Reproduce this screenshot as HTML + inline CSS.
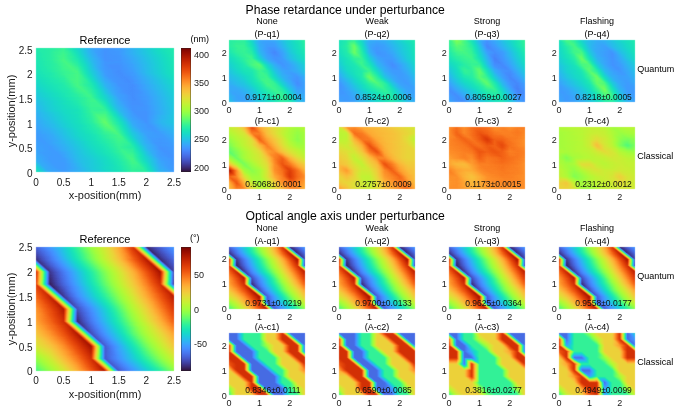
<!DOCTYPE html>
<html lang="en"><head><meta charset="utf-8"><title>Phase retardance and optical angle axis under perturbance</title>
<style>
html,body{margin:0;padding:0;background:#fff}
body{width:680px;height:411px;position:relative;overflow:hidden;font-family:"Liberation Sans",sans-serif;color:#1a1a1a}
.h{position:absolute;overflow:hidden}
.h i{display:block;width:100%;height:1px}
.g{filter:url(#t)}
.t{position:absolute;white-space:nowrap;line-height:1;transform:translate(-50%,0)}
.r{position:absolute;white-space:nowrap;line-height:1;transform:translate(-100%,0)}
.l{position:absolute;white-space:nowrap;line-height:1}
.v{position:absolute;white-space:nowrap;line-height:1;transform:translate(-50%,-50%) rotate(-90deg)}
</style></head>
<body>
<svg width="0" height="0" style="position:absolute" aria-hidden="true"><filter id="t" color-interpolation-filters="sRGB" x="-2%" y="-2%" width="104%" height="104%"><feComponentTransfer><feFuncR type="table" tableValues=".190 .195 .200 .204 .209 .213 .217 .221 .225 .229 .232 .236 .239 .242 .245 .248 .251 .254 .256 .259 .261 .263 .265 .267 .268 .270 .271 .272 .273 .274 .275 .276 .276 .277 .277 .277 .277 .277 .276 .276 .275 .275 .274 .273 .271 .269 .266 .263 .259 .254 .249 .244 .239 .233 .227 .220 .214 .207 .200 .193 .186 .179 .172 .165 .158 .152 .145 .139 .133 .127 .122 .116 .112 .107 .104 .100 .098 .095 .094 .093 .093 .093 .095 .097 .100 .103 .108 .114 .120 .127 .135 .144 .153 .163 .174 .185 .197 .209 .221 .234 .248 .262 .276 .290 .305 .320 .335 .350 .366 .381 .397 .412 .428 .443 .459 .474 .489 .504 .518 .533 .547 .560 .574 .586 .599 .611 .622 .633 .644 .654 .664 .675 .685 .695 .706 .716 .726 .736 .746 .756 .766 .776 .786 .795 .805 .814 .823 .832 .841 .850 .859 .867 .875 .883 .891 .899 .906 .913 .920 .927 .933 .939 .945 .950 .956 .960 .965 .969 .973 .977 .980 .983 .985 .988 .990 .992 .993 .994 .995 .996 .997 .997 .997 .996 .996 .995 .994 .993 .992 .990 .988 .986 .984 .981 .978 .975 .972 .969 .966 .962 .958 .954 .950 .945 .941 .936 .931 .926 .921 .916 .910 .905 .899 .893 .887 .881 .874 .868 .861 .854 .847 .839 .832 .824 .816 .808 .800 .791 .783 .774 .765 .756 .746 .737 .727 .717 .707 .697 .686 .675 .664 .653 .642 .631 .619 .607 .596 .583 .571 .559 .546 .533 .520 .507 .493 .480"/><feFuncG type="table" tableValues=".072 .083 .095 .107 .118 .129 .141 .152 .164 .175 .186 .197 .208 .219 .230 .241 .252 .263 .274 .285 .296 .306 .317 .328 .338 .349 .359 .370 .380 .390 .401 .411 .421 .431 .441 .452 .462 .472 .481 .491 .501 .511 .521 .530 .540 .550 .560 .570 .580 .589 .599 .609 .619 .629 .639 .649 .659 .669 .678 .688 .698 .707 .717 .726 .736 .745 .754 .763 .772 .780 .789 .797 .806 .814 .822 .830 .837 .845 .852 .859 .866 .872 .878 .885 .890 .896 .901 .907 .912 .917 .922 .927 .932 .936 .941 .945 .949 .953 .957 .961 .964 .968 .971 .974 .977 .980 .982 .985 .987 .989 .991 .993 .994 .996 .997 .998 .998 .999 .999 .999 .999 .999 .998 .997 .996 .995 .994 .992 .990 .988 .985 .982 .979 .976 .973 .969 .965 .960 .956 .951 .946 .941 .936 .930 .925 .919 .913 .906 .900 .893 .887 .880 .873 .866 .858 .851 .843 .836 .828 .820 .812 .804 .796 .788 .780 .772 .764 .755 .747 .738 .730 .721 .713 .703 .694 .684 .674 .664 .653 .643 .632 .621 .610 .598 .587 .575 .564 .552 .540 .529 .517 .505 .493 .481 .469 .457 .446 .434 .422 .411 .400 .388 .377 .366 .356 .345 .335 .325 .315 .305 .296 .287 .278 .270 .262 .253 .245 .237 .229 .222 .214 .207 .199 .192 .185 .178 .171 .164 .157 .150 .144 .137 .131 .125 .119 .113 .107 .101 .095 .090 .084 .079 .074 .069 .064 .059 .054 .049 .045 .040 .036 .032 .028 .024 .020 .016"/><feFuncB type="table" tableValues=".232 .261 .290 .318 .346 .373 .400 .426 .451 .476 .500 .524 .547 .569 .591 .613 .634 .654 .674 .693 .712 .730 .747 .764 .780 .796 .812 .826 .840 .854 .867 .879 .891 .903 .913 .923 .933 .942 .951 .959 .966 .973 .979 .985 .989 .993 .996 .998 .999 .999 .998 .997 .995 .992 .989 .984 .980 .974 .968 .962 .955 .948 .940 .932 .923 .914 .905 .895 .886 .876 .866 .856 .845 .835 .824 .814 .803 .793 .783 .772 .762 .752 .743 .733 .724 .715 .706 .697 .687 .676 .666 .654 .643 .631 .619 .607 .595 .582 .569 .556 .543 .530 .517 .503 .490 .477 .463 .450 .437 .424 .411 .398 .386 .373 .361 .350 .338 .327 .316 .306 .296 .286 .277 .268 .260 .253 .246 .239 .234 .228 .224 .220 .216 .213 .210 .208 .206 .205 .204 .203 .203 .203 .203 .204 .205 .206 .207 .208 .209 .211 .212 .214 .216 .217 .219 .220 .222 .223 .225 .226 .227 .227 .228 .228 .228 .228 .228 .227 .225 .224 .222 .219 .216 .214 .210 .207 .203 .200 .196 .192 .187 .183 .178 .174 .169 .164 .159 .154 .149 .144 .139 .134 .128 .123 .118 .113 .108 .103 .098 .093 .088 .084 .079 .075 .070 .066 .062 .058 .055 .051 .048 .045 .042 .040 .038 .035 .033 .031 .029 .027 .025 .023 .021 .020 .018 .017 .015 .014 .013 .011 .010 .009 .009 .008 .007 .006 .006 .005 .005 .004 .004 .004 .004 .004 .004 .004 .005 .005 .005 .006 .006 .007 .008 .009 .010 .011"/></feComponentTransfer><feConvolveMatrix order="3" divisor="1" edgeMode="none" preserveAlpha="false" kernelMatrix="0.0113 0.0838 0.0113 0.0838 0.6193 0.0838 0.0113 0.0838 0.0113"/></filter></svg>
<span class="t" style="left:345.20px;top:3.67px;font-size:12.20px;color:#000">Phase retardance under perturbance</span>
<span class="t" style="left:345.20px;top:210.27px;font-size:12.20px;color:#000">Optical angle axis under perturbance</span>
<div class="h g" style="left:36px;top:48px;width:138px;height:124px"><i style="background:linear-gradient(90deg,#595959 0,#5c5c5c 14.4px,#616161 28.2px,#383838 55.8px,#303030 69.6px,#333 83.4px,#525252 124.8px,#595959)"></i><i style="background:linear-gradient(90deg,#595959 0,#5d5d5d 15.5px,#626262 27.6px,#373737 56.9px,#303030 70.7px,#343434 84.5px,#525252 125.9px,#595959)"></i><i style="background:linear-gradient(90deg,#595959 0,#5c5c5c 13.8px,#626262 27.6px,#5f5f5f 30.4px,#3a3a3a 55.2px,#373737 58px,#303030 69px,#343434 85.6px,#535353 127px,#595959)"></i><i style="background:linear-gradient(90deg,#595959 0,#5c5c5c 13.8px,#5f5f5f 17.7px,#626262 27.6px,#5f5f5f 31.5px,#505050 41.4px,#494949 45.3px,#3a3a3a 55.2px,#363636 59.1px,#303030 69px,#323232 82.8px,#535353 128.1px,#595959)"></i><i style="background:linear-gradient(90deg,#585858 0,#5c5c5c 13.8px,#606060 18.8px,#636363 27.6px,#5e5e5e 32.6px,#515151 41.4px,#484848 46.4px,#3b3b3b 55.2px,#353535 60.2px,#303030 69px,#323232 82.8px,#535353 129.2px,#585858)"></i><i style="background:linear-gradient(90deg,#585858 0,#5c5c5c 13.8px,#606060 19.9px,#636363 27.6px,#5e5e5e 33.7px,#525252 41.4px,#474747 47.5px,#3b3b3b 55.2px,#353535 61.3px,#303030 69px,#323232 82.8px,#545454 130.3px,#585858)"></i><i style="background:linear-gradient(90deg,#585858 0,#5c5c5c 13.8px,#616161 21px,#646464 27.6px,#5d5d5d 34.8px,#535353 41.4px,#464646 48.6px,#3c3c3c 55.2px,#343434 62.4px,#303030 69px,#323232 82.8px,#454545 110.4px,#585858)"></i><i style="background:linear-gradient(90deg,#585858 0,#5c5c5c 13.8px,#626262 22.1px,#646464 27.6px,#5c5c5c 35.9px,#545454 41.4px,#454545 49.7px,#3d3d3d 55.2px,#333 63.5px,#303030 69px,#313131 82.8px,#404040 104.9px,#585858)"></i><i style="background:linear-gradient(90deg,#585858 0,#5c5c5c 13.8px,#636363 23.3px,#646464 27.6px,#5c5c5c 37.1px,#555 41.4px,#444 50.9px,#3d3d3d 55.2px,#333 64.7px,#303030 69px,#313131 82.8px,#3a3a3a 96.6px,#585858)"></i><i style="background:linear-gradient(90deg,#575757 0,#5c5c5c 13.8px,#656565 27.6px,#5b5b5b 38.2px,#3e3e3e 55.2px,#323232 65.8px,#303030 69px,#313131 82.8px,#393939 96.6px,#575757)"></i><i style="background:linear-gradient(90deg,#575757 0,#5c5c5c 13.8px,#656565 27.6px,#575757 41.4px,#3f3f3f 55.2px,#303030 69px,#313131 82.8px,#393939 96.6px,#575757)"></i><i style="background:linear-gradient(90deg,#575757 0,#5c5c5c 13.8px,#666 27.6px,#585858 41.4px,#3f3f3f 55.2px,#303030 69px,#313131 82.8px,#383838 96.6px,#575757)"></i><i style="background:linear-gradient(90deg,#575757 0,#5c5c5c 13.9px,#666 27.7px,#595959 41.5px,#404040 55.3px,#303030 69.1px,#303030 82.9px,#383838 96.7px,#575757)"></i><i style="background:linear-gradient(90deg,#565656 0,#5c5c5c 15px,#666 28.8px,#5a5a5a 41.4px,#3f3f3f 56.4px,#303030 70.2px,#313131 84px,#393939 97.8px,#565656)"></i><i style="background:linear-gradient(90deg,#565656 0,#5d5d5d 16.1px,#666 29.9px,#5b5b5b 41.4px,#3e3e3e 57.5px,#313131 69px,#313131 85.1px,#393939 98.9px,#565656)"></i><i style="background:linear-gradient(90deg,#565656 0,#5d5d5d 17.2px,#666 31.1px,#5c5c5c 41.4px,#3d3d3d 58.6px,#313131 69px,#303030 82.8px,#373737 96.6px,#565656)"></i><i style="background:linear-gradient(90deg,#565656 0,#5d5d5d 18.4px,#646464 27.6px,#666 32.2px,#5d5d5d 41.4px,#3c3c3c 59.8px,#313131 69px,#303030 73.6px,#303030 82.8px,#363636 96.6px,#565656)"></i><i style="background:linear-gradient(90deg,#565656 0,#5e5e5e 19.5px,#646464 27.6px,#666 33.3px,#5e5e5e 41.4px,#444 55.2px,#3b3b3b 60.9px,#313131 69px,#2f2f2f 74.7px,#2f2f2f 82.8px,#363636 96.6px,#565656)"></i><i style="background:linear-gradient(90deg,#555 0,#5e5e5e 20.6px,#636363 27.6px,#666 34.4px,#606060 41.4px,#454545 55.2px,#393939 62px,#323232 69px,#2f2f2f 75.8px,#2f2f2f 82.8px,#363636 96.6px,#505050 131px,#555)"></i><i style="background:linear-gradient(90deg,#555 0,#5f5f5f 21.7px,#636363 27.6px,#666 35.5px,#616161 41.4px,#464646 55.2px,#383838 63.1px,#323232 69px,#2f2f2f 76.9px,#2f2f2f 82.8px,#353535 96.6px,#474747 118.3px,#555)"></i><i style="background:linear-gradient(90deg,#555 0,#5f5f5f 22.8px,#636363 27.6px,#666 36.6px,#626262 41.4px,#464646 55.2px,#373737 64.2px,#323232 69px,#2f2f2f 78px,#2f2f2f 82.8px,#353535 96.6px,#474747 119.4px,#555)"></i><i style="background:linear-gradient(90deg,#555 0,#5a5a5a 13.8px,#626262 27.6px,#666 37.7px,#636363 41.4px,#474747 55.2px,#363636 65.3px,#323232 69px,#2f2f2f 82.8px,#343434 96.6px,#404040 110.4px,#555)"></i><i style="background:linear-gradient(90deg,#555 0,#5a5a5a 13.8px,#626262 27.6px,#666 38.8px,#646464 41.4px,#484848 55.2px,#353535 66.4px,#333 69px,#2e2e2e 82.8px,#343434 96.6px,#404040 110.4px,#555)"></i><i style="background:linear-gradient(90deg,#545454 0,#5a5a5a 13.8px,#616161 27.6px,#666 40px,#656565 41.4px,#494949 55.2px,#333 69px,#2e2e2e 82.8px,#343434 96.6px,#404040 110.4px,#545454)"></i><i style="background:linear-gradient(90deg,#545454 0,#595959 13.8px,#616161 27.6px,#666 41.4px,#4a4a4a 55.2px,#333 69px,#2e2e2e 82.8px,#333 96.6px,#404040 110.4px,#545454)"></i><i style="background:linear-gradient(90deg,#545454 0,#595959 14.6px,#616161 28.4px,#656565 42.2px,#494949 56px,#333 69.8px,#2e2e2e 83.6px,#333 97.4px,#404040 111.2px,#545454)"></i><i style="background:linear-gradient(90deg,#535353 0,#595959 15.7px,#626262 29.5px,#666 41.4px,#646464 43.3px,#484848 57.1px,#343434 69px,#2e2e2e 84.7px,#343434 98.5px,#404040 112.3px,#535353)"></i><i style="background:linear-gradient(90deg,#525252 0,#5f5f5f 27.6px,#626262 30.6px,#666 41.4px,#636363 44.4px,#474747 58.2px,#353535 69px,#323232 72px,#2e2e2e 85.8px,#343434 99.6px,#404040 113.4px,#525252)"></i><i style="background:linear-gradient(90deg,#525252 0,#5f5f5f 27.6px,#626262 31.7px,#666 41.4px,#626262 45.5px,#464646 59.3px,#363636 69px,#323232 73.1px,#2e2e2e 86.9px,#313131 96.6px,#4b4b4b 128.3px,#525252)"></i><i style="background:linear-gradient(90deg,#515151 0,#5e5e5e 27.6px,#636363 32.8px,#666 41.4px,#616161 46.6px,#454545 60.4px,#373737 69px,#323232 74.2px,#2e2e2e 88px,#313131 96.6px,#4b4b4b 129.4px,#515151)"></i><i style="background:linear-gradient(90deg,#515151 0,#5d5d5d 27.6px,#636363 33.9px,#666 41.4px,#606060 47.7px,#444 61.5px,#383838 69px,#323232 75.3px,#2e2e2e 89.1px,#313131 96.6px,#515151)"></i><i style="background:linear-gradient(90deg,#505050 0,#5d5d5d 27.6px,#646464 35.1px,#666 41.4px,#5f5f5f 48.9px,#434343 62.7px,#393939 69px,#323232 76.5px,#2e2e2e 90.3px,#303030 96.6px,#505050)"></i><i style="background:linear-gradient(90deg,#4f4f4f 0,#5c5c5c 27.6px,#646464 36.2px,#666 41.4px,#5e5e5e 50px,#424242 63.8px,#393939 69px,#313131 77.6px,#2e2e2e 91.4px,#303030 96.6px,#4f4f4f)"></i><i style="background:linear-gradient(90deg,#4f4f4f 0,#565656 13.8px,#5c5c5c 27.6px,#646464 37.3px,#666 41.4px,#5d5d5d 51.1px,#414141 64.9px,#3a3a3a 69px,#313131 78.7px,#2e2e2e 92.5px,#2f2f2f 96.6px,#4f4f4f)"></i><i style="background:linear-gradient(90deg,#4e4e4e 0,#555 13.8px,#5b5b5b 27.6px,#656565 38.4px,#666 41.4px,#5c5c5c 52.2px,#3b3b3b 69px,#313131 79.8px,#2e2e2e 93.6px,#3a3a3a 110.4px,#4e4e4e)"></i><i style="background:linear-gradient(90deg,#4e4e4e 0,#555 13.8px,#5a5a5a 27.6px,#666 41.4px,#5b5b5b 53.3px,#3c3c3c 69px,#303030 82.8px,#2f2f2f 96.6px,#4e4e4e)"></i><i style="background:linear-gradient(90deg,#4d4d4d 0,#545454 13.8px,#5a5a5a 27.6px,#666 41.4px,#585858 55.2px,#3d3d3d 69px,#303030 82.8px,#2e2e2e 96.6px,#4d4d4d)"></i><i style="background:linear-gradient(90deg,#4c4c4c 0,#545454 14.1px,#595959 27.9px,#666 41.7px,#595959 55.5px,#3d3d3d 69.3px,#303030 83.1px,#2e2e2e 96.9px,#4c4c4c)"></i><i style="background:linear-gradient(90deg,#4c4c4c 0,#545454 15.2px,#5a5a5a 29px,#666 42.8px,#585858 56.6px,#3c3c3c 70.4px,#303030 84.2px,#2e2e2e 98px,#4c4c4c)"></i><i style="background:linear-gradient(90deg,#4b4b4b 0,#545454 16.4px,#5a5a5a 30.2px,#666 44px,#5b5b5b 55.2px,#3c3c3c 71.6px,#303030 85.4px,#2e2e2e 96.6px,#4c4c4c)"></i><i style="background:linear-gradient(90deg,#4a4a4a 0,#545454 17.5px,#5a5a5a 31.3px,#656565 45.1px,#5c5c5c 55.2px,#3b3b3b 72.7px,#303030 86.5px,#2e2e2e 96.6px,#373737 110.4px,#4b4b4b)"></i><i style="background:linear-gradient(90deg,#4a4a4a 0,#545454 18.6px,#5a5a5a 32.4px,#626262 41.4px,#656565 46.2px,#5d5d5d 55.2px,#555 60px,#434343 69px,#3b3b3b 73.8px,#323232 82.8px,#303030 87.6px,#2e2e2e 96.6px,#303030 101.4px,#4b4b4b)"></i><i style="background:linear-gradient(90deg,#494949 0,#545454 19.7px,#5a5a5a 33.5px,#626262 41.4px,#656565 47.3px,#5e5e5e 55.2px,#545454 61.1px,#444 69px,#3a3a3a 74.9px,#333 82.8px,#2f2f2f 88.7px,#2e2e2e 96.6px,#303030 102.5px,#4a4a4a)"></i><i style="background:linear-gradient(90deg,#494949 0,#5b5b5b 34.6px,#616161 41.4px,#656565 48.4px,#5e5e5e 55.2px,#535353 62.2px,#454545 69px,#393939 76px,#333 82.8px,#2f2f2f 89.8px,#2e2e2e 96.6px,#303030 103.6px,#4a4a4a)"></i><i style="background:linear-gradient(90deg,#484848 0,#5b5b5b 35.7px,#606060 41.4px,#646464 49.5px,#5f5f5f 55.2px,#525252 63.3px,#464646 69px,#393939 77.1px,#333 82.8px,#2f2f2f 90.9px,#2e2e2e 96.6px,#313131 104.7px,#494949)"></i><i style="background:linear-gradient(90deg,#474747 0,#5b5b5b 36.8px,#5f5f5f 41.4px,#646464 50.6px,#606060 55.2px,#515151 64.4px,#474747 69px,#383838 78.2px,#343434 82.8px,#2f2f2f 92px,#2e2e2e 96.6px,#313131 105.8px,#494949)"></i><i style="background:linear-gradient(90deg,#474747 0,#5b5b5b 38px,#646464 51.8px,#616161 55.2px,#373737 79.3px,#2f2f2f 93.2px,#2e2e2e 96.6px,#343434 110.4px,#494949)"></i><i style="background:linear-gradient(90deg,#464646 0,#646464 52.9px,#626262 55.2px,#373737 80.5px,#2e2e2e 96.6px,#343434 110.4px,#484848)"></i><i style="background:linear-gradient(90deg,#464646 0,#646464 54px,#353535 82.8px,#2e2e2e 96.6px,#333 110.4px,#484848)"></i><i style="background:linear-gradient(90deg,#454545 0,#636363 55.2px,#363636 82.8px,#2e2e2e 96.6px,#333 110.4px,#474747)"></i><i style="background:linear-gradient(90deg,#444 0,#636363 56.2px,#353535 83.8px,#2e2e2e 97.6px,#343434 111.4px,#474747)"></i><i style="background:linear-gradient(90deg,#444 0,#636363 55.2px,#636363 57.3px,#505050 69px,#4b4b4b 71.1px,#353535 84.9px,#2e2e2e 98.7px,#343434 112.5px,#474747)"></i><i style="background:linear-gradient(90deg,#434343 0,#5a5a5a 41.4px,#636363 55.2px,#636363 58.4px,#515151 69px,#4a4a4a 72.2px,#383838 82.8px,#343434 86px,#2e2e2e 96.6px,#323232 110.4px,#474747)"></i><i style="background:linear-gradient(90deg,#424242 0,#595959 41.4px,#5d5d5d 45.7px,#636363 55.2px,#636363 59.5px,#535353 69px,#484848 73.3px,#393939 82.8px,#343434 87.1px,#2f2f2f 96.6px,#2f2f2f 100.9px,#323232 110.4px,#474747)"></i><i style="background:linear-gradient(90deg,#424242 0,#595959 41.4px,#5e5e5e 46.9px,#626262 55.2px,#626262 60.7px,#555 69px,#474747 74.5px,#3a3a3a 82.8px,#343434 88.3px,#2f2f2f 96.6px,#2f2f2f 102.1px,#323232 110.4px,#464646)"></i><i style="background:linear-gradient(90deg,#414141 0,#525252 27.6px,#585858 41.4px,#5e5e5e 48px,#626262 55.2px,#626262 61.8px,#565656 69px,#464646 75.6px,#3a3a3a 82.8px,#333 89.4px,#2f2f2f 96.6px,#2f2f2f 103.2px,#323232 110.4px,#464646)"></i><i style="background:linear-gradient(90deg,#414141 0,#4e4e4e 21.5px,#585858 41.4px,#5f5f5f 49.1px,#626262 55.2px,#626262 62.9px,#585858 69px,#454545 76.7px,#3b3b3b 82.8px,#333 90.5px,#2f2f2f 96.6px,#2f2f2f 104.3px,#323232 110.4px,#464646)"></i><i style="background:linear-gradient(90deg,#404040 0,#4e4e4e 22.6px,#575757 41.4px,#5f5f5f 50.2px,#626262 55.2px,#626262 64px,#595959 69px,#444 77.8px,#3c3c3c 82.8px,#323232 91.6px,#303030 96.6px,#303030 105.4px,#313131 110.4px,#464646)"></i><i style="background:linear-gradient(90deg,#3f3f3f 0,#494949 13.8px,#505050 27.6px,#565656 41.4px,#5f5f5f 51.3px,#626262 55.2px,#626262 65.1px,#5b5b5b 69px,#434343 78.9px,#3d3d3d 82.8px,#323232 92.7px,#303030 96.6px,#303030 106.5px,#313131 110.4px,#464646)"></i><i style="background:linear-gradient(90deg,#3f3f3f 0,#484848 13.8px,#505050 27.6px,#565656 41.4px,#616161 55.2px,#616161 66.2px,#5d5d5d 69px,#424242 80px,#3e3e3e 82.8px,#313131 93.8px,#303030 96.6px,#313131 110.4px,#454545)"></i><i style="background:linear-gradient(90deg,#3e3e3e 0,#484848 13.8px,#505050 27.6px,#555 41.4px,#616161 55.2px,#616161 67.3px,#5e5e5e 69px,#414141 81.1px,#303030 96.6px,#313131 110.4px,#454545)"></i><i style="background:linear-gradient(90deg,#3e3e3e 0,#484848 13.8px,#4f4f4f 27.6px,#545454 41.4px,#616161 55.2px,#606060 69px,#3f3f3f 82.8px,#303030 96.6px,#313131 110.4px,#454545)"></i><i style="background:linear-gradient(90deg,#3d3d3d 0,#484848 14.4px,#4f4f4f 28.2px,#545454 42px,#616161 55.8px,#606060 69.6px,#3f3f3f 83.4px,#303030 97.2px,#313131 111px,#454545)"></i><i style="background:linear-gradient(90deg,#3d3d3d 0,#484848 15.5px,#4f4f4f 29.3px,#555 43.1px,#626262 56.9px,#626262 69px,#606060 70.7px,#3f3f3f 84.5px,#303030 98.3px,#303030 110.4px,#454545)"></i><i style="background:linear-gradient(90deg,#3c3c3c 0,#4e4e4e 27.6px,#565656 44.2px,#636363 58px,#636363 69px,#5f5f5f 71.8px,#3e3e3e 85.6px,#323232 96.6px,#303030 99.4px,#303030 110.4px,#454545)"></i><i style="background:linear-gradient(90deg,#3c3c3c 0,#4e4e4e 27.6px,#565656 45.3px,#5f5f5f 55.2px,#646464 59.1px,#646464 69px,#5e5e5e 72.9px,#3e3e3e 86.7px,#333 96.6px,#303030 100.5px,#303030 110.4px,#454545)"></i><i style="background:linear-gradient(90deg,#3b3b3b 0,#4d4d4d 27.6px,#535353 41.4px,#5f5f5f 55.2px,#666 60.2px,#666 69px,#5d5d5d 74px,#3d3d3d 87.8px,#333 96.6px,#303030 101.6px,#303030 110.4px,#454545)"></i><i style="background:linear-gradient(90deg,#3b3b3b 0,#4d4d4d 27.6px,#535353 41.4px,#5f5f5f 55.2px,#676767 61.3px,#676767 69px,#5c5c5c 75.1px,#3c3c3c 88.9px,#343434 96.6px,#303030 102.7px,#303030 110.4px,#3c3c3c 124.2px,#454545)"></i><i style="background:linear-gradient(90deg,#3b3b3b 0,#505050 34.8px,#535353 41.4px,#5e5e5e 55.2px,#686868 62.4px,#686868 69px,#5c5c5c 76.2px,#3c3c3c 90px,#343434 96.6px,#303030 103.8px,#303030 110.4px,#3c3c3c 124.2px,#454545)"></i><i style="background:linear-gradient(90deg,#3a3a3a 0,#515151 35.9px,#535353 41.4px,#5e5e5e 55.2px,#696969 63.5px,#696969 69px,#5b5b5b 77.3px,#3b3b3b 91.1px,#353535 96.6px,#303030 104.9px,#303030 110.4px,#3c3c3c 124.2px,#454545)"></i><i style="background:linear-gradient(90deg,#3a3a3a 0,#424242 13.8px,#4c4c4c 27.6px,#525252 41.4px,#5d5d5d 55.2px,#6a6a6a 64.7px,#6a6a6a 69px,#5a5a5a 78.5px,#3b3b3b 92.3px,#363636 96.6px,#303030 106.1px,#303030 110.4px,#3c3c3c 124.2px,#454545)"></i><i style="background:linear-gradient(90deg,#393939 0,#424242 13.8px,#4b4b4b 27.6px,#525252 41.4px,#5d5d5d 55.2px,#6b6b6b 65.8px,#6b6b6b 69px,#595959 79.6px,#3a3a3a 93.4px,#363636 96.6px,#303030 107.2px,#303030 110.4px,#3d3d3d 124.2px,#454545)"></i><i style="background:linear-gradient(90deg,#393939 0,#414141 13.8px,#4b4b4b 27.6px,#525252 41.4px,#5d5d5d 55.2px,#6c6c6c 66.9px,#6c6c6c 69px,#585858 80.7px,#393939 94.5px,#303030 108.3px,#303030 110.4px,#3d3d3d 124.2px,#454545)"></i><i style="background:linear-gradient(90deg,#383838 0,#404040 13.8px,#4a4a4a 27.6px,#525252 41.4px,#5c5c5c 55.2px,#6d6d6d 68px,#6d6d6d 69px,#555 82.8px,#393939 95.6px,#303030 110.4px,#3d3d3d 124.2px,#454545)"></i><i style="background:linear-gradient(90deg,#383838 0,#404040 13.9px,#4a4a4a 27.7px,#525252 41.5px,#5c5c5c 55.3px,#6e6e6e 69.1px,#575757 82.9px,#383838 96.7px,#303030 110.5px,#3d3d3d 124.3px,#454545)"></i><i style="background:linear-gradient(90deg,#383838 0,#404040 15px,#4a4a4a 28.8px,#525252 42.6px,#5c5c5c 56.4px,#6d6d6d 70.2px,#555 84px,#393939 96.6px,#313131 111.6px,#3d3d3d 125.4px,#444)"></i><i style="background:linear-gradient(90deg,#373737 0,#404040 16.1px,#4a4a4a 29.9px,#525252 43.7px,#5c5c5c 57.5px,#6b6b6b 69px,#6c6c6c 71.3px,#595959 82.8px,#3b3b3b 96.6px,#383838 98.9px,#313131 112.7px,#3d3d3d 126.5px,#434343)"></i><i style="background:linear-gradient(90deg,#373737 0,#404040 17.2px,#4b4b4b 31.1px,#525252 44.9px,#5c5c5c 58.6px,#6a6a6a 69px,#6c6c6c 72.5px,#5b5b5b 82.8px,#3c3c3c 96.6px,#373737 100px,#313131 113.8px,#3d3d3d 127.7px,#424242)"></i><i style="background:linear-gradient(90deg,#363636 0,#414141 18.4px,#4b4b4b 32.2px,#525252 46px,#5d5d5d 59.8px,#696969 69px,#6b6b6b 73.6px,#5c5c5c 82.8px,#3d3d3d 96.6px,#373737 101.2px,#323232 110.4px,#313131 115px,#3a3a3a 124.2px,#414141)"></i><i style="background:linear-gradient(90deg,#363636 0,#3d3d3d 13.8px,#4b4b4b 33.3px,#595959 55.2px,#5d5d5d 60.9px,#676767 69px,#6b6b6b 74.7px,#5d5d5d 82.8px,#3e3e3e 96.6px,#373737 102.3px,#333 110.4px,#313131 116.1px,#393939 124.2px,#414141)"></i><i style="background:linear-gradient(90deg,#363636 0,#3c3c3c 13.8px,#4f4f4f 41.4px,#5d5d5d 62px,#666 69px,#6a6a6a 75.8px,#5e5e5e 82.8px,#404040 96.6px,#373737 103.4px,#333 110.4px,#323232 117.2px,#383838 124.2px,#404040)"></i><i style="background:linear-gradient(90deg,#353535 0,#3b3b3b 13.8px,#4f4f4f 41.4px,#5d5d5d 63.1px,#656565 69px,#696969 76.9px,#5f5f5f 82.8px,#414141 96.6px,#373737 104.5px,#333 110.4px,#323232 118.3px,#373737 124.2px,#3f3f3f)"></i><i style="background:linear-gradient(90deg,#353535 0,#3b3b3b 13.8px,#4e4e4e 41.4px,#5d5d5d 64.2px,#646464 69px,#696969 78px,#616161 82.8px,#424242 96.6px,#363636 105.6px,#343434 110.4px,#323232 119.4px,#373737 124.2px,#3e3e3e)"></i><i style="background:linear-gradient(90deg,#343434 0,#3a3a3a 13.8px,#4e4e4e 41.4px,#565656 55.2px,#5e5e5e 65.3px,#626262 69px,#686868 79.1px,#626262 82.8px,#434343 96.6px,#363636 106.7px,#323232 120.5px,#3b3b3b 134.3px,#3d3d3d)"></i><i style="background:linear-gradient(90deg,#343434 0,#3a3a3a 13.8px,#4d4d4d 41.4px,#565656 55.2px,#5e5e5e 66.4px,#616161 69px,#676767 80.2px,#636363 82.8px,#454545 96.6px,#363636 107.8px,#333 121.6px,#3d3d3d)"></i><i style="background:linear-gradient(90deg,#343434 0,#393939 13.8px,#4d4d4d 41.4px,#555 55.2px,#606060 69px,#676767 81.4px,#464646 96.6px,#353535 110.4px,#333 122.8px,#3c3c3c)"></i><i style="background:linear-gradient(90deg,#333 0,#383838 13.8px,#4d4d4d 41.4px,#545454 55.2px,#5f5f5f 69px,#666 82.8px,#474747 96.6px,#353535 110.4px,#333 124.2px,#3b3b3b)"></i><i style="background:linear-gradient(90deg,#333 0,#383838 14.6px,#4d4d4d 42.2px,#545454 56px,#5e5e5e 69.8px,#656565 83.6px,#474747 97.4px,#353535 111.2px,#333 125px,#3a3a3a)"></i><i style="background:linear-gradient(90deg,#333 0,#383838 15.7px,#4d4d4d 43.3px,#545454 57.1px,#5f5f5f 70.9px,#656565 82.8px,#656565 84.7px,#464646 98.5px,#353535 112.3px,#333 126.1px,#3a3a3a)"></i><i style="background:linear-gradient(90deg,#343434 0,#333 3px,#393939 16.8px,#4d4d4d 44.4px,#555 58.2px,#5f5f5f 72px,#656565 82.8px,#646464 85.8px,#454545 99.6px,#343434 113.4px,#333 127.2px,#393939)"></i><i style="background:linear-gradient(90deg,#343434 0,#333 4.1px,#393939 17.9px,#4d4d4d 45.5px,#555 59.3px,#5f5f5f 73.1px,#646464 82.8px,#636363 86.9px,#444 100.7px,#383838 110.4px,#343434 114.5px,#323232 124.2px,#333 128.3px,#383838)"></i><i style="background:linear-gradient(90deg,#343434 0,#333 5.2px,#393939 19px,#4d4d4d 46.6px,#5b5b5b 69px,#646464 82.8px,#626262 88px,#444 101.8px,#383838 110.4px,#343434 115.6px,#323232 124.2px,#333 129.4px,#383838)"></i><i style="background:linear-gradient(90deg,#343434 0,#333 6.3px,#393939 20.1px,#4e4e4e 47.7px,#5b5b5b 69px,#646464 82.8px,#616161 89.1px,#434343 102.9px,#393939 110.4px,#333 116.7px,#323232 124.2px,#333 130.5px,#373737)"></i><i style="background:linear-gradient(90deg,#343434 0,#333 7.5px,#393939 21.3px,#515151 55.2px,#636363 82.8px,#606060 90.3px,#424242 104.1px,#3a3a3a 110.4px,#333 117.9px,#323232 124.2px,#333 131.7px,#373737)"></i><i style="background:linear-gradient(90deg,#353535 0,#333 8.6px,#3e3e3e 27.6px,#515151 55.2px,#636363 82.8px,#606060 91.4px,#414141 105.2px,#3a3a3a 110.4px,#323232 119px,#313131 124.2px,#333 132.8px,#363636)"></i><i style="background:linear-gradient(90deg,#353535 0,#333 9.7px,#3d3d3d 27.6px,#515151 55.2px,#595959 69px,#626262 82.8px,#5f5f5f 92.5px,#404040 106.3px,#3b3b3b 110.4px,#323232 120.1px,#313131 124.2px,#333 133.9px,#353535)"></i><i style="background:linear-gradient(90deg,#353535 0,#333 10.8px,#3c3c3c 27.6px,#505050 55.2px,#585858 69px,#626262 82.8px,#5e5e5e 93.6px,#3f3f3f 107.4px,#323232 121.2px,#333 135px,#353535)"></i><i style="background:linear-gradient(90deg,#353535 0,#343434 13.8px,#3c3c3c 27.6px,#505050 55.2px,#585858 69px,#626262 82.8px,#5d5d5d 94.7px,#3f3f3f 108.5px,#313131 122.3px,#343434)"></i><i style="background:linear-gradient(90deg,#353535 0,#333 13.8px,#3b3b3b 27.6px,#4f4f4f 55.2px,#575757 69px,#616161 82.8px,#5c5c5c 95.8px,#3d3d3d 110.4px,#313131 124.2px,#333)"></i><i style="background:linear-gradient(90deg,#363636 0,#333 14.1px,#3b3b3b 27.9px,#4f4f4f 55.5px,#575757 69.3px,#616161 83.1px,#5b5b5b 96.9px,#3d3d3d 110.7px,#303030 124.5px,#333)"></i><i style="background:linear-gradient(90deg,#363636 0,#333 15.2px,#3b3b3b 29px,#4f4f4f 56.6px,#575757 70.4px,#616161 84.2px,#5d5d5d 96.6px,#3c3c3c 111.8px,#303030 125.6px,#333)"></i><i style="background:linear-gradient(90deg,#363636 0,#333 16.4px,#3c3c3c 30.2px,#4f4f4f 57.8px,#575757 71.6px,#626262 85.4px,#5e5e5e 96.6px,#404040 110.4px,#3c3c3c 113px,#313131 124.2px,#303030 126.8px,#333)"></i><i style="background:linear-gradient(90deg,#373737 0,#333 13.8px,#333 17.5px,#3c3c3c 31.3px,#4f4f4f 58.9px,#575757 72.7px,#626262 86.5px,#5f5f5f 96.6px,#414141 110.4px,#3b3b3b 114.1px,#323232 124.2px,#303030 127.9px,#323232)"></i><i style="background:linear-gradient(90deg,#373737 0,#353535 4.8px,#333 18.6px,#383838 27.6px,#4c4c4c 55.2px,#585858 73.8px,#636363 87.6px,#5f5f5f 96.6px,#565656 101.4px,#434343 110.4px,#3b3b3b 115.2px,#323232 124.2px,#303030 129px,#323232)"></i><i style="background:linear-gradient(90deg,#383838 0,#343434 5.9px,#333 19.7px,#373737 27.6px,#434343 41.4px,#585858 74.9px,#636363 88.7px,#606060 96.6px,#555 102.5px,#444 110.4px,#3a3a3a 116.3px,#333 124.2px,#303030 130.1px,#323232)"></i><i style="background:linear-gradient(90deg,#383838 0,#343434 7px,#333 20.8px,#373737 27.6px,#424242 41.4px,#585858 76px,#636363 89.8px,#616161 96.6px,#545454 103.6px,#454545 110.4px,#393939 117.4px,#333 124.2px,#303030 131.2px,#323232)"></i><i style="background:linear-gradient(90deg,#393939 0,#343434 8.1px,#333 21.9px,#363636 27.6px,#424242 41.4px,#585858 77.1px,#646464 90.9px,#626262 96.6px,#535353 104.7px,#464646 110.4px,#393939 118.5px,#333 124.2px,#303030 132.3px,#313131)"></i><i style="background:linear-gradient(90deg,#393939 0,#343434 9.2px,#333 23px,#363636 27.6px,#414141 41.4px,#525252 69px,#5c5c5c 82.8px,#646464 92px,#636363 96.6px,#525252 105.8px,#474747 110.4px,#383838 119.6px,#343434 124.2px,#303030 133.4px,#313131)"></i><i style="background:linear-gradient(90deg,#393939 0,#333 13.8px,#333 24.1px,#414141 41.4px,#515151 69px,#5b5b5b 82.8px,#656565 93.2px,#636363 96.6px,#494949 110.4px,#373737 120.8px,#343434 124.2px,#303030 134.5px,#313131)"></i><i style="background:linear-gradient(90deg,#3a3a3a 0,#333 13.8px,#333 25.3px,#414141 41.4px,#505050 69px,#5b5b5b 82.8px,#656565 94.3px,#646464 96.6px,#4a4a4a 110.4px,#373737 121.9px,#353535 124.2px,#303030 135.7px,#313131)"></i><i style="background:linear-gradient(90deg,#3a3a3a 0,#333 13.8px,#343434 27.6px,#404040 41.4px,#505050 69px,#5a5a5a 82.8px,#666 95.4px,#656565 96.6px,#4b4b4b 110.4px,#353535 124.2px,#313131)"></i><i style="background:linear-gradient(90deg,#3b3b3b 0,#333 13.8px,#333 27.6px,#404040 41.4px,#4f4f4f 69px,#595959 82.8px,#666 96.6px,#4c4c4c 110.4px,#363636 124.2px,#303030)"></i><i style="background:linear-gradient(90deg,#3d3d3d 0,#3a3a3a 1px,#333 14.8px,#343434 28.6px,#404040 42.4px,#4f4f4f 70px,#5a5a5a 83.8px,#656565 96.6px,#656565 97.6px,#4b4b4b 111.4px,#353535 125.2px,#313131)"></i><i style="background:linear-gradient(90deg,#3f3f3f 0,#3a3a3a 2.1px,#333 15.9px,#343434 29.7px,#414141 43.5px,#505050 71.1px,#5a5a5a 84.9px,#656565 96.6px,#646464 98.7px,#4a4a4a 112.5px,#373737 124.2px,#313131)"></i><i style="background:linear-gradient(90deg,#414141 0,#3a3a3a 3.2px,#333 17px,#333 27.6px,#414141 44.6px,#505050 72.2px,#5a5a5a 86px,#646464 96.6px,#646464 99.8px,#494949 113.6px,#373737 124.2px,#313131)"></i><i style="background:linear-gradient(90deg,#434343 0,#3a3a3a 4.3px,#333 18.1px,#333 27.6px,#353535 31.9px,#414141 45.7px,#515151 73.3px,#5b5b5b 87.1px,#646464 96.6px,#636363 100.9px,#515151 110.4px,#484848 114.7px,#383838 124.2px,#353535 128.5px,#313131)"></i><i style="background:linear-gradient(90deg,#464646 0,#3a3a3a 5.5px,#333 19.3px,#333 27.6px,#363636 33.1px,#424242 46.9px,#515151 74.5px,#636363 96.6px,#626262 102.1px,#535353 110.4px,#464646 115.9px,#393939 124.2px,#353535 129.7px,#313131)"></i><i style="background:linear-gradient(90deg,#484848 0,#393939 6.6px,#333 20.4px,#333 27.6px,#373737 34.2px,#424242 48px,#515151 75.6px,#626262 96.6px,#616161 103.2px,#545454 110.4px,#454545 117px,#393939 124.2px,#343434 130.8px,#323232)"></i><i style="background:linear-gradient(90deg,#4a4a4a 0,#393939 7.7px,#333 21.5px,#333 27.6px,#373737 35.3px,#434343 49.1px,#565656 82.8px,#626262 96.6px,#606060 104.3px,#555 110.4px,#444 118.1px,#3a3a3a 124.2px,#343434 131.9px,#323232)"></i><i style="background:linear-gradient(90deg,#4d4d4d 0,#393939 8.8px,#333 22.6px,#333 27.6px,#383838 36.4px,#464646 55.2px,#565656 82.8px,#616161 96.6px,#606060 105.4px,#565656 110.4px,#434343 119.2px,#3a3a3a 124.2px,#343434 133px,#323232)"></i><i style="background:linear-gradient(90deg,#4f4f4f 0,#393939 9.9px,#333 23.7px,#333 27.6px,#383838 37.5px,#464646 55.2px,#565656 82.8px,#616161 96.6px,#5f5f5f 106.5px,#575757 110.4px,#424242 120.3px,#3b3b3b 124.2px,#343434 134.1px,#323232)"></i><i style="background:linear-gradient(90deg,#515151 0,#393939 11px,#333 27.6px,#3c3c3c 41.4px,#454545 55.2px,#555 82.8px,#606060 96.6px,#5e5e5e 107.6px,#404040 121.4px,#3c3c3c 124.2px,#323232)"></i><i style="background:linear-gradient(90deg,#535353 0,#383838 12.1px,#333 27.6px,#3b3b3b 41.4px,#454545 55.2px,#555 82.8px,#5f5f5f 96.6px,#5d5d5d 108.7px,#3c3c3c 124.2px,#333)"></i><i style="background:linear-gradient(90deg,#565656 0,#383838 13.8px,#333 27.6px,#3b3b3b 41.4px,#454545 55.2px,#545454 82.8px,#5f5f5f 96.6px,#5b5b5b 110.4px,#3d3d3d 124.2px,#333)"></i></div>
<div class="h" style="left:180.6px;top:48px;width:10.4px;height:124px"><i style="height:1px;background:linear-gradient(90deg,#7a0403 12.5%,#7a0403 87.5%)"></i><i style="height:1px;background:linear-gradient(90deg,#810602 12.5%,#810602 87.5%)"></i><i style="height:1px;background:linear-gradient(90deg,#880802 12.5%,#880802 87.5%)"></i><i style="height:1px;background:linear-gradient(90deg,#8f0b01 12.5%,#8f0b01 87.5%)"></i><i style="height:1px;background:linear-gradient(90deg,#960d01 12.5%,#960d01 87.5%)"></i><i style="height:1px;background:linear-gradient(90deg,#9c0f01 12.5%,#9c0f01 87.5%)"></i><i style="height:1px;background:linear-gradient(90deg,#a21201 12.5%,#a21201 87.5%)"></i><i style="height:1px;background:linear-gradient(90deg,#a81501 12.5%,#a81501 87.5%)"></i><i style="height:1px;background:linear-gradient(90deg,#ae1801 12.5%,#ae1801 87.5%)"></i><i style="height:1px;background:linear-gradient(90deg,#b31b01 12.5%,#b31b01 87.5%)"></i><i style="height:1px;background:linear-gradient(90deg,#b91e02 12.5%,#b91e02 87.5%)"></i><i style="height:1px;background:linear-gradient(90deg,#be2102 12.5%,#be2102 87.5%)"></i><i style="height:1px;background:linear-gradient(90deg,#c32403 12.5%,#c32403 87.5%)"></i><i style="height:1px;background:linear-gradient(90deg,#c72803 12.5%,#c72803 87.5%)"></i><i style="height:1px;background:linear-gradient(90deg,#cc2c04 12.5%,#cc2c04 87.5%)"></i><i style="height:1px;background:linear-gradient(90deg,#d02f05 12.5%,#d02f05 87.5%)"></i><i style="height:1px;background:linear-gradient(90deg,#d43306 12.5%,#d43306 87.5%)"></i><i style="height:1px;background:linear-gradient(90deg,#d83706 12.5%,#d83706 87.5%)"></i><i style="height:1px;background:linear-gradient(90deg,#dc3b07 12.5%,#dc3b07 87.5%)"></i><i style="height:1px;background:linear-gradient(90deg,#e03f09 12.5%,#e03f09 87.5%)"></i><i style="height:1px;background:linear-gradient(90deg,#e3440a 12.5%,#e3440a 87.5%)"></i><i style="height:1px;background:linear-gradient(90deg,#e6480b 12.5%,#e6480b 87.5%)"></i><i style="height:1px;background:linear-gradient(90deg,#e94d0d 12.5%,#e94d0d 87.5%)"></i><i style="height:1px;background:linear-gradient(90deg,#ec520f 12.5%,#ec520f 87.5%)"></i><i style="height:1px;background:linear-gradient(90deg,#ee5711 12.5%,#ee5711 87.5%)"></i><i style="height:1px;background:linear-gradient(90deg,#f15d13 12.5%,#f15d13 87.5%)"></i><i style="height:1px;background:linear-gradient(90deg,#f36315 12.5%,#f36315 87.5%)"></i><i style="height:1px;background:linear-gradient(90deg,#f56918 12.5%,#f56918 87.5%)"></i><i style="height:1px;background:linear-gradient(90deg,#f76f1a 12.5%,#f76f1a 87.5%)"></i><i style="height:1px;background:linear-gradient(90deg,#f9751d 12.5%,#f9751d 87.5%)"></i><i style="height:1px;background:linear-gradient(90deg,#fa7b20 12.5%,#fa7b20 87.5%)"></i><i style="height:1px;background:linear-gradient(90deg,#fc8222 12.5%,#fc8222 87.5%)"></i><i style="height:1px;background:linear-gradient(90deg,#fd8825 12.5%,#fd8825 87.5%)"></i><i style="height:1px;background:linear-gradient(90deg,#fd8e28 12.5%,#fd8e28 87.5%)"></i><i style="height:1px;background:linear-gradient(90deg,#fe942a 12.5%,#fe942a 87.5%)"></i><i style="height:1px;background:linear-gradient(90deg,#fe9a2d 12.5%,#fe9a2d 87.5%)"></i><i style="height:1px;background:linear-gradient(90deg,#fea02f 12.5%,#fea02f 87.5%)"></i><i style="height:1px;background:linear-gradient(90deg,#fea632 12.5%,#fea632 87.5%)"></i><i style="height:1px;background:linear-gradient(90deg,#fdab34 12.5%,#fdab34 87.5%)"></i><i style="height:1px;background:linear-gradient(90deg,#fcb136 12.5%,#fcb136 87.5%)"></i><i style="height:1px;background:linear-gradient(90deg,#fbb637 12.5%,#fbb637 87.5%)"></i><i style="height:1px;background:linear-gradient(90deg,#faba39 12.5%,#faba39 87.5%)"></i><i style="height:1px;background:linear-gradient(90deg,#f8bf39 12.5%,#f8bf39 87.5%)"></i><i style="height:1px;background:linear-gradient(90deg,#f6c33a 12.5%,#f6c33a 87.5%)"></i><i style="height:1px;background:linear-gradient(90deg,#f3c73a 12.5%,#f3c73a 87.5%)"></i><i style="height:1px;background:linear-gradient(90deg,#f1cc3a 12.5%,#f1cc3a 87.5%)"></i><i style="height:1px;background:linear-gradient(90deg,#edd03a 12.5%,#edd03a 87.5%)"></i><i style="height:1px;background:linear-gradient(90deg,#ead439 12.5%,#ead439 87.5%)"></i><i style="height:1px;background:linear-gradient(90deg,#e6d838 12.5%,#e6d838 87.5%)"></i><i style="height:1px;background:linear-gradient(90deg,#e2dc38 12.5%,#e2dc38 87.5%)"></i><i style="height:1px;background:linear-gradient(90deg,#dee037 12.5%,#dee037 87.5%)"></i><i style="height:1px;background:linear-gradient(90deg,#d9e336 12.5%,#d9e336 87.5%)"></i><i style="height:1px;background:linear-gradient(90deg,#d5e735 12.5%,#d5e735 87.5%)"></i><i style="height:1px;background:linear-gradient(90deg,#d0ea34 12.5%,#d0ea34 87.5%)"></i><i style="height:1px;background:linear-gradient(90deg,#cbed34 12.5%,#cbed34 87.5%)"></i><i style="height:1px;background:linear-gradient(90deg,#c6f034 12.5%,#c6f034 87.5%)"></i><i style="height:1px;background:linear-gradient(90deg,#c1f334 12.5%,#c1f334 87.5%)"></i><i style="height:1px;background:linear-gradient(90deg,#bbf534 12.5%,#bbf534 87.5%)"></i><i style="height:1px;background:linear-gradient(90deg,#b6f735 12.5%,#b6f735 87.5%)"></i><i style="height:1px;background:linear-gradient(90deg,#b0f937 12.5%,#b0f937 87.5%)"></i><i style="height:1px;background:linear-gradient(90deg,#abfb38 12.5%,#abfb38 87.5%)"></i><i style="height:1px;background:linear-gradient(90deg,#a6fc3b 12.5%,#a6fc3b 87.5%)"></i><i style="height:1px;background:linear-gradient(90deg,#a0fd3e 12.5%,#a0fd3e 87.5%)"></i><i style="height:1px;background:linear-gradient(90deg,#9afe42 12.5%,#9afe42 87.5%)"></i><i style="height:1px;background:linear-gradient(90deg,#93fe46 12.5%,#93fe46 87.5%)"></i><i style="height:1px;background:linear-gradient(90deg,#8cff4b 12.5%,#8cff4b 87.5%)"></i><i style="height:1px;background:linear-gradient(90deg,#85ff50 12.5%,#85ff50 87.5%)"></i><i style="height:1px;background:linear-gradient(90deg,#7dff56 12.5%,#7dff56 87.5%)"></i><i style="height:1px;background:linear-gradient(90deg,#75fe5c 12.5%,#75fe5c 87.5%)"></i><i style="height:1px;background:linear-gradient(90deg,#6dfd63 12.5%,#6dfd63 87.5%)"></i><i style="height:1px;background:linear-gradient(90deg,#65fd69 12.5%,#65fd69 87.5%)"></i><i style="height:1px;background:linear-gradient(90deg,#5dfc70 12.5%,#5dfc70 87.5%)"></i><i style="height:1px;background:linear-gradient(90deg,#54fa77 12.5%,#54fa77 87.5%)"></i><i style="height:1px;background:linear-gradient(90deg,#4df97e 12.5%,#4df97e 87.5%)"></i><i style="height:1px;background:linear-gradient(90deg,#45f785 12.5%,#45f785 87.5%)"></i><i style="height:1px;background:linear-gradient(90deg,#3ef58c 12.5%,#3ef58c 87.5%)"></i><i style="height:1px;background:linear-gradient(90deg,#37f393 12.5%,#37f393 87.5%)"></i><i style="height:1px;background:linear-gradient(90deg,#30f19a 12.5%,#30f19a 87.5%)"></i><i style="height:1px;background:linear-gradient(90deg,#2aefa0 12.5%,#2aefa0 87.5%)"></i><i style="height:1px;background:linear-gradient(90deg,#25eda6 12.5%,#25eda6 87.5%)"></i><i style="height:1px;background:linear-gradient(90deg,#21eaac 12.5%,#21eaac 87.5%)"></i><i style="height:1px;background:linear-gradient(90deg,#1de7b1 12.5%,#1de7b1 87.5%)"></i><i style="height:1px;background:linear-gradient(90deg,#1ae4b6 12.5%,#1ae4b6 87.5%)"></i><i style="height:1px;background:linear-gradient(90deg,#19e1bb 12.5%,#19e1bb 87.5%)"></i><i style="height:1px;background:linear-gradient(90deg,#18dec0 12.5%,#18dec0 87.5%)"></i><i style="height:1px;background:linear-gradient(90deg,#18dbc6 12.5%,#18dbc6 87.5%)"></i><i style="height:1px;background:linear-gradient(90deg,#18d7cb 12.5%,#18d7cb 87.5%)"></i><i style="height:1px;background:linear-gradient(90deg,#1ad3d1 12.5%,#1ad3d1 87.5%)"></i><i style="height:1px;background:linear-gradient(90deg,#1ccfd6 12.5%,#1ccfd6 87.5%)"></i><i style="height:1px;background:linear-gradient(90deg,#1ecadc 12.5%,#1ecadc 87.5%)"></i><i style="height:1px;background:linear-gradient(90deg,#21c6e1 12.5%,#21c6e1 87.5%)"></i><i style="height:1px;background:linear-gradient(90deg,#24c1e6 12.5%,#24c1e6 87.5%)"></i><i style="height:1px;background:linear-gradient(90deg,#28bceb 12.5%,#28bceb 87.5%)"></i><i style="height:1px;background:linear-gradient(90deg,#2cb7ef 12.5%,#2cb7ef 87.5%)"></i><i style="height:1px;background:linear-gradient(90deg,#2fb2f3 12.5%,#2fb2f3 87.5%)"></i><i style="height:1px;background:linear-gradient(90deg,#33adf7 12.5%,#33adf7 87.5%)"></i><i style="height:1px;background:linear-gradient(90deg,#37a8fa 12.5%,#37a8fa 87.5%)"></i><i style="height:1px;background:linear-gradient(90deg,#3aa3fc 12.5%,#3aa3fc 87.5%)"></i><i style="height:1px;background:linear-gradient(90deg,#3d9dfe 12.5%,#3d9dfe 87.5%)"></i><i style="height:1px;background:linear-gradient(90deg,#4098ff 12.5%,#4098ff 87.5%)"></i><i style="height:1px;background:linear-gradient(90deg,#4293ff 12.5%,#4293ff 87.5%)"></i><i style="height:1px;background:linear-gradient(90deg,#448efe 12.5%,#448efe 87.5%)"></i><i style="height:1px;background:linear-gradient(90deg,#4589fc 12.5%,#4589fc 87.5%)"></i><i style="height:1px;background:linear-gradient(90deg,#4683f9 12.5%,#4683f9 87.5%)"></i><i style="height:1px;background:linear-gradient(90deg,#467ef5 12.5%,#467ef5 87.5%)"></i><i style="height:1px;background:linear-gradient(90deg,#4779f1 12.5%,#4779f1 87.5%)"></i><i style="height:1px;background:linear-gradient(90deg,#4774ec 12.5%,#4774ec 87.5%)"></i><i style="height:1px;background:linear-gradient(90deg,#476ee7 12.5%,#476ee7 87.5%)"></i><i style="height:1px;background:linear-gradient(90deg,#4669e1 12.5%,#4669e1 87.5%)"></i><i style="height:1px;background:linear-gradient(90deg,#4664da 12.5%,#4664da 87.5%)"></i><i style="height:1px;background:linear-gradient(90deg,#455ed3 12.5%,#455ed3 87.5%)"></i><i style="height:1px;background:linear-gradient(90deg,#4559cb 12.5%,#4559cb 87.5%)"></i><i style="height:1px;background:linear-gradient(90deg,#4453c2 12.5%,#4453c2 87.5%)"></i><i style="height:1px;background:linear-gradient(90deg,#434db9 12.5%,#434db9 87.5%)"></i><i style="height:1px;background:linear-gradient(90deg,#4248af 12.5%,#4248af 87.5%)"></i><i style="height:1px;background:linear-gradient(90deg,#4042a5 12.5%,#4042a5 87.5%)"></i><i style="height:1px;background:linear-gradient(90deg,#3f3c9a 12.5%,#3f3c9a 87.5%)"></i><i style="height:1px;background:linear-gradient(90deg,#3d368e 12.5%,#3d368e 87.5%)"></i><i style="height:1px;background:linear-gradient(90deg,#3c3082 12.5%,#3c3082 87.5%)"></i><i style="height:1px;background:linear-gradient(90deg,#3a2b75 12.5%,#3a2b75 87.5%)"></i><i style="height:1px;background:linear-gradient(90deg,#382567 12.5%,#382567 87.5%)"></i><i style="height:1px;background:linear-gradient(90deg,#351f59 12.5%,#351f59 87.5%)"></i><i style="height:1px;background:linear-gradient(90deg,#33184b 12.5%,#33184b 87.5%)"></i><i style="height:1px;background:linear-gradient(90deg,#30123b 12.5%,#30123b 87.5%)"></i></div>
<div style="position:absolute;left:180.60px;top:48.00px;width:10.40px;height:124.00px;box-sizing:border-box;border:0.5px solid rgba(38,38,38,.4)"></div>
<span class="t" style="left:105.00px;top:34.69px;font-size:11.00px;color:#000">Reference</span>
<span class="t" style="left:199.80px;top:35.38px;font-size:9.00px;color:#000">(nm)</span>
<span class="l" style="left:194.10px;top:51.10px;font-size:9.00px">400</span>
<span class="l" style="left:194.10px;top:79.22px;font-size:9.00px">350</span>
<span class="l" style="left:194.10px;top:107.34px;font-size:9.00px">300</span>
<span class="l" style="left:194.10px;top:135.46px;font-size:9.00px">250</span>
<span class="l" style="left:194.10px;top:163.58px;font-size:9.00px">200</span>
<span class="t" style="left:36.00px;top:178.03px;font-size:10.00px">0</span>
<span class="r" style="left:32.60px;top:168.94px;font-size:10.00px">0</span>
<span class="t" style="left:63.60px;top:178.03px;font-size:10.00px">0.5</span>
<span class="r" style="left:32.60px;top:144.28px;font-size:10.00px">0.5</span>
<span class="t" style="left:91.20px;top:178.03px;font-size:10.00px">1</span>
<span class="r" style="left:32.60px;top:119.62px;font-size:10.00px">1</span>
<span class="t" style="left:118.80px;top:178.03px;font-size:10.00px">1.5</span>
<span class="r" style="left:32.60px;top:94.95px;font-size:10.00px">1.5</span>
<span class="t" style="left:146.40px;top:178.03px;font-size:10.00px">2</span>
<span class="r" style="left:32.60px;top:70.30px;font-size:10.00px">2</span>
<span class="t" style="left:174.00px;top:178.03px;font-size:10.00px">2.5</span>
<span class="r" style="left:32.60px;top:45.64px;font-size:10.00px">2.5</span>
<span class="t" style="left:105.00px;top:189.79px;font-size:11.00px">x-position(mm)</span>
<span class="v" style="left:10.60px;top:110.80px;font-size:11px">y-position(mm)</span>
<div class="h g" style="left:36px;top:247px;width:138px;height:124px"><i style="background:linear-gradient(90deg,#1c1c1c 0,#474747 27.6px,#7d7d7d 55.8px,#949494 69.6px,#b2b2b2 83.4px,#dedede 97.2px,#060606 111px,#1c1c1c 124.8px,#323232)"></i><i style="background:linear-gradient(90deg,#1a1a1a 0,#464646 27.6px,#7e7e7e 56.9px,#959595 70.7px,#b4b4b4 84.5px,#dfdfdf 98.3px,#222 110.4px,#070707 112.1px,#1c1c1c 125.9px,#313131)"></i><i style="background:linear-gradient(90deg,#191919 0,#454545 27.6px,#7f7f7f 58px,#979797 71.8px,#b5b5b5 85.6px,#d9d9d9 96.6px,#e0e0e0 99.4px,#343434 110.4px,#070707 113.2px,#2f2f2f)"></i><i style="background:linear-gradient(90deg,#171717 0,#444 27.6px,#808080 59.1px,#989898 72.9px,#b7b7b7 86.7px,#d7d7d7 96.6px,#e1e1e1 100.5px,#474747 110.4px,#070707 114.3px,#2e2e2e)"></i><i style="background:linear-gradient(90deg,#161616 0,#2b2b2b 13.8px,#4d4d4d 32.6px,#818181 60.2px,#999 74px,#b9b9b9 87.8px,#d5d5d5 96.6px,#e2e2e2 101.6px,#595959 110.4px,#070707 115.4px,#2c2c2c)"></i><i style="background:linear-gradient(90deg,#141414 0,#2a2a2a 13.8px,#4e4e4e 33.7px,#828282 61.3px,#9b9b9b 75.1px,#bbb 88.9px,#d3d3d3 96.6px,#e3e3e3 102.7px,#6b6b6b 110.4px,#070707 116.5px,#2b2b2b)"></i><i style="background:linear-gradient(90deg,#131313 0,#292929 13.8px,#5b5b5b 41.4px,#848484 62.4px,#9c9c9c 76.2px,#bcbcbc 90px,#d2d2d2 96.6px,#e4e4e4 103.8px,#7e7e7e 110.4px,#070707 117.6px,#292929)"></i><i style="background:linear-gradient(90deg,#111 0,#282828 13.8px,#6a6a6a 49.7px,#9e9e9e 77.3px,#bebebe 91.1px,#d0d0d0 96.6px,#e5e5e5 104.9px,#909090 110.4px,#070707 118.7px,#272727)"></i><i style="background:linear-gradient(90deg,#101010 0,#272727 13.8px,#9f9f9f 78.5px,#c0c0c0 92.3px,#cecece 96.6px,#e6e6e6 106.1px,#a3a3a3 110.4px,#080808 119.9px,#262626)"></i><i style="background:linear-gradient(90deg,#0e0e0e 0,#252525 13.8px,#a1a1a1 79.6px,#c2c2c2 93.4px,#ccc 96.6px,#e7e7e7 107.2px,#b5b5b5 110.4px,#080808 121px,#242424)"></i><i style="background:linear-gradient(90deg,#0d0d0d 0,#242424 13.8px,#a7a7a7 82.8px,#c3c3c3 94.5px,#cacaca 96.6px,#e9e9e9 108.3px,#c8c8c8 110.4px,#080808 122.1px,#232323)"></i><i style="background:linear-gradient(90deg,#0b0b0b 0,#232323 13.8px,#a6a6a6 82.8px,#c8c8c8 96.6px,#eaeaea 109.4px,#080808 123.2px,#212121)"></i><i style="background:linear-gradient(90deg,#0c0c0c 0,#0a0a0a .1px,#3c3c3c 27.7px,#a5a5a5 82.9px,#ebebeb 110.5px,#080808 124.3px,#1f1f1f)"></i><i style="background:linear-gradient(90deg,#1d1d1d 0,#0a0a0a 1.2px,#3a3a3a 27.6px,#a6a6a6 84px,#ebebeb 111.6px,#090909 125.4px,#1e1e1e)"></i><i style="background:linear-gradient(90deg,#2f2f2f 0,#0a0a0a 2.3px,#383838 27.6px,#a6a6a6 85.1px,#ececec 112.7px,#090909 126.5px,#1d1d1d)"></i><i style="background:linear-gradient(90deg,#414141 0,#0a0a0a 3.5px,#373737 27.6px,#a7a7a7 86.2px,#ececec 113.8px,#0a0a0a 127.7px,#1c1c1c)"></i><i style="background:linear-gradient(90deg,#525252 0,#0a0a0a 4.6px,#353535 27.6px,#a7a7a7 87.4px,#ededed 115px,#0b0b0b 128.8px,#1a1a1a)"></i><i style="background:linear-gradient(90deg,#646464 0,#0b0b0b 5.7px,#3e3e3e 33.3px,#a8a8a8 88.5px,#eee 116.1px,#0b0b0b 129.9px,#191919)"></i><i style="background:linear-gradient(90deg,#767676 0,#0b0b0b 6.8px,#737373 62px,#a9a9a9 89.6px,#eee 117.2px,#0c0c0c 131px,#181818)"></i><i style="background:linear-gradient(90deg,#888 0,#0b0b0b 7.9px,#999 82.8px,#a9a9a9 90.7px,#efefef 118.3px,#0c0c0c 132.1px,#161616)"></i><i style="background:linear-gradient(90deg,#999 0,#0b0b0b 9px,#979797 82.8px,#aaa 91.8px,#efefef 119.4px,#0d0d0d 133.2px,#151515)"></i><i style="background:linear-gradient(90deg,#ababab 0,#0b0b0b 10.1px,#969696 82.8px,#aaa 92.9px,#f0f0f0 120.5px,#0e0e0e 134.3px,#141414)"></i><i style="background:linear-gradient(90deg,#bdbdbd 0,#0b0b0b 11.2px,#949494 82.8px,#b1b1b1 96.6px,#f1f1f1 121.6px,#0e0e0e 135.4px,#131313)"></i><i style="background:linear-gradient(90deg,#cecece 0,#0c0c0c 12.4px,#929292 82.8px,#afafaf 96.6px,#f1f1f1 122.8px,#0f0f0f 136.6px,#111)"></i><i style="background:linear-gradient(90deg,#e0e0e0 0,#0c0c0c 13.5px,#5c5c5c 55.2px,#919191 82.8px,#adadad 96.6px,#f2f2f2 123.9px,#0f0f0f 137.7px,#101010)"></i><i style="background:linear-gradient(90deg,#e5e5e5 0,#0b0b0b 13.8px,#5c5c5c 56px,#919191 83.6px,#adadad 97.4px,#f1f1f1 124.2px,#0f0f0f)"></i><i style="background:linear-gradient(90deg,#e4e4e4 0,#0b0b0b 13.8px,#929292 84.7px,#afafaf 98.5px,#efefef 124.2px,#d2d2d2 126.1px,#0f0f0f)"></i><i style="background:linear-gradient(90deg,#e3e3e3 0,#0a0a0a 13.8px,#949494 85.8px,#b0b0b0 99.6px,#eee 124.2px,#bfbfbf 127.2px,#0e0e0e)"></i><i style="background:linear-gradient(90deg,#e2e2e2 0,#090909 13.8px,#959595 86.9px,#b2b2b2 100.7px,#ededed 124.2px,#acacac 128.3px,#0d0d0d)"></i><i style="background:linear-gradient(90deg,#e1e1e1 0,#909090 5.2px,#090909 13.8px,#969696 88px,#b3b3b3 101.8px,#ebebeb 124.2px,#999 129.4px,#0d0d0d)"></i><i style="background:linear-gradient(90deg,#e0e0e0 0,#7e7e7e 6.3px,#080808 13.8px,#a7a7a7 96.6px,#c7c7c7 110.4px,#eaeaea 124.2px,#868686 130.5px,#0c0c0c)"></i><i style="background:linear-gradient(90deg,#dfdfdf 0,#6c6c6c 7.5px,#070707 13.8px,#a6a6a6 96.6px,#c6c6c6 110.4px,#e8e8e8 124.2px,#747474 131.7px,#0c0c0c)"></i><i style="background:linear-gradient(90deg,#dedede 0,#595959 8.6px,#070707 13.8px,#a5a5a5 96.6px,#c4c4c4 110.4px,#e7e7e7 124.2px,#616161 132.8px,#0b0b0b)"></i><i style="background:linear-gradient(90deg,#ddd 0,#060606 13.8px,#a4a4a4 96.6px,#c3c3c3 110.4px,#e5e5e5 124.2px,#4e4e4e 133.9px,#0a0a0a)"></i><i style="background:linear-gradient(90deg,#dcdcdc 0,#060606 13.8px,#a3a3a3 96.6px,#c2c2c2 110.4px,#e4e4e4 124.2px,#3b3b3b 135px,#0a0a0a)"></i><i style="background:linear-gradient(90deg,#dadada 0,#050505 13.8px,#a2a2a2 96.6px,#c1c1c1 110.4px,#e3e3e3 124.2px,#282828 136.1px,#090909)"></i><i style="background:linear-gradient(90deg,#d9d9d9 0,#040404 13.8px,#a1a1a1 96.6px,#bfbfbf 110.4px,#e1e1e1 124.2px,#080808)"></i><i style="background:linear-gradient(90deg,#d8d8d8 0,#d9d9d9 .3px,#040404 14.1px,#a1a1a1 96.9px,#bfbfbf 110.7px,#e0e0e0 124.5px,#0e0e0e)"></i><i style="background:linear-gradient(90deg,#d7d7d7 0,#dadada 1.4px,#050505 15.2px,#a2a2a2 98px,#c0c0c0 111.8px,#e1e1e1 125.6px,#202020)"></i><i style="background:linear-gradient(90deg,#d5d5d5 0,#dbdbdb 2.6px,#050505 16.4px,#a3a3a3 99.2px,#c1c1c1 113px,#e2e2e2 126.8px,#323232)"></i><i style="background:linear-gradient(90deg,#d4d4d4 0,#dcdcdc 3.7px,#060606 17.5px,#191919 27.6px,#212121 31.3px,#a4a4a4 100.3px,#c2c2c2 114.1px,#e3e3e3 127.9px,#444)"></i><i style="background:linear-gradient(90deg,#d3d3d3 0,#ddd 4.8px,#070707 18.6px,#181818 27.6px,#222 32.4px,#9b9b9b 96.6px,#c3c3c3 115.2px,#e4e4e4 129px,#575757)"></i><i style="background:linear-gradient(90deg,#d1d1d1 0,#dedede 5.9px,#080808 19.7px,#161616 27.6px,#242424 33.5px,#9a9a9a 96.6px,#c5c5c5 116.3px,#e5e5e5 130.1px,#696969)"></i><i style="background:linear-gradient(90deg,#d0d0d0 0,#dfdfdf 7px,#080808 20.8px,#151515 27.6px,#252525 34.6px,#999 96.6px,#c6c6c6 117.4px,#e6e6e6 131.2px,#7b7b7b)"></i><i style="background:linear-gradient(90deg,#cecece 0,#e0e0e0 8.1px,#090909 21.9px,#141414 27.6px,#262626 35.7px,#8d8d8d 90.9px,#b5b5b5 110.4px,#e7e7e7 132.3px,#8e8e8e)"></i><i style="background:linear-gradient(90deg,#cdcdcd 0,#e1e1e1 9.2px,#0a0a0a 23px,#121212 27.6px,#272727 36.8px,#7d7d7d 82.8px,#aaa 105.8px,#e7e7e7 133.4px,#a0a0a0)"></i><i style="background:linear-gradient(90deg,#cbcbcb 0,#e2e2e2 10.3px,#0a0a0a 24.1px,#2f2f2f 41.4px,#616161 69px,#969696 96.6px,#c9c9c9 120.8px,#e8e8e8 134.5px,#b2b2b2)"></i><i style="background:linear-gradient(90deg,#cacaca 0,#e3e3e3 11.5px,#0b0b0b 25.3px,#2e2e2e 41.4px,#606060 69px,#959595 96.6px,#cacaca 121.9px,#e9e9e9 135.7px,#c5c5c5)"></i><i style="background:linear-gradient(90deg,#c8c8c8 0,#e4e4e4 12.6px,#0c0c0c 26.4px,#2d2d2d 41.4px,#5f5f5f 69px,#949494 96.6px,#cbcbcb 123px,#eaeaea 136.8px,#d7d7d7)"></i><i style="background:linear-gradient(90deg,#c7c7c7 0,#e5e5e5 13.7px,#0d0d0d 27.5px,#2c2c2c 41.4px,#5e5e5e 69px,#929292 96.6px,#cdcdcd 124.2px,#ebebeb 137.9px,#e9e9e9)"></i><i style="background:linear-gradient(90deg,#c6c6c6 0,#e6e6e6 14.8px,#0d0d0d 28.6px,#2c2c2c 42.4px,#5c5c5c 69px,#939393 97.6px,#cecece 125.2px,#eaeaea)"></i><i style="background:linear-gradient(90deg,#c5c5c5 0,#e7e7e7 15.9px,#0e0e0e 29.7px,#2c2c2c 43.5px,#5b5b5b 69px,#acacac 110.4px,#e9e9e9)"></i><i style="background:linear-gradient(90deg,#c3c3c3 0,#e7e7e7 17px,#0f0f0f 30.8px,#2d2d2d 44.6px,#595959 69px,#ababab 110.4px,#e7e7e7)"></i><i style="background:linear-gradient(90deg,#c2c2c2 0,#cacaca 4.3px,#e8e8e8 18.1px,#0f0f0f 31.9px,#252525 41.4px,#575757 69px,#aaa 110.4px,#e6e6e6)"></i><i style="background:linear-gradient(90deg,#c1c1c1 0,#cbcbcb 5.5px,#e9e9e9 19.3px,#101010 33.1px,#232323 41.4px,#565656 69px,#8d8d8d 96.6px,#b4b4b4 115.9px,#e5e5e5)"></i><i style="background:linear-gradient(90deg,#c0c0c0 0,#ccc 6.6px,#e9e9e9 20.4px,#111 34.2px,#212121 41.4px,#545454 69px,#8c8c8c 96.6px,#b5b5b5 117px,#e3e3e3)"></i><i style="background:linear-gradient(90deg,#bebebe 0,#cdcdcd 7.7px,#eaeaea 21.5px,#111 35.3px,#1f1f1f 41.4px,#525252 69px,#8b8b8b 96.6px,#a6a6a6 110.4px,#e2e2e2)"></i><i style="background:linear-gradient(90deg,#bdbdbd 0,#cdcdcd 8.8px,#eaeaea 22.6px,#121212 36.4px,#1d1d1d 41.4px,#515151 69px,#898989 96.6px,#a4a4a4 110.4px,#e1e1e1)"></i><i style="background:linear-gradient(90deg,#bcbcbc 0,#cecece 9.9px,#ebebeb 23.7px,#131313 37.5px,#1c1c1c 41.4px,#4f4f4f 69px,#888 96.6px,#a3a3a3 110.4px,#dfdfdf)"></i><i style="background:linear-gradient(90deg,#bbb 0,#d5d5d5 13.8px,#ececec 24.8px,#141414 38.6px,#4d4d4d 69px,#878787 96.6px,#a2a2a2 110.4px,#dedede)"></i><i style="background:linear-gradient(90deg,#b9b9b9 0,#d4d4d4 13.8px,#ececec 25.9px,#141414 39.7px,#4c4c4c 69px,#868686 96.6px,#a1a1a1 110.4px,#ddd)"></i><i style="background:linear-gradient(90deg,#b8b8b8 0,#d2d2d2 13.8px,#ededed 27px,#151515 40.8px,#4a4a4a 69px,#858585 96.6px,#9f9f9f 110.4px,#dcdcdc)"></i><i style="background:linear-gradient(90deg,#b7b7b7 0,#d2d2d2 14.4px,#ededed 27.6px,#151515 41.4px,#4a4a4a 69.6px,#858585 97.2px,#9f9f9f 111px,#dadada)"></i><i style="background:linear-gradient(90deg,#b7b7b7 0,#d3d3d3 15.5px,#ececec 27.6px,#141414 41.4px,#4b4b4b 70.7px,#868686 98.3px,#a0a0a0 112.1px,#d9d9d9)"></i><i style="background:linear-gradient(90deg,#b7b7b7 0,#d4d4d4 16.6px,#ebebeb 27.6px,#131313 41.4px,#4d4d4d 71.8px,#878787 99.4px,#a2a2a2 113.2px,#d8d8d8)"></i><i style="background:linear-gradient(90deg,#b6b6b6 0,#bcbcbc 3.9px,#d5d5d5 17.7px,#eaeaea 27.6px,#111 41.4px,#4e4e4e 72.9px,#888 100.5px,#a3a3a3 114.3px,#d6d6d6)"></i><i style="background:linear-gradient(90deg,#b6b6b6 0,#bdbdbd 5px,#e9e9e9 27.6px,#101010 41.4px,#4f4f4f 74px,#898989 101.6px,#a4a4a4 115.4px,#d5d5d5)"></i><i style="background:linear-gradient(90deg,#b5b5b5 0,#bebebe 6.1px,#e7e7e7 27.6px,#0f0f0f 41.4px,#2b2b2b 55.2px,#515151 75.1px,#7e7e7e 96.6px,#a5a5a5 116.5px,#d4d4d4)"></i><i style="background:linear-gradient(90deg,#b5b5b5 0,#c0c0c0 7.2px,#e6e6e6 27.6px,#0e0e0e 41.4px,#2a2a2a 55.2px,#525252 76.2px,#7d7d7d 96.6px,#a6a6a6 117.6px,#d3d3d3)"></i><i style="background:linear-gradient(90deg,#b5b5b5 0,#c1c1c1 8.3px,#e5e5e5 27.6px,#0d0d0d 41.4px,#292929 55.2px,#545454 77.3px,#7c7c7c 96.6px,#a7a7a7 118.7px,#d1d1d1)"></i><i style="background:linear-gradient(90deg,#b4b4b4 0,#c2c2c2 9.5px,#e4e4e4 27.6px,#0c0c0c 41.4px,#282828 55.2px,#555 78.5px,#7b7b7b 96.6px,#a8a8a8 119.9px,#d0d0d0)"></i><i style="background:linear-gradient(90deg,#b4b4b4 0,#c9c9c9 13.8px,#e3e3e3 27.6px,#0b0b0b 41.4px,#272727 55.2px,#565656 79.6px,#7a7a7a 96.6px,#aaa 121px,#cfcfcf)"></i><i style="background:linear-gradient(90deg,#b3b3b3 0,#c8c8c8 13.8px,#e2e2e2 27.6px,#0a0a0a 41.4px,#272727 55.2px,#585858 80.7px,#797979 96.6px,#ababab 122.1px,#cdcdcd)"></i><i style="background:linear-gradient(90deg,#b3b3b3 0,#c8c8c8 13.8px,#e1e1e1 27.6px,#090909 41.4px,#262626 55.2px,#595959 81.8px,#aeaeae 124.2px,#ccc)"></i><i style="background:linear-gradient(90deg,#b2b2b2 0,#c7c7c7 13.9px,#e1e1e1 27.7px,#080808 41.5px,#252525 55.3px,#5b5b5b 82.9px,#adadad 124.3px,#cbcbcb)"></i><i style="background:linear-gradient(90deg,#b1b1b1 0,#c8c8c8 15px,#e2e2e2 28.8px,#090909 42.6px,#262626 56.4px,#595959 82.8px,#8f8f8f 110.4px,#adadad 125.4px,#c9c9c9)"></i><i style="background:linear-gradient(90deg,#b0b0b0 0,#c8c8c8 16.1px,#e3e3e3 29.9px,#0a0a0a 43.7px,#272727 57.5px,#585858 82.8px,#8e8e8e 110.4px,#aeaeae 126.5px,#c7c7c7)"></i><i style="background:linear-gradient(90deg,#afafaf 0,#c9c9c9 17.2px,#e4e4e4 31.1px,#0b0b0b 44.9px,#282828 58.6px,#575757 82.8px,#7a7a7a 100px,#939393 113.8px,#c5c5c5)"></i><i style="background:linear-gradient(90deg,#adadad 0,#c9c9c9 18.4px,#dadada 27.6px,#e5e5e5 32.2px,#0c0c0c 46px,#292929 59.8px,#555 82.8px,#7b7b7b 101.2px,#949494 115px,#c3c3c3)"></i><i style="background:linear-gradient(90deg,#acacac 0,#cacaca 19.5px,#d9d9d9 27.6px,#e6e6e6 33.3px,#0d0d0d 47.1px,#2a2a2a 60.9px,#545454 82.8px,#7b7b7b 102.3px,#949494 116.1px,#c1c1c1)"></i><i style="background:linear-gradient(90deg,#ababab 0,#cbcbcb 20.6px,#d8d8d8 27.6px,#e7e7e7 34.4px,#0e0e0e 48.2px,#2b2b2b 62px,#535353 82.8px,#7c7c7c 103.4px,#959595 117.2px,#bfbfbf)"></i><i style="background:linear-gradient(90deg,#aaa 0,#cbcbcb 21.7px,#d6d6d6 27.6px,#e8e8e8 35.5px,#0f0f0f 49.3px,#2c2c2c 63.1px,#525252 82.8px,#7d7d7d 104.5px,#969696 118.3px,#bebebe)"></i><i style="background:linear-gradient(90deg,#a9a9a9 0,#ccc 22.8px,#d5d5d5 27.6px,#e9e9e9 36.6px,#101010 50.4px,#363636 69px,#505050 82.8px,#6d6d6d 96.6px,#888 110.4px,#969696 119.4px,#bcbcbc)"></i><i style="background:linear-gradient(90deg,#a7a7a7 0,#bcbcbc 13.8px,#d3d3d3 27.6px,#eaeaea 37.7px,#111 51.5px,#353535 69px,#4f4f4f 82.8px,#6c6c6c 96.6px,#868686 110.4px,#979797 120.5px,#bababa)"></i><i style="background:linear-gradient(90deg,#a6a6a6 0,#bababa 13.8px,#d2d2d2 27.6px,#ebebeb 38.8px,#121212 52.6px,#343434 69px,#4e4e4e 82.8px,#6b6b6b 96.6px,#858585 110.4px,#9d9d9d 124.2px,#b8b8b8)"></i><i style="background:linear-gradient(90deg,#a5a5a5 0,#b9b9b9 13.8px,#d0d0d0 27.6px,#ececec 40px,#131313 53.8px,#333 69px,#4d4d4d 82.8px,#6a6a6a 96.6px,#848484 110.4px,#9b9b9b 124.2px,#b6b6b6)"></i><i style="background:linear-gradient(90deg,#a4a4a4 0,#b8b8b8 13.8px,#cfcfcf 27.6px,#ededed 41.1px,#141414 54.9px,#313131 69px,#4b4b4b 82.8px,#696969 96.6px,#838383 110.4px,#9a9a9a 124.2px,#b4b4b4)"></i><i style="background:linear-gradient(90deg,#a2a2a2 0,#b8b8b8 14.6px,#cfcfcf 28.4px,#ededed 42.2px,#141414 56px,#323232 69.8px,#4b4b4b 83.6px,#696969 97.4px,#838383 111.2px,#9a9a9a 125px,#b3b3b3)"></i><i style="background:linear-gradient(90deg,#a1a1a1 0,#b8b8b8 15.7px,#d0d0d0 29.5px,#eee 43.3px,#151515 57.1px,#323232 70.9px,#4c4c4c 84.7px,#6a6a6a 98.5px,#848484 112.3px,#9b9b9b 126.1px,#b1b1b1)"></i><i style="background:linear-gradient(90deg,#a0a0a0 0,#b8b8b8 16.8px,#d0d0d0 30.6px,#eee 44.4px,#151515 58.2px,#333 72px,#4d4d4d 85.8px,#6a6a6a 99.6px,#848484 113.4px,#9c9c9c 127.2px,#b0b0b0)"></i><i style="background:linear-gradient(90deg,#9f9f9f 0,#a3a3a3 4.1px,#b8b8b8 17.9px,#c8c8c8 27.6px,#efefef 45.5px,#161616 59.3px,#333 73.1px,#4e4e4e 86.9px,#6b6b6b 100.7px,#858585 114.5px,#9c9c9c 128.3px,#afafaf)"></i><i style="background:linear-gradient(90deg,#9d9d9d 0,#a3a3a3 5.2px,#c7c7c7 27.6px,#efefef 46.6px,#161616 60.4px,#343434 74.2px,#4e4e4e 88px,#6c6c6c 101.8px,#858585 115.6px,#9d9d9d 129.4px,#aeaeae)"></i><i style="background:linear-gradient(90deg,#9c9c9c 0,#a3a3a3 6.3px,#c5c5c5 27.6px,#efefef 47.7px,#171717 61.5px,#343434 75.3px,#5f5f5f 96.6px,#7b7b7b 110.4px,#9e9e9e 130.5px,#acacac)"></i><i style="background:linear-gradient(90deg,#9b9b9b 0,#a3a3a3 7.5px,#c4c4c4 27.6px,#f0f0f0 48.9px,#171717 62.7px,#353535 76.5px,#5d5d5d 96.6px,#797979 110.4px,#9f9f9f 131.7px,#ababab)"></i><i style="background:linear-gradient(90deg,#9a9a9a 0,#a3a3a3 8.6px,#c2c2c2 27.6px,#f0f0f0 50px,#181818 63.8px,#3f3f3f 82.8px,#787878 110.4px,#a0a0a0 132.8px,#aaa)"></i><i style="background:linear-gradient(90deg,#989898 0,#a3a3a3 9.7px,#c0c0c0 27.6px,#f1f1f1 51.1px,#191919 64.9px,#3e3e3e 82.8px,#767676 110.4px,#a1a1a1 133.9px,#a8a8a8)"></i><i style="background:linear-gradient(90deg,#979797 0,#a8a8a8 13.8px,#bfbfbf 27.6px,#f1f1f1 52.2px,#191919 66px,#3c3c3c 82.8px,#757575 110.4px,#a1a1a1 135px,#a7a7a7)"></i><i style="background:linear-gradient(90deg,#969696 0,#a6a6a6 13.8px,#bdbdbd 27.6px,#f2f2f2 53.3px,#1a1a1a 67.1px,#737373 110.4px,#a2a2a2 136.1px,#a6a6a6)"></i><i style="background:linear-gradient(90deg,#959595 0,#a4a4a4 13.8px,#bbb 27.6px,#f2f2f2 54.4px,#1a1a1a 68.2px,#727272 110.4px,#a5a5a5)"></i><i style="background:linear-gradient(90deg,#939393 0,#a3a3a3 14.1px,#bababa 27.9px,#f2f2f2 55.2px,#1a1a1a 69px,#717171 110.7px,#a3a3a3)"></i><i style="background:linear-gradient(90deg,#919191 0,#a4a4a4 15.2px,#bbb 29px,#f0f0f0 55.2px,#dbdbdb 56.6px,#1a1a1a 69px,#555 98px,#727272 111.8px,#a2a2a2)"></i><i style="background:linear-gradient(90deg,#8f8f8f 0,#9f9f9f 13.8px,#bcbcbc 30.2px,#efefef 55.2px,#cacaca 57.8px,#1a1a1a 69px,#1e1e1e 71.6px,#363636 82.8px,#565656 99.2px,#727272 113px,#a0a0a0)"></i><i style="background:linear-gradient(90deg,#8d8d8d 0,#9e9e9e 13.8px,#bcbcbc 31.3px,#ededed 55.2px,#b8b8b8 58.9px,#1a1a1a 69px,#202020 72.7px,#363636 82.8px,#3b3b3b 86.5px,#737373 114.1px,#9e9e9e)"></i><i style="background:linear-gradient(90deg,#8b8b8b 0,#929292 4.8px,#9c9c9c 13.8px,#bdbdbd 32.4px,#ececec 55.2px,#a7a7a7 60px,#1a1a1a 69px,#222 73.8px,#353535 82.8px,#3d3d3d 87.6px,#6b6b6b 110.4px,#9d9d9d)"></i><i style="background:linear-gradient(90deg,#898989 0,#929292 5.9px,#9a9a9a 13.8px,#bdbdbd 33.5px,#ebebeb 55.2px,#959595 61.1px,#1a1a1a 69px,#232323 74.9px,#343434 82.8px,#3e3e3e 88.7px,#696969 110.4px,#9b9b9b)"></i><i style="background:linear-gradient(90deg,#878787 0,#919191 7px,#999 13.8px,#bebebe 34.6px,#e9e9e9 55.2px,#848484 62.2px,#1a1a1a 69px,#252525 76px,#333 82.8px,#3f3f3f 89.8px,#686868 110.4px,#9a9a9a)"></i><i style="background:linear-gradient(90deg,#858585 0,#919191 8.1px,#979797 13.8px,#bfbfbf 35.7px,#e8e8e8 55.2px,#727272 63.3px,#1a1a1a 69px,#272727 77.1px,#333 82.8px,#404040 90.9px,#676767 110.4px,#989898)"></i><i style="background:linear-gradient(90deg,#838383 0,#909090 9.2px,#969696 13.8px,#c9c9c9 41.4px,#e6e6e6 55.2px,#616161 64.4px,#1a1a1a 69px,#282828 78.2px,#323232 82.8px,#414141 92px,#656565 110.4px,#969696)"></i><i style="background:linear-gradient(90deg,#818181 0,#949494 13.8px,#c7c7c7 41.4px,#e5e5e5 55.2px,#4f4f4f 65.5px,#1a1a1a 69px,#2a2a2a 79.3px,#313131 82.8px,#424242 93.2px,#646464 110.4px,#959595)"></i><i style="background:linear-gradient(90deg,#7f7f7f 0,#929292 13.8px,#c5c5c5 41.4px,#e3e3e3 55.2px,#3e3e3e 66.7px,#191919 69px,#484848 96.6px,#626262 110.4px,#939393)"></i><i style="background:linear-gradient(90deg,#7d7d7d 0,#919191 13.8px,#c4c4c4 41.4px,#e2e2e2 55.2px,#2c2c2c 67.8px,#191919 69px,#474747 96.6px,#797979 124.2px,#929292)"></i><i style="background:linear-gradient(90deg,#7b7b7b 0,#8f8f8f 13.8px,#c2c2c2 41.4px,#e1e1e1 55.2px,#191919 69px,#464646 96.6px,#787878 124.2px,#909090)"></i><i style="background:linear-gradient(90deg,#797979 0,#8f8f8f 14.8px,#c3c3c3 42.4px,#e1e1e1 56.2px,#191919 70px,#464646 97.6px,#8e8e8e)"></i><i style="background:linear-gradient(90deg,#777 0,#8f8f8f 15.9px,#c3c3c3 43.5px,#e2e2e2 57.3px,#3a3a3a 69px,#191919 71.1px,#464646 98.7px,#8c8c8c)"></i><i style="background:linear-gradient(90deg,#767676 0,#8f8f8f 17px,#c4c4c4 44.6px,#e3e3e3 58.4px,#4b4b4b 69px,#191919 72.2px,#464646 99.8px,#8a8a8a)"></i><i style="background:linear-gradient(90deg,#747474 0,#909090 18.1px,#bbb 41.4px,#e4e4e4 59.5px,#5c5c5c 69px,#191919 73.3px,#464646 100.9px,#888)"></i><i style="background:linear-gradient(90deg,#727272 0,#909090 19.3px,#bababa 41.4px,#e5e5e5 60.7px,#6d6d6d 69px,#191919 74.5px,#464646 102.1px,#868686)"></i><i style="background:linear-gradient(90deg,#717171 0,#909090 20.4px,#b8b8b8 41.4px,#e6e6e6 61.8px,#7e7e7e 69px,#191919 75.6px,#464646 103.2px,#848484)"></i><i style="background:linear-gradient(90deg,#6f6f6f 0,#909090 21.5px,#b6b6b6 41.4px,#e7e7e7 62.9px,#8f8f8f 69px,#191919 76.7px,#464646 104.3px,#828282)"></i><i style="background:linear-gradient(90deg,#6d6d6d 0,#909090 22.6px,#b5b5b5 41.4px,#e9e9e9 64px,#a0a0a0 69px,#191919 77.8px,#464646 105.4px,#808080)"></i><i style="background:linear-gradient(90deg,#6c6c6c 0,#808080 13.8px,#989898 27.6px,#b3b3b3 41.4px,#d2d2d2 55.2px,#eaeaea 65.1px,#b1b1b1 69px,#191919 78.9px,#464646 106.5px,#646464 124.2px,#7e7e7e)"></i><i style="background:linear-gradient(90deg,#6a6a6a 0,#7f7f7f 13.8px,#969696 27.6px,#b2b2b2 41.4px,#d0d0d0 55.2px,#ebebeb 66.2px,#c2c2c2 69px,#191919 80px,#464646 107.6px,#626262 124.2px,#7c7c7c)"></i><i style="background:linear-gradient(90deg,#686868 0,#7d7d7d 13.8px,#949494 27.6px,#b0b0b0 41.4px,#cecece 55.2px,#ececec 67.3px,#d4d4d4 69px,#191919 81.1px,#464646 108.7px,#606060 124.2px,#7a7a7a)"></i><i style="background:linear-gradient(90deg,#676767 0,#7b7b7b 13.8px,#929292 27.6px,#aeaeae 41.4px,#cdcdcd 55.2px,#ededed 68.4px,#191919 82.2px,#5e5e5e 124.2px,#787878)"></i></div>
<div class="h" style="left:180.6px;top:247px;width:10.4px;height:124px"><i style="height:1px;background:linear-gradient(90deg,#7a0403 12.5%,#7a0403 87.5%)"></i><i style="height:1px;background:linear-gradient(90deg,#810602 12.5%,#810602 87.5%)"></i><i style="height:1px;background:linear-gradient(90deg,#880802 12.5%,#880802 87.5%)"></i><i style="height:1px;background:linear-gradient(90deg,#8f0b01 12.5%,#8f0b01 87.5%)"></i><i style="height:1px;background:linear-gradient(90deg,#960d01 12.5%,#960d01 87.5%)"></i><i style="height:1px;background:linear-gradient(90deg,#9c0f01 12.5%,#9c0f01 87.5%)"></i><i style="height:1px;background:linear-gradient(90deg,#a21201 12.5%,#a21201 87.5%)"></i><i style="height:1px;background:linear-gradient(90deg,#a81501 12.5%,#a81501 87.5%)"></i><i style="height:1px;background:linear-gradient(90deg,#ae1801 12.5%,#ae1801 87.5%)"></i><i style="height:1px;background:linear-gradient(90deg,#b31b01 12.5%,#b31b01 87.5%)"></i><i style="height:1px;background:linear-gradient(90deg,#b91e02 12.5%,#b91e02 87.5%)"></i><i style="height:1px;background:linear-gradient(90deg,#be2102 12.5%,#be2102 87.5%)"></i><i style="height:1px;background:linear-gradient(90deg,#c32403 12.5%,#c32403 87.5%)"></i><i style="height:1px;background:linear-gradient(90deg,#c72803 12.5%,#c72803 87.5%)"></i><i style="height:1px;background:linear-gradient(90deg,#cc2c04 12.5%,#cc2c04 87.5%)"></i><i style="height:1px;background:linear-gradient(90deg,#d02f05 12.5%,#d02f05 87.5%)"></i><i style="height:1px;background:linear-gradient(90deg,#d43306 12.5%,#d43306 87.5%)"></i><i style="height:1px;background:linear-gradient(90deg,#d83706 12.5%,#d83706 87.5%)"></i><i style="height:1px;background:linear-gradient(90deg,#dc3b07 12.5%,#dc3b07 87.5%)"></i><i style="height:1px;background:linear-gradient(90deg,#e03f09 12.5%,#e03f09 87.5%)"></i><i style="height:1px;background:linear-gradient(90deg,#e3440a 12.5%,#e3440a 87.5%)"></i><i style="height:1px;background:linear-gradient(90deg,#e6480b 12.5%,#e6480b 87.5%)"></i><i style="height:1px;background:linear-gradient(90deg,#e94d0d 12.5%,#e94d0d 87.5%)"></i><i style="height:1px;background:linear-gradient(90deg,#ec520f 12.5%,#ec520f 87.5%)"></i><i style="height:1px;background:linear-gradient(90deg,#ee5711 12.5%,#ee5711 87.5%)"></i><i style="height:1px;background:linear-gradient(90deg,#f15d13 12.5%,#f15d13 87.5%)"></i><i style="height:1px;background:linear-gradient(90deg,#f36315 12.5%,#f36315 87.5%)"></i><i style="height:1px;background:linear-gradient(90deg,#f56918 12.5%,#f56918 87.5%)"></i><i style="height:1px;background:linear-gradient(90deg,#f76f1a 12.5%,#f76f1a 87.5%)"></i><i style="height:1px;background:linear-gradient(90deg,#f9751d 12.5%,#f9751d 87.5%)"></i><i style="height:1px;background:linear-gradient(90deg,#fa7b20 12.5%,#fa7b20 87.5%)"></i><i style="height:1px;background:linear-gradient(90deg,#fc8222 12.5%,#fc8222 87.5%)"></i><i style="height:1px;background:linear-gradient(90deg,#fd8825 12.5%,#fd8825 87.5%)"></i><i style="height:1px;background:linear-gradient(90deg,#fd8e28 12.5%,#fd8e28 87.5%)"></i><i style="height:1px;background:linear-gradient(90deg,#fe942a 12.5%,#fe942a 87.5%)"></i><i style="height:1px;background:linear-gradient(90deg,#fe9a2d 12.5%,#fe9a2d 87.5%)"></i><i style="height:1px;background:linear-gradient(90deg,#fea02f 12.5%,#fea02f 87.5%)"></i><i style="height:1px;background:linear-gradient(90deg,#fea632 12.5%,#fea632 87.5%)"></i><i style="height:1px;background:linear-gradient(90deg,#fdab34 12.5%,#fdab34 87.5%)"></i><i style="height:1px;background:linear-gradient(90deg,#fcb136 12.5%,#fcb136 87.5%)"></i><i style="height:1px;background:linear-gradient(90deg,#fbb637 12.5%,#fbb637 87.5%)"></i><i style="height:1px;background:linear-gradient(90deg,#faba39 12.5%,#faba39 87.5%)"></i><i style="height:1px;background:linear-gradient(90deg,#f8bf39 12.5%,#f8bf39 87.5%)"></i><i style="height:1px;background:linear-gradient(90deg,#f6c33a 12.5%,#f6c33a 87.5%)"></i><i style="height:1px;background:linear-gradient(90deg,#f3c73a 12.5%,#f3c73a 87.5%)"></i><i style="height:1px;background:linear-gradient(90deg,#f1cc3a 12.5%,#f1cc3a 87.5%)"></i><i style="height:1px;background:linear-gradient(90deg,#edd03a 12.5%,#edd03a 87.5%)"></i><i style="height:1px;background:linear-gradient(90deg,#ead439 12.5%,#ead439 87.5%)"></i><i style="height:1px;background:linear-gradient(90deg,#e6d838 12.5%,#e6d838 87.5%)"></i><i style="height:1px;background:linear-gradient(90deg,#e2dc38 12.5%,#e2dc38 87.5%)"></i><i style="height:1px;background:linear-gradient(90deg,#dee037 12.5%,#dee037 87.5%)"></i><i style="height:1px;background:linear-gradient(90deg,#d9e336 12.5%,#d9e336 87.5%)"></i><i style="height:1px;background:linear-gradient(90deg,#d5e735 12.5%,#d5e735 87.5%)"></i><i style="height:1px;background:linear-gradient(90deg,#d0ea34 12.5%,#d0ea34 87.5%)"></i><i style="height:1px;background:linear-gradient(90deg,#cbed34 12.5%,#cbed34 87.5%)"></i><i style="height:1px;background:linear-gradient(90deg,#c6f034 12.5%,#c6f034 87.5%)"></i><i style="height:1px;background:linear-gradient(90deg,#c1f334 12.5%,#c1f334 87.5%)"></i><i style="height:1px;background:linear-gradient(90deg,#bbf534 12.5%,#bbf534 87.5%)"></i><i style="height:1px;background:linear-gradient(90deg,#b6f735 12.5%,#b6f735 87.5%)"></i><i style="height:1px;background:linear-gradient(90deg,#b0f937 12.5%,#b0f937 87.5%)"></i><i style="height:1px;background:linear-gradient(90deg,#abfb38 12.5%,#abfb38 87.5%)"></i><i style="height:1px;background:linear-gradient(90deg,#a6fc3b 12.5%,#a6fc3b 87.5%)"></i><i style="height:1px;background:linear-gradient(90deg,#a0fd3e 12.5%,#a0fd3e 87.5%)"></i><i style="height:1px;background:linear-gradient(90deg,#9afe42 12.5%,#9afe42 87.5%)"></i><i style="height:1px;background:linear-gradient(90deg,#93fe46 12.5%,#93fe46 87.5%)"></i><i style="height:1px;background:linear-gradient(90deg,#8cff4b 12.5%,#8cff4b 87.5%)"></i><i style="height:1px;background:linear-gradient(90deg,#85ff50 12.5%,#85ff50 87.5%)"></i><i style="height:1px;background:linear-gradient(90deg,#7dff56 12.5%,#7dff56 87.5%)"></i><i style="height:1px;background:linear-gradient(90deg,#75fe5c 12.5%,#75fe5c 87.5%)"></i><i style="height:1px;background:linear-gradient(90deg,#6dfd63 12.5%,#6dfd63 87.5%)"></i><i style="height:1px;background:linear-gradient(90deg,#65fd69 12.5%,#65fd69 87.5%)"></i><i style="height:1px;background:linear-gradient(90deg,#5dfc70 12.5%,#5dfc70 87.5%)"></i><i style="height:1px;background:linear-gradient(90deg,#54fa77 12.5%,#54fa77 87.5%)"></i><i style="height:1px;background:linear-gradient(90deg,#4df97e 12.5%,#4df97e 87.5%)"></i><i style="height:1px;background:linear-gradient(90deg,#45f785 12.5%,#45f785 87.5%)"></i><i style="height:1px;background:linear-gradient(90deg,#3ef58c 12.5%,#3ef58c 87.5%)"></i><i style="height:1px;background:linear-gradient(90deg,#37f393 12.5%,#37f393 87.5%)"></i><i style="height:1px;background:linear-gradient(90deg,#30f19a 12.5%,#30f19a 87.5%)"></i><i style="height:1px;background:linear-gradient(90deg,#2aefa0 12.5%,#2aefa0 87.5%)"></i><i style="height:1px;background:linear-gradient(90deg,#25eda6 12.5%,#25eda6 87.5%)"></i><i style="height:1px;background:linear-gradient(90deg,#21eaac 12.5%,#21eaac 87.5%)"></i><i style="height:1px;background:linear-gradient(90deg,#1de7b1 12.5%,#1de7b1 87.5%)"></i><i style="height:1px;background:linear-gradient(90deg,#1ae4b6 12.5%,#1ae4b6 87.5%)"></i><i style="height:1px;background:linear-gradient(90deg,#19e1bb 12.5%,#19e1bb 87.5%)"></i><i style="height:1px;background:linear-gradient(90deg,#18dec0 12.5%,#18dec0 87.5%)"></i><i style="height:1px;background:linear-gradient(90deg,#18dbc6 12.5%,#18dbc6 87.5%)"></i><i style="height:1px;background:linear-gradient(90deg,#18d7cb 12.5%,#18d7cb 87.5%)"></i><i style="height:1px;background:linear-gradient(90deg,#1ad3d1 12.5%,#1ad3d1 87.5%)"></i><i style="height:1px;background:linear-gradient(90deg,#1ccfd6 12.5%,#1ccfd6 87.5%)"></i><i style="height:1px;background:linear-gradient(90deg,#1ecadc 12.5%,#1ecadc 87.5%)"></i><i style="height:1px;background:linear-gradient(90deg,#21c6e1 12.5%,#21c6e1 87.5%)"></i><i style="height:1px;background:linear-gradient(90deg,#24c1e6 12.5%,#24c1e6 87.5%)"></i><i style="height:1px;background:linear-gradient(90deg,#28bceb 12.5%,#28bceb 87.5%)"></i><i style="height:1px;background:linear-gradient(90deg,#2cb7ef 12.5%,#2cb7ef 87.5%)"></i><i style="height:1px;background:linear-gradient(90deg,#2fb2f3 12.5%,#2fb2f3 87.5%)"></i><i style="height:1px;background:linear-gradient(90deg,#33adf7 12.5%,#33adf7 87.5%)"></i><i style="height:1px;background:linear-gradient(90deg,#37a8fa 12.5%,#37a8fa 87.5%)"></i><i style="height:1px;background:linear-gradient(90deg,#3aa3fc 12.5%,#3aa3fc 87.5%)"></i><i style="height:1px;background:linear-gradient(90deg,#3d9dfe 12.5%,#3d9dfe 87.5%)"></i><i style="height:1px;background:linear-gradient(90deg,#4098ff 12.5%,#4098ff 87.5%)"></i><i style="height:1px;background:linear-gradient(90deg,#4293ff 12.5%,#4293ff 87.5%)"></i><i style="height:1px;background:linear-gradient(90deg,#448efe 12.5%,#448efe 87.5%)"></i><i style="height:1px;background:linear-gradient(90deg,#4589fc 12.5%,#4589fc 87.5%)"></i><i style="height:1px;background:linear-gradient(90deg,#4683f9 12.5%,#4683f9 87.5%)"></i><i style="height:1px;background:linear-gradient(90deg,#467ef5 12.5%,#467ef5 87.5%)"></i><i style="height:1px;background:linear-gradient(90deg,#4779f1 12.5%,#4779f1 87.5%)"></i><i style="height:1px;background:linear-gradient(90deg,#4774ec 12.5%,#4774ec 87.5%)"></i><i style="height:1px;background:linear-gradient(90deg,#476ee7 12.5%,#476ee7 87.5%)"></i><i style="height:1px;background:linear-gradient(90deg,#4669e1 12.5%,#4669e1 87.5%)"></i><i style="height:1px;background:linear-gradient(90deg,#4664da 12.5%,#4664da 87.5%)"></i><i style="height:1px;background:linear-gradient(90deg,#455ed3 12.5%,#455ed3 87.5%)"></i><i style="height:1px;background:linear-gradient(90deg,#4559cb 12.5%,#4559cb 87.5%)"></i><i style="height:1px;background:linear-gradient(90deg,#4453c2 12.5%,#4453c2 87.5%)"></i><i style="height:1px;background:linear-gradient(90deg,#434db9 12.5%,#434db9 87.5%)"></i><i style="height:1px;background:linear-gradient(90deg,#4248af 12.5%,#4248af 87.5%)"></i><i style="height:1px;background:linear-gradient(90deg,#4042a5 12.5%,#4042a5 87.5%)"></i><i style="height:1px;background:linear-gradient(90deg,#3f3c9a 12.5%,#3f3c9a 87.5%)"></i><i style="height:1px;background:linear-gradient(90deg,#3d368e 12.5%,#3d368e 87.5%)"></i><i style="height:1px;background:linear-gradient(90deg,#3c3082 12.5%,#3c3082 87.5%)"></i><i style="height:1px;background:linear-gradient(90deg,#3a2b75 12.5%,#3a2b75 87.5%)"></i><i style="height:1px;background:linear-gradient(90deg,#382567 12.5%,#382567 87.5%)"></i><i style="height:1px;background:linear-gradient(90deg,#351f59 12.5%,#351f59 87.5%)"></i><i style="height:1px;background:linear-gradient(90deg,#33184b 12.5%,#33184b 87.5%)"></i><i style="height:1px;background:linear-gradient(90deg,#30123b 12.5%,#30123b 87.5%)"></i></div>
<div style="position:absolute;left:180.60px;top:247.00px;width:10.40px;height:124.00px;box-sizing:border-box;border:0.5px solid rgba(38,38,38,.4)"></div>
<span class="t" style="left:105.00px;top:233.69px;font-size:11.00px;color:#000">Reference</span>
<span class="t" style="left:194.80px;top:234.38px;font-size:9.00px;color:#000">(°)</span>
<span class="l" style="left:194.10px;top:271.14px;font-size:9.00px">50</span>
<span class="l" style="left:194.10px;top:305.58px;font-size:9.00px">0</span>
<span class="l" style="left:194.10px;top:340.03px;font-size:9.00px">-50</span>
<span class="t" style="left:36.00px;top:376.34px;font-size:10.00px">0</span>
<span class="r" style="left:32.60px;top:367.34px;font-size:10.00px">0</span>
<span class="t" style="left:63.60px;top:376.34px;font-size:10.00px">0.5</span>
<span class="r" style="left:32.60px;top:342.54px;font-size:10.00px">0.5</span>
<span class="t" style="left:91.20px;top:376.34px;font-size:10.00px">1</span>
<span class="r" style="left:32.60px;top:317.74px;font-size:10.00px">1</span>
<span class="t" style="left:118.80px;top:376.34px;font-size:10.00px">1.5</span>
<span class="r" style="left:32.60px;top:292.94px;font-size:10.00px">1.5</span>
<span class="t" style="left:146.40px;top:376.34px;font-size:10.00px">2</span>
<span class="r" style="left:32.60px;top:268.14px;font-size:10.00px">2</span>
<span class="t" style="left:174.00px;top:376.34px;font-size:10.00px">2.5</span>
<span class="r" style="left:32.60px;top:243.34px;font-size:10.00px">2.5</span>
<span class="t" style="left:105.00px;top:388.79px;font-size:11.00px">x-position(mm)</span>
<span class="v" style="left:10.60px;top:309.00px;font-size:11px">y-position(mm)</span>
<div class="h g" style="left:229px;top:40px;width:76px;height:62px"><i style="background:linear-gradient(90deg,#5c5c5c 0,#5f5f5f 8.2px,#5e5e5e 15.8px,#4b4b4b 23.4px,#383838 31px,#353535 38.6px,#393939 46.2px,#4d4d4d 61.4px,#555 69px,#5e5e5e)"></i><i style="background:linear-gradient(90deg,#5c5c5c 0,#5f5f5f 9.4px,#5f5f5f 15.2px,#4e4e4e 22.8px,#393939 30.4px,#353535 38px,#373737 45.6px,#4e4e4e 62.6px,#565656 70.2px,#5e5e5e)"></i><i style="background:linear-gradient(90deg,#5c5c5c 0,#5f5f5f 7.6px,#5f5f5f 15.2px,#5a5a5a 18.3px,#505050 22.8px,#454545 25.9px,#393939 30.4px,#363636 33.5px,#353535 41.1px,#363636 45.6px,#4b4b4b 60.8px,#575757 71.5px,#5d5d5d)"></i><i style="background:linear-gradient(90deg,#5c5c5c 0,#606060 7.6px,#606060 15.2px,#595959 19.5px,#515151 22.8px,#424242 27.1px,#3a3a3a 30.4px,#353535 34.7px,#343434 42.3px,#353535 45.6px,#4b4b4b 60.8px,#585858 72.7px,#5d5d5d)"></i><i style="background:linear-gradient(90deg,#5c5c5c 0,#606060 7.6px,#606060 15.2px,#525252 22.8px,#3a3a3a 30.4px,#343434 38px,#343434 45.6px,#3f3f3f 53.2px,#4b4b4b 60.8px,#525252 68.4px,#5c5c5c)"></i><i style="background:linear-gradient(90deg,#5c5c5c 0,#616161 7.6px,#616161 15.2px,#535353 22.8px,#3a3a3a 30.4px,#333 38px,#343434 45.6px,#3e3e3e 53.2px,#4a4a4a 60.8px,#525252 68.4px,#5c5c5c)"></i><i style="background:linear-gradient(90deg,#5c5c5c 0,#616161 8px,#616161 15.6px,#535353 23.2px,#3a3a3a 30.8px,#333 38.4px,#333 46px,#3e3e3e 53.6px,#4a4a4a 61.2px,#525252 68.8px,#5c5c5c)"></i><i style="background:linear-gradient(90deg,#5b5b5b 0,#616161 9.2px,#606060 16.8px,#565656 22.8px,#3c3c3c 30.4px,#313131 39.6px,#313131 45.6px,#3f3f3f 54.8px,#4b4b4b 62.4px,#535353 70px,#5b5b5b)"></i><i style="background:linear-gradient(90deg,#5a5a5a 0,#616161 10.4px,#616161 15.2px,#5f5f5f 18px,#575757 22.8px,#3d3d3d 30.4px,#383838 33.2px,#303030 40.8px,#303030 45.6px,#3a3a3a 53.2px,#4c4c4c 63.6px,#5a5a5a)"></i><i style="background:linear-gradient(90deg,#595959 0,#606060 7.6px,#616161 15.2px,#5e5e5e 19.2px,#585858 22.8px,#3d3d3d 30.4px,#373737 34.4px,#2f2f2f 42px,#2f2f2f 45.6px,#393939 53.2px,#474747 60.8px,#595959)"></i><i style="background:linear-gradient(90deg,#585858 0,#5f5f5f 7.6px,#616161 15.2px,#5d5d5d 20.5px,#595959 22.8px,#3e3e3e 30.4px,#353535 35.7px,#2e2e2e 43.3px,#2e2e2e 45.6px,#383838 53.2px,#464646 60.8px,#505050 68.4px,#585858)"></i><i style="background:linear-gradient(90deg,#575757 0,#5f5f5f 7.6px,#616161 15.2px,#5b5b5b 22.8px,#3f3f3f 30.4px,#333 38px,#2c2c2c 45.6px,#373737 53.2px,#464646 60.8px,#4f4f4f 68.4px,#575757)"></i><i style="background:linear-gradient(90deg,#575757 0,#5e5e5e 7.7px,#616161 15.3px,#5c5c5c 22.9px,#404040 30.5px,#333 38.1px,#2b2b2b 45.7px,#363636 53.3px,#454545 60.9px,#4f4f4f 68.5px,#575757)"></i><i style="background:linear-gradient(90deg,#555 0,#5e5e5e 8.9px,#616161 16.5px,#5d5d5d 22.8px,#3e3e3e 31.7px,#333 39.3px,#2c2c2c 45.6px,#2d2d2d 46.9px,#373737 54.5px,#464646 62.1px,#505050 69.7px,#565656)"></i><i style="background:linear-gradient(90deg,#545454 0,#5e5e5e 10.2px,#626262 17.8px,#5e5e5e 22.8px,#575757 25.4px,#444 30.4px,#3d3d3d 33px,#353535 38px,#2d2d2d 45.6px,#2e2e2e 48.2px,#393939 55.8px,#434343 60.8px,#505050 71px,#555)"></i><i style="background:linear-gradient(90deg,#535353 0,#5e5e5e 11.4px,#626262 19px,#606060 22.8px,#545454 26.6px,#464646 30.4px,#3c3c3c 34.2px,#363636 38px,#2e2e2e 45.6px,#2f2f2f 49.4px,#3b3b3b 57px,#424242 60.8px,#505050 72.2px,#545454)"></i><i style="background:linear-gradient(90deg,#525252 0,#5e5e5e 12.6px,#636363 20.2px,#616161 22.8px,#525252 27.8px,#484848 30.4px,#3b3b3b 35.4px,#363636 38px,#2f2f2f 45.6px,#303030 50.6px,#414141 60.8px,#515151 73.4px,#535353)"></i><i style="background:linear-gradient(90deg,#505050 0,#5f5f5f 15.2px,#636363 21.5px,#626262 22.8px,#4a4a4a 30.4px,#393939 36.7px,#303030 45.6px,#323232 51.9px,#414141 60.8px,#4b4b4b 68.4px,#535353)"></i><i style="background:linear-gradient(90deg,#4f4f4f 0,#5e5e5e 15.2px,#636363 22.8px,#4c4c4c 30.4px,#383838 38px,#303030 45.6px,#333 53.2px,#404040 60.8px,#4a4a4a 68.4px,#525252)"></i><i style="background:linear-gradient(90deg,#4e4e4e 0,#5f5f5f 16.3px,#656565 23.9px,#4c4c4c 31.5px,#383838 39.1px,#303030 46.7px,#333 54.3px,#404040 61.9px,#4a4a4a 69.5px,#505050)"></i><i style="background:linear-gradient(90deg,#4d4d4d 0,#5d5d5d 15.2px,#616161 17.5px,#666 25.1px,#565656 30.4px,#4c4c4c 32.7px,#393939 40.3px,#303030 47.9px,#343434 55.5px,#404040 63.1px,#4a4a4a 70.7px,#4f4f4f)"></i><i style="background:linear-gradient(90deg,#4d4d4d 0,#5c5c5c 15.2px,#626262 18.8px,#676767 26.4px,#5b5b5b 30.4px,#4c4c4c 34px,#393939 41.6px,#303030 49.2px,#343434 56.8px,#4a4a4a 72px,#4e4e4e)"></i><i style="background:linear-gradient(90deg,#4c4c4c 0,#5b5b5b 15.2px,#636363 20px,#686868 27.6px,#606060 30.4px,#4c4c4c 35.2px,#3a3a3a 42.8px,#303030 50.4px,#353535 58px,#4d4d4d)"></i><i style="background:linear-gradient(90deg,#4b4b4b 0,#5a5a5a 15.2px,#646464 21.2px,#696969 28.8px,#656565 30.4px,#4c4c4c 36.4px,#3a3a3a 44px,#303030 51.6px,#353535 59.2px,#4c4c4c)"></i><i style="background:linear-gradient(90deg,#4a4a4a 0,#595959 15.2px,#666 22.8px,#6b6b6b 30px,#4c4c4c 38px,#3a3a3a 45.6px,#313131 53.2px,#363636 60.8px,#4a4a4a)"></i><i style="background:linear-gradient(90deg,#494949 0,#595959 16.1px,#666 23.7px,#6a6a6a 30.4px,#696969 31.3px,#4c4c4c 38.9px,#3a3a3a 46.5px,#313131 54.1px,#363636 61.7px,#494949)"></i><i style="background:linear-gradient(90deg,#494949 0,#585858 15.2px,#595959 17.3px,#656565 24.9px,#696969 30.4px,#676767 32.5px,#515151 38px,#3d3d3d 45.6px,#333 53.2px,#323232 55.3px,#373737 62.9px,#494949)"></i><i style="background:linear-gradient(90deg,#484848 0,#575757 15.2px,#585858 18.5px,#656565 26.1px,#686868 30.4px,#646464 33.7px,#535353 38px,#494949 41.3px,#3f3f3f 45.6px,#343434 53.2px,#333 56.5px,#383838 64.1px,#484848)"></i><i style="background:linear-gradient(90deg,#474747 0,#565656 15.2px,#585858 19.7px,#646464 27.3px,#676767 30.4px,#626262 34.9px,#565656 38px,#484848 42.5px,#414141 45.6px,#353535 53.2px,#333 57.7px,#393939 65.3px,#474747)"></i><i style="background:linear-gradient(90deg,#464646 0,#555 15.2px,#575757 21px,#646464 28.6px,#656565 30.4px,#606060 36.2px,#585858 38px,#424242 45.6px,#363636 53.2px,#343434 59px,#3c3c3c 68.4px,#464646)"></i><i style="background:linear-gradient(90deg,#454545 0,#555 15.2px,#585858 22.8px,#646464 30.4px,#5d5d5d 37.4px,#444 45.6px,#373737 53.2px,#363636 60.8px,#3b3b3b 68.4px,#454545)"></i><i style="background:linear-gradient(90deg,#444 0,#545454 15.8px,#585858 23.4px,#636363 31px,#5b5b5b 38.6px,#444 46.2px,#383838 53.8px,#353535 61.4px,#3b3b3b 69px,#444)"></i><i style="background:linear-gradient(90deg,#444 0,#545454 17px,#565656 22.8px,#636363 30.4px,#636363 32.2px,#5e5e5e 38px,#434343 47.4px,#373737 55px,#343434 62.6px,#3b3b3b 70.2px,#424242)"></i><i style="background:linear-gradient(90deg,#434343 0,#545454 18.3px,#565656 22.8px,#626262 30.4px,#636363 33.5px,#5f5f5f 38px,#494949 45.6px,#424242 48.7px,#3a3a3a 53.2px,#373737 56.3px,#333 63.9px,#373737 68.4px,#414141)"></i><i style="background:linear-gradient(90deg,#424242 0,#4c4c4c 11.9px,#545454 19.5px,#555 22.8px,#626262 30.4px,#636363 34.7px,#606060 38px,#4b4b4b 45.6px,#414141 49.9px,#3b3b3b 53.2px,#373737 57.5px,#333 65.1px,#353535 68.4px,#3f3f3f)"></i><i style="background:linear-gradient(90deg,#414141 0,#474747 7.6px,#545454 20.7px,#555 22.8px,#626262 30.4px,#636363 35.9px,#616161 38px,#4c4c4c 45.6px,#3c3c3c 53.2px,#363636 60.8px,#323232 66.3px,#3b3b3b 73.9px,#3d3d3d)"></i><i style="background:linear-gradient(90deg,#404040 0,#464646 7.6px,#545454 22.8px,#616161 30.4px,#636363 37.1px,#636363 38px,#4e4e4e 45.6px,#3d3d3d 53.2px,#363636 60.8px,#313131 67.5px,#3c3c3c)"></i><i style="background:linear-gradient(90deg,#404040 0,#454545 8px,#545454 23.2px,#616161 30.8px,#636363 38.4px,#4f4f4f 46px,#3d3d3d 53.6px,#353535 61.2px,#313131 68.8px,#3a3a3a)"></i><i style="background:linear-gradient(90deg,#3f3f3f 0,#454545 9.2px,#555 24.4px,#626262 32px,#646464 38px,#636363 39.6px,#4e4e4e 47.2px,#3d3d3d 54.8px,#343434 62.4px,#303030 68.4px,#3a3a3a)"></i><i style="background:linear-gradient(90deg,#3e3e3e 0,#454545 10.4px,#565656 25.6px,#636363 33.2px,#646464 38px,#636363 40.8px,#4d4d4d 48.4px,#3c3c3c 56px,#373737 60.8px,#333 63.6px,#303030 68.4px,#393939)"></i><i style="background:linear-gradient(90deg,#3d3d3d 0,#484848 15.2px,#575757 26.8px,#646464 34.4px,#656565 38px,#626262 42px,#4c4c4c 49.6px,#3c3c3c 57.2px,#383838 60.8px,#313131 64.8px,#2f2f2f 68.4px,#383838)"></i><i style="background:linear-gradient(90deg,#3c3c3c 0,#474747 15.2px,#5c5c5c 30.4px,#646464 35.7px,#656565 38px,#626262 43.3px,#464646 53.2px,#3b3b3b 58.5px,#393939 60.8px,#303030 66.1px,#2f2f2f 68.4px,#373737)"></i><i style="background:linear-gradient(90deg,#3b3b3b 0,#464646 15.2px,#5a5a5a 30.4px,#656565 36.9px,#616161 44.5px,#484848 53.2px,#3a3a3a 60.8px,#2e2e2e 68.4px,#363636)"></i><i style="background:linear-gradient(90deg,#3b3b3b 0,#454545 15.3px,#595959 30.5px,#666 38.1px,#616161 45.7px,#4a4a4a 53.3px,#3b3b3b 60.9px,#2e2e2e 68.5px,#363636)"></i><i style="background:linear-gradient(90deg,#3a3a3a 0,#454545 16.5px,#5a5a5a 31.7px,#666 39.3px,#606060 46.9px,#494949 54.5px,#3a3a3a 62.1px,#2f2f2f 68.4px,#2f2f2f 69.7px,#363636)"></i><i style="background:linear-gradient(90deg,#3a3a3a 0,#3a3a3a 2.6px,#454545 17.8px,#5a5a5a 33px,#636363 38px,#656565 40.6px,#5f5f5f 48.2px,#484848 55.8px,#303030 68.4px,#303030 71px,#363636)"></i><i style="background:linear-gradient(90deg,#393939 0,#393939 3.8px,#454545 19px,#616161 38px,#656565 41.8px,#5e5e5e 49.4px,#474747 57px,#323232 68.4px,#323232 72.2px,#363636)"></i><i style="background:linear-gradient(90deg,#393939 0,#393939 5px,#404040 15.2px,#484848 22.8px,#5f5f5f 38px,#646464 43px,#5e5e5e 50.6px,#474747 58.2px,#333 68.4px,#333 73.4px,#363636)"></i><i style="background:linear-gradient(90deg,#393939 0,#393939 7.6px,#3f3f3f 15.2px,#474747 22.8px,#535353 30.4px,#5e5e5e 38px,#646464 44.3px,#5d5d5d 51.9px,#464646 59.5px,#343434 68.4px,#343434 74.7px,#363636)"></i><i style="background:linear-gradient(90deg,#383838 0,#383838 7.6px,#3d3d3d 15.2px,#454545 22.8px,#525252 30.4px,#5c5c5c 38px,#636363 45.6px,#5c5c5c 53.2px,#454545 60.8px,#353535 68.4px,#363636)"></i><i style="background:linear-gradient(90deg,#393939 0,#383838 8.7px,#3e3e3e 16.3px,#464646 23.9px,#525252 31.5px,#5c5c5c 39.1px,#636363 46.7px,#5a5a5a 54.3px,#444 61.9px,#373737 68.4px,#363636)"></i><i style="background:linear-gradient(90deg,#3a3a3a 0,#373737 2.3px,#383838 9.9px,#3e3e3e 17.5px,#464646 25.1px,#525252 32.7px,#5c5c5c 40.3px,#636363 47.9px,#5d5d5d 53.2px,#595959 55.5px,#434343 63.1px,#383838 68.4px,#363636 70.7px,#363636)"></i><i style="background:linear-gradient(90deg,#3a3a3a 0,#373737 3.6px,#383838 11.2px,#424242 22.8px,#585858 38px,#626262 49.2px,#5e5e5e 53.2px,#575757 56.8px,#414141 64.4px,#393939 68.4px,#373737 72px,#373737)"></i><i style="background:linear-gradient(90deg,#3b3b3b 0,#363636 4.8px,#3a3a3a 15.2px,#484848 27.6px,#575757 38px,#626262 50.4px,#5f5f5f 53.2px,#555 58px,#404040 65.6px,#3a3a3a 68.4px,#373737 73.2px,#373737)"></i><i style="background:linear-gradient(90deg,#3c3c3c 0,#363636 6px,#393939 15.2px,#414141 22.8px,#565656 38px,#5d5d5d 45.6px,#616161 51.6px,#606060 53.2px,#545454 59.2px,#3c3c3c 68.4px,#383838)"></i><i style="background:linear-gradient(90deg,#3d3d3d 0,#363636 7.6px,#383838 15.2px,#404040 22.8px,#555 38px,#5c5c5c 45.6px,#616161 53.2px,#515151 60.8px,#3d3d3d 68.4px,#383838)"></i><i style="background:linear-gradient(90deg,#3e3e3e 0,#363636 8.5px,#383838 16.1px,#404040 23.7px,#545454 38.9px,#5c5c5c 46.5px,#606060 54.1px,#505050 61.7px,#3e3e3e 68.4px,#383838)"></i><i style="background:linear-gradient(90deg,#3f3f3f 0,#363636 7.6px,#373737 15.2px,#414141 24.9px,#545454 40.1px,#5c5c5c 47.7px,#606060 53.2px,#5f5f5f 55.3px,#4e4e4e 62.9px,#3f3f3f 68.4px,#393939)"></i><i style="background:linear-gradient(90deg,#414141 0,#3b3b3b 3.3px,#373737 7.6px,#363636 10.9px,#393939 18.5px,#545454 41.3px,#5f5f5f 53.2px,#5e5e5e 56.5px,#555 60.8px,#414141 68.4px,#3c3c3c 71.7px,#393939)"></i><i style="background:linear-gradient(90deg,#424242 0,#3a3a3a 4.5px,#373737 7.6px,#363636 12.1px,#3a3a3a 19.7px,#545454 42.5px,#5e5e5e 53.2px,#5c5c5c 57.7px,#565656 60.8px,#424242 68.4px,#3c3c3c 72.9px,#3a3a3a)"></i><i style="background:linear-gradient(90deg,#434343 0,#373737 7.6px,#363636 15.2px,#3c3c3c 22.8px,#464646 30.4px,#5d5d5d 53.2px,#5b5b5b 59px,#434343 68.4px,#3a3a3a)"></i><i style="background:linear-gradient(90deg,#444 0,#383838 7.6px,#363636 15.2px,#3b3b3b 22.8px,#454545 30.4px,#5c5c5c 53.2px,#595959 60.8px,#444 68.4px,#3a3a3a)"></i></div>
<span class="t" style="left:267.00px;top:29.98px;font-size:9.00px;color:#000">(P-q1)</span>
<span class="l" style="left:245.20px;top:92.80px;font-size:8.50px;color:#111">0.9171±0.0004</span>
<span class="t" style="left:229.00px;top:106.48px;font-size:9.00px">0</span>
<span class="r" style="left:226.70px;top:98.58px;font-size:9.00px">0</span>
<span class="t" style="left:259.40px;top:106.48px;font-size:9.00px">1</span>
<span class="r" style="left:226.70px;top:73.78px;font-size:9.00px">1</span>
<span class="t" style="left:289.80px;top:106.48px;font-size:9.00px">2</span>
<span class="r" style="left:226.70px;top:48.98px;font-size:9.00px">2</span>
<div class="h g" style="left:229px;top:127px;width:76px;height:62px"><i style="background:linear-gradient(90deg,#8c8c8c 0,#949494 8.2px,#a8a8a8 15.2px,#d2d2d2 22.8px,#d2d2d2 23.4px,#b2b2b2 31px,#a2a2a2 38.6px,#848484 61.4px,#808080 69px,#878787)"></i><i style="background:linear-gradient(90deg,#8a8a8a 0,#949494 9.4px,#a4a4a4 15.2px,#cfcfcf 22.8px,#cfcfcf 24.6px,#b6b6b6 30.4px,#b0b0b0 32.2px,#a1a1a1 39.8px,#828282 62.6px,#7e7e7e 68.4px,#858585)"></i><i style="background:linear-gradient(90deg,#898989 0,#949494 10.7px,#a1a1a1 15.2px,#cbcbcb 22.8px,#cbcbcb 25.9px,#b8b8b8 30.4px,#aeaeae 33.5px,#9f9f9f 41.1px,#808080 63.9px,#7d7d7d 68.4px,#848484)"></i><i style="background:linear-gradient(90deg,#888 0,#949494 11.9px,#9d9d9d 15.2px,#c8c8c8 22.8px,#c8c8c8 27.1px,#bababa 30.4px,#acacac 34.7px,#9d9d9d 42.3px,#838383 60.8px,#7d7d7d 68.4px,#838383)"></i><i style="background:linear-gradient(90deg,#878787 0,#949494 13.1px,#9a9a9a 15.2px,#c5c5c5 22.8px,#c5c5c5 28.3px,#bcbcbc 30.4px,#aaa 35.9px,#999 45.6px,#8d8d8d 53.2px,#838383 60.8px,#7c7c7c 68.4px,#828282)"></i><i style="background:linear-gradient(90deg,#858585 0,#949494 14.3px,#969696 15.2px,#c2c2c2 22.8px,#c2c2c2 29.5px,#a6a6a6 38px,#8d8d8d 53.2px,#828282 60.8px,#7b7b7b 68.4px,#808080)"></i><i style="background:linear-gradient(90deg,#848484 0,#949494 15.6px,#c0c0c0 23.2px,#bfbfbf 30.8px,#a6a6a6 38.4px,#8c8c8c 53.6px,#828282 61.2px,#7b7b7b 68.8px,#808080)"></i><i style="background:linear-gradient(90deg,#828282 0,#959595 16.8px,#c1c1c1 24.4px,#c1c1c1 30.4px,#a9a9a9 38px,#8a8a8a 54.8px,#808080 62.4px,#7a7a7a 68.4px,#808080)"></i><i style="background:linear-gradient(90deg,#818181 0,#919191 15.2px,#969696 18px,#b1b1b1 22.8px,#c3c3c3 25.6px,#c3c3c3 30.4px,#ababab 38px,#8f8f8f 53.2px,#888 56px,#797979 68.4px,#808080)"></i><i style="background:linear-gradient(90deg,#7f7f7f 0,#909090 15.2px,#979797 19.2px,#ababab 22.8px,#c5c5c5 26.8px,#c5c5c5 30.4px,#adadad 38px,#969696 49.6px,#909090 53.2px,#878787 57.2px,#797979 68.4px,#808080)"></i><i style="background:linear-gradient(90deg,#7e7e7e 0,#878787 7.6px,#8f8f8f 15.2px,#979797 20.5px,#a5a5a5 22.8px,#c6c6c6 28.1px,#c6c6c6 30.4px,#afafaf 38px,#959595 50.9px,#929292 53.2px,#858585 58.5px,#797979 68.4px,#808080)"></i><i style="background:linear-gradient(90deg,#7c7c7c 0,#868686 7.6px,#8d8d8d 15.2px,#989898 21.7px,#c8c8c8 29.3px,#c8c8c8 30.4px,#b2b2b2 38px,#939393 53.2px,#828282 60.8px,#787878 68.4px,#808080)"></i><i style="background:linear-gradient(90deg,#7a7a7a 0,#858585 7.7px,#8c8c8c 15.3px,#999 22.9px,#c9c9c9 30.5px,#b3b3b3 38.1px,#949494 53.3px,#828282 60.9px,#787878 68.5px,#808080)"></i><i style="background:linear-gradient(90deg,#797979 0,#868686 8.9px,#8e8e8e 16.5px,#989898 22.8px,#9c9c9c 24.1px,#c4c4c4 30.4px,#c8c8c8 31.7px,#b2b2b2 39.3px,#959595 53.2px,#838383 60.8px,#797979 68.4px,#797979 69.7px,#808080)"></i><i style="background:linear-gradient(90deg,#787878 0,#868686 10.2px,#8f8f8f 17.8px,#979797 22.8px,#9f9f9f 25.4px,#bfbfbf 30.4px,#c6c6c6 33px,#b1b1b1 40.6px,#a0a0a0 48.2px,#909090 55.8px,#858585 60.8px,#7a7a7a 68.4px,#7a7a7a 71px,#808080)"></i><i style="background:linear-gradient(90deg,#777 0,#878787 11.4px,#909090 19px,#969696 22.8px,#a1a1a1 26.6px,#bababa 30.4px,#c4c4c4 34.2px,#b0b0b0 41.8px,#9e9e9e 49.4px,#868686 60.8px,#7c7c7c 68.4px,#7c7c7c 72.2px,#808080)"></i><i style="background:linear-gradient(90deg,#757575 0,#888 12.6px,#969696 22.8px,#a4a4a4 27.8px,#b4b4b4 30.4px,#c3c3c3 35.4px,#afafaf 43px,#979797 53.2px,#878787 60.8px,#7d7d7d 68.4px,#7d7d7d 73.4px,#808080)"></i><i style="background:linear-gradient(90deg,#747474 0,#808080 7.6px,#959595 22.8px,#a7a7a7 29.1px,#afafaf 30.4px,#c1c1c1 36.7px,#989898 53.2px,#888 60.8px,#7e7e7e 68.4px,#7e7e7e 74.7px,#808080)"></i><i style="background:linear-gradient(90deg,#737373 0,#808080 7.6px,#949494 22.8px,#bfbfbf 38px,#999 53.2px,#8a8a8a 60.8px,#7f7f7f 68.4px,#808080)"></i><i style="background:linear-gradient(90deg,#727272 0,#808080 8.7px,#949494 23.9px,#bebebe 38px,#bfbfbf 39.1px,#999 54.3px,#8a8a8a 61.9px,#808080 69.5px,#808080)"></i><i style="background:linear-gradient(90deg,#707070 0,#878787 15.2px,#959595 25.1px,#a4a4a4 30.4px,#adadad 32.7px,#bcbcbc 38px,#bebebe 40.3px,#989898 55.5px,#8e8e8e 60.8px,#818181 70.7px,#818181)"></i><i style="background:linear-gradient(90deg,#6f6f6f 0,#868686 15.2px,#959595 26.4px,#a1a1a1 30.4px,#aeaeae 34px,#bababa 38px,#bdbdbd 41.6px,#9f9f9f 53.2px,#909090 60.8px,#828282 72px,#828282)"></i><i style="background:linear-gradient(90deg,#6e6e6e 0,#8b8b8b 20px,#969696 27.6px,#9e9e9e 30.4px,#b0b0b0 35.2px,#b8b8b8 38px,#bcbcbc 42.8px,#a1a1a1 53.2px,#929292 60.8px,#838383 73.2px,#838383)"></i><i style="background:linear-gradient(90deg,#6d6d6d 0,#777 7.6px,#848484 15.2px,#969696 28.8px,#9a9a9a 30.4px,#b1b1b1 36.4px,#b6b6b6 38px,#bbb 44px,#a3a3a3 53.2px,#949494 60.8px,#8a8a8a 68.4px,#848484 74.4px,#848484)"></i><i style="background:linear-gradient(90deg,#6b6b6b 0,#767676 7.6px,#828282 15.2px,#979797 30.4px,#b4b4b4 38px,#bababa 45.2px,#a6a6a6 53.2px,#969696 60.8px,#8c8c8c 68.4px,#848484)"></i><i style="background:linear-gradient(90deg,#6d6d6d 0,#6c6c6c .9px,#767676 8.5px,#838383 16.1px,#989898 31.3px,#b5b5b5 38.9px,#bcbcbc 46.5px,#a7a7a7 54.1px,#979797 61.7px,#8c8c8c 69.3px,#858585)"></i><i style="background:linear-gradient(90deg,#717171 0,#6c6c6c 2.1px,#787878 9.7px,#848484 17.3px,#959595 30.4px,#9a9a9a 32.5px,#b7b7b7 40.1px,#bebebe 47.7px,#b0b0b0 53.2px,#a8a8a8 55.3px,#979797 62.9px,#8c8c8c 70.5px,#878787)"></i><i style="background:linear-gradient(90deg,#747474 0,#6d6d6d 3.3px,#737373 7.6px,#818181 15.2px,#949494 30.4px,#9c9c9c 33.7px,#b9b9b9 41.3px,#c1c1c1 48.9px,#b6b6b6 53.2px,#a9a9a9 56.5px,#989898 64.1px,#8c8c8c 71.7px,#888)"></i><i style="background:linear-gradient(90deg,#777 0,#6e6e6e 4.5px,#727272 7.6px,#818181 15.2px,#939393 30.4px,#9e9e9e 34.9px,#bbb 42.5px,#c3c3c3 50.1px,#bbb 53.2px,#aaa 57.7px,#989898 65.3px,#8c8c8c 72.9px,#898989)"></i><i style="background:linear-gradient(90deg,#7b7b7b 0,#6f6f6f 5.8px,#808080 15.2px,#8a8a8a 22.8px,#939393 30.4px,#a0a0a0 36.2px,#bcbcbc 43.8px,#c6c6c6 51.4px,#c1c1c1 53.2px,#ababab 59px,#989898 66.6px,#8a8a8a)"></i><i style="background:linear-gradient(90deg,#7e7e7e 0,#707070 7px,#808080 15.2px,#8a8a8a 22.8px,#929292 30.4px,#a4a4a4 38px,#bebebe 45px,#c8c8c8 52.6px,#ababab 60.8px,#989898 68.4px,#8c8c8c)"></i><i style="background:linear-gradient(90deg,#838383 0,#808080 .6px,#707070 8.2px,#808080 15.8px,#8a8a8a 23.4px,#929292 31px,#a2a2a2 38px,#c0c0c0 46.2px,#cacaca 53.2px,#c9c9c9 53.8px,#adadad 61.4px,#9a9a9a 69px,#8e8e8e)"></i><i style="background:linear-gradient(90deg,#898989 0,#818181 1.8px,#717171 9.4px,#808080 17px,#8a8a8a 24.6px,#939393 32.2px,#a1a1a1 38px,#bebebe 45.6px,#c3c3c3 47.4px,#cbcbcb 53.2px,#c8c8c8 55px,#b2b2b2 60.8px,#9e9e9e 68.4px,#919191)"></i><i style="background:linear-gradient(90deg,#8f8f8f 0,#828282 3.1px,#717171 10.7px,#808080 18.3px,#8b8b8b 25.9px,#8f8f8f 30.4px,#949494 33.5px,#9f9f9f 38px,#acacac 41.1px,#bdbdbd 45.6px,#c5c5c5 48.7px,#ccc 53.2px,#c6c6c6 56.3px,#b5b5b5 60.8px,#a1a1a1 68.4px,#949494)"></i><i style="background:linear-gradient(90deg,#959595 0,#828282 4.3px,#727272 11.9px,#808080 19.5px,#8b8b8b 27.1px,#8e8e8e 30.4px,#969696 34.7px,#9d9d9d 38px,#b0b0b0 42.3px,#bcbcbc 45.6px,#c8c8c8 49.9px,#ccc 53.2px,#c5c5c5 57.5px,#b9b9b9 60.8px,#a4a4a4 68.4px,#979797)"></i><i style="background:linear-gradient(90deg,#9c9c9c 0,#838383 5.5px,#727272 13.1px,#8c8c8c 28.3px,#979797 35.9px,#9c9c9c 38px,#bcbcbc 45.6px,#cacaca 51.1px,#cdcdcd 53.2px,#c4c4c4 58.7px,#bcbcbc 60.8px,#a7a7a7 68.4px,#9a9a9a)"></i><i style="background:linear-gradient(90deg,#a2a2a2 0,#848484 6.7px,#727272 14.3px,#9a9a9a 38px,#bbb 45.6px,#cdcdcd 52.3px,#cecece 53.2px,#c3c3c3 59.9px,#ababab 68.4px,#9d9d9d)"></i><i style="background:linear-gradient(90deg,#aaa 0,#a7a7a7 .4px,#878787 7.6px,#848484 8px,#737373 15.6px,#999 38px,#bababa 45.6px,#cfcfcf 53.6px,#c2c2c2 61.2px,#adadad 68.8px,#a0a0a0)"></i><i style="background:linear-gradient(90deg,#b6b6b6 0,#aaa 1.6px,#909090 7.6px,#848484 9.2px,#757575 15.2px,#747474 16.8px,#8a8a8a 30.4px,#8e8e8e 32px,#989898 38px,#bababa 45.6px,#bcbcbc 47.2px,#d1d1d1 54.8px,#c7c7c7 60.8px,#adadad 70px,#a2a2a2)"></i><i style="background:linear-gradient(90deg,#c2c2c2 0,#aeaeae 2.8px,#989898 7.6px,#838383 10.4px,#777 15.2px,#757575 18px,#7d7d7d 22.8px,#808080 25.6px,#888 30.4px,#8f8f8f 33.2px,#979797 38px,#a5a5a5 40.8px,#bababa 45.6px,#bebebe 48.4px,#d2d2d2 56px,#cacaca 60.8px,#adadad 71.2px,#a5a5a5)"></i><i style="background:linear-gradient(90deg,#cfcfcf 0,#b1b1b1 4px,#a1a1a1 7.6px,#828282 11.6px,#7a7a7a 15.2px,#757575 19.2px,#7b7b7b 22.8px,#808080 26.8px,#858585 30.4px,#909090 34.4px,#969696 38px,#ababab 42px,#bababa 45.6px,#c0c0c0 49.6px,#d4d4d4 57.2px,#cecece 60.8px,#adadad 72.4px,#a7a7a7)"></i><i style="background:linear-gradient(90deg,#dbdbdb 0,#b4b4b4 5.3px,#aaa 7.6px,#818181 12.9px,#7c7c7c 15.2px,#767676 20.5px,#7a7a7a 22.8px,#808080 28.1px,#838383 30.4px,#929292 35.7px,#959595 38px,#b0b0b0 43.3px,#bababa 45.6px,#c1c1c1 50.9px,#d6d6d6 58.5px,#d2d2d2 60.8px,#bdbdbd 68.4px,#adadad 73.7px,#a9a9a9)"></i><i style="background:linear-gradient(90deg,#e7e7e7 0,#b7b7b7 6.5px,#b2b2b2 7.6px,#808080 14.1px,#7e7e7e 15.2px,#777 21.7px,#818181 30.4px,#959595 38px,#bababa 45.6px,#c3c3c3 52.1px,#d7d7d7 59.7px,#c1c1c1 68.4px,#adadad 74.9px,#ababab)"></i><i style="background:linear-gradient(90deg,#f2f2f2 0,#bababa 7.7px,#808080 15.3px,#787878 22.9px,#808080 30.5px,#949494 38.1px,#bababa 45.7px,#c5c5c5 53.3px,#d8d8d8 60.9px,#c4c4c4 68.5px,#adadad)"></i><i style="background:linear-gradient(90deg,#ebebeb 0,#e9e9e9 1.3px,#bbb 7.6px,#b4b4b4 8.9px,#848484 15.2px,#808080 16.5px,#797979 22.8px,#797979 24.1px,#808080 30.4px,#949494 38px,#999 39.3px,#b8b8b8 45.6px,#c3c3c3 53.2px,#c8c8c8 54.5px,#d9d9d9 60.8px,#c5c5c5 68.4px,#c3c3c3 69.7px,#afafaf)"></i><i style="background:linear-gradient(90deg,#e4e4e4 0,#e0e0e0 2.6px,#bbb 7.6px,#aeaeae 10.2px,#878787 15.2px,#808080 17.8px,#7a7a7a 22.8px,#7a7a7a 25.4px,#808080 30.4px,#949494 38px,#9d9d9d 40.6px,#b7b7b7 45.6px,#bcbcbc 48.2px,#c3c3c3 53.2px,#ccc 55.8px,#dadada 60.8px,#c5c5c5 68.4px,#c1c1c1 71px,#b1b1b1)"></i><i style="background:linear-gradient(90deg,#dedede 0,#d7d7d7 3.8px,#bbb 7.6px,#a8a8a8 11.4px,#8b8b8b 15.2px,#808080 19px,#7c7c7c 22.8px,#7c7c7c 26.6px,#808080 30.4px,#949494 38px,#a2a2a2 41.8px,#b5b5b5 45.6px,#bdbdbd 49.4px,#c2c2c2 53.2px,#d0d0d0 57px,#dadada 60.8px,#c6c6c6 68.4px,#bfbfbf 72.2px,#b4b4b4)"></i><i style="background:linear-gradient(90deg,#d7d7d7 0,#cfcfcf 5px,#bcbcbc 7.6px,#a3a3a3 12.6px,#8f8f8f 15.2px,#808080 20.2px,#7d7d7d 22.8px,#7d7d7d 27.8px,#808080 30.4px,#949494 38px,#a7a7a7 43px,#b4b4b4 45.6px,#bebebe 50.6px,#c1c1c1 53.2px,#d4d4d4 58.2px,#dadada 60.8px,#c6c6c6 68.4px,#bebebe 73.4px,#b6b6b6)"></i><i style="background:linear-gradient(90deg,#d1d1d1 0,#c6c6c6 6.3px,#bcbcbc 7.6px,#9d9d9d 13.9px,#929292 15.2px,#808080 21.5px,#7e7e7e 22.8px,#7e7e7e 29.1px,#808080 30.4px,#949494 38px,#ababab 44.3px,#b2b2b2 45.6px,#c0c0c0 53.2px,#d7d7d7 59.5px,#dbdbdb 60.8px,#c6c6c6 68.4px,#bcbcbc 74.7px,#b8b8b8)"></i><i style="background:linear-gradient(90deg,#cacaca 0,#bdbdbd 7.6px,#969696 15.2px,#7f7f7f 22.8px,#808080 30.4px,#949494 38px,#b0b0b0 45.6px,#bfbfbf 53.2px,#dbdbdb 60.8px,#c7c7c7 68.4px,#bababa)"></i><i style="background:linear-gradient(90deg,#c5c5c5 0,#cacaca 1.1px,#bfbfbf 7.6px,#959595 16.3px,#818181 22.8px,#808080 23.9px,#808080 30.4px,#969696 39.1px,#b2b2b2 46.7px,#c0c0c0 54.3px,#d8d8d8 60.8px,#d7d7d7 61.9px,#c6c6c6 68.4px,#b9b9b9)"></i><i style="background:linear-gradient(90deg,#c1c1c1 0,#cbcbcb 2.3px,#c2c2c2 7.6px,#939393 17.5px,#838383 22.8px,#808080 25.1px,#808080 30.4px,#838383 32.7px,#979797 40.3px,#b3b3b3 47.9px,#bebebe 53.2px,#c1c1c1 55.5px,#d4d4d4 60.8px,#d3d3d3 63.1px,#c5c5c5 68.4px,#b8b8b8)"></i><i style="background:linear-gradient(90deg,#bcbcbc 0,#ccc 3.6px,#c5c5c5 7.6px,#b5b5b5 11.2px,#a1a1a1 15.2px,#929292 18.8px,#858585 22.8px,#808080 26.4px,#808080 30.4px,#858585 34px,#999 41.6px,#b5b5b5 49.2px,#bdbdbd 53.2px,#c2c2c2 56.8px,#d1d1d1 60.8px,#cecece 64.4px,#c3c3c3 68.4px,#b7b7b7)"></i><i style="background:linear-gradient(90deg,#b7b7b7 0,#cdcdcd 4.8px,#c8c8c8 7.6px,#b3b3b3 12.4px,#a5a5a5 15.2px,#909090 20px,#888 22.8px,#808080 27.6px,#808080 30.4px,#888 35.2px,#9b9b9b 42.8px,#b6b6b6 50.4px,#bcbcbc 53.2px,#c2c2c2 58px,#cdcdcd 60.8px,#cacaca 65.6px,#c2c2c2 68.4px,#b6b6b6)"></i><i style="background:linear-gradient(90deg,#b3b3b3 0,#cdcdcd 6px,#cbcbcb 7.6px,#8e8e8e 21.2px,#8a8a8a 22.8px,#808080 28.8px,#808080 30.4px,#8a8a8a 36.4px,#9d9d9d 44px,#b8b8b8 51.6px,#c3c3c3 59.2px,#c9c9c9 60.8px,#c5c5c5 66.8px,#c1c1c1 68.4px,#b5b5b5)"></i><i style="background:linear-gradient(90deg,#aeaeae 0,#cecece 7.2px,#8c8c8c 22.8px,#808080 30.4px,#8d8d8d 38px,#a0a0a0 45.6px,#bababa 53.2px,#c5c5c5 60.8px,#c0c0c0 68.4px,#b4b4b4)"></i><i style="background:linear-gradient(90deg,#acacac 0,#cdcdcd 7.6px,#ccc 8.5px,#8e8e8e 22.8px,#818181 30.4px,#818181 31.3px,#8e8e8e 38.9px,#a1a1a1 46.5px,#bababa 54.1px,#c3c3c3 60.8px,#bdbdbd 69.3px,#b3b3b3)"></i><i style="background:linear-gradient(90deg,#ababab 0,#b2b2b2 2.1px,#cacaca 7.6px,#c9c9c9 9.7px,#909090 22.8px,#828282 30.4px,#838383 32.5px,#909090 40.1px,#a2a2a2 47.7px,#b6b6b6 53.2px,#bababa 55.3px,#c2c2c2 60.8px,#bebebe 68.4px,#b2b2b2)"></i><i style="background:linear-gradient(90deg,#aaa 0,#b5b5b5 3.3px,#c8c8c8 7.6px,#c6c6c6 10.9px,#929292 22.8px,#848484 30.4px,#858585 33.7px,#929292 41.3px,#a4a4a4 48.9px,#b3b3b3 53.2px,#bababa 56.5px,#c0c0c0 60.8px,#c0c0c0 64.1px,#bdbdbd 68.4px,#b1b1b1)"></i><i style="background:linear-gradient(90deg,#a9a9a9 0,#b8b8b8 4.5px,#c5c5c5 7.6px,#c2c2c2 12.1px,#949494 22.8px,#868686 30.4px,#878787 34.9px,#949494 42.5px,#a6a6a6 50.1px,#b0b0b0 53.2px,#bababa 57.7px,#bebebe 60.8px,#bebebe 65.3px,#bcbcbc 68.4px,#b0b0b0)"></i><i style="background:linear-gradient(90deg,#a8a8a8 0,#bbb 5.8px,#c3c3c3 7.6px,#bfbfbf 13.4px,#969696 22.8px,#878787 30.4px,#898989 36.2px,#969696 43.8px,#a7a7a7 51.4px,#aeaeae 53.2px,#bababa 59px,#bdbdbd 60.8px,#bbb 68.4px,#aeaeae)"></i><i style="background:linear-gradient(90deg,#a7a7a7 0,#c0c0c0 7.6px,#bcbcbc 14.6px,#989898 22.8px,#898989 30.4px,#8c8c8c 38px,#9a9a9a 45.6px,#bbb 60.8px,#bbb 68.4px,#adadad)"></i></div>
<span class="t" style="left:267.00px;top:116.98px;font-size:9.00px;color:#000">(P-c1)</span>
<span class="l" style="left:245.20px;top:179.80px;font-size:8.50px;color:#111">0.5068±0.0001</span>
<span class="t" style="left:229.00px;top:193.48px;font-size:9.00px">0</span>
<span class="r" style="left:226.70px;top:185.58px;font-size:9.00px">0</span>
<span class="t" style="left:259.40px;top:193.48px;font-size:9.00px">1</span>
<span class="r" style="left:226.70px;top:160.78px;font-size:9.00px">1</span>
<span class="t" style="left:289.80px;top:193.48px;font-size:9.00px">2</span>
<span class="r" style="left:226.70px;top:135.98px;font-size:9.00px">2</span>
<div class="h g" style="left:229px;top:247px;width:76px;height:62px"><i style="background:linear-gradient(90deg,#1b1b1b 0,#464646 15.2px,#7d7d7d 31px,#949494 38.6px,#b3b3b3 46.2px,#dfdfdf 53.8px,#060606 61.4px,#1c1c1c 69px,#323232)"></i><i style="background:linear-gradient(90deg,#181818 0,#454545 15.2px,#7f7f7f 32.2px,#979797 39.8px,#b6b6b6 47.4px,#d8d8d8 53.2px,#e1e1e1 55px,#3d3d3d 60.8px,#070707 62.6px,#2e2e2e)"></i><i style="background:linear-gradient(90deg,#151515 0,#2b2b2b 7.6px,#4d4d4d 18.3px,#828282 33.5px,#9a9a9a 41.1px,#bababa 48.7px,#d4d4d4 53.2px,#e3e3e3 56.3px,#626262 60.8px,#070707 63.9px,#2b2b2b)"></i><i style="background:linear-gradient(90deg,#121212 0,#282828 7.6px,#5b5b5b 22.8px,#848484 34.7px,#9d9d9d 42.3px,#bdbdbd 49.9px,#d1d1d1 53.2px,#e5e5e5 57.5px,#878787 60.8px,#070707 65.1px,#282828)"></i><i style="background:linear-gradient(90deg,#0f0f0f 0,#262626 7.6px,#a0a0a0 43.5px,#c1c1c1 51.1px,#cdcdcd 53.2px,#e7e7e7 58.7px,#acacac 60.8px,#080808 66.3px,#252525)"></i><i style="background:linear-gradient(90deg,#0c0c0c 0,#242424 7.6px,#a6a6a6 45.6px,#c4c4c4 52.3px,#e9e9e9 59.9px,#d1d1d1 60.8px,#080808 67.5px,#222)"></i><i style="background:linear-gradient(90deg,#141414 0,#0a0a0a .4px,#3c3c3c 15.6px,#a5a5a5 46px,#ebebeb 61.2px,#090909 68.8px,#1f1f1f)"></i><i style="background:linear-gradient(90deg,#383838 0,#0a0a0a 1.6px,#383838 15.2px,#a7a7a7 47.2px,#ececec 62.4px,#0a0a0a 70px,#1c1c1c)"></i><i style="background:linear-gradient(90deg,#5b5b5b 0,#0b0b0b 2.8px,#343434 15.2px,#a8a8a8 48.4px,#ededed 63.6px,#0b0b0b 71.2px,#1a1a1a)"></i><i style="background:linear-gradient(90deg,#7f7f7f 0,#0b0b0b 4px,#9a9a9a 45.6px,#a9a9a9 49.6px,#eee 64.8px,#0c0c0c 72.4px,#171717)"></i><i style="background:linear-gradient(90deg,#a2a2a2 0,#0b0b0b 5.3px,#979797 45.6px,#aaa 50.9px,#f0f0f0 66.1px,#0d0d0d 73.7px,#151515)"></i><i style="background:linear-gradient(90deg,#c6c6c6 0,#0b0b0b 6.5px,#939393 45.6px,#b0b0b0 53.2px,#f1f1f1 67.3px,#0f0f0f 74.9px,#121212)"></i><i style="background:linear-gradient(90deg,#e5e5e5 0,#0c0c0c 7.6px,#424242 22.9px,#909090 45.7px,#adadad 53.3px,#f2f2f2 68.4px,#0f0f0f)"></i><i style="background:linear-gradient(90deg,#e3e3e3 0,#0a0a0a 7.6px,#939393 46.9px,#b0b0b0 54.5px,#efefef 68.4px,#c8c8c8 69.7px,#0e0e0e)"></i><i style="background:linear-gradient(90deg,#e1e1e1 0,#999 2.6px,#090909 7.6px,#969696 48.2px,#b2b2b2 55.8px,#ececec 68.4px,#a3a3a3 71px,#0d0d0d)"></i><i style="background:linear-gradient(90deg,#dfdfdf 0,#757575 3.8px,#080808 7.6px,#a6a6a6 53.2px,#c6c6c6 60.8px,#e9e9e9 68.4px,#7d7d7d 72.2px,#0c0c0c)"></i><i style="background:linear-gradient(90deg,#ddd 0,#505050 5px,#060606 7.6px,#a4a4a4 53.2px,#c4c4c4 60.8px,#e6e6e6 68.4px,#575757 73.4px,#0b0b0b)"></i><i style="background:linear-gradient(90deg,#dbdbdb 0,#050505 7.6px,#a2a2a2 53.2px,#c1c1c1 60.8px,#e3e3e3 68.4px,#323232 74.7px,#090909)"></i><i style="background:linear-gradient(90deg,#d9d9d9 0,#040404 7.6px,#a0a0a0 53.2px,#bfbfbf 60.8px,#e0e0e0 68.4px,#080808)"></i><i style="background:linear-gradient(90deg,#d6d6d6 0,#dbdbdb 1.1px,#050505 8.7px,#a2a2a2 54.3px,#c0c0c0 61.9px,#e2e2e2 69.5px,#292929)"></i><i style="background:linear-gradient(90deg,#d3d3d3 0,#ddd 2.3px,#070707 9.9px,#181818 15.2px,#222 17.5px,#a5a5a5 55.5px,#c3c3c3 63.1px,#e4e4e4 70.7px,#4e4e4e)"></i><i style="background:linear-gradient(90deg,#d0d0d0 0,#dfdfdf 3.6px,#080808 11.2px,#161616 15.2px,#242424 18.8px,#9a9a9a 53.2px,#c5c5c5 64.4px,#e5e5e5 72px,#727272)"></i><i style="background:linear-gradient(90deg,#cecece 0,#e1e1e1 4.8px,#090909 12.4px,#131313 15.2px,#262626 20px,#7d7d7d 45.6px,#a9a9a9 58px,#e7e7e7 73.2px,#979797)"></i><i style="background:linear-gradient(90deg,#cbcbcb 0,#e3e3e3 6px,#0b0b0b 13.6px,#2e2e2e 22.8px,#616161 38px,#959595 53.2px,#cacaca 66.8px,#e9e9e9 74.4px,#bbb)"></i><i style="background:linear-gradient(90deg,#c8c8c8 0,#e5e5e5 7.2px,#0c0c0c 14.8px,#2c2c2c 22.8px,#5f5f5f 38px,#939393 53.2px,#ccc 68px,#eaeaea 75.6px,#e0e0e0)"></i><i style="background:linear-gradient(90deg,#c5c5c5 0,#e6e6e6 8.5px,#0e0e0e 16.1px,#2c2c2c 23.7px,#5c5c5c 38px,#adadad 60.8px,#e9e9e9)"></i><i style="background:linear-gradient(90deg,#c3c3c3 0,#e8e8e8 9.7px,#0f0f0f 17.3px,#262626 22.8px,#585858 38px,#aaa 60.8px,#e7e7e7)"></i><i style="background:linear-gradient(90deg,#c0c0c0 0,#cbcbcb 3.3px,#e9e9e9 10.9px,#101010 18.5px,#222 22.8px,#555 38px,#8c8c8c 53.2px,#b5b5b5 64.1px,#e4e4e4)"></i><i style="background:linear-gradient(90deg,#bebebe 0,#cdcdcd 4.5px,#eaeaea 12.1px,#121212 19.7px,#1e1e1e 22.8px,#515151 38px,#8a8a8a 53.2px,#a5a5a5 60.8px,#e1e1e1)"></i><i style="background:linear-gradient(90deg,#bbb 0,#d6d6d6 7.6px,#ebebeb 13.4px,#131313 21px,#2e2e2e 28.6px,#4e4e4e 38px,#888 53.2px,#a3a3a3 60.8px,#dfdfdf)"></i><i style="background:linear-gradient(90deg,#b9b9b9 0,#d3d3d3 7.6px,#ededed 14.6px,#151515 22.2px,#4b4b4b 38px,#868686 53.2px,#a0a0a0 60.8px,#dcdcdc)"></i><i style="background:linear-gradient(90deg,#b7b7b7 0,#d2d2d2 8.2px,#ececec 15.2px,#141414 22.8px,#4a4a4a 38.6px,#858585 53.8px,#a0a0a0 61.4px,#dadada)"></i><i style="background:linear-gradient(90deg,#b6b6b6 0,#d5d5d5 9.4px,#eaeaea 15.2px,#121212 22.8px,#4d4d4d 39.8px,#878787 55px,#a2a2a2 62.6px,#d7d7d7)"></i><i style="background:linear-gradient(90deg,#b6b6b6 0,#bebebe 3.1px,#e8e8e8 15.2px,#101010 22.8px,#353535 33.5px,#505050 41.1px,#898989 56.3px,#a4a4a4 63.9px,#d4d4d4)"></i><i style="background:linear-gradient(90deg,#b5b5b5 0,#c0c0c0 4.3px,#e6e6e6 15.2px,#0e0e0e 22.8px,#292929 30.4px,#535353 42.3px,#7d7d7d 53.2px,#a7a7a7 65.1px,#d2d2d2)"></i><i style="background:linear-gradient(90deg,#b4b4b4 0,#cacaca 7.6px,#e4e4e4 15.2px,#0c0c0c 22.8px,#282828 30.4px,#565656 43.5px,#7a7a7a 53.2px,#a9a9a9 66.3px,#cfcfcf)"></i><i style="background:linear-gradient(90deg,#b3b3b3 0,#c8c8c8 7.6px,#e2e2e2 15.2px,#090909 22.8px,#262626 30.4px,#595959 44.7px,#8f8f8f 59.9px,#afafaf 68.4px,#cdcdcd)"></i><i style="background:linear-gradient(90deg,#b2b2b2 0,#c7c7c7 8px,#e1e1e1 15.6px,#080808 23.2px,#262626 30.8px,#5b5b5b 46px,#adadad 68.8px,#cacaca)"></i><i style="background:linear-gradient(90deg,#afafaf 0,#c9c9c9 9.2px,#e3e3e3 16.8px,#0a0a0a 24.4px,#282828 32px,#575757 45.6px,#8e8e8e 60.8px,#aeaeae 70px,#c6c6c6)"></i><i style="background:linear-gradient(90deg,#adadad 0,#cacaca 10.4px,#dadada 15.2px,#e5e5e5 18px,#0c0c0c 25.6px,#2a2a2a 33.2px,#555 45.6px,#7b7b7b 56px,#949494 63.6px,#c2c2c2)"></i><i style="background:linear-gradient(90deg,#aaa 0,#cbcbcb 11.6px,#d7d7d7 15.2px,#e7e7e7 19.2px,#0e0e0e 26.8px,#2b2b2b 34.4px,#525252 45.6px,#7d7d7d 57.2px,#959595 64.8px,#bfbfbf)"></i><i style="background:linear-gradient(90deg,#a8a8a8 0,#bcbcbc 7.6px,#d4d4d4 15.2px,#e9e9e9 20.5px,#101010 28.1px,#353535 38px,#505050 45.6px,#6d6d6d 53.2px,#878787 60.8px,#979797 66.1px,#bbb)"></i><i style="background:linear-gradient(90deg,#a5a5a5 0,#bababa 7.6px,#d1d1d1 15.2px,#ebebeb 21.7px,#121212 29.3px,#333 38px,#4d4d4d 45.6px,#6b6b6b 53.2px,#858585 60.8px,#9c9c9c 68.4px,#b7b7b7)"></i><i style="background:linear-gradient(90deg,#a3a3a3 0,#b8b8b8 7.7px,#cfcfcf 15.3px,#ededed 22.9px,#141414 30.5px,#313131 38.1px,#4b4b4b 45.7px,#696969 53.3px,#838383 60.9px,#999 68.5px,#b3b3b3)"></i><i style="background:linear-gradient(90deg,#a0a0a0 0,#b8b8b8 8.9px,#d0d0d0 16.5px,#eee 24.1px,#151515 31.7px,#323232 39.3px,#4c4c4c 46.9px,#6a6a6a 54.5px,#848484 62.1px,#9b9b9b 69.7px,#b1b1b1)"></i><i style="background:linear-gradient(90deg,#9e9e9e 0,#a3a3a3 2.6px,#c8c8c8 15.2px,#efefef 25.4px,#161616 33px,#333 40.6px,#4e4e4e 48.2px,#6b6b6b 55.8px,#858585 63.4px,#9d9d9d 71px,#aeaeae)"></i><i style="background:linear-gradient(90deg,#9c9c9c 0,#a3a3a3 3.8px,#c4c4c4 15.2px,#f0f0f0 26.6px,#171717 34.2px,#343434 41.8px,#5e5e5e 53.2px,#7a7a7a 60.8px,#9e9e9e 72.2px,#acacac)"></i><i style="background:linear-gradient(90deg,#999 0,#a3a3a3 5px,#c1c1c1 15.2px,#f1f1f1 27.8px,#181818 35.4px,#3e3e3e 45.6px,#777 60.8px,#a0a0a0 73.4px,#a9a9a9)"></i><i style="background:linear-gradient(90deg,#979797 0,#a7a7a7 7.6px,#bebebe 15.2px,#f1f1f1 29.1px,#191919 36.7px,#747474 60.8px,#a2a2a2 74.7px,#a6a6a6)"></i><i style="background:linear-gradient(90deg,#949494 0,#a4a4a4 7.6px,#bababa 15.2px,#f2f2f2 30.3px,#1a1a1a 37.9px,#717171 60.8px,#a4a4a4)"></i><i style="background:linear-gradient(90deg,#909090 0,#a0a0a0 7.6px,#bbb 16.3px,#f0f0f0 30.4px,#d3d3d3 31.5px,#1a1a1a 38px,#555 54.3px,#727272 61.9px,#a1a1a1)"></i><i style="background:linear-gradient(90deg,#8c8c8c 0,#929292 2.3px,#9d9d9d 7.6px,#bcbcbc 17.5px,#ededed 30.4px,#b0b0b0 32.7px,#1a1a1a 38px,#212121 40.3px,#353535 45.6px,#3c3c3c 47.9px,#737373 63.1px,#9e9e9e)"></i><i style="background:linear-gradient(90deg,#888 0,#929292 3.6px,#9a9a9a 7.6px,#bebebe 18.8px,#eaeaea 30.4px,#8d8d8d 34px,#1a1a1a 38px,#242424 41.6px,#343434 45.6px,#3e3e3e 49.2px,#696969 60.8px,#9a9a9a)"></i><i style="background:linear-gradient(90deg,#848484 0,#919191 4.8px,#969696 7.6px,#c9c9c9 22.8px,#e7e7e7 30.4px,#6a6a6a 35.2px,#1a1a1a 38px,#282828 42.8px,#323232 45.6px,#404040 50.4px,#666 60.8px,#979797)"></i><i style="background:linear-gradient(90deg,#808080 0,#939393 7.6px,#c6c6c6 22.8px,#e4e4e4 30.4px,#474747 36.4px,#191919 38px,#2b2b2b 44px,#313131 45.6px,#484848 53.2px,#636363 60.8px,#949494)"></i><i style="background:linear-gradient(90deg,#7c7c7c 0,#909090 7.6px,#c3c3c3 22.8px,#e1e1e1 30.4px,#191919 38px,#464646 53.2px,#787878 68.4px,#919191)"></i><i style="background:linear-gradient(90deg,#787878 0,#8f8f8f 8.5px,#c3c3c3 23.7px,#e2e2e2 31.3px,#313131 38px,#191919 38.9px,#464646 54.1px,#8d8d8d)"></i><i style="background:linear-gradient(90deg,#757575 0,#8f8f8f 9.7px,#bcbcbc 22.8px,#e4e4e4 32.5px,#535353 38px,#191919 40.1px,#464646 55.3px,#898989)"></i><i style="background:linear-gradient(90deg,#727272 0,#909090 10.9px,#b9b9b9 22.8px,#e6e6e6 33.7px,#767676 38px,#191919 41.3px,#464646 56.5px,#858585)"></i><i style="background:linear-gradient(90deg,#6e6e6e 0,#909090 12.1px,#b6b6b6 22.8px,#e8e8e8 34.9px,#989898 38px,#191919 42.5px,#464646 57.7px,#818181)"></i><i style="background:linear-gradient(90deg,#6b6b6b 0,#7f7f7f 7.6px,#979797 15.2px,#b2b2b2 22.8px,#d1d1d1 30.4px,#eaeaea 36.2px,#bababa 38px,#191919 43.8px,#464646 59px,#636363 68.4px,#7d7d7d)"></i><i style="background:linear-gradient(90deg,#686868 0,#7c7c7c 7.6px,#939393 15.2px,#afafaf 22.8px,#cecece 30.4px,#ececec 37.4px,#191919 45px,#464646 60.2px,#5f5f5f 68.4px,#797979)"></i></div>
<span class="t" style="left:267.00px;top:236.98px;font-size:9.00px;color:#000">(A-q1)</span>
<span class="l" style="left:245.20px;top:298.96px;font-size:8.50px;color:#111">0.9731±0.0219</span>
<span class="t" style="left:229.00px;top:312.88px;font-size:9.00px">0</span>
<span class="r" style="left:226.70px;top:304.98px;font-size:9.00px">0</span>
<span class="t" style="left:259.40px;top:312.88px;font-size:9.00px">1</span>
<span class="r" style="left:226.70px;top:280.18px;font-size:9.00px">1</span>
<span class="t" style="left:289.80px;top:312.88px;font-size:9.00px">2</span>
<span class="r" style="left:226.70px;top:255.38px;font-size:9.00px">2</span>
<div class="h g" style="left:229px;top:333px;width:76px;height:62px"><i style="background:linear-gradient(90deg,#202020 0,#202020 7.6px,#606060 15.2px,#606060 30.4px,#9f9f9f 38px,#9f9f9f 45.6px,#dfdfdf 53.2px,#dfdfdf 53.8px,#202020 61.4px,#202020)"></i><i style="background:linear-gradient(90deg,#202020 0,#202020 7.6px,#606060 15.2px,#606060 30.4px,#9f9f9f 38px,#9f9f9f 45.6px,#dfdfdf 53.2px,#dfdfdf 55px,#202020 62.6px,#202020)"></i><i style="background:linear-gradient(90deg,#202020 0,#202020 7.6px,#606060 15.2px,#606060 30.4px,#9f9f9f 38px,#9f9f9f 45.6px,#dfdfdf 53.2px,#dfdfdf 56.3px,#202020 63.9px,#202020)"></i><i style="background:linear-gradient(90deg,#202020 0,#202020 7.6px,#606060 15.2px,#606060 30.4px,#9f9f9f 38px,#9f9f9f 45.6px,#dfdfdf 53.2px,#dfdfdf 57.5px,#202020 65.1px,#202020)"></i><i style="background:linear-gradient(90deg,#202020 0,#202020 7.6px,#606060 15.2px,#606060 30.4px,#9f9f9f 38px,#9f9f9f 45.6px,#dfdfdf 53.2px,#dfdfdf 58.7px,#202020 66.3px,#202020)"></i><i style="background:linear-gradient(90deg,#202020 0,#202020 7.6px,#606060 15.2px,#606060 30.4px,#9f9f9f 38px,#9f9f9f 45.6px,#dfdfdf 53.2px,#dfdfdf 59.9px,#202020 67.5px,#202020)"></i><i style="background:linear-gradient(90deg,#292929 0,#202020 .4px,#202020 8px,#606060 15.6px,#606060 30.4px,#616161 30.8px,#9e9e9e 38px,#9f9f9f 38.4px,#9f9f9f 46px,#dfdfdf 53.6px,#dfdfdf 61.2px,#202020 68.8px,#202020)"></i><i style="background:linear-gradient(90deg,#484848 0,#202020 1.6px,#202020 9.2px,#606060 16.8px,#606060 30.4px,#666 32px,#999 38px,#9f9f9f 39.6px,#9f9f9f 47.2px,#dfdfdf 54.8px,#dfdfdf 62.4px,#202020 70px,#202020)"></i><i style="background:linear-gradient(90deg,#676767 0,#202020 2.8px,#202020 10.4px,#606060 18px,#606060 30.4px,#6b6b6b 33.2px,#949494 38px,#9f9f9f 40.8px,#9f9f9f 48.4px,#dfdfdf 56px,#dfdfdf 63.6px,#202020 71.2px,#202020)"></i><i style="background:linear-gradient(90deg,#868686 0,#202020 4px,#202020 11.6px,#606060 19.2px,#606060 30.4px,#717171 34.4px,#8e8e8e 38px,#9f9f9f 42px,#9f9f9f 49.6px,#dfdfdf 57.2px,#dfdfdf 64.8px,#202020 72.4px,#202020)"></i><i style="background:linear-gradient(90deg,#a5a5a5 0,#202020 5.3px,#202020 12.9px,#606060 20.5px,#606060 30.4px,#767676 35.7px,#898989 38px,#9f9f9f 43.3px,#9f9f9f 50.9px,#dfdfdf 58.5px,#dfdfdf 66.1px,#202020 73.7px,#202020)"></i><i style="background:linear-gradient(90deg,#c3c3c3 0,#202020 6.5px,#202020 14.1px,#606060 21.7px,#606060 30.4px,#7b7b7b 36.9px,#848484 38px,#9f9f9f 44.5px,#9f9f9f 52.1px,#dfdfdf 59.7px,#dfdfdf 67.3px,#202020 74.9px,#202020)"></i><i style="background:linear-gradient(90deg,#dfdfdf 0,#202020 7.6px,#202020 15.3px,#606060 22.9px,#606060 30.5px,#9f9f9f 45.7px,#a0a0a0 53.3px,#dfdfdf 60.9px,#dfdfdf 68.4px,#202020)"></i><i style="background:linear-gradient(90deg,#dfdfdf 0,#202020 7.6px,#202020 16.5px,#606060 24.1px,#606060 31.7px,#7a7a7a 38px,#858585 39.3px,#9f9f9f 45.6px,#9f9f9f 53.2px,#dfdfdf 60.8px,#dfdfdf 68.4px,#202020)"></i><i style="background:linear-gradient(90deg,#dfdfdf 0,#202020 7.6px,#202020 17.8px,#606060 25.4px,#606060 33px,#757575 38px,#8a8a8a 40.6px,#9f9f9f 45.6px,#9f9f9f 53.2px,#dfdfdf 60.8px,#dfdfdf 68.4px,#202020)"></i><i style="background:linear-gradient(90deg,#dfdfdf 0,#202020 7.6px,#202020 19px,#606060 26.6px,#606060 34.2px,#707070 38px,#8f8f8f 41.8px,#9f9f9f 45.6px,#9f9f9f 53.2px,#dfdfdf 60.8px,#dfdfdf 68.4px,#202020)"></i><i style="background:linear-gradient(90deg,#dfdfdf 0,#202020 7.6px,#202020 20.2px,#606060 27.8px,#606060 35.4px,#6a6a6a 38px,#959595 43px,#9f9f9f 45.6px,#9f9f9f 53.2px,#dfdfdf 60.8px,#dfdfdf 68.4px,#202020)"></i><i style="background:linear-gradient(90deg,#dfdfdf 0,#202020 7.6px,#202020 21.5px,#606060 29.1px,#606060 36.7px,#656565 38px,#9a9a9a 44.3px,#9f9f9f 45.6px,#9f9f9f 53.2px,#dfdfdf 60.8px,#dfdfdf 68.4px,#202020)"></i><i style="background:linear-gradient(90deg,#dfdfdf 0,#202020 7.6px,#212121 22.8px,#606060 30.4px,#606060 38px,#9f9f9f 45.6px,#9f9f9f 53.2px,#dfdfdf 60.8px,#dfdfdf 68.4px,#202020)"></i><i style="background:linear-gradient(90deg,#dfdfdf 0,#dfdfdf 1.1px,#202020 8.7px,#202020 22.8px,#606060 30.4px,#606060 39.1px,#9f9f9f 46.7px,#9f9f9f 54.3px,#dfdfdf 61.9px,#dfdfdf 69.5px,#3c3c3c)"></i><i style="background:linear-gradient(90deg,#dfdfdf 0,#dfdfdf 2.3px,#202020 9.9px,#202020 22.8px,#606060 30.4px,#606060 40.3px,#9f9f9f 47.9px,#9f9f9f 55.5px,#dfdfdf 63.1px,#dfdfdf 70.7px,#5a5a5a)"></i><i style="background:linear-gradient(90deg,#dfdfdf 0,#dfdfdf 3.6px,#202020 11.2px,#202020 22.8px,#606060 30.4px,#606060 41.6px,#9f9f9f 49.2px,#9f9f9f 56.8px,#dfdfdf 64.4px,#dfdfdf 72px,#797979)"></i><i style="background:linear-gradient(90deg,#dfdfdf 0,#dfdfdf 4.8px,#202020 12.4px,#202020 22.8px,#606060 30.4px,#606060 42.8px,#9f9f9f 50.4px,#9f9f9f 58px,#dfdfdf 65.6px,#dfdfdf 73.2px,#989898)"></i><i style="background:linear-gradient(90deg,#dfdfdf 0,#dfdfdf 6px,#202020 13.6px,#202020 22.8px,#606060 30.4px,#606060 44px,#9f9f9f 51.6px,#9f9f9f 59.2px,#dfdfdf 66.8px,#dfdfdf 74.4px,#b7b7b7)"></i><i style="background:linear-gradient(90deg,#dfdfdf 0,#dfdfdf 7.2px,#202020 14.8px,#202020 22.8px,#606060 30.4px,#606060 45.2px,#9f9f9f 52.8px,#9f9f9f 60.4px,#dfdfdf 68px,#dfdfdf 75.6px,#d6d6d6)"></i><i style="background:linear-gradient(90deg,#ddd 0,#dfdfdf .9px,#dfdfdf 8.5px,#202020 16.1px,#202020 23.7px,#606060 31.3px,#606060 45.6px,#9f9f9f 53.2px,#9f9f9f 61.7px,#dfdfdf 69.3px,#dfdfdf)"></i><i style="background:linear-gradient(90deg,#dadada 0,#dfdfdf 2.1px,#dfdfdf 9.7px,#202020 17.3px,#202020 24.9px,#606060 32.5px,#606060 45.6px,#9f9f9f 53.2px,#9f9f9f 62.9px,#dfdfdf 70.5px,#dfdfdf)"></i><i style="background:linear-gradient(90deg,#d7d7d7 0,#dfdfdf 3.3px,#dfdfdf 10.9px,#202020 18.5px,#202020 26.1px,#606060 33.7px,#606060 45.6px,#9f9f9f 53.2px,#9f9f9f 64.1px,#dfdfdf 71.7px,#dfdfdf)"></i><i style="background:linear-gradient(90deg,#d4d4d4 0,#dfdfdf 4.5px,#dfdfdf 12.1px,#202020 19.7px,#202020 27.3px,#606060 34.9px,#606060 45.6px,#9f9f9f 53.2px,#9f9f9f 65.3px,#dfdfdf 72.9px,#dfdfdf)"></i><i style="background:linear-gradient(90deg,#d1d1d1 0,#dfdfdf 5.8px,#dfdfdf 13.4px,#202020 21px,#202020 28.6px,#606060 36.2px,#606060 45.6px,#9f9f9f 53.2px,#9f9f9f 66.6px,#dfdfdf 74.2px,#dfdfdf)"></i><i style="background:linear-gradient(90deg,#cecece 0,#dfdfdf 7px,#dfdfdf 14.6px,#202020 22.2px,#202020 29.8px,#606060 37.4px,#606060 45.6px,#9f9f9f 53.2px,#9f9f9f 67.8px,#dfdfdf 75.4px,#dfdfdf)"></i><i style="background:linear-gradient(90deg,#c8c8c8 0,#cecece .6px,#dfdfdf 7.6px,#dfdfdf 15.2px,#202020 22.8px,#202020 31px,#606060 38.6px,#606060 46.2px,#9f9f9f 53.8px,#9f9f9f 68.4px,#a2a2a2 69px,#ddd)"></i><i style="background:linear-gradient(90deg,#c1c1c1 0,#d1d1d1 1.8px,#dfdfdf 7.6px,#dfdfdf 15.2px,#202020 22.8px,#202020 32.2px,#606060 39.8px,#606060 47.4px,#9f9f9f 55px,#9f9f9f 68.4px,#a7a7a7 70.2px,#d7d7d7)"></i><i style="background:linear-gradient(90deg,#bababa 0,#d4d4d4 3.1px,#dfdfdf 7.6px,#dfdfdf 15.2px,#202020 22.8px,#202020 33.5px,#606060 41.1px,#606060 48.7px,#9f9f9f 56.3px,#9f9f9f 68.4px,#acacac 71.5px,#d2d2d2)"></i><i style="background:linear-gradient(90deg,#b3b3b3 0,#d7d7d7 4.3px,#dfdfdf 7.6px,#dfdfdf 15.2px,#202020 22.8px,#202020 34.7px,#606060 42.3px,#606060 49.9px,#9f9f9f 57.5px,#9f9f9f 68.4px,#b1b1b1 72.7px,#cdcdcd)"></i><i style="background:linear-gradient(90deg,#acacac 0,#dadada 5.5px,#dfdfdf 7.6px,#dfdfdf 15.2px,#202020 22.8px,#202020 35.9px,#606060 43.5px,#606060 51.1px,#9f9f9f 58.7px,#9f9f9f 68.4px,#b7b7b7 73.9px,#c8c8c8)"></i><i style="background:linear-gradient(90deg,#a4a4a4 0,#ddd 6.7px,#dfdfdf 7.6px,#dfdfdf 15.2px,#202020 22.8px,#202020 37.1px,#606060 44.7px,#606060 52.3px,#9f9f9f 59.9px,#9f9f9f 68.4px,#bcbcbc 75.1px,#c3c3c3)"></i><i style="background:linear-gradient(90deg,#9f9f9f 0,#9f9f9f .4px,#dfdfdf 8px,#dfdfdf 15.6px,#202020 23.2px,#202020 38.4px,#606060 46px,#606060 53.2px,#9f9f9f 60.8px,#9f9f9f 68.8px,#bebebe)"></i><i style="background:linear-gradient(90deg,#9f9f9f 0,#9f9f9f 1.6px,#dfdfdf 9.2px,#dfdfdf 16.8px,#202020 24.4px,#202020 39.6px,#606060 47.2px,#606060 53.2px,#9f9f9f 60.8px,#9f9f9f 70px,#b9b9b9)"></i><i style="background:linear-gradient(90deg,#9f9f9f 0,#9f9f9f 2.8px,#dfdfdf 10.4px,#dfdfdf 18px,#202020 25.6px,#202020 40.8px,#606060 48.4px,#606060 53.2px,#9f9f9f 60.8px,#9f9f9f 71.2px,#b3b3b3)"></i><i style="background:linear-gradient(90deg,#9f9f9f 0,#9f9f9f 4px,#dfdfdf 11.6px,#dfdfdf 19.2px,#202020 26.8px,#202020 42px,#606060 49.6px,#606060 53.2px,#9f9f9f 60.8px,#9f9f9f 72.4px,#aeaeae)"></i><i style="background:linear-gradient(90deg,#9f9f9f 0,#9f9f9f 5.3px,#dfdfdf 12.9px,#dfdfdf 20.5px,#202020 28.1px,#202020 43.3px,#606060 50.9px,#606060 53.2px,#9f9f9f 60.8px,#9f9f9f 73.7px,#a9a9a9)"></i><i style="background:linear-gradient(90deg,#9f9f9f 0,#9f9f9f 6.5px,#dfdfdf 14.1px,#dfdfdf 21.7px,#202020 29.3px,#202020 44.5px,#606060 52.1px,#606060 53.2px,#9f9f9f 60.8px,#9f9f9f 74.9px,#a4a4a4)"></i><i style="background:linear-gradient(90deg,#9f9f9f 0,#9f9f9f 7.7px,#dfdfdf 15.3px,#dfdfdf 22.8px,#202020 30.4px,#202020 45.6px,#9f9f9f 60.9px,#9f9f9f)"></i><i style="background:linear-gradient(90deg,#9f9f9f 0,#9f9f9f 8.9px,#dfdfdf 16.5px,#dfdfdf 22.8px,#202020 30.4px,#202020 45.6px,#606060 53.2px,#606060 54.5px,#9f9f9f 62.1px,#9f9f9f)"></i><i style="background:linear-gradient(90deg,#9f9f9f 0,#9f9f9f 10.2px,#dfdfdf 17.8px,#dfdfdf 22.8px,#202020 30.4px,#202020 45.6px,#606060 53.2px,#606060 55.8px,#9f9f9f 63.4px,#9f9f9f)"></i><i style="background:linear-gradient(90deg,#9f9f9f 0,#9f9f9f 11.4px,#dfdfdf 19px,#dfdfdf 22.8px,#202020 30.4px,#202020 45.6px,#606060 53.2px,#606060 57px,#9f9f9f 64.6px,#9f9f9f)"></i><i style="background:linear-gradient(90deg,#9f9f9f 0,#9f9f9f 12.6px,#dfdfdf 20.2px,#dfdfdf 22.8px,#202020 30.4px,#202020 45.6px,#606060 53.2px,#606060 58.2px,#9f9f9f 65.8px,#9f9f9f)"></i><i style="background:linear-gradient(90deg,#9f9f9f 0,#9f9f9f 13.9px,#dfdfdf 21.5px,#dfdfdf 22.8px,#202020 30.4px,#202020 45.6px,#606060 53.2px,#606060 59.5px,#9f9f9f 67.1px,#9f9f9f)"></i><i style="background:linear-gradient(90deg,#9f9f9f 0,#a0a0a0 15.2px,#dfdfdf 22.8px,#202020 30.4px,#202020 45.6px,#606060 53.2px,#616161 60.8px,#9f9f9f 68.4px,#9f9f9f)"></i><i style="background:linear-gradient(90deg,#999 0,#9f9f9f 1.1px,#9f9f9f 15.2px,#dfdfdf 22.8px,#dfdfdf 23.9px,#202020 31.5px,#202020 46.7px,#606060 54.3px,#606060 60.8px,#646464 61.9px,#9b9b9b 68.4px,#9f9f9f 69.5px,#9f9f9f)"></i><i style="background:linear-gradient(90deg,#929292 0,#9f9f9f 2.3px,#9f9f9f 15.2px,#dfdfdf 22.8px,#dfdfdf 25.1px,#202020 32.7px,#202020 47.9px,#606060 55.5px,#606060 60.8px,#696969 63.1px,#969696 68.4px,#9f9f9f 70.7px,#9f9f9f)"></i><i style="background:linear-gradient(90deg,#8b8b8b 0,#9f9f9f 3.6px,#9f9f9f 15.2px,#dfdfdf 22.8px,#dfdfdf 26.4px,#202020 34px,#202020 49.2px,#606060 56.8px,#606060 60.8px,#6f6f6f 64.4px,#909090 68.4px,#9f9f9f 72px,#9f9f9f)"></i><i style="background:linear-gradient(90deg,#838383 0,#9f9f9f 4.8px,#9f9f9f 15.2px,#dfdfdf 22.8px,#dfdfdf 27.6px,#202020 35.2px,#202020 50.4px,#606060 58px,#606060 60.8px,#747474 65.6px,#8b8b8b 68.4px,#9f9f9f 73.2px,#9f9f9f)"></i><i style="background:linear-gradient(90deg,#7c7c7c 0,#9f9f9f 6px,#9f9f9f 15.2px,#dfdfdf 22.8px,#dfdfdf 28.8px,#202020 36.4px,#202020 51.6px,#606060 59.2px,#606060 60.8px,#797979 66.8px,#868686 68.4px,#9f9f9f 74.4px,#9f9f9f)"></i><i style="background:linear-gradient(90deg,#757575 0,#9f9f9f 7.2px,#9f9f9f 15.2px,#dfdfdf 22.8px,#dfdfdf 30px,#202020 37.6px,#202020 52.8px,#606060 60.4px,#606060 60.8px,#7e7e7e 68px,#818181 68.4px,#9f9f9f 75.6px,#9f9f9f)"></i><i style="background:linear-gradient(90deg,#717171 0,#787878 .9px,#9f9f9f 7.6px,#9f9f9f 16.1px,#dfdfdf 23.7px,#dfdfdf 31.3px,#202020 38.9px,#202020 53.2px,#606060 60.8px,#606060 61.7px,#7c7c7c 68.4px,#838383 69.3px,#9f9f9f)"></i><i style="background:linear-gradient(90deg,#6e6e6e 0,#7f7f7f 2.1px,#9f9f9f 7.6px,#9f9f9f 17.3px,#dfdfdf 24.9px,#dfdfdf 32.5px,#202020 40.1px,#202020 53.2px,#606060 60.8px,#606060 62.9px,#777 68.4px,#888 70.5px,#9f9f9f)"></i><i style="background:linear-gradient(90deg,#6a6a6a 0,#868686 3.3px,#9f9f9f 7.6px,#9f9f9f 18.5px,#dfdfdf 26.1px,#dfdfdf 33.7px,#202020 41.3px,#202020 53.2px,#606060 60.8px,#606060 64.1px,#727272 68.4px,#8d8d8d 71.7px,#9f9f9f)"></i><i style="background:linear-gradient(90deg,#676767 0,#8d8d8d 4.5px,#9f9f9f 7.6px,#9f9f9f 19.7px,#dfdfdf 27.3px,#dfdfdf 34.9px,#202020 42.5px,#202020 53.2px,#606060 60.8px,#606060 65.3px,#6c6c6c 68.4px,#939393 72.9px,#9f9f9f)"></i><i style="background:linear-gradient(90deg,#646464 0,#959595 5.8px,#9f9f9f 7.6px,#9f9f9f 21px,#dfdfdf 28.6px,#dfdfdf 36.2px,#202020 43.8px,#202020 53.2px,#606060 60.8px,#606060 66.6px,#676767 68.4px,#989898 74.2px,#9f9f9f)"></i><i style="background:linear-gradient(90deg,#616161 0,#9c9c9c 7px,#9f9f9f 7.6px,#9f9f9f 22.2px,#dfdfdf 29.8px,#dfdfdf 37.4px,#202020 45px,#202020 53.2px,#606060 60.8px,#606060 67.8px,#626262 68.4px,#9d9d9d 75.4px,#9f9f9f)"></i></div>
<span class="t" style="left:267.00px;top:322.98px;font-size:9.00px;color:#000">(A-c1)</span>
<span class="l" style="left:245.20px;top:385.80px;font-size:8.50px;color:#111">0.8346±0.0111</span>
<span class="t" style="left:229.00px;top:399.48px;font-size:9.00px">0</span>
<span class="r" style="left:226.70px;top:391.58px;font-size:9.00px">0</span>
<span class="t" style="left:259.40px;top:399.48px;font-size:9.00px">1</span>
<span class="r" style="left:226.70px;top:366.78px;font-size:9.00px">1</span>
<span class="t" style="left:289.80px;top:399.48px;font-size:9.00px">2</span>
<span class="r" style="left:226.70px;top:341.98px;font-size:9.00px">2</span>
<span class="t" style="left:267.00px;top:17.38px;font-size:9.00px;color:#000">None</span>
<span class="t" style="left:267.00px;top:223.58px;font-size:9.00px;color:#000">None</span>
<div class="h g" style="left:339px;top:40px;width:76px;height:62px"><i style="background:linear-gradient(90deg,#545454 0,#595959 7.6px,#5b5b5b 8.2px,#606060 15.2px,#3a3a3a 30.4px,#383838 38.6px,#3b3b3b 46.2px,#595959)"></i><i style="background:linear-gradient(90deg,#545454 0,#5a5a5a 7.6px,#5f5f5f 9.4px,#636363 15.2px,#5c5c5c 17px,#4e4e4e 22.8px,#484848 24.6px,#3a3a3a 30.4px,#373737 38px,#3b3b3b 47.4px,#595959)"></i><i style="background:linear-gradient(90deg,#545454 0,#5a5a5a 7.6px,#636363 10.7px,#666 15.2px,#5a5a5a 18.3px,#505050 22.8px,#444 25.9px,#3a3a3a 30.4px,#363636 38px,#393939 45.6px,#585858)"></i><i style="background:linear-gradient(90deg,#545454 0,#5b5b5b 7.6px,#666 11.9px,#686868 15.2px,#595959 19.5px,#515151 22.8px,#414141 27.1px,#393939 30.4px,#353535 38px,#383838 45.6px,#4f4f4f 68.4px,#585858)"></i><i style="background:linear-gradient(90deg,#545454 0,#5b5b5b 7.6px,#6a6a6a 13.1px,#6b6b6b 15.2px,#575757 20.7px,#525252 22.8px,#3e3e3e 28.3px,#393939 30.4px,#343434 38px,#373737 45.6px,#4e4e4e 68.4px,#575757)"></i><i style="background:linear-gradient(90deg,#545454 0,#5c5c5c 7.6px,#6e6e6e 14.3px,#6e6e6e 15.2px,#555 21.9px,#535353 22.8px,#3a3a3a 29.5px,#383838 30.4px,#343434 38px,#363636 45.6px,#4d4d4d 68.4px,#575757)"></i><i style="background:linear-gradient(90deg,#545454 0,#5d5d5d 8px,#707070 15.2px,#383838 30.8px,#333 38.4px,#363636 46px,#4d4d4d 68.8px,#575757)"></i><i style="background:linear-gradient(90deg,#545454 0,#5b5b5b 7.6px,#707070 15.2px,#6c6c6c 16.8px,#393939 30.4px,#363636 32px,#323232 38px,#363636 47.2px,#4e4e4e 70px,#565656)"></i><i style="background:linear-gradient(90deg,#535353 0,#5b5b5b 7.6px,#707070 15.2px,#696969 18px,#3a3a3a 30.4px,#353535 33.2px,#323232 38px,#363636 48.4px,#4f4f4f 71.2px,#565656)"></i><i style="background:linear-gradient(90deg,#535353 0,#5a5a5a 7.6px,#707070 15.2px,#656565 19.2px,#3b3b3b 30.4px,#343434 34.4px,#323232 38px,#373737 49.6px,#515151 72.4px,#555)"></i><i style="background:linear-gradient(90deg,#525252 0,#5a5a5a 7.6px,#707070 15.2px,#626262 20.5px,#3c3c3c 30.4px,#333 35.7px,#313131 38px,#343434 45.6px,#3a3a3a 53.2px,#434343 60.8px,#4b4b4b 68.4px,#555)"></i><i style="background:linear-gradient(90deg,#525252 0,#5a5a5a 7.6px,#707070 15.2px,#5b5b5b 22.8px,#3c3c3c 30.4px,#313131 38px,#333 45.6px,#393939 53.2px,#434343 60.8px,#4a4a4a 68.4px,#555)"></i><i style="background:linear-gradient(90deg,#525252 0,#595959 7.7px,#707070 15.3px,#5c5c5c 22.9px,#3d3d3d 30.5px,#303030 38.1px,#333 45.7px,#383838 53.3px,#424242 60.9px,#4a4a4a 68.5px,#545454)"></i><i style="background:linear-gradient(90deg,#515151 0,#5a5a5a 8.9px,#6d6d6d 15.2px,#6d6d6d 16.5px,#595959 24.1px,#3f3f3f 30.4px,#323232 38px,#313131 39.3px,#333 46.9px,#393939 54.5px,#434343 62.1px,#4b4b4b 69.7px,#545454)"></i><i style="background:linear-gradient(90deg,#505050 0,#5b5b5b 10.2px,#6a6a6a 15.2px,#6b6b6b 17.8px,#565656 25.4px,#424242 30.4px,#3b3b3b 33px,#333 38px,#313131 40.6px,#333 48.2px,#363636 53.2px,#444 63.4px,#535353)"></i><i style="background:linear-gradient(90deg,#4f4f4f 0,#5c5c5c 11.4px,#676767 15.2px,#696969 19px,#535353 26.6px,#444 30.4px,#3b3b3b 34.2px,#343434 38px,#323232 41.8px,#333 49.4px,#363636 53.2px,#535353)"></i><i style="background:linear-gradient(90deg,#4e4e4e 0,#5d5d5d 12.6px,#646464 15.2px,#666 20.2px,#505050 27.8px,#464646 30.4px,#3a3a3a 35.4px,#363636 38px,#323232 43px,#333 50.6px,#353535 53.2px,#525252)"></i><i style="background:linear-gradient(90deg,#4d4d4d 0,#555 7.6px,#5d5d5d 13.9px,#626262 15.2px,#646464 21.5px,#4d4d4d 29.1px,#484848 30.4px,#373737 38px,#333 44.3px,#343434 53.2px,#525252)"></i><i style="background:linear-gradient(90deg,#4d4d4d 0,#545454 7.6px,#5f5f5f 15.2px,#616161 22.8px,#4a4a4a 30.4px,#383838 38px,#333 45.6px,#333 53.2px,#525252)"></i><i style="background:linear-gradient(90deg,#4c4c4c 0,#555 8.7px,#5f5f5f 16.3px,#616161 22.8px,#5f5f5f 23.9px,#484848 31.5px,#383838 39.1px,#323232 46.7px,#333 54.3px,#515151)"></i><i style="background:linear-gradient(90deg,#4b4b4b 0,#555 9.9px,#606060 17.5px,#626262 22.8px,#5e5e5e 25.1px,#474747 32.7px,#3a3a3a 38px,#373737 40.3px,#313131 47.9px,#313131 53.2px,#505050)"></i><i style="background:linear-gradient(90deg,#4a4a4a 0,#535353 7.6px,#555 11.2px,#616161 18.8px,#626262 22.8px,#5c5c5c 26.4px,#454545 34px,#3c3c3c 38px,#373737 41.6px,#313131 49.2px,#313131 53.2px,#444 68.4px,#4f4f4f)"></i><i style="background:linear-gradient(90deg,#494949 0,#535353 7.6px,#565656 12.4px,#626262 20px,#636363 22.8px,#5a5a5a 27.6px,#444 35.2px,#3d3d3d 38px,#363636 42.8px,#303030 50.4px,#303030 53.2px,#3f3f3f 65.6px,#4e4e4e)"></i><i style="background:linear-gradient(90deg,#484848 0,#525252 7.6px,#585858 15.2px,#626262 21.2px,#636363 22.8px,#595959 28.8px,#3e3e3e 38px,#353535 45.6px,#2f2f2f 51.6px,#2f2f2f 53.2px,#373737 60.8px,#414141 68.4px,#4e4e4e)"></i><i style="background:linear-gradient(90deg,#484848 0,#525252 7.6px,#575757 15.2px,#636363 22.8px,#565656 30.4px,#3f3f3f 38px,#353535 45.6px,#2e2e2e 53.2px,#363636 60.8px,#404040 68.4px,#4d4d4d)"></i><i style="background:linear-gradient(90deg,#474747 0,#525252 8.5px,#575757 16.1px,#636363 23.7px,#565656 31.3px,#3f3f3f 38.9px,#353535 46.5px,#2e2e2e 54.1px,#363636 61.7px,#414141 69.3px,#4c4c4c)"></i><i style="background:linear-gradient(90deg,#454545 0,#525252 9.7px,#575757 17.3px,#636363 24.9px,#5a5a5a 30.4px,#3e3e3e 40.1px,#353535 47.7px,#2f2f2f 53.2px,#2f2f2f 55.3px,#373737 62.9px,#424242 70.5px,#4b4b4b)"></i><i style="background:linear-gradient(90deg,#444 0,#4f4f4f 7.6px,#585858 18.5px,#636363 26.1px,#5c5c5c 30.4px,#3e3e3e 41.3px,#303030 53.2px,#303030 56.5px,#3e3e3e 68.4px,#4a4a4a)"></i><i style="background:linear-gradient(90deg,#434343 0,#4f4f4f 7.6px,#585858 19.7px,#636363 27.3px,#5e5e5e 30.4px,#3d3d3d 42.5px,#313131 53.2px,#313131 57.7px,#3d3d3d 68.4px,#494949)"></i><i style="background:linear-gradient(90deg,#424242 0,#4e4e4e 7.6px,#555 15.2px,#595959 21px,#636363 28.6px,#606060 30.4px,#3c3c3c 43.8px,#323232 53.2px,#323232 59px,#3c3c3c 68.4px,#494949)"></i><i style="background:linear-gradient(90deg,#404040 0,#4d4d4d 7.6px,#545454 15.2px,#5a5a5a 22.8px,#636363 29.8px,#3a3a3a 45.6px,#333 53.2px,#333 60.8px,#3b3b3b 68.4px,#484848)"></i><i style="background:linear-gradient(90deg,#3f3f3f 0,#4d4d4d 8.2px,#555 15.8px,#595959 22.8px,#646464 30.4px,#3a3a3a 46.2px,#333 53.8px,#333 61.4px,#3b3b3b 69px,#474747)"></i><i style="background:linear-gradient(90deg,#3e3e3e 0,#4d4d4d 9.4px,#555 17px,#595959 22.8px,#5f5f5f 24.6px,#676767 30.4px,#535353 38px,#3d3d3d 45.6px,#343434 53.2px,#333 60.8px,#393939 68.4px,#464646)"></i><i style="background:linear-gradient(90deg,#3d3d3d 0,#4e4e4e 10.7px,#565656 18.3px,#595959 22.8px,#636363 25.9px,#696969 30.4px,#555 38px,#4b4b4b 41.1px,#3f3f3f 45.6px,#3a3a3a 48.7px,#333 56.3px,#343434 63.9px,#3d3d3d 71.5px,#444)"></i><i style="background:linear-gradient(90deg,#3b3b3b 0,#4e4e4e 11.9px,#575757 19.5px,#595959 22.8px,#666 27.1px,#6b6b6b 30.4px,#585858 38px,#494949 42.3px,#404040 45.6px,#393939 49.9px,#333 57.5px,#343434 65.1px,#3e3e3e 72.7px,#434343)"></i><i style="background:linear-gradient(90deg,#3a3a3a 0,#474747 7.6px,#585858 20.7px,#595959 22.8px,#6a6a6a 28.3px,#6d6d6d 30.4px,#5a5a5a 38px,#424242 45.6px,#373737 53.2px,#333 60.8px,#373737 68.4px,#424242)"></i><i style="background:linear-gradient(90deg,#393939 0,#464646 7.6px,#595959 22.8px,#6e6e6e 29.5px,#6f6f6f 30.4px,#5d5d5d 38px,#444 45.6px,#383838 53.2px,#333 60.8px,#363636 68.4px,#414141)"></i><i style="background:linear-gradient(90deg,#383838 0,#454545 8px,#595959 23.2px,#707070 30.8px,#5e5e5e 38.4px,#454545 46px,#383838 53.6px,#333 61.2px,#363636 68.8px,#404040)"></i><i style="background:linear-gradient(90deg,#363636 0,#4d4d4d 15.2px,#5a5a5a 24.4px,#6c6c6c 30.4px,#6f6f6f 32px,#606060 38px,#5e5e5e 39.6px,#454545 47.2px,#383838 54.8px,#333 62.4px,#373737 70px,#3f3f3f)"></i><i style="background:linear-gradient(90deg,#353535 0,#4c4c4c 15.2px,#5b5b5b 25.6px,#6a6a6a 30.4px,#6d6d6d 33.2px,#626262 38px,#5e5e5e 40.8px,#454545 48.4px,#373737 56px,#333 63.6px,#353535 68.4px,#3e3e3e)"></i><i style="background:linear-gradient(90deg,#343434 0,#505050 19.2px,#5c5c5c 26.8px,#676767 30.4px,#6c6c6c 34.4px,#646464 38px,#5e5e5e 42px,#454545 49.6px,#373737 57.2px,#333 64.8px,#343434 68.4px,#3d3d3d)"></i><i style="background:linear-gradient(90deg,#333 0,#3e3e3e 7.6px,#4a4a4a 15.2px,#545454 22.8px,#5d5d5d 28.1px,#646464 30.4px,#6b6b6b 35.7px,#656565 38px,#5e5e5e 43.3px,#454545 50.9px,#363636 58.5px,#333 66.1px,#343434 68.4px,#3c3c3c)"></i><i style="background:linear-gradient(90deg,#323232 0,#3c3c3c 7.6px,#494949 15.2px,#535353 22.8px,#5e5e5e 29.3px,#616161 30.4px,#6a6a6a 36.9px,#5e5e5e 44.5px,#454545 52.1px,#363636 59.7px,#333 68.4px,#3b3b3b)"></i><i style="background:linear-gradient(90deg,#303030 0,#3b3b3b 7.7px,#474747 15.3px,#525252 22.9px,#5e5e5e 30.5px,#686868 38.1px,#5e5e5e 45.7px,#454545 53.3px,#363636 60.9px,#333 68.5px,#3b3b3b)"></i><i style="background:linear-gradient(90deg,#303030 0,#3c3c3c 8.9px,#484848 16.5px,#525252 24.1px,#5e5e5e 31.7px,#676767 39.3px,#5d5d5d 46.9px,#444 54.5px,#363636 62.1px,#333 69.7px,#3a3a3a)"></i><i style="background:linear-gradient(90deg,#303030 0,#323232 2.6px,#525252 25.4px,#5b5b5b 30.4px,#646464 38px,#666 40.6px,#5b5b5b 48.2px,#4a4a4a 53.2px,#434343 55.8px,#393939 60.8px,#363636 63.4px,#343434 71px,#393939)"></i><i style="background:linear-gradient(90deg,#303030 0,#333 3.8px,#595959 30.4px,#626262 38px,#656565 41.8px,#595959 49.4px,#4d4d4d 53.2px,#424242 57px,#3b3b3b 60.8px,#363636 64.6px,#343434 72.2px,#383838)"></i><i style="background:linear-gradient(90deg,#303030 0,#343434 5px,#585858 30.4px,#606060 38px,#636363 43px,#585858 50.6px,#4f4f4f 53.2px,#414141 58.2px,#3c3c3c 60.8px,#363636 65.8px,#353535 73.4px,#373737)"></i><i style="background:linear-gradient(90deg,#303030 0,#363636 7.6px,#565656 30.4px,#5e5e5e 38px,#626262 44.3px,#565656 51.9px,#3e3e3e 60.8px,#363636 67.1px,#353535 74.7px,#363636)"></i><i style="background:linear-gradient(90deg,#303030 0,#363636 7.6px,#545454 30.4px,#5c5c5c 38px,#616161 45.6px,#545454 53.2px,#404040 60.8px,#363636 68.4px,#363636)"></i><i style="background:linear-gradient(90deg,#313131 0,#363636 8.7px,#545454 31.5px,#5b5b5b 39.1px,#606060 46.7px,#535353 54.3px,#3f3f3f 61.9px,#363636 69.5px,#363636)"></i><i style="background:linear-gradient(90deg,#313131 0,#313131 2.3px,#363636 9.9px,#535353 32.7px,#5b5b5b 40.3px,#5f5f5f 45.6px,#5f5f5f 47.9px,#515151 55.5px,#434343 60.8px,#3e3e3e 63.1px,#373737 68.4px,#363636 70.7px,#363636)"></i><i style="background:linear-gradient(90deg,#323232 0,#323232 3.6px,#373737 11.2px,#4f4f4f 30.4px,#5d5d5d 45.6px,#5d5d5d 49.2px,#4f4f4f 56.8px,#454545 60.8px,#3d3d3d 64.4px,#383838 68.4px,#363636 72px,#363636)"></i><i style="background:linear-gradient(90deg,#323232 0,#323232 4.8px,#373737 12.4px,#454545 22.8px,#5c5c5c 45.6px,#5c5c5c 50.4px,#4e4e4e 58px,#464646 60.8px,#3d3d3d 65.6px,#393939 68.4px,#363636 73.2px,#363636)"></i><i style="background:linear-gradient(90deg,#323232 0,#343434 7.6px,#3a3a3a 15.2px,#444 22.8px,#5b5b5b 45.6px,#5b5b5b 51.6px,#3a3a3a 68.4px,#363636)"></i><i style="background:linear-gradient(90deg,#333 0,#333 7.6px,#383838 15.2px,#434343 22.8px,#5a5a5a 45.6px,#595959 53.2px,#3a3a3a 68.4px,#363636)"></i><i style="background:linear-gradient(90deg,#333 0,#333 8.5px,#393939 16.1px,#434343 23.7px,#595959 46.5px,#585858 54.1px,#3b3b3b 69.3px,#363636)"></i><i style="background:linear-gradient(90deg,#343434 0,#343434 9.7px,#393939 17.3px,#434343 24.9px,#595959 47.7px,#595959 53.2px,#565656 55.3px,#3d3d3d 68.4px,#373737)"></i><i style="background:linear-gradient(90deg,#343434 0,#333 7.6px,#373737 15.2px,#4f4f4f 38px,#585858 48.9px,#585858 53.2px,#555 56.5px,#3e3e3e 68.4px,#383838)"></i><i style="background:linear-gradient(90deg,#353535 0,#333 7.6px,#373737 15.2px,#4f4f4f 38px,#585858 50.1px,#585858 53.2px,#535353 57.7px,#3f3f3f 68.4px,#393939)"></i><i style="background:linear-gradient(90deg,#353535 0,#333 7.6px,#363636 15.2px,#4e4e4e 38px,#575757 51.4px,#575757 53.2px,#525252 59px,#404040 68.4px,#393939)"></i><i style="background:linear-gradient(90deg,#353535 0,#333 7.6px,#363636 15.2px,#4d4d4d 38px,#575757 53.2px,#4f4f4f 60.8px,#424242 68.4px,#3a3a3a)"></i></div>
<span class="t" style="left:377.00px;top:29.98px;font-size:9.00px;color:#000">(P-q2)</span>
<span class="l" style="left:355.20px;top:92.80px;font-size:8.50px;color:#111">0.8524±0.0006</span>
<span class="t" style="left:339.00px;top:106.48px;font-size:9.00px">0</span>
<span class="r" style="left:336.70px;top:98.58px;font-size:9.00px">0</span>
<span class="t" style="left:369.40px;top:106.48px;font-size:9.00px">1</span>
<span class="r" style="left:336.70px;top:73.78px;font-size:9.00px">1</span>
<span class="t" style="left:399.80px;top:106.48px;font-size:9.00px">2</span>
<span class="r" style="left:336.70px;top:48.98px;font-size:9.00px">2</span>
<div class="h g" style="left:339px;top:127px;width:76px;height:62px"><i style="background:linear-gradient(90deg,#8f8f8f 0,#909090 .6px,#b3b3b3 7.6px,#b8b8b8 8.2px,#bcbcbc 15.8px,#b1b1b1 23.4px,#acacac 31px,#a7a7a7 46.2px,#939393)"></i><i style="background:linear-gradient(90deg,#8e8e8e 0,#8f8f8f 1.8px,#acacac 7.6px,#bababa 9.4px,#bebebe 15.2px,#b5b5b5 22.8px,#b1b1b1 24.6px,#acacac 32.2px,#a7a7a7 47.4px,#939393)"></i><i style="background:linear-gradient(90deg,#8d8d8d 0,#8e8e8e 3.1px,#a5a5a5 7.6px,#bcbcbc 10.7px,#c0c0c0 15.2px,#bdbdbd 18.3px,#b7b7b7 22.8px,#b1b1b1 25.9px,#ababab 38px,#a7a7a7 48.7px,#949494)"></i><i style="background:linear-gradient(90deg,#8c8c8c 0,#8d8d8d 4.3px,#9e9e9e 7.6px,#bfbfbf 11.9px,#c1c1c1 15.2px,#bebebe 19.5px,#bababa 22.8px,#b1b1b1 27.1px,#ababab 38px,#a5a5a5 53.2px,#9b9b9b 68.4px,#949494)"></i><i style="background:linear-gradient(90deg,#8b8b8b 0,#8c8c8c 5.5px,#979797 7.6px,#c1c1c1 13.1px,#c3c3c3 15.2px,#bcbcbc 22.8px,#b1b1b1 28.3px,#ababab 38px,#a6a6a6 53.2px,#9b9b9b 68.4px,#949494)"></i><i style="background:linear-gradient(90deg,#898989 0,#8c8c8c 6.7px,#909090 7.6px,#c4c4c4 14.3px,#c4c4c4 15.2px,#bfbfbf 22.8px,#b1b1b1 29.5px,#acacac 38px,#a6a6a6 53.2px,#9c9c9c 68.4px,#959595)"></i><i style="background:linear-gradient(90deg,#888 0,#8b8b8b 7.6px,#8d8d8d 8px,#c4c4c4 15.2px,#c6c6c6 15.6px,#c1c1c1 23.2px,#b1b1b1 30.8px,#acacac 38.4px,#a7a7a7 53.6px,#9c9c9c 68.8px,#959595)"></i><i style="background:linear-gradient(90deg,#888 0,#8b8b8b 7.6px,#929292 9.2px,#c0c0c0 15.2px,#c5c5c5 16.8px,#c1c1c1 24.4px,#b1b1b1 32px,#acacac 39.6px,#a6a6a6 54.8px,#9c9c9c 68.4px,#999 70px,#939393)"></i><i style="background:linear-gradient(90deg,#888 0,#8b8b8b 7.6px,#979797 10.4px,#bcbcbc 15.2px,#c5c5c5 18px,#c1c1c1 25.6px,#b1b1b1 33.2px,#ababab 40.8px,#a5a5a5 56px,#a2a2a2 60.8px,#9e9e9e 63.6px,#9b9b9b 68.4px,#959595 71.2px,#909090)"></i><i style="background:linear-gradient(90deg,#888 0,#8b8b8b 7.6px,#9d9d9d 11.6px,#b8b8b8 15.2px,#c4c4c4 19.2px,#c1c1c1 26.8px,#b1b1b1 34.4px,#ababab 42px,#a4a4a4 57.2px,#a2a2a2 60.8px,#9c9c9c 64.8px,#9a9a9a 68.4px,#929292 72.4px,#8e8e8e)"></i><i style="background:linear-gradient(90deg,#888 0,#8b8b8b 7.6px,#a2a2a2 12.9px,#b4b4b4 15.2px,#c4c4c4 20.5px,#c1c1c1 28.1px,#b1b1b1 35.7px,#aaa 45.6px,#a7a7a7 53.2px,#a2a2a2 60.8px,#9b9b9b 66.1px,#999 68.4px,#8f8f8f 73.7px,#8c8c8c)"></i><i style="background:linear-gradient(90deg,#888 0,#8b8b8b 7.6px,#a7a7a7 14.1px,#b0b0b0 15.2px,#c3c3c3 21.7px,#c1c1c1 29.3px,#b1b1b1 36.9px,#aaa 45.6px,#a7a7a7 53.2px,#a2a2a2 60.8px,#989898 68.4px,#8a8a8a)"></i><i style="background:linear-gradient(90deg,#898989 0,#8b8b8b 7.7px,#acacac 15.3px,#c3c3c3 22.9px,#c0c0c0 30.5px,#b1b1b1 38.1px,#aaa 45.7px,#a7a7a7 53.3px,#a2a2a2 60.9px,#989898 68.5px,#898989)"></i><i style="background:linear-gradient(90deg,#8a8a8a 0,#8c8c8c 7.6px,#8e8e8e 8.9px,#a9a9a9 15.2px,#bfbfbf 22.8px,#c5c5c5 24.1px,#c3c3c3 30.4px,#b0b0b0 39.3px,#a9a9a9 46.9px,#a6a6a6 54.5px,#a1a1a1 62.1px,#979797 69.7px,#8a8a8a)"></i><i style="background:linear-gradient(90deg,#8c8c8c 0,#8b8b8b 2.6px,#8d8d8d 7.6px,#919191 10.2px,#a7a7a7 15.2px,#adadad 17.8px,#bcbcbc 22.8px,#c7c7c7 25.4px,#c6c6c6 30.4px,#bfbfbf 33px,#afafaf 40.6px,#a9a9a9 48.2px,#a2a2a2 60.8px,#a0a0a0 63.4px,#969696 71px,#8c8c8c)"></i><i style="background:linear-gradient(90deg,#8e8e8e 0,#8c8c8c 3.8px,#8e8e8e 7.6px,#949494 11.4px,#a4a4a4 15.2px,#adadad 19px,#b9b9b9 22.8px,#c9c9c9 26.6px,#c8c8c8 30.4px,#bebebe 34.2px,#afafaf 41.8px,#a8a8a8 49.4px,#9f9f9f 64.6px,#959595 72.2px,#8e8e8e)"></i><i style="background:linear-gradient(90deg,#8f8f8f 0,#8d8d8d 5px,#8e8e8e 7.6px,#979797 12.6px,#a2a2a2 15.2px,#aeaeae 20.2px,#b6b6b6 22.8px,#ccc 27.8px,#cbcbcb 30.4px,#bdbdbd 35.4px,#aeaeae 43px,#9f9f9f 65.8px,#949494 73.4px,#8f8f8f)"></i><i style="background:linear-gradient(90deg,#919191 0,#8f8f8f 7.6px,#9a9a9a 13.9px,#a0a0a0 15.2px,#b2b2b2 22.8px,#cecece 29.1px,#cdcdcd 30.4px,#bababa 38px,#adadad 44.3px,#9c9c9c 68.4px,#919191)"></i><i style="background:linear-gradient(90deg,#929292 0,#909090 7.6px,#9d9d9d 15.2px,#afafaf 22.8px,#d0d0d0 30.4px,#bbb 38px,#acacac 45.6px,#9d9d9d 68.4px,#929292)"></i><i style="background:linear-gradient(90deg,#949494 0,#909090 8.7px,#9e9e9e 16.3px,#adadad 22.8px,#cecece 30.4px,#d0d0d0 31.5px,#bebebe 38px,#bababa 39.1px,#ababab 46.7px,#9d9d9d 69.5px,#949494)"></i><i style="background:linear-gradient(90deg,#969696 0,#919191 9.9px,#9e9e9e 17.5px,#ababab 22.8px,#cbcbcb 30.4px,#d0d0d0 32.7px,#c2c2c2 38px,#b8b8b8 40.3px,#aeaeae 45.6px,#ababab 47.9px,#9d9d9d 68.4px,#9d9d9d 70.7px,#969696)"></i><i style="background:linear-gradient(90deg,#979797 0,#919191 11.2px,#9f9f9f 18.8px,#a9a9a9 22.8px,#c9c9c9 30.4px,#d0d0d0 34px,#c5c5c5 38px,#b7b7b7 41.6px,#afafaf 45.6px,#aaa 49.2px,#9d9d9d 68.4px,#9d9d9d 72px,#979797)"></i><i style="background:linear-gradient(90deg,#999 0,#929292 12.4px,#a7a7a7 22.8px,#c6c6c6 30.4px,#d0d0d0 35.2px,#c8c8c8 38px,#b5b5b5 42.8px,#afafaf 45.6px,#a9a9a9 50.4px,#9d9d9d 68.4px,#9d9d9d 73.2px,#999)"></i><i style="background:linear-gradient(90deg,#9b9b9b 0,#929292 13.6px,#a5a5a5 22.8px,#c4c4c4 30.4px,#d0d0d0 36.4px,#ccc 38px,#b3b3b3 44px,#a8a8a8 51.6px,#9d9d9d 68.4px,#9d9d9d 74.4px,#9b9b9b)"></i><i style="background:linear-gradient(90deg,#9c9c9c 0,#939393 15.2px,#a3a3a3 22.8px,#c1c1c1 30.4px,#d0d0d0 37.6px,#b1b1b1 45.6px,#a7a7a7 53.2px,#9d9d9d 68.4px,#9c9c9c)"></i><i style="background:linear-gradient(90deg,#9d9d9d 0,#989898 7.6px,#969696 8.5px,#929292 15.2px,#a3a3a3 23.7px,#bebebe 30.4px,#cecece 38px,#cecece 38.9px,#b2b2b2 45.6px,#a6a6a6 54.1px,#9d9d9d 69.3px,#9d9d9d)"></i><i style="background:linear-gradient(90deg,#9e9e9e 0,#999 7.6px,#949494 9.7px,#919191 15.2px,#9e9e9e 22.8px,#a3a3a3 24.9px,#bababa 30.4px,#cacaca 38px,#cacaca 40.1px,#b4b4b4 45.6px,#a8a8a8 53.2px,#a2a2a2 60.8px,#9d9d9d 68.4px,#9d9d9d)"></i><i style="background:linear-gradient(90deg,#9f9f9f 0,#9a9a9a 7.6px,#929292 10.9px,#8f8f8f 15.2px,#949494 18.5px,#a4a4a4 26.1px,#b5b5b5 30.4px,#bebebe 33.7px,#c7c7c7 38px,#c7c7c7 41.3px,#b6b6b6 45.6px,#afafaf 48.9px,#a5a5a5 56.5px,#9d9d9d 68.4px,#9d9d9d)"></i><i style="background:linear-gradient(90deg,#a0a0a0 0,#9b9b9b 7.6px,#909090 12.1px,#8e8e8e 15.2px,#949494 19.7px,#a5a5a5 27.3px,#b1b1b1 30.4px,#bdbdbd 34.9px,#c4c4c4 38px,#c4c4c4 42.5px,#b7b7b7 45.6px,#aeaeae 50.1px,#a4a4a4 57.7px,#9d9d9d 68.4px,#9d9d9d)"></i><i style="background:linear-gradient(90deg,#a1a1a1 0,#9c9c9c 7.6px,#8e8e8e 13.4px,#8d8d8d 15.2px,#989898 22.8px,#a6a6a6 28.6px,#adadad 30.4px,#c0c0c0 38px,#c0c0c0 43.8px,#b9b9b9 45.6px,#ababab 53.2px,#a2a2a2 60.8px,#9d9d9d 68.4px,#9d9d9d)"></i><i style="background:linear-gradient(90deg,#a2a2a2 0,#9c9c9c 7.6px,#8c8c8c 15.2px,#969696 22.8px,#a9a9a9 30.4px,#bdbdbd 38px,#bdbdbd 45px,#bbb 45.6px,#acacac 53.2px,#a2a2a2 60.8px,#9d9d9d 68.4px,#9d9d9d)"></i><i style="background:linear-gradient(90deg,#a2a2a2 0,#9c9c9c 8.2px,#8b8b8b 15.8px,#969696 23.4px,#a7a7a7 31px,#bababa 38px,#bdbdbd 38.6px,#bdbdbd 45.6px,#acacac 53.8px,#a2a2a2 61.4px,#9d9d9d 69px,#9d9d9d)"></i><i style="background:linear-gradient(90deg,#a3a3a3 0,#9e9e9e 7.6px,#8d8d8d 15.2px,#8b8b8b 17px,#939393 22.8px,#a8a8a8 32.2px,#b7b7b7 38px,#c0c0c0 39.8px,#c0c0c0 45.6px,#acacac 55px,#a2a2a2 62.6px,#9e9e9e 70.2px,#9e9e9e)"></i><i style="background:linear-gradient(90deg,#a4a4a4 0,#9f9f9f 7.6px,#9a9a9a 10.7px,#8f8f8f 15.2px,#8b8b8b 18.3px,#919191 22.8px,#a3a3a3 30.4px,#a8a8a8 33.5px,#b4b4b4 38px,#c4c4c4 41.1px,#c4c4c4 45.6px,#b4b4b4 53.2px,#acacac 56.3px,#a2a2a2 63.9px,#9f9f9f 68.4px,#9f9f9f)"></i><i style="background:linear-gradient(90deg,#a5a5a5 0,#a0a0a0 7.6px,#999 11.9px,#919191 15.2px,#8b8b8b 19.5px,#8f8f8f 22.8px,#a1a1a1 30.4px,#a8a8a8 34.7px,#b1b1b1 38px,#c7c7c7 42.3px,#c7c7c7 45.6px,#b8b8b8 53.2px,#acacac 57.5px,#a2a2a2 65.1px,#a0a0a0 68.4px,#a0a0a0)"></i><i style="background:linear-gradient(90deg,#a6a6a6 0,#a1a1a1 7.6px,#929292 15.2px,#8b8b8b 20.7px,#8e8e8e 22.8px,#a0a0a0 30.4px,#a9a9a9 35.9px,#aeaeae 38px,#cacaca 43.5px,#cacaca 45.6px,#bbb 53.2px,#acacac 58.7px,#a2a2a2 66.3px,#a1a1a1 73.9px,#a1a1a1)"></i><i style="background:linear-gradient(90deg,#a6a6a6 0,#a1a1a1 7.6px,#949494 15.2px,#8b8b8b 21.9px,#9e9e9e 30.4px,#acacac 38px,#cecece 44.7px,#cecece 45.6px,#bebebe 53.2px,#acacac 59.9px,#a1a1a1 68.4px,#a1a1a1)"></i><i style="background:linear-gradient(90deg,#a7a7a7 0,#a2a2a2 8px,#959595 15.6px,#8b8b8b 23.2px,#9d9d9d 30.8px,#aaa 38.4px,#cfcfcf 45.6px,#d0d0d0 46px,#c0c0c0 53.6px,#acacac 61.2px,#a2a2a2 68.8px,#a2a2a2)"></i><i style="background:linear-gradient(90deg,#a8a8a8 0,#aaa 1.6px,#a6a6a6 7.6px,#a1a1a1 9.2px,#949494 16.8px,#8c8c8c 22.8px,#8d8d8d 24.4px,#9e9e9e 32px,#a8a8a8 38px,#adadad 39.6px,#ccc 45.6px,#cfcfcf 47.2px,#bebebe 54.8px,#aeaeae 60.8px,#a2a2a2 70px,#a2a2a2)"></i><i style="background:linear-gradient(90deg,#a8a8a8 0,#adadad 2.8px,#a9a9a9 7.6px,#a0a0a0 10.4px,#8d8d8d 22.8px,#8e8e8e 25.6px,#9f9f9f 33.2px,#a7a7a7 38px,#b0b0b0 40.8px,#c8c8c8 45.6px,#cecece 48.4px,#c4c4c4 53.2px,#b0b0b0 60.8px,#a5a5a5 68.4px,#a3a3a3 71.2px,#a3a3a3)"></i><i style="background:linear-gradient(90deg,#a8a8a8 0,#afafaf 4px,#adadad 7.6px,#9f9f9f 11.6px,#8e8e8e 22.8px,#8f8f8f 26.8px,#a0a0a0 34.4px,#a6a6a6 38px,#b3b3b3 42px,#c5c5c5 45.6px,#cdcdcd 49.6px,#c6c6c6 53.2px,#b2b2b2 60.8px,#a6a6a6 68.4px,#a3a3a3 72.4px,#a3a3a3)"></i><i style="background:linear-gradient(90deg,#a9a9a9 0,#b2b2b2 5.3px,#b0b0b0 7.6px,#9e9e9e 12.9px,#8f8f8f 22.8px,#909090 28.1px,#a4a4a4 38px,#b6b6b6 43.3px,#c2c2c2 45.6px,#ccc 50.9px,#c8c8c8 53.2px,#b3b3b3 60.8px,#a7a7a7 68.4px,#a4a4a4 73.7px,#a4a4a4)"></i><i style="background:linear-gradient(90deg,#a9a9a9 0,#b4b4b4 6.5px,#b3b3b3 7.6px,#9e9e9e 14.1px,#8f8f8f 22.8px,#929292 29.3px,#a3a3a3 38px,#b9b9b9 44.5px,#bebebe 45.6px,#cbcbcb 52.1px,#b5b5b5 60.8px,#a8a8a8 68.4px,#a4a4a4)"></i><i style="background:linear-gradient(90deg,#a9a9a9 0,#b6b6b6 7.7px,#9d9d9d 15.3px,#909090 22.9px,#939393 30.5px,#a2a2a2 38.1px,#bbb 45.7px,#cbcbcb 53.3px,#b6b6b6 60.9px,#aaa 68.5px,#a5a5a5)"></i><i style="background:linear-gradient(90deg,#a7a7a7 0,#b4b4b4 7.6px,#b2b2b2 8.9px,#9d9d9d 15.2px,#8f8f8f 22.8px,#919191 30.4px,#a1a1a1 38px,#bbb 45.6px,#bcbcbc 46.9px,#cacaca 54.5px,#b5b5b5 62.1px,#a9a9a9 69.7px,#a5a5a5)"></i><i style="background:linear-gradient(90deg,#a5a5a5 0,#b1b1b1 7.6px,#aeaeae 10.2px,#9d9d9d 15.2px,#979797 17.8px,#8e8e8e 22.8px,#909090 30.4px,#a0a0a0 38px,#bababa 45.6px,#bcbcbc 48.2px,#c6c6c6 53.2px,#cacaca 55.8px,#b5b5b5 63.4px,#a9a9a9 71px,#a5a5a5)"></i><i style="background:linear-gradient(90deg,#a3a3a3 0,#afafaf 7.6px,#aaa 11.4px,#9d9d9d 15.2px,#949494 19px,#8e8e8e 22.8px,#8f8f8f 30.4px,#9f9f9f 38px,#b9b9b9 45.6px,#bdbdbd 49.4px,#c4c4c4 53.2px,#c9c9c9 57px,#b4b4b4 64.6px,#a8a8a8 72.2px,#a6a6a6)"></i><i style="background:linear-gradient(90deg,#a1a1a1 0,#acacac 7.6px,#a5a5a5 12.6px,#9d9d9d 15.2px,#919191 20.2px,#8d8d8d 22.8px,#8e8e8e 30.4px,#9f9f9f 38px,#b8b8b8 45.6px,#bdbdbd 50.6px,#c2c2c2 53.2px,#c9c9c9 58.2px,#b3b3b3 65.8px,#a8a8a8 73.4px,#a6a6a6)"></i><i style="background:linear-gradient(90deg,#9f9f9f 0,#aaa 7.6px,#a1a1a1 13.9px,#9d9d9d 15.2px,#8c8c8c 22.8px,#8c8c8c 30.4px,#9e9e9e 38px,#b7b7b7 45.6px,#bebebe 51.9px,#c9c9c9 59.5px,#b2b2b2 67.1px,#a7a7a7)"></i><i style="background:linear-gradient(90deg,#9d9d9d 0,#a7a7a7 7.6px,#9d9d9d 15.2px,#8b8b8b 22.8px,#8b8b8b 30.4px,#9d9d9d 38px,#b6b6b6 45.6px,#bebebe 53.2px,#c8c8c8 60.8px,#b1b1b1 68.4px,#a7a7a7)"></i><i style="background:linear-gradient(90deg,#9e9e9e 0,#9d9d9d 1.1px,#a6a6a6 7.6px,#9b9b9b 16.3px,#8c8c8c 22.8px,#8b8b8b 30.4px,#9f9f9f 39.1px,#b5b5b5 45.6px,#bebebe 54.3px,#c7c7c7 60.8px,#c6c6c6 61.9px,#b0b0b0 69.5px,#a7a7a7)"></i><i style="background:linear-gradient(90deg,#9e9e9e 0,#9d9d9d 2.3px,#a4a4a4 7.6px,#a2a2a2 9.9px,#999 17.5px,#8d8d8d 22.8px,#8b8b8b 25.1px,#8b8b8b 30.4px,#8f8f8f 32.7px,#a2a2a2 40.3px,#b3b3b3 45.6px,#c6c6c6 60.8px,#c4c4c4 63.1px,#b4b4b4 68.4px,#afafaf 70.7px,#a8a8a8)"></i><i style="background:linear-gradient(90deg,#9f9f9f 0,#9d9d9d 3.6px,#a2a2a2 7.6px,#a0a0a0 11.2px,#979797 18.8px,#8d8d8d 22.8px,#8b8b8b 26.4px,#8b8b8b 30.4px,#919191 34px,#a4a4a4 41.6px,#b2b2b2 45.6px,#c5c5c5 60.8px,#c2c2c2 64.4px,#b6b6b6 68.4px,#aeaeae 72px,#a8a8a8)"></i><i style="background:linear-gradient(90deg,#a0a0a0 0,#9d9d9d 4.8px,#a1a1a1 7.6px,#9d9d9d 12.4px,#959595 20px,#8e8e8e 22.8px,#8b8b8b 27.6px,#8b8b8b 30.4px,#939393 35.2px,#a6a6a6 42.8px,#b0b0b0 45.6px,#c3c3c3 60.8px,#c0c0c0 65.6px,#b8b8b8 68.4px,#acacac 73.2px,#a9a9a9)"></i><i style="background:linear-gradient(90deg,#a1a1a1 0,#9d9d9d 6px,#9f9f9f 7.6px,#999 15.2px,#939393 21.2px,#8f8f8f 22.8px,#8b8b8b 30.4px,#999 38px,#aeaeae 45.6px,#c2c2c2 60.8px,#bebebe 66.8px,#ababab 74.4px,#a9a9a9)"></i><i style="background:linear-gradient(90deg,#a2a2a2 0,#989898 15.2px,#909090 22.8px,#8b8b8b 30.4px,#989898 38px,#adadad 45.6px,#c1c1c1 60.8px,#bbb 68.4px,#a9a9a9)"></i><i style="background:linear-gradient(90deg,#a4a4a4 0,#a3a3a3 .9px,#9e9e9e 7.6px,#9c9c9c 8.5px,#979797 16.1px,#909090 23.7px,#8c8c8c 30.4px,#999 38.9px,#acacac 45.6px,#c1c1c1 61.7px,#bdbdbd 68.4px,#aaa)"></i><i style="background:linear-gradient(90deg,#a8a8a8 0,#a3a3a3 2.1px,#a0a0a0 7.6px,#9b9b9b 9.7px,#969696 17.3px,#909090 24.9px,#8c8c8c 30.4px,#989898 38px,#ababab 45.6px,#c2c2c2 62.9px,#bebebe 68.4px,#acacac)"></i><i style="background:linear-gradient(90deg,#ababab 0,#a4a4a4 3.3px,#a1a1a1 7.6px,#9b9b9b 10.9px,#919191 22.8px,#8d8d8d 30.4px,#919191 33.7px,#9e9e9e 41.3px,#aaa 45.6px,#c3c3c3 64.1px,#c0c0c0 68.4px,#adadad)"></i><i style="background:linear-gradient(90deg,#aeaeae 0,#a5a5a5 4.5px,#a3a3a3 7.6px,#9a9a9a 12.1px,#929292 22.8px,#8e8e8e 30.4px,#939393 34.9px,#a1a1a1 42.5px,#a9a9a9 45.6px,#c4c4c4 65.3px,#c2c2c2 68.4px,#aeaeae)"></i><i style="background:linear-gradient(90deg,#b1b1b1 0,#a6a6a6 5.8px,#a5a5a5 7.6px,#999 13.4px,#929292 22.8px,#8f8f8f 30.4px,#989898 38px,#a8a8a8 45.6px,#c4c4c4 66.6px,#c3c3c3 68.4px,#afafaf)"></i><i style="background:linear-gradient(90deg,#b5b5b5 0,#989898 15.2px,#929292 22.8px,#909090 30.4px,#989898 38px,#a7a7a7 45.6px,#c5c5c5 67.8px,#c5c5c5 68.4px,#b1b1b1)"></i></div>
<span class="t" style="left:377.00px;top:116.98px;font-size:9.00px;color:#000">(P-c2)</span>
<span class="l" style="left:355.20px;top:179.80px;font-size:8.50px;color:#111">0.2757±0.0009</span>
<span class="t" style="left:339.00px;top:193.48px;font-size:9.00px">0</span>
<span class="r" style="left:336.70px;top:185.58px;font-size:9.00px">0</span>
<span class="t" style="left:369.40px;top:193.48px;font-size:9.00px">1</span>
<span class="r" style="left:336.70px;top:160.78px;font-size:9.00px">1</span>
<span class="t" style="left:399.80px;top:193.48px;font-size:9.00px">2</span>
<span class="r" style="left:336.70px;top:135.98px;font-size:9.00px">2</span>
<div class="h g" style="left:339px;top:247px;width:76px;height:62px"><i style="background:linear-gradient(90deg,#1b1b1b 0,#464646 15.2px,#7d7d7d 31px,#949494 38.6px,#b3b3b3 46.2px,#dfdfdf 53.8px,#060606 61.4px,#1c1c1c 69px,#323232)"></i><i style="background:linear-gradient(90deg,#181818 0,#454545 15.2px,#7f7f7f 32.2px,#979797 39.8px,#b6b6b6 47.4px,#d8d8d8 53.2px,#e1e1e1 55px,#3d3d3d 60.8px,#070707 62.6px,#2e2e2e)"></i><i style="background:linear-gradient(90deg,#151515 0,#2b2b2b 7.6px,#4d4d4d 18.3px,#828282 33.5px,#9a9a9a 41.1px,#bababa 48.7px,#d4d4d4 53.2px,#e3e3e3 56.3px,#626262 60.8px,#070707 63.9px,#2b2b2b)"></i><i style="background:linear-gradient(90deg,#121212 0,#282828 7.6px,#5b5b5b 22.8px,#848484 34.7px,#9d9d9d 42.3px,#bdbdbd 49.9px,#d1d1d1 53.2px,#e5e5e5 57.5px,#878787 60.8px,#070707 65.1px,#282828)"></i><i style="background:linear-gradient(90deg,#0f0f0f 0,#262626 7.6px,#a0a0a0 43.5px,#c1c1c1 51.1px,#cdcdcd 53.2px,#e7e7e7 58.7px,#acacac 60.8px,#080808 66.3px,#252525)"></i><i style="background:linear-gradient(90deg,#0c0c0c 0,#242424 7.6px,#a6a6a6 45.6px,#c4c4c4 52.3px,#e9e9e9 59.9px,#d1d1d1 60.8px,#080808 67.5px,#222)"></i><i style="background:linear-gradient(90deg,#141414 0,#0a0a0a .4px,#3c3c3c 15.6px,#a5a5a5 46px,#ebebeb 61.2px,#090909 68.8px,#1f1f1f)"></i><i style="background:linear-gradient(90deg,#383838 0,#0a0a0a 1.6px,#383838 15.2px,#a7a7a7 47.2px,#ececec 62.4px,#0a0a0a 70px,#1c1c1c)"></i><i style="background:linear-gradient(90deg,#5b5b5b 0,#0b0b0b 2.8px,#343434 15.2px,#a8a8a8 48.4px,#ededed 63.6px,#0b0b0b 71.2px,#1a1a1a)"></i><i style="background:linear-gradient(90deg,#7f7f7f 0,#0b0b0b 4px,#9a9a9a 45.6px,#a9a9a9 49.6px,#eee 64.8px,#0c0c0c 72.4px,#171717)"></i><i style="background:linear-gradient(90deg,#a2a2a2 0,#0b0b0b 5.3px,#979797 45.6px,#aaa 50.9px,#f0f0f0 66.1px,#0d0d0d 73.7px,#151515)"></i><i style="background:linear-gradient(90deg,#c6c6c6 0,#0b0b0b 6.5px,#939393 45.6px,#b0b0b0 53.2px,#f1f1f1 67.3px,#0f0f0f 74.9px,#121212)"></i><i style="background:linear-gradient(90deg,#e5e5e5 0,#0c0c0c 7.6px,#424242 22.9px,#909090 45.7px,#adadad 53.3px,#f2f2f2 68.4px,#0f0f0f)"></i><i style="background:linear-gradient(90deg,#e3e3e3 0,#0a0a0a 7.6px,#939393 46.9px,#b0b0b0 54.5px,#efefef 68.4px,#c8c8c8 69.7px,#0e0e0e)"></i><i style="background:linear-gradient(90deg,#e1e1e1 0,#999 2.6px,#090909 7.6px,#969696 48.2px,#b2b2b2 55.8px,#ececec 68.4px,#a3a3a3 71px,#0d0d0d)"></i><i style="background:linear-gradient(90deg,#dfdfdf 0,#757575 3.8px,#080808 7.6px,#a6a6a6 53.2px,#c6c6c6 60.8px,#e9e9e9 68.4px,#7d7d7d 72.2px,#0c0c0c)"></i><i style="background:linear-gradient(90deg,#ddd 0,#505050 5px,#060606 7.6px,#a4a4a4 53.2px,#c4c4c4 60.8px,#e6e6e6 68.4px,#575757 73.4px,#0b0b0b)"></i><i style="background:linear-gradient(90deg,#dbdbdb 0,#050505 7.6px,#a2a2a2 53.2px,#c1c1c1 60.8px,#e3e3e3 68.4px,#323232 74.7px,#090909)"></i><i style="background:linear-gradient(90deg,#d9d9d9 0,#040404 7.6px,#a0a0a0 53.2px,#bfbfbf 60.8px,#e0e0e0 68.4px,#080808)"></i><i style="background:linear-gradient(90deg,#d6d6d6 0,#dbdbdb 1.1px,#050505 8.7px,#a2a2a2 54.3px,#c0c0c0 61.9px,#e2e2e2 69.5px,#292929)"></i><i style="background:linear-gradient(90deg,#d3d3d3 0,#ddd 2.3px,#070707 9.9px,#181818 15.2px,#222 17.5px,#a5a5a5 55.5px,#c3c3c3 63.1px,#e4e4e4 70.7px,#4e4e4e)"></i><i style="background:linear-gradient(90deg,#d0d0d0 0,#dfdfdf 3.6px,#080808 11.2px,#161616 15.2px,#242424 18.8px,#9a9a9a 53.2px,#c5c5c5 64.4px,#e5e5e5 72px,#727272)"></i><i style="background:linear-gradient(90deg,#cecece 0,#e1e1e1 4.8px,#090909 12.4px,#131313 15.2px,#262626 20px,#7d7d7d 45.6px,#a9a9a9 58px,#e7e7e7 73.2px,#979797)"></i><i style="background:linear-gradient(90deg,#cbcbcb 0,#e3e3e3 6px,#0b0b0b 13.6px,#2e2e2e 22.8px,#616161 38px,#959595 53.2px,#cacaca 66.8px,#e9e9e9 74.4px,#bbb)"></i><i style="background:linear-gradient(90deg,#c8c8c8 0,#e5e5e5 7.2px,#0c0c0c 14.8px,#2c2c2c 22.8px,#5f5f5f 38px,#939393 53.2px,#ccc 68px,#eaeaea 75.6px,#e0e0e0)"></i><i style="background:linear-gradient(90deg,#c5c5c5 0,#e6e6e6 8.5px,#0e0e0e 16.1px,#2c2c2c 23.7px,#5c5c5c 38px,#adadad 60.8px,#e9e9e9)"></i><i style="background:linear-gradient(90deg,#c3c3c3 0,#e8e8e8 9.7px,#0f0f0f 17.3px,#262626 22.8px,#585858 38px,#aaa 60.8px,#e7e7e7)"></i><i style="background:linear-gradient(90deg,#c0c0c0 0,#cbcbcb 3.3px,#e9e9e9 10.9px,#101010 18.5px,#222 22.8px,#555 38px,#8c8c8c 53.2px,#b5b5b5 64.1px,#e4e4e4)"></i><i style="background:linear-gradient(90deg,#bebebe 0,#cdcdcd 4.5px,#eaeaea 12.1px,#121212 19.7px,#1e1e1e 22.8px,#515151 38px,#8a8a8a 53.2px,#a5a5a5 60.8px,#e1e1e1)"></i><i style="background:linear-gradient(90deg,#bbb 0,#d6d6d6 7.6px,#ebebeb 13.4px,#131313 21px,#2e2e2e 28.6px,#4e4e4e 38px,#888 53.2px,#a3a3a3 60.8px,#dfdfdf)"></i><i style="background:linear-gradient(90deg,#b9b9b9 0,#d3d3d3 7.6px,#ededed 14.6px,#151515 22.2px,#4b4b4b 38px,#868686 53.2px,#a0a0a0 60.8px,#dcdcdc)"></i><i style="background:linear-gradient(90deg,#b7b7b7 0,#d2d2d2 8.2px,#ececec 15.2px,#141414 22.8px,#4a4a4a 38.6px,#858585 53.8px,#a0a0a0 61.4px,#dadada)"></i><i style="background:linear-gradient(90deg,#b6b6b6 0,#d5d5d5 9.4px,#eaeaea 15.2px,#121212 22.8px,#4d4d4d 39.8px,#878787 55px,#a2a2a2 62.6px,#d7d7d7)"></i><i style="background:linear-gradient(90deg,#b6b6b6 0,#bebebe 3.1px,#e8e8e8 15.2px,#101010 22.8px,#353535 33.5px,#505050 41.1px,#898989 56.3px,#a4a4a4 63.9px,#d4d4d4)"></i><i style="background:linear-gradient(90deg,#b5b5b5 0,#c0c0c0 4.3px,#e6e6e6 15.2px,#0e0e0e 22.8px,#292929 30.4px,#535353 42.3px,#7d7d7d 53.2px,#a7a7a7 65.1px,#d2d2d2)"></i><i style="background:linear-gradient(90deg,#b4b4b4 0,#cacaca 7.6px,#e4e4e4 15.2px,#0c0c0c 22.8px,#282828 30.4px,#565656 43.5px,#7a7a7a 53.2px,#a9a9a9 66.3px,#cfcfcf)"></i><i style="background:linear-gradient(90deg,#b3b3b3 0,#c8c8c8 7.6px,#e2e2e2 15.2px,#090909 22.8px,#262626 30.4px,#595959 44.7px,#8f8f8f 59.9px,#afafaf 68.4px,#cdcdcd)"></i><i style="background:linear-gradient(90deg,#b2b2b2 0,#c7c7c7 8px,#e1e1e1 15.6px,#080808 23.2px,#262626 30.8px,#5b5b5b 46px,#adadad 68.8px,#cacaca)"></i><i style="background:linear-gradient(90deg,#afafaf 0,#c9c9c9 9.2px,#e3e3e3 16.8px,#0a0a0a 24.4px,#282828 32px,#575757 45.6px,#8e8e8e 60.8px,#aeaeae 70px,#c6c6c6)"></i><i style="background:linear-gradient(90deg,#adadad 0,#cacaca 10.4px,#dadada 15.2px,#e5e5e5 18px,#0c0c0c 25.6px,#2a2a2a 33.2px,#555 45.6px,#7b7b7b 56px,#949494 63.6px,#c2c2c2)"></i><i style="background:linear-gradient(90deg,#aaa 0,#cbcbcb 11.6px,#d7d7d7 15.2px,#e7e7e7 19.2px,#0e0e0e 26.8px,#2b2b2b 34.4px,#525252 45.6px,#7d7d7d 57.2px,#959595 64.8px,#bfbfbf)"></i><i style="background:linear-gradient(90deg,#a8a8a8 0,#bcbcbc 7.6px,#d4d4d4 15.2px,#e9e9e9 20.5px,#101010 28.1px,#353535 38px,#505050 45.6px,#6d6d6d 53.2px,#878787 60.8px,#979797 66.1px,#bbb)"></i><i style="background:linear-gradient(90deg,#a5a5a5 0,#bababa 7.6px,#d1d1d1 15.2px,#ebebeb 21.7px,#121212 29.3px,#333 38px,#4d4d4d 45.6px,#6b6b6b 53.2px,#858585 60.8px,#9c9c9c 68.4px,#b7b7b7)"></i><i style="background:linear-gradient(90deg,#a3a3a3 0,#b8b8b8 7.7px,#cfcfcf 15.3px,#ededed 22.9px,#141414 30.5px,#313131 38.1px,#4b4b4b 45.7px,#696969 53.3px,#838383 60.9px,#999 68.5px,#b3b3b3)"></i><i style="background:linear-gradient(90deg,#a0a0a0 0,#b8b8b8 8.9px,#d0d0d0 16.5px,#eee 24.1px,#151515 31.7px,#323232 39.3px,#4c4c4c 46.9px,#6a6a6a 54.5px,#848484 62.1px,#9b9b9b 69.7px,#b1b1b1)"></i><i style="background:linear-gradient(90deg,#9e9e9e 0,#a3a3a3 2.6px,#c8c8c8 15.2px,#efefef 25.4px,#161616 33px,#333 40.6px,#4e4e4e 48.2px,#6b6b6b 55.8px,#858585 63.4px,#9d9d9d 71px,#aeaeae)"></i><i style="background:linear-gradient(90deg,#9c9c9c 0,#a3a3a3 3.8px,#c4c4c4 15.2px,#f0f0f0 26.6px,#171717 34.2px,#343434 41.8px,#5e5e5e 53.2px,#7a7a7a 60.8px,#9e9e9e 72.2px,#acacac)"></i><i style="background:linear-gradient(90deg,#999 0,#a3a3a3 5px,#c1c1c1 15.2px,#f1f1f1 27.8px,#181818 35.4px,#3e3e3e 45.6px,#777 60.8px,#a0a0a0 73.4px,#a9a9a9)"></i><i style="background:linear-gradient(90deg,#979797 0,#a7a7a7 7.6px,#bebebe 15.2px,#f1f1f1 29.1px,#191919 36.7px,#747474 60.8px,#a2a2a2 74.7px,#a6a6a6)"></i><i style="background:linear-gradient(90deg,#949494 0,#a4a4a4 7.6px,#bababa 15.2px,#f2f2f2 30.3px,#1a1a1a 37.9px,#717171 60.8px,#a4a4a4)"></i><i style="background:linear-gradient(90deg,#909090 0,#a0a0a0 7.6px,#bbb 16.3px,#f0f0f0 30.4px,#d3d3d3 31.5px,#1a1a1a 38px,#555 54.3px,#727272 61.9px,#a1a1a1)"></i><i style="background:linear-gradient(90deg,#8c8c8c 0,#929292 2.3px,#9d9d9d 7.6px,#bcbcbc 17.5px,#ededed 30.4px,#b0b0b0 32.7px,#1a1a1a 38px,#212121 40.3px,#353535 45.6px,#3c3c3c 47.9px,#737373 63.1px,#9e9e9e)"></i><i style="background:linear-gradient(90deg,#888 0,#929292 3.6px,#9a9a9a 7.6px,#bebebe 18.8px,#eaeaea 30.4px,#8d8d8d 34px,#1a1a1a 38px,#242424 41.6px,#343434 45.6px,#3e3e3e 49.2px,#696969 60.8px,#9a9a9a)"></i><i style="background:linear-gradient(90deg,#848484 0,#919191 4.8px,#969696 7.6px,#c9c9c9 22.8px,#e7e7e7 30.4px,#6a6a6a 35.2px,#1a1a1a 38px,#282828 42.8px,#323232 45.6px,#404040 50.4px,#666 60.8px,#979797)"></i><i style="background:linear-gradient(90deg,#808080 0,#939393 7.6px,#c6c6c6 22.8px,#e4e4e4 30.4px,#474747 36.4px,#191919 38px,#2b2b2b 44px,#313131 45.6px,#484848 53.2px,#636363 60.8px,#949494)"></i><i style="background:linear-gradient(90deg,#7c7c7c 0,#909090 7.6px,#c3c3c3 22.8px,#e1e1e1 30.4px,#191919 38px,#464646 53.2px,#787878 68.4px,#919191)"></i><i style="background:linear-gradient(90deg,#787878 0,#8f8f8f 8.5px,#c3c3c3 23.7px,#e2e2e2 31.3px,#313131 38px,#191919 38.9px,#464646 54.1px,#8d8d8d)"></i><i style="background:linear-gradient(90deg,#757575 0,#8f8f8f 9.7px,#bcbcbc 22.8px,#e4e4e4 32.5px,#535353 38px,#191919 40.1px,#464646 55.3px,#898989)"></i><i style="background:linear-gradient(90deg,#727272 0,#909090 10.9px,#b9b9b9 22.8px,#e6e6e6 33.7px,#767676 38px,#191919 41.3px,#464646 56.5px,#858585)"></i><i style="background:linear-gradient(90deg,#6e6e6e 0,#909090 12.1px,#b6b6b6 22.8px,#e8e8e8 34.9px,#989898 38px,#191919 42.5px,#464646 57.7px,#818181)"></i><i style="background:linear-gradient(90deg,#6b6b6b 0,#7f7f7f 7.6px,#979797 15.2px,#b2b2b2 22.8px,#d1d1d1 30.4px,#eaeaea 36.2px,#bababa 38px,#191919 43.8px,#464646 59px,#636363 68.4px,#7d7d7d)"></i><i style="background:linear-gradient(90deg,#686868 0,#7c7c7c 7.6px,#939393 15.2px,#afafaf 22.8px,#cecece 30.4px,#ececec 37.4px,#191919 45px,#464646 60.2px,#5f5f5f 68.4px,#797979)"></i></div>
<span class="t" style="left:377.00px;top:236.98px;font-size:9.00px;color:#000">(A-q2)</span>
<span class="l" style="left:355.20px;top:298.96px;font-size:8.50px;color:#111">0.9700±0.0133</span>
<span class="t" style="left:339.00px;top:312.88px;font-size:9.00px">0</span>
<span class="r" style="left:336.70px;top:304.98px;font-size:9.00px">0</span>
<span class="t" style="left:369.40px;top:312.88px;font-size:9.00px">1</span>
<span class="r" style="left:336.70px;top:280.18px;font-size:9.00px">1</span>
<span class="t" style="left:399.80px;top:312.88px;font-size:9.00px">2</span>
<span class="r" style="left:336.70px;top:255.38px;font-size:9.00px">2</span>
<div class="h g" style="left:339px;top:333px;width:76px;height:62px"><i style="background:linear-gradient(90deg,#2f2f2f 0,#202020 .6px,#202020 15.2px,#606060 22.8px,#606060 30.4px,#9f9f9f 38px,#9f9f9f 38.6px,#dfdfdf 46.2px,#dfdfdf 53.8px,#202020 61.4px,#202020)"></i><i style="background:linear-gradient(90deg,#4e4e4e 0,#202020 1.8px,#202020 15.2px,#606060 22.8px,#606060 30.4px,#9f9f9f 38px,#9f9f9f 39.8px,#dfdfdf 47.4px,#dfdfdf 55px,#202020 62.6px,#202020)"></i><i style="background:linear-gradient(90deg,#6d6d6d 0,#202020 3.1px,#202020 15.2px,#606060 22.8px,#606060 30.4px,#9f9f9f 38px,#9f9f9f 41.1px,#dfdfdf 48.7px,#dfdfdf 56.3px,#202020 63.9px,#202020)"></i><i style="background:linear-gradient(90deg,#8c8c8c 0,#202020 4.3px,#202020 15.2px,#606060 22.8px,#606060 30.4px,#9f9f9f 38px,#9f9f9f 42.3px,#dfdfdf 49.9px,#dfdfdf 57.5px,#202020 65.1px,#202020)"></i><i style="background:linear-gradient(90deg,#ababab 0,#202020 5.5px,#202020 15.2px,#606060 22.8px,#606060 30.4px,#9f9f9f 38px,#9f9f9f 43.5px,#dfdfdf 51.1px,#dfdfdf 58.7px,#202020 66.3px,#202020)"></i><i style="background:linear-gradient(90deg,#cacaca 0,#202020 6.7px,#202020 15.2px,#606060 22.8px,#606060 30.4px,#9f9f9f 38px,#9f9f9f 44.7px,#dfdfdf 52.3px,#dfdfdf 59.9px,#202020 67.5px,#202020)"></i><i style="background:linear-gradient(90deg,#dfdfdf 0,#202020 7.6px,#202020 15.2px,#606060 22.8px,#606060 30.4px,#9f9f9f 38px,#9f9f9f 46px,#dfdfdf 53.6px,#dfdfdf 61.2px,#202020 68.8px,#202020)"></i><i style="background:linear-gradient(90deg,#dfdfdf 0,#202020 7.6px,#202020 15.2px,#606060 22.8px,#606060 30.4px,#9f9f9f 38px,#9f9f9f 47.2px,#dfdfdf 54.8px,#dfdfdf 62.4px,#202020 70px,#202020)"></i><i style="background:linear-gradient(90deg,#dfdfdf 0,#202020 7.6px,#202020 15.2px,#606060 22.8px,#606060 30.4px,#9f9f9f 38px,#9f9f9f 48.4px,#dfdfdf 56px,#dfdfdf 63.6px,#202020 71.2px,#202020)"></i><i style="background:linear-gradient(90deg,#dfdfdf 0,#202020 7.6px,#202020 15.2px,#606060 22.8px,#606060 30.4px,#9f9f9f 38px,#9f9f9f 49.6px,#dfdfdf 57.2px,#dfdfdf 64.8px,#202020 72.4px,#202020)"></i><i style="background:linear-gradient(90deg,#dfdfdf 0,#202020 7.6px,#202020 15.2px,#606060 22.8px,#606060 30.4px,#9f9f9f 38px,#9f9f9f 50.9px,#dfdfdf 58.5px,#dfdfdf 66.1px,#202020 73.7px,#202020)"></i><i style="background:linear-gradient(90deg,#dfdfdf 0,#202020 7.6px,#202020 15.2px,#606060 22.8px,#606060 30.4px,#9f9f9f 38px,#9f9f9f 52.1px,#dfdfdf 59.7px,#dfdfdf 67.3px,#202020 74.9px,#202020)"></i><i style="background:linear-gradient(90deg,#dfdfdf 0,#dfdfdf .1px,#202020 7.7px,#202020 15.3px,#606060 22.9px,#606060 30.5px,#9f9f9f 38.1px,#a0a0a0 53.3px,#dfdfdf 60.9px,#dfdfdf 68.5px,#232323)"></i><i style="background:linear-gradient(90deg,#dfdfdf 0,#dfdfdf 1.3px,#202020 8.9px,#202020 16.5px,#606060 24.1px,#606060 31.7px,#9f9f9f 39.3px,#9f9f9f 53.2px,#dfdfdf 60.8px,#dfdfdf 69.7px,#424242)"></i><i style="background:linear-gradient(90deg,#dfdfdf 0,#dfdfdf 2.6px,#202020 10.2px,#202020 17.8px,#606060 25.4px,#606060 33px,#9f9f9f 40.6px,#9f9f9f 53.2px,#dfdfdf 60.8px,#dfdfdf 71px,#616161)"></i><i style="background:linear-gradient(90deg,#dfdfdf 0,#dfdfdf 3.8px,#202020 11.4px,#202020 19px,#606060 26.6px,#606060 34.2px,#9f9f9f 41.8px,#9f9f9f 53.2px,#dfdfdf 60.8px,#dfdfdf 72.2px,#808080)"></i><i style="background:linear-gradient(90deg,#dfdfdf 0,#dfdfdf 5px,#202020 12.6px,#202020 20.2px,#606060 27.8px,#606060 35.4px,#9f9f9f 43px,#9f9f9f 53.2px,#dfdfdf 60.8px,#dfdfdf 73.4px,#9e9e9e)"></i><i style="background:linear-gradient(90deg,#dfdfdf 0,#dfdfdf 6.3px,#202020 13.9px,#202020 21.5px,#606060 29.1px,#606060 36.7px,#9f9f9f 44.3px,#9f9f9f 53.2px,#dfdfdf 60.8px,#dfdfdf 74.7px,#bdbdbd)"></i><i style="background:linear-gradient(90deg,#dfdfdf 0,#dfdfdf 7.5px,#202020 15.1px,#212121 22.8px,#606060 30.4px,#616161 38px,#9f9f9f 45.6px,#9f9f9f 53.2px,#dfdfdf 60.8px,#dfdfdf 75.9px,#dcdcdc)"></i><i style="background:linear-gradient(90deg,#dfdfdf 0,#dfdfdf 7.6px,#202020 15.2px,#202020 22.8px,#606060 30.4px,#606060 39.1px,#9f9f9f 46.7px,#9f9f9f 54.3px,#dfdfdf 61.9px,#dfdfdf)"></i><i style="background:linear-gradient(90deg,#dfdfdf 0,#dfdfdf 7.6px,#202020 15.2px,#202020 22.8px,#606060 30.4px,#606060 40.3px,#9f9f9f 47.9px,#9f9f9f 55.5px,#dfdfdf 63.1px,#dfdfdf)"></i><i style="background:linear-gradient(90deg,#dfdfdf 0,#dfdfdf 7.6px,#202020 15.2px,#202020 22.8px,#606060 30.4px,#606060 41.6px,#9f9f9f 49.2px,#9f9f9f 56.8px,#dfdfdf 64.4px,#dfdfdf)"></i><i style="background:linear-gradient(90deg,#dfdfdf 0,#dfdfdf 7.6px,#202020 15.2px,#202020 22.8px,#606060 30.4px,#606060 42.8px,#9f9f9f 50.4px,#9f9f9f 58px,#dfdfdf 65.6px,#dfdfdf)"></i><i style="background:linear-gradient(90deg,#dfdfdf 0,#dfdfdf 7.6px,#202020 15.2px,#202020 22.8px,#606060 30.4px,#606060 44px,#9f9f9f 51.6px,#9f9f9f 59.2px,#dfdfdf 66.8px,#dfdfdf)"></i><i style="background:linear-gradient(90deg,#dfdfdf 0,#dfdfdf 7.6px,#202020 15.2px,#202020 22.8px,#606060 30.4px,#606060 45.2px,#9f9f9f 52.8px,#9f9f9f 60.4px,#dfdfdf 68px,#dfdfdf)"></i><i style="background:linear-gradient(90deg,#ddd 0,#dfdfdf .9px,#dfdfdf 8.5px,#202020 16.1px,#202020 23.7px,#606060 31.3px,#606060 45.6px,#9f9f9f 53.2px,#9f9f9f 61.7px,#dfdfdf 69.3px,#dfdfdf)"></i><i style="background:linear-gradient(90deg,#dadada 0,#dfdfdf 2.1px,#dfdfdf 9.7px,#202020 17.3px,#202020 24.9px,#606060 32.5px,#606060 45.6px,#9f9f9f 53.2px,#9f9f9f 62.9px,#dfdfdf 70.5px,#dfdfdf)"></i><i style="background:linear-gradient(90deg,#d7d7d7 0,#dfdfdf 3.3px,#dfdfdf 10.9px,#202020 18.5px,#202020 26.1px,#606060 33.7px,#606060 45.6px,#9f9f9f 53.2px,#9f9f9f 64.1px,#dfdfdf 71.7px,#dfdfdf)"></i><i style="background:linear-gradient(90deg,#d4d4d4 0,#dfdfdf 4.5px,#dfdfdf 12.1px,#202020 19.7px,#202020 27.3px,#606060 34.9px,#606060 45.6px,#9f9f9f 53.2px,#9f9f9f 65.3px,#dfdfdf 72.9px,#dfdfdf)"></i><i style="background:linear-gradient(90deg,#d1d1d1 0,#dfdfdf 5.8px,#dfdfdf 13.4px,#202020 21px,#202020 28.6px,#606060 36.2px,#606060 45.6px,#9f9f9f 53.2px,#9f9f9f 66.6px,#dfdfdf 74.2px,#dfdfdf)"></i><i style="background:linear-gradient(90deg,#cecece 0,#dfdfdf 7px,#dfdfdf 14.6px,#202020 22.2px,#202020 29.8px,#606060 37.4px,#606060 45.6px,#9f9f9f 53.2px,#9f9f9f 67.8px,#dfdfdf 75.4px,#dfdfdf)"></i><i style="background:linear-gradient(90deg,#cacaca 0,#cecece .6px,#dfdfdf 7.6px,#dfdfdf 15.8px,#202020 23.4px,#202020 31px,#606060 38.6px,#606060 46.2px,#9f9f9f 53.8px,#9f9f9f 68.4px,#a2a2a2 69px,#ddd)"></i><i style="background:linear-gradient(90deg,#c6c6c6 0,#d1d1d1 1.8px,#dfdfdf 7.6px,#dfdfdf 17px,#202020 24.6px,#202020 32.2px,#606060 39.8px,#606060 47.4px,#9f9f9f 55px,#9f9f9f 68.4px,#a7a7a7 70.2px,#d7d7d7)"></i><i style="background:linear-gradient(90deg,#c2c2c2 0,#d4d4d4 3.1px,#dfdfdf 7.6px,#dfdfdf 18.3px,#202020 25.9px,#202020 33.5px,#606060 41.1px,#606060 48.7px,#9f9f9f 56.3px,#9f9f9f 68.4px,#acacac 71.5px,#d2d2d2)"></i><i style="background:linear-gradient(90deg,#bebebe 0,#d7d7d7 4.3px,#dfdfdf 7.6px,#dfdfdf 19.5px,#202020 27.1px,#202020 34.7px,#606060 42.3px,#606060 49.9px,#9f9f9f 57.5px,#9f9f9f 68.4px,#b1b1b1 72.7px,#cdcdcd)"></i><i style="background:linear-gradient(90deg,#b9b9b9 0,#dadada 5.5px,#dfdfdf 7.6px,#dfdfdf 20.7px,#202020 28.3px,#202020 35.9px,#606060 43.5px,#606060 51.1px,#9f9f9f 58.7px,#9f9f9f 68.4px,#b7b7b7 73.9px,#c8c8c8)"></i><i style="background:linear-gradient(90deg,#b5b5b5 0,#ddd 6.7px,#dfdfdf 7.6px,#dfdfdf 21.9px,#202020 29.5px,#202020 37.1px,#606060 44.7px,#606060 52.3px,#9f9f9f 59.9px,#9f9f9f 68.4px,#bcbcbc 75.1px,#c3c3c3)"></i><i style="background:linear-gradient(90deg,#b2b2b2 0,#b2b2b2 .4px,#dfdfdf 8px,#dfdfdf 22.8px,#202020 30.4px,#202020 38px,#606060 45.6px,#606060 53.2px,#9f9f9f 60.8px,#9f9f9f 68.8px,#bebebe)"></i><i style="background:linear-gradient(90deg,#aeaeae 0,#aeaeae 1.6px,#d2d2d2 7.6px,#dfdfdf 9.2px,#dfdfdf 22.8px,#202020 30.4px,#202020 38px,#606060 45.6px,#606060 53.2px,#9f9f9f 60.8px,#9f9f9f 70px,#b9b9b9)"></i><i style="background:linear-gradient(90deg,#ababab 0,#ababab 2.8px,#c7c7c7 7.6px,#dfdfdf 10.4px,#dfdfdf 22.8px,#202020 30.4px,#202020 38px,#606060 45.6px,#606060 53.2px,#9f9f9f 60.8px,#9f9f9f 71.2px,#b3b3b3)"></i><i style="background:linear-gradient(90deg,#a8a8a8 0,#a8a8a8 4px,#bdbdbd 7.6px,#dfdfdf 11.6px,#dfdfdf 22.8px,#202020 30.4px,#202020 38px,#606060 45.6px,#606060 53.2px,#9f9f9f 60.8px,#9f9f9f 72.4px,#aeaeae)"></i><i style="background:linear-gradient(90deg,#a5a5a5 0,#a5a5a5 5.3px,#b3b3b3 7.6px,#dfdfdf 12.9px,#dfdfdf 22.8px,#202020 30.4px,#202020 38px,#606060 45.6px,#606060 53.2px,#9f9f9f 60.8px,#9f9f9f 73.7px,#a9a9a9)"></i><i style="background:linear-gradient(90deg,#a2a2a2 0,#a2a2a2 6.5px,#a9a9a9 7.6px,#dfdfdf 14.1px,#dfdfdf 22.8px,#202020 30.4px,#202020 38px,#606060 45.6px,#606060 53.2px,#9f9f9f 60.8px,#9f9f9f 74.9px,#a4a4a4)"></i><i style="background:linear-gradient(90deg,#9f9f9f 0,#9f9f9f 7.7px,#dfdfdf 15.3px,#dfdfdf 22.9px,#202020 30.5px,#202020 38.1px,#606060 45.7px,#606060 53.3px,#9f9f9f 60.9px,#9f9f9f)"></i><i style="background:linear-gradient(90deg,#9f9f9f 0,#9f9f9f 8.9px,#dfdfdf 16.5px,#dfdfdf 24.1px,#202020 31.7px,#202020 39.3px,#606060 46.9px,#606060 54.5px,#9f9f9f 62.1px,#9f9f9f)"></i><i style="background:linear-gradient(90deg,#9f9f9f 0,#9f9f9f 10.2px,#dfdfdf 17.8px,#dfdfdf 25.4px,#202020 33px,#202020 40.6px,#606060 48.2px,#606060 55.8px,#9f9f9f 63.4px,#9f9f9f)"></i><i style="background:linear-gradient(90deg,#9f9f9f 0,#9f9f9f 11.4px,#dfdfdf 19px,#dfdfdf 26.6px,#202020 34.2px,#202020 41.8px,#606060 49.4px,#606060 57px,#9f9f9f 64.6px,#9f9f9f)"></i><i style="background:linear-gradient(90deg,#9f9f9f 0,#9f9f9f 12.6px,#dfdfdf 20.2px,#dfdfdf 27.8px,#202020 35.4px,#202020 43px,#606060 50.6px,#606060 58.2px,#9f9f9f 65.8px,#9f9f9f)"></i><i style="background:linear-gradient(90deg,#9f9f9f 0,#9f9f9f 13.9px,#dfdfdf 21.5px,#dfdfdf 29.1px,#202020 36.7px,#202020 44.3px,#606060 51.9px,#606060 59.5px,#9f9f9f 67.1px,#9f9f9f)"></i><i style="background:linear-gradient(90deg,#9f9f9f 0,#a0a0a0 15.2px,#dfdfdf 22.8px,#dfdfdf 30.3px,#202020 37.9px,#212121 45.6px,#606060 53.2px,#616161 60.8px,#9f9f9f 68.4px,#9f9f9f)"></i><i style="background:linear-gradient(90deg,#9b9b9b 0,#9f9f9f 1.1px,#9f9f9f 15.2px,#dfdfdf 22.8px,#dfdfdf 30.4px,#202020 38px,#202020 45.6px,#232323 46.7px,#595959 53.2px,#606060 54.3px,#606060 60.8px,#646464 61.9px,#9b9b9b 68.4px,#9f9f9f 69.5px,#9f9f9f)"></i><i style="background:linear-gradient(90deg,#979797 0,#9f9f9f 2.3px,#9f9f9f 15.2px,#dfdfdf 22.8px,#dfdfdf 30.4px,#202020 38px,#202020 45.6px,#262626 47.9px,#525252 53.2px,#606060 55.5px,#606060 60.8px,#696969 63.1px,#969696 68.4px,#9f9f9f 70.7px,#9f9f9f)"></i><i style="background:linear-gradient(90deg,#939393 0,#9f9f9f 3.6px,#9f9f9f 15.2px,#dfdfdf 22.8px,#dfdfdf 30.4px,#202020 38px,#202020 45.6px,#292929 49.2px,#4b4b4b 53.2px,#606060 56.8px,#606060 60.8px,#6f6f6f 64.4px,#909090 68.4px,#9f9f9f 72px,#9f9f9f)"></i><i style="background:linear-gradient(90deg,#8f8f8f 0,#9f9f9f 4.8px,#9f9f9f 15.2px,#dfdfdf 22.8px,#dfdfdf 30.4px,#202020 38px,#202020 45.6px,#2c2c2c 50.4px,#444 53.2px,#606060 58px,#606060 60.8px,#747474 65.6px,#8b8b8b 68.4px,#9f9f9f 73.2px,#9f9f9f)"></i><i style="background:linear-gradient(90deg,#8a8a8a 0,#9f9f9f 6px,#9f9f9f 15.2px,#dfdfdf 22.8px,#dfdfdf 30.4px,#202020 38px,#202020 45.6px,#2f2f2f 51.6px,#3c3c3c 53.2px,#606060 59.2px,#606060 60.8px,#797979 66.8px,#868686 68.4px,#9f9f9f 74.4px,#9f9f9f)"></i><i style="background:linear-gradient(90deg,#868686 0,#9f9f9f 7.2px,#9f9f9f 15.2px,#dfdfdf 22.8px,#dfdfdf 30.4px,#202020 38px,#202020 45.6px,#323232 52.8px,#606060 60.4px,#606060 60.8px,#7e7e7e 68px,#818181 68.4px,#9f9f9f 75.6px,#9f9f9f)"></i><i style="background:linear-gradient(90deg,#808080 0,#888 .9px,#9f9f9f 7.6px,#9f9f9f 16.1px,#dfdfdf 23.7px,#dfdfdf 31.3px,#202020 38.9px,#202020 46.5px,#313131 53.2px,#383838 54.1px,#606060 60.8px,#606060 61.7px,#7c7c7c 68.4px,#838383 69.3px,#9f9f9f)"></i><i style="background:linear-gradient(90deg,#7a7a7a 0,#8c8c8c 2.1px,#9f9f9f 7.6px,#9f9f9f 17.3px,#dfdfdf 24.9px,#dfdfdf 32.5px,#202020 40.1px,#202020 47.7px,#2e2e2e 53.2px,#3f3f3f 55.3px,#606060 60.8px,#606060 62.9px,#777 68.4px,#888 70.5px,#9f9f9f)"></i><i style="background:linear-gradient(90deg,#747474 0,#909090 3.3px,#9f9f9f 7.6px,#9f9f9f 18.5px,#dfdfdf 26.1px,#dfdfdf 33.7px,#202020 41.3px,#202020 48.9px,#2b2b2b 53.2px,#464646 56.5px,#606060 60.8px,#606060 64.1px,#727272 68.4px,#8d8d8d 71.7px,#9f9f9f)"></i><i style="background:linear-gradient(90deg,#6f6f6f 0,#959595 4.5px,#9f9f9f 7.6px,#9f9f9f 19.7px,#dfdfdf 27.3px,#dfdfdf 34.9px,#202020 42.5px,#202020 50.1px,#282828 53.2px,#4e4e4e 57.7px,#606060 60.8px,#606060 65.3px,#6c6c6c 68.4px,#939393 72.9px,#9f9f9f)"></i><i style="background:linear-gradient(90deg,#696969 0,#999 5.8px,#9f9f9f 7.6px,#9f9f9f 21px,#dfdfdf 28.6px,#dfdfdf 36.2px,#202020 43.8px,#202020 51.4px,#252525 53.2px,#555 59px,#606060 60.8px,#606060 66.6px,#676767 68.4px,#989898 74.2px,#9f9f9f)"></i><i style="background:linear-gradient(90deg,#636363 0,#9d9d9d 7px,#9f9f9f 7.6px,#9f9f9f 22.2px,#dfdfdf 29.8px,#dfdfdf 37.4px,#202020 45px,#202020 52.6px,#212121 53.2px,#5c5c5c 60.2px,#606060 60.8px,#606060 67.8px,#626262 68.4px,#9d9d9d 75.4px,#9f9f9f)"></i></div>
<span class="t" style="left:377.00px;top:322.98px;font-size:9.00px;color:#000">(A-c2)</span>
<span class="l" style="left:355.20px;top:385.80px;font-size:8.50px;color:#111">0.6590±0.0085</span>
<span class="t" style="left:339.00px;top:399.48px;font-size:9.00px">0</span>
<span class="r" style="left:336.70px;top:391.58px;font-size:9.00px">0</span>
<span class="t" style="left:369.40px;top:399.48px;font-size:9.00px">1</span>
<span class="r" style="left:336.70px;top:366.78px;font-size:9.00px">1</span>
<span class="t" style="left:399.80px;top:399.48px;font-size:9.00px">2</span>
<span class="r" style="left:336.70px;top:341.98px;font-size:9.00px">2</span>
<span class="t" style="left:377.00px;top:17.38px;font-size:9.00px;color:#000">Weak</span>
<span class="t" style="left:377.00px;top:223.58px;font-size:9.00px;color:#000">Weak</span>
<div class="h g" style="left:449px;top:40px;width:76px;height:62px"><i style="background:linear-gradient(90deg,#616161 0,#747474 7.6px,#656565 15.8px,#535353 23.4px,#3c3c3c 31px,#303030 38px,#393939 46.2px,#616161)"></i><i style="background:linear-gradient(90deg,#606060 0,#636363 1.8px,#737373 7.6px,#727272 9.4px,#646464 17px,#505050 24.6px,#393939 32.2px,#2f2f2f 38px,#393939 47.4px,#606060)"></i><i style="background:linear-gradient(90deg,#606060 0,#656565 3.1px,#717171 7.6px,#6f6f6f 10.7px,#666 15.2px,#626262 18.3px,#575757 22.8px,#363636 33.5px,#2e2e2e 38px,#3a3a3a 48.7px,#606060)"></i><i style="background:linear-gradient(90deg,#5f5f5f 0,#676767 4.3px,#707070 7.6px,#6d6d6d 11.9px,#666 15.2px,#606060 19.5px,#585858 22.8px,#333 34.7px,#2e2e2e 38px,#3b3b3b 49.9px,#4a4a4a 60.8px,#5b5b5b 72.7px,#5f5f5f)"></i><i style="background:linear-gradient(90deg,#5f5f5f 0,#686868 5.5px,#6e6e6e 7.6px,#6a6a6a 13.1px,#5f5f5f 20.7px,#494949 28.3px,#303030 35.9px,#2d2d2d 38px,#343434 45.6px,#494949 60.8px,#555 68.4px,#5f5f5f)"></i><i style="background:linear-gradient(90deg,#5f5f5f 0,#6c6c6c 7.6px,#686868 14.3px,#5b5b5b 22.8px,#444 30.4px,#2d2d2d 37.1px,#2c2c2c 38px,#343434 45.6px,#484848 60.8px,#545454 68.4px,#5f5f5f)"></i><i style="background:linear-gradient(90deg,#5e5e5e 0,#6b6b6b 8px,#666 15.6px,#5b5b5b 23.2px,#444 30.8px,#2b2b2b 38.4px,#333 46px,#484848 61.2px,#545454 68.8px,#5e5e5e)"></i><i style="background:linear-gradient(90deg,#5d5d5d 0,#696969 7.6px,#6a6a6a 9.2px,#656565 16.8px,#5d5d5d 22.8px,#424242 32px,#2d2d2d 38px,#2c2c2c 39.6px,#333 47.2px,#484848 62.4px,#555 70px,#5d5d5d)"></i><i style="background:linear-gradient(90deg,#5c5c5c 0,#686868 7.6px,#696969 10.4px,#646464 18px,#5e5e5e 22.8px,#3f3f3f 33.2px,#2f2f2f 38px,#2c2c2c 40.8px,#333 48.4px,#494949 63.6px,#5c5c5c)"></i><i style="background:linear-gradient(90deg,#5c5c5c 0,#676767 7.6px,#686868 11.6px,#636363 19.2px,#5f5f5f 22.8px,#3d3d3d 34.4px,#313131 38px,#2d2d2d 42px,#333 49.6px,#505050 68.4px,#5c5c5c)"></i><i style="background:linear-gradient(90deg,#5b5b5b 0,#666 7.6px,#686868 12.9px,#626262 20.5px,#5f5f5f 22.8px,#4a4a4a 30.4px,#323232 38px,#2d2d2d 43.3px,#363636 53.2px,#5b5b5b)"></i><i style="background:linear-gradient(90deg,#5a5a5a 0,#656565 7.6px,#666 15.2px,#606060 22.8px,#4b4b4b 30.4px,#343434 38px,#2e2e2e 44.5px,#343434 53.2px,#5a5a5a)"></i><i style="background:linear-gradient(90deg,#595959 0,#636363 7.7px,#666 15.3px,#616161 22.9px,#4c4c4c 30.5px,#353535 38.1px,#2e2e2e 45.7px,#333 53.3px,#595959)"></i><i style="background:linear-gradient(90deg,#585858 0,#636363 8.9px,#666 16.5px,#616161 22.8px,#4a4a4a 31.7px,#333 39.3px,#2d2d2d 45.6px,#343434 54.5px,#585858)"></i><i style="background:linear-gradient(90deg,#585858 0,#616161 7.6px,#656565 17.8px,#626262 22.8px,#5d5d5d 25.4px,#313131 40.6px,#2c2c2c 45.6px,#323232 53.2px,#585858)"></i><i style="background:linear-gradient(90deg,#575757 0,#606060 7.6px,#656565 19px,#626262 22.8px,#5b5b5b 26.6px,#2f2f2f 41.8px,#2b2b2b 45.6px,#323232 53.2px,#505050 72.2px,#575757)"></i><i style="background:linear-gradient(90deg,#565656 0,#5e5e5e 7.6px,#646464 20.2px,#636363 22.8px,#585858 27.8px,#2d2d2d 43px,#2b2b2b 45.6px,#313131 53.2px,#454545 65.8px,#565656)"></i><i style="background:linear-gradient(90deg,#555 0,#5d5d5d 7.6px,#626262 15.2px,#646464 21.5px,#636363 22.8px,#535353 30.4px,#3c3c3c 38px,#2b2b2b 44.3px,#2a2a2a 45.6px,#313131 53.2px,#3c3c3c 60.8px,#555)"></i><i style="background:linear-gradient(90deg,#545454 0,#5c5c5c 7.6px,#616161 15.2px,#636363 22.8px,#545454 30.4px,#3d3d3d 38px,#292929 45.6px,#303030 53.2px,#3b3b3b 60.8px,#545454)"></i><i style="background:linear-gradient(90deg,#535353 0,#5c5c5c 8.7px,#616161 16.3px,#636363 23.9px,#565656 30.4px,#3b3b3b 39.1px,#2a2a2a 45.6px,#292929 46.7px,#313131 54.3px,#3c3c3c 61.9px,#535353)"></i><i style="background:linear-gradient(90deg,#525252 0,#5c5c5c 9.9px,#616161 17.5px,#636363 25.1px,#585858 30.4px,#4f4f4f 32.7px,#393939 40.3px,#2a2a2a 45.6px,#2a2a2a 47.9px,#323232 55.5px,#3d3d3d 63.1px,#535353)"></i><i style="background:linear-gradient(90deg,#515151 0,#5f5f5f 15.2px,#626262 22.8px,#626262 26.4px,#5a5a5a 30.4px,#4d4d4d 34px,#2b2b2b 45.6px,#2a2a2a 49.2px,#383838 60.8px,#525252)"></i><i style="background:linear-gradient(90deg,#4f4f4f 0,#5e5e5e 15.2px,#626262 22.8px,#626262 27.6px,#5c5c5c 30.4px,#4b4b4b 35.2px,#2c2c2c 45.6px,#2a2a2a 50.4px,#373737 60.8px,#515151)"></i><i style="background:linear-gradient(90deg,#4e4e4e 0,#5d5d5d 15.2px,#616161 22.8px,#616161 28.8px,#5e5e5e 30.4px,#434343 38px,#2d2d2d 45.6px,#2b2b2b 51.6px,#373737 60.8px,#505050)"></i><i style="background:linear-gradient(90deg,#4d4d4d 0,#5c5c5c 15.2px,#616161 22.8px,#606060 30.4px,#444 38px,#2e2e2e 45.6px,#2c2c2c 53.2px,#363636 60.8px,#4f4f4f)"></i><i style="background:linear-gradient(90deg,#4c4c4c 0,#5c5c5c 15.2px,#616161 22.8px,#626262 23.7px,#626262 30.4px,#444 38.9px,#2f2f2f 45.6px,#2c2c2c 54.1px,#363636 61.7px,#4e4e4e)"></i><i style="background:linear-gradient(90deg,#4a4a4a 0,#535353 7.6px,#585858 9.7px,#5d5d5d 15.2px,#5c5c5c 17.3px,#606060 22.8px,#646464 24.9px,#646464 30.4px,#424242 40.1px,#313131 45.6px,#2f2f2f 47.7px,#2c2c2c 55.3px,#373737 62.9px,#4d4d4d)"></i><i style="background:linear-gradient(90deg,#494949 0,#525252 7.6px,#5a5a5a 10.9px,#5e5e5e 15.2px,#5d5d5d 18.5px,#606060 22.8px,#666 26.1px,#666 30.4px,#404040 41.3px,#333 45.6px,#2f2f2f 48.9px,#2c2c2c 56.5px,#3f3f3f 68.4px,#4c4c4c)"></i><i style="background:linear-gradient(90deg,#484848 0,#515151 7.6px,#5c5c5c 12.1px,#5f5f5f 15.2px,#5d5d5d 19.7px,#5f5f5f 22.8px,#696969 27.3px,#696969 30.4px,#3f3f3f 42.5px,#363636 45.6px,#2f2f2f 50.1px,#2d2d2d 57.7px,#4a4a4a)"></i><i style="background:linear-gradient(90deg,#474747 0,#505050 7.6px,#5e5e5e 13.4px,#606060 15.2px,#5e5e5e 21px,#5f5f5f 22.8px,#6b6b6b 28.6px,#6b6b6b 30.4px,#383838 45.6px,#303030 51.4px,#2d2d2d 59px,#494949)"></i><i style="background:linear-gradient(90deg,#454545 0,#4f4f4f 7.6px,#606060 15.2px,#5f5f5f 22.8px,#6d6d6d 29.8px,#6d6d6d 30.4px,#3a3a3a 45.6px,#303030 53.2px,#2f2f2f 60.8px,#484848)"></i><i style="background:linear-gradient(90deg,#444 0,#505050 8.2px,#606060 15.8px,#5e5e5e 22.8px,#6d6d6d 30.4px,#6d6d6d 31px,#3a3a3a 46.2px,#303030 53.8px,#2e2e2e 61.4px,#474747)"></i><i style="background:linear-gradient(90deg,#434343 0,#515151 9.4px,#5e5e5e 15.2px,#606060 17px,#5e5e5e 22.8px,#6d6d6d 30.4px,#6b6b6b 32.2px,#3e3e3e 45.6px,#393939 47.4px,#2f2f2f 55px,#2d2d2d 60.8px,#3c3c3c 70.2px,#464646)"></i><i style="background:linear-gradient(90deg,#424242 0,#525252 10.7px,#5d5d5d 15.2px,#5f5f5f 18.3px,#5d5d5d 22.8px,#6d6d6d 30.4px,#696969 33.5px,#404040 45.6px,#393939 48.7px,#2e2e2e 56.3px,#2d2d2d 60.8px,#303030 63.9px,#444)"></i><i style="background:linear-gradient(90deg,#414141 0,#535353 11.9px,#5b5b5b 15.2px,#5e5e5e 19.5px,#5d5d5d 22.8px,#6c6c6c 30.4px,#666 34.7px,#424242 45.6px,#383838 49.9px,#2e2e2e 57.5px,#2c2c2c 60.8px,#313131 65.1px,#434343)"></i><i style="background:linear-gradient(90deg,#3f3f3f 0,#555 13.1px,#595959 15.2px,#5d5d5d 20.7px,#5c5c5c 22.8px,#6c6c6c 30.4px,#646464 35.9px,#444 45.6px,#373737 51.1px,#2d2d2d 58.7px,#2c2c2c 60.8px,#353535 68.4px,#424242)"></i><i style="background:linear-gradient(90deg,#3e3e3e 0,#585858 15.2px,#5c5c5c 22.8px,#6b6b6b 30.4px,#626262 37.1px,#464646 45.6px,#353535 53.2px,#2c2c2c 60.8px,#343434 68.4px,#414141)"></i><i style="background:linear-gradient(90deg,#3d3d3d 0,#575757 15.6px,#5c5c5c 23.2px,#6b6b6b 30.8px,#616161 38.4px,#474747 46px,#353535 53.6px,#2b2b2b 61.2px,#333 68.8px,#3f3f3f)"></i><i style="background:linear-gradient(90deg,#3c3c3c 0,#565656 16.8px,#5c5c5c 24.4px,#6c6c6c 32px,#646464 38px,#464646 47.2px,#343434 54.8px,#2b2b2b 62.4px,#343434 70px,#3e3e3e)"></i><i style="background:linear-gradient(90deg,#3a3a3a 0,#535353 15.2px,#595959 22.8px,#5d5d5d 25.6px,#6c6c6c 33.2px,#666 38px,#5e5e5e 40.8px,#454545 48.4px,#343434 56px,#2d2d2d 60.8px,#2b2b2b 63.6px,#343434 71.2px,#3c3c3c)"></i><i style="background:linear-gradient(90deg,#393939 0,#515151 15.2px,#585858 22.8px,#5d5d5d 26.8px,#6c6c6c 34.4px,#686868 38px,#5d5d5d 42px,#434343 49.6px,#333 57.2px,#2e2e2e 60.8px,#2b2b2b 64.8px,#343434 72.4px,#3a3a3a)"></i><i style="background:linear-gradient(90deg,#383838 0,#454545 7.6px,#505050 15.2px,#565656 22.8px,#5e5e5e 28.1px,#6d6d6d 35.7px,#6a6a6a 38px,#5c5c5c 43.3px,#424242 50.9px,#323232 58.5px,#2f2f2f 60.8px,#2b2b2b 66.1px,#393939)"></i><i style="background:linear-gradient(90deg,#373737 0,#434343 7.6px,#4e4e4e 15.2px,#555 22.8px,#606060 30.4px,#6d6d6d 36.9px,#6c6c6c 38px,#575757 45.6px,#3e3e3e 53.2px,#303030 60.8px,#2b2b2b 67.3px,#373737)"></i><i style="background:linear-gradient(90deg,#353535 0,#424242 7.7px,#4c4c4c 15.3px,#545454 22.9px,#5e5e5e 30.5px,#6d6d6d 38.1px,#595959 45.7px,#404040 53.3px,#303030 60.9px,#2b2b2b 68.5px,#353535)"></i><i style="background:linear-gradient(90deg,#343434 0,#424242 8.9px,#4c4c4c 16.5px,#545454 24.1px,#5e5e5e 31.7px,#6b6b6b 38px,#6b6b6b 39.3px,#575757 46.9px,#3e3e3e 54.5px,#2f2f2f 62.1px,#2b2b2b 68.4px,#353535)"></i><i style="background:linear-gradient(90deg,#333 0,#494949 15.2px,#545454 25.4px,#5e5e5e 33px,#686868 38px,#696969 40.6px,#555 48.2px,#444 53.2px,#3d3d3d 55.8px,#2e2e2e 63.4px,#2a2a2a 68.4px,#343434)"></i><i style="background:linear-gradient(90deg,#323232 0,#474747 15.2px,#545454 26.6px,#5e5e5e 34.2px,#666 38px,#676767 41.8px,#535353 49.4px,#464646 53.2px,#3c3c3c 57px,#2d2d2d 64.6px,#2a2a2a 68.4px,#333)"></i><i style="background:linear-gradient(90deg,#303030 0,#464646 15.2px,#545454 27.8px,#5e5e5e 35.4px,#646464 38px,#656565 43px,#515151 50.6px,#484848 53.2px,#3b3b3b 58.2px,#2b2b2b 65.8px,#2a2a2a 68.4px,#323232)"></i><i style="background:linear-gradient(90deg,#2f2f2f 0,#444 15.2px,#4c4c4c 22.8px,#616161 38px,#636363 44.3px,#373737 60.8px,#2a2a2a 67.1px,#292929 68.4px,#313131)"></i><i style="background:linear-gradient(90deg,#2e2e2e 0,#424242 15.2px,#4a4a4a 22.8px,#5f5f5f 38px,#616161 45.6px,#383838 60.8px,#292929 68.4px,#313131)"></i><i style="background:linear-gradient(90deg,#2f2f2f 0,#2e2e2e 1.1px,#424242 16.3px,#4a4a4a 23.9px,#5e5e5e 39.1px,#5f5f5f 46.7px,#373737 61.9px,#2a2a2a 68.4px,#2a2a2a 69.5px,#303030)"></i><i style="background:linear-gradient(90deg,#2f2f2f 0,#2e2e2e 2.3px,#424242 17.5px,#4a4a4a 25.1px,#5b5b5b 38px,#5f5f5f 45.6px,#5d5d5d 47.9px,#363636 63.1px,#2b2b2b 68.4px,#2a2a2a 70.7px,#303030)"></i><i style="background:linear-gradient(90deg,#303030 0,#2e2e2e 3.6px,#424242 18.8px,#4f4f4f 30.4px,#5a5a5a 38px,#5d5d5d 45.6px,#5b5b5b 49.2px,#353535 64.4px,#2c2c2c 68.4px,#2b2b2b 72px,#2f2f2f)"></i><i style="background:linear-gradient(90deg,#313131 0,#2e2e2e 4.8px,#454545 22.8px,#545454 35.2px,#585858 38px,#5c5c5c 45.6px,#595959 50.4px,#333 65.6px,#2e2e2e 68.4px,#2c2c2c 73.2px,#2f2f2f)"></i><i style="background:linear-gradient(90deg,#323232 0,#2e2e2e 6px,#444 22.8px,#4c4c4c 30.4px,#565656 38px,#5b5b5b 45.6px,#575757 51.6px,#2f2f2f 68.4px,#2d2d2d 74.4px,#2e2e2e)"></i><i style="background:linear-gradient(90deg,#333 0,#2e2e2e 7.6px,#434343 22.8px,#4a4a4a 30.4px,#555 38px,#5a5a5a 45.6px,#545454 53.2px,#303030 68.4px,#2e2e2e)"></i><i style="background:linear-gradient(90deg,#343434 0,#2e2e2e 8.5px,#424242 23.7px,#4a4a4a 31.3px,#545454 38.9px,#595959 46.5px,#535353 54.1px,#313131 68.4px,#2e2e2e)"></i><i style="background:linear-gradient(90deg,#343434 0,#2e2e2e 9.7px,#424242 24.9px,#4a4a4a 32.5px,#535353 40.1px,#585858 47.7px,#515151 55.3px,#333 68.4px,#2f2f2f)"></i><i style="background:linear-gradient(90deg,#353535 0,#2f2f2f 7.6px,#2e2e2e 10.9px,#424242 26.1px,#535353 41.3px,#575757 48.9px,#545454 53.2px,#505050 56.5px,#343434 68.4px,#303030 71.7px,#2f2f2f)"></i><i style="background:linear-gradient(90deg,#363636 0,#2f2f2f 7.6px,#2e2e2e 12.1px,#454545 30.4px,#535353 42.5px,#565656 50.1px,#545454 53.2px,#4e4e4e 57.7px,#353535 68.4px,#303030 72.9px,#2f2f2f)"></i><i style="background:linear-gradient(90deg,#373737 0,#303030 7.6px,#2e2e2e 13.4px,#444 30.4px,#535353 45.6px,#555 51.4px,#4c4c4c 59px,#363636 68.4px,#303030)"></i><i style="background:linear-gradient(90deg,#383838 0,#303030 7.6px,#2f2f2f 15.2px,#434343 30.4px,#525252 45.6px,#545454 53.2px,#494949 60.8px,#373737 68.4px,#303030)"></i></div>
<span class="t" style="left:487.00px;top:29.98px;font-size:9.00px;color:#000">(P-q3)</span>
<span class="l" style="left:465.20px;top:92.80px;font-size:8.50px;color:#111">0.8059±0.0027</span>
<span class="t" style="left:449.00px;top:106.48px;font-size:9.00px">0</span>
<span class="r" style="left:446.70px;top:98.58px;font-size:9.00px">0</span>
<span class="t" style="left:479.40px;top:106.48px;font-size:9.00px">1</span>
<span class="r" style="left:446.70px;top:73.78px;font-size:9.00px">1</span>
<span class="t" style="left:509.80px;top:106.48px;font-size:9.00px">2</span>
<span class="r" style="left:446.70px;top:48.98px;font-size:9.00px">2</span>
<div class="h g" style="left:449px;top:127px;width:76px;height:62px"><i style="background:linear-gradient(90deg,#bababa 0,#c5c5c5 7.6px,#bababa 15.2px,#c5c5c5 23.4px,#c7c7c7 31px,#c4c4c4 38.6px,#bbb 46.2px,#bfbfbf 53.8px,#bbb 61.4px,#bfbfbf 69px,#bfbfbf)"></i><i style="background:linear-gradient(90deg,#bababa 0,#c6c6c6 7.6px,#bbb 15.2px,#c7c7c7 24.6px,#c9c9c9 30.4px,#c4c4c4 39.8px,#bcbcbc 45.6px,#bbb 47.4px,#bfbfbf 55px,#bbb 60.8px,#c0c0c0 68.4px,#bfbfbf)"></i><i style="background:linear-gradient(90deg,#bababa 0,#c0c0c0 3.1px,#c6c6c6 7.6px,#bbb 15.2px,#c8c8c8 25.9px,#cacaca 30.4px,#c6c6c6 38px,#bdbdbd 45.6px,#bcbcbc 48.7px,#bfbfbf 53.2px,#bfbfbf 56.3px,#bcbcbc 60.8px,#c0c0c0 68.4px,#bebebe 71.5px,#bebebe)"></i><i style="background:linear-gradient(90deg,#bababa 0,#c3c3c3 4.3px,#c7c7c7 7.6px,#bcbcbc 15.2px,#cacaca 27.1px,#cbcbcb 30.4px,#c7c7c7 38px,#bebebe 45.6px,#bdbdbd 49.9px,#bfbfbf 53.2px,#bfbfbf 57.5px,#bdbdbd 60.8px,#c1c1c1 68.4px,#bebebe 72.7px,#bebebe)"></i><i style="background:linear-gradient(90deg,#bababa 0,#c8c8c8 7.6px,#bcbcbc 15.2px,#c4c4c4 22.8px,#ccc 28.3px,#ccc 30.4px,#c8c8c8 38px,#c0c0c0 45.6px,#bebebe 51.1px,#bfbfbf 58.7px,#bebebe 60.8px,#c1c1c1 68.4px,#bdbdbd)"></i><i style="background:linear-gradient(90deg,#bababa 0,#c9c9c9 7.6px,#bcbcbc 15.2px,#c4c4c4 22.8px,#cecece 30.4px,#c9c9c9 38px,#c1c1c1 45.6px,#bfbfbf 53.2px,#bfbfbf 60.8px,#c2c2c2 68.4px,#bdbdbd)"></i><i style="background:linear-gradient(90deg,#bababa 0,#c9c9c9 8px,#bdbdbd 15.6px,#c5c5c5 23.2px,#cfcfcf 30.8px,#c9c9c9 38.4px,#c2c2c2 46px,#bfbfbf 53.6px,#bfbfbf 61.2px,#c1c1c1 68.8px,#bdbdbd)"></i><i style="background:linear-gradient(90deg,#bbb 0,#bcbcbc 1.6px,#c8c8c8 7.6px,#c9c9c9 9.2px,#bebebe 16.8px,#c6c6c6 24.4px,#d1d1d1 32px,#cdcdcd 38px,#c9c9c9 39.6px,#c3c3c3 45.6px,#c0c0c0 54.8px,#bfbfbf 62.4px,#c1c1c1 68.4px,#bcbcbc)"></i><i style="background:linear-gradient(90deg,#bbb 0,#bdbdbd 2.8px,#c7c7c7 7.6px,#c9c9c9 10.4px,#c1c1c1 15.2px,#bfbfbf 18px,#cecece 30.4px,#d3d3d3 33.2px,#d0d0d0 38px,#c9c9c9 40.8px,#c5c5c5 45.6px,#c3c3c3 53.2px,#c0c0c0 56px,#bfbfbf 63.6px,#c1c1c1 68.4px,#bcbcbc)"></i><i style="background:linear-gradient(90deg,#bcbcbc 0,#bebebe 4px,#c5c5c5 7.6px,#c9c9c9 11.6px,#c3c3c3 15.2px,#bfbfbf 19.2px,#cdcdcd 30.4px,#d5d5d5 34.4px,#d3d3d3 38px,#c9c9c9 42px,#c6c6c6 45.6px,#c5c5c5 53.2px,#c1c1c1 57.2px,#bfbfbf 64.8px,#c0c0c0 68.4px,#bbb)"></i><i style="background:linear-gradient(90deg,#bcbcbc 0,#bfbfbf 5.3px,#c4c4c4 7.6px,#c9c9c9 12.9px,#c6c6c6 15.2px,#c0c0c0 20.5px,#cdcdcd 30.4px,#d7d7d7 35.7px,#d6d6d6 38px,#c9c9c9 43.3px,#c7c7c7 45.6px,#c6c6c6 53.2px,#c1c1c1 58.5px,#c0c0c0 68.4px,#bbb)"></i><i style="background:linear-gradient(90deg,#bcbcbc 0,#c1c1c1 6.5px,#c9c9c9 14.1px,#c1c1c1 21.7px,#ccc 30.4px,#d9d9d9 36.9px,#d9d9d9 38px,#c9c9c9 44.5px,#c8c8c8 53.2px,#c1c1c1 60.8px,#c0c0c0 68.4px,#bbb)"></i><i style="background:linear-gradient(90deg,#bdbdbd 0,#c2c2c2 7.7px,#c9c9c9 15.3px,#c2c2c2 22.9px,#ccc 30.5px,#dbdbdb 38.1px,#cacaca 45.7px,#c9c9c9 53.3px,#c2c2c2 60.9px,#bfbfbf 68.5px,#bababa)"></i><i style="background:linear-gradient(90deg,#bdbdbd 0,#c2c2c2 8.9px,#c9c9c9 16.5px,#c2c2c2 24.1px,#ccc 31.7px,#d9d9d9 38px,#d8d8d8 39.3px,#c9c9c9 45.6px,#cbcbcb 46.9px,#cbcbcb 53.2px,#c9c9c9 54.5px,#c1c1c1 62.1px,#bebebe 69.7px,#bababa)"></i><i style="background:linear-gradient(90deg,#bdbdbd 0,#c2c2c2 10.2px,#c9c9c9 17.8px,#c3c3c3 25.4px,#ccc 33px,#d6d6d6 38px,#d5d5d5 40.6px,#c9c9c9 45.6px,#cdcdcd 48.2px,#cdcdcd 53.2px,#c8c8c8 55.8px,#c1c1c1 63.4px,#bababa)"></i><i style="background:linear-gradient(90deg,#bdbdbd 0,#c2c2c2 11.4px,#c9c9c9 19px,#c3c3c3 26.6px,#ccc 34.2px,#d4d4d4 38px,#d2d2d2 41.8px,#c9c9c9 45.6px,#cfcfcf 49.4px,#cfcfcf 53.2px,#c7c7c7 57px,#c1c1c1 64.6px,#bababa)"></i><i style="background:linear-gradient(90deg,#bdbdbd 0,#c2c2c2 12.6px,#c9c9c9 20.2px,#c3c3c3 27.8px,#ccc 35.4px,#d1d1d1 38px,#cfcfcf 43px,#c9c9c9 45.6px,#d0d0d0 50.6px,#d0d0d0 53.2px,#c6c6c6 58.2px,#bababa)"></i><i style="background:linear-gradient(90deg,#bdbdbd 0,#c3c3c3 15.2px,#c9c9c9 21.5px,#c4c4c4 29.1px,#ccc 36.7px,#cfcfcf 38px,#cdcdcd 44.3px,#c9c9c9 45.6px,#d2d2d2 51.9px,#d2d2d2 53.2px,#c5c5c5 59.5px,#bababa)"></i><i style="background:linear-gradient(90deg,#bdbdbd 0,#c2c2c2 15.2px,#c9c9c9 22.8px,#c4c4c4 30.4px,#ccc 38px,#c9c9c9 45.6px,#d3d3d3 53.2px,#c4c4c4 60.8px,#bababa)"></i><i style="background:linear-gradient(90deg,#bcbcbc 0,#c2c2c2 16.3px,#cacaca 23.9px,#c5c5c5 31.5px,#ccc 39.1px,#c9c9c9 46.7px,#d2d2d2 53.2px,#c4c4c4 60.8px,#bbb)"></i><i style="background:linear-gradient(90deg,#bcbcbc 0,#c2c2c2 17.5px,#c7c7c7 22.8px,#cbcbcb 25.1px,#c6c6c6 32.7px,#cdcdcd 40.3px,#c9c9c9 47.9px,#d1d1d1 53.2px,#cdcdcd 55.5px,#c3c3c3 60.8px,#c4c4c4 63.1px,#bcbcbc)"></i><i style="background:linear-gradient(90deg,#bcbcbc 0,#c2c2c2 18.8px,#c6c6c6 22.8px,#ccc 26.4px,#c7c7c7 34px,#cdcdcd 41.6px,#c9c9c9 49.2px,#cfcfcf 53.2px,#cacaca 56.8px,#c2c2c2 60.8px,#c3c3c3 64.4px,#bdbdbd)"></i><i style="background:linear-gradient(90deg,#bbb 0,#c2c2c2 20px,#c5c5c5 22.8px,#cdcdcd 27.6px,#c8c8c8 35.2px,#cecece 42.8px,#c9c9c9 50.4px,#cdcdcd 53.2px,#c7c7c7 58px,#c1c1c1 60.8px,#c3c3c3 65.6px,#bdbdbd)"></i><i style="background:linear-gradient(90deg,#bbb 0,#c3c3c3 22.8px,#cdcdcd 28.8px,#c8c8c8 36.4px,#cecece 44px,#c9c9c9 51.6px,#ccc 53.2px,#c0c0c0 60.8px,#c2c2c2 66.8px,#bebebe)"></i><i style="background:linear-gradient(90deg,#bababa 0,#c2c2c2 22.8px,#cecece 30.4px,#cacaca 38px,#cecece 45.6px,#cacaca 53.2px,#bfbfbf 60.8px,#c2c2c2 68.4px,#bfbfbf)"></i><i style="background:linear-gradient(90deg,#bababa 0,#c1c1c1 22.8px,#cecece 30.4px,#c9c9c9 38.9px,#cecece 46.5px,#c9c9c9 54.1px,#c0c0c0 61.7px,#c1c1c1 69.3px,#bfbfbf)"></i><i style="background:linear-gradient(90deg,#b9b9b9 0,#bfbfbf 15.2px,#bebebe 17.3px,#c0c0c0 22.8px,#cdcdcd 30.4px,#c7c7c7 38px,#cdcdcd 47.7px,#c8c8c8 55.3px,#c1c1c1 60.8px,#c2c2c2 68.4px,#bfbfbf)"></i><i style="background:linear-gradient(90deg,#b8b8b8 0,#bfbfbf 15.2px,#bdbdbd 18.5px,#bebebe 22.8px,#ccc 30.4px,#c6c6c6 38px,#ccc 48.9px,#c7c7c7 56.5px,#c1c1c1 60.8px,#c0c0c0 64.1px,#c2c2c2 68.4px,#bebebe)"></i><i style="background:linear-gradient(90deg,#b7b7b7 0,#bfbfbf 15.2px,#bcbcbc 19.7px,#bdbdbd 22.8px,#ccc 30.4px,#c5c5c5 38px,#ccc 50.1px,#c6c6c6 57.7px,#c2c2c2 60.8px,#c1c1c1 65.3px,#c2c2c2 68.4px,#bebebe)"></i><i style="background:linear-gradient(90deg,#b6b6b6 0,#bfbfbf 15.2px,#bbb 21px,#bcbcbc 22.8px,#cbcbcb 30.4px,#c4c4c4 38px,#c7c7c7 45.6px,#cbcbcb 51.4px,#c3c3c3 60.8px,#c2c2c2 68.4px,#bdbdbd)"></i><i style="background:linear-gradient(90deg,#b5b5b5 0,#bfbfbf 15.2px,#bbb 22.8px,#cacaca 30.4px,#c2c2c2 38px,#c5c5c5 45.6px,#c9c9c9 53.2px,#c4c4c4 60.8px,#c2c2c2 68.4px,#bdbdbd)"></i><i style="background:linear-gradient(90deg,#b5b5b5 0,#bdbdbd 15.2px,#bebebe 15.8px,#bababa 22.8px,#c9c9c9 30.4px,#c2c2c2 38.6px,#c4c4c4 46.2px,#c9c9c9 53.8px,#c4c4c4 61.4px,#c1c1c1 69px,#bcbcbc)"></i><i style="background:linear-gradient(90deg,#b4b4b4 0,#b3b3b3 1.8px,#b6b6b6 7.6px,#b6b6b6 9.4px,#bababa 15.2px,#bdbdbd 17px,#b9b9b9 22.8px,#c7c7c7 30.4px,#c7c7c7 32.2px,#c1c1c1 38px,#c4c4c4 47.4px,#c8c8c8 53.2px,#c0c0c0 70.2px,#bcbcbc)"></i><i style="background:linear-gradient(90deg,#b4b4b4 0,#b1b1b1 3.1px,#b4b4b4 7.6px,#b3b3b3 10.7px,#b6b6b6 15.2px,#bbb 18.3px,#b8b8b8 22.8px,#bcbcbc 25.9px,#c5c5c5 30.4px,#c5c5c5 33.5px,#c1c1c1 38px,#c4c4c4 48.7px,#c7c7c7 53.2px,#bfbfbf 71.5px,#bcbcbc)"></i><i style="background:linear-gradient(90deg,#b4b4b4 0,#afafaf 4.3px,#b2b2b2 7.6px,#b0b0b0 11.9px,#b2b2b2 15.2px,#b9b9b9 19.5px,#b7b7b7 22.8px,#bdbdbd 27.1px,#c4c4c4 30.4px,#c4c4c4 34.7px,#c0c0c0 38px,#c7c7c7 53.2px,#bdbdbd 72.7px,#bbb)"></i><i style="background:linear-gradient(90deg,#b3b3b3 0,#aeaeae 5.5px,#afafaf 7.6px,#adadad 13.1px,#afafaf 15.2px,#b8b8b8 20.7px,#b6b6b6 22.8px,#c2c2c2 30.4px,#c2c2c2 35.9px,#c0c0c0 38px,#c6c6c6 53.2px,#c0c0c0 68.4px,#bbb)"></i><i style="background:linear-gradient(90deg,#b3b3b3 0,#acacac 6.7px,#ababab 15.2px,#b6b6b6 21.9px,#b6b6b6 22.8px,#c0c0c0 30.4px,#c0c0c0 38px,#c5c5c5 53.2px,#c0c0c0 68.4px,#bababa)"></i><i style="background:linear-gradient(90deg,#b3b3b3 0,#ababab 8px,#a9a9a9 15.6px,#b5b5b5 23.2px,#bfbfbf 30.8px,#bfbfbf 38.4px,#c4c4c4 53.6px,#bfbfbf 68.8px,#bababa)"></i><i style="background:linear-gradient(90deg,#b5b5b5 0,#acacac 9.2px,#aaa 16.8px,#b6b6b6 24.4px,#bfbfbf 32px,#bfbfbf 39.6px,#c3c3c3 54.8px,#bebebe 70px,#bababa)"></i><i style="background:linear-gradient(90deg,#b7b7b7 0,#adadad 10.4px,#ababab 18px,#bdbdbd 30.4px,#bfbfbf 33.2px,#c1c1c1 45.6px,#c3c3c3 53.2px,#bdbdbd 71.2px,#bababa)"></i><i style="background:linear-gradient(90deg,#b9b9b9 0,#b0b0b0 7.6px,#acacac 15.2px,#acacac 19.2px,#bdbdbd 30.4px,#bfbfbf 34.4px,#c0c0c0 45.6px,#c3c3c3 53.2px,#bfbfbf 68.4px,#bababa)"></i><i style="background:linear-gradient(90deg,#bbb 0,#b2b2b2 7.6px,#aeaeae 15.2px,#aeaeae 20.5px,#bcbcbc 30.4px,#bfbfbf 35.7px,#c0c0c0 45.6px,#c3c3c3 53.2px,#c0c0c0 60.8px,#bfbfbf 68.4px,#bababa)"></i><i style="background:linear-gradient(90deg,#bdbdbd 0,#b4b4b4 7.6px,#afafaf 15.2px,#afafaf 21.7px,#bbb 30.4px,#bfbfbf 38px,#c0c0c0 45.6px,#c2c2c2 53.2px,#c0c0c0 60.8px,#bfbfbf 68.4px,#bababa)"></i><i style="background:linear-gradient(90deg,#bfbfbf 0,#b5b5b5 7.7px,#b0b0b0 15.3px,#b0b0b0 22.9px,#bababa 30.5px,#bfbfbf 38.1px,#bfbfbf 45.7px,#c2c2c2 53.3px,#bfbfbf 60.9px,#bfbfbf 68.5px,#bababa)"></i><i style="background:linear-gradient(90deg,#bebebe 0,#bebebe 1.3px,#b4b4b4 8.9px,#aeaeae 16.5px,#aeaeae 22.8px,#bababa 31.7px,#bfbfbf 39.3px,#bfbfbf 46.9px,#c1c1c1 54.5px,#bfbfbf 62.1px,#bebebe 69.7px,#bababa)"></i><i style="background:linear-gradient(90deg,#bebebe 0,#bebebe 2.6px,#b2b2b2 10.2px,#acacac 17.8px,#acacac 22.8px,#bababa 33px,#bebebe 40.6px,#c1c1c1 55.8px,#bebebe 71px,#bababa)"></i><i style="background:linear-gradient(90deg,#bdbdbd 0,#bdbdbd 3.8px,#b1b1b1 11.4px,#ababab 19px,#ababab 22.8px,#bababa 34.2px,#bebebe 41.8px,#c1c1c1 57px,#bdbdbd 72.2px,#bababa)"></i><i style="background:linear-gradient(90deg,#bcbcbc 0,#bcbcbc 5px,#b0b0b0 12.6px,#a9a9a9 20.2px,#a9a9a9 22.8px,#bababa 35.4px,#c0c0c0 53.2px,#bebebe 68.4px,#bababa)"></i><i style="background:linear-gradient(90deg,#bbb 0,#bbb 6.3px,#afafaf 13.9px,#a8a8a8 21.5px,#a8a8a8 22.8px,#bbb 38px,#c0c0c0 53.2px,#bfbfbf 60.8px,#bababa)"></i><i style="background:linear-gradient(90deg,#bababa 0,#bababa 7.6px,#adadad 15.2px,#a6a6a6 22.8px,#bababa 38px,#bfbfbf 53.2px,#bfbfbf 60.8px,#bababa)"></i><i style="background:linear-gradient(90deg,#bababa 0,#b9b9b9 8.7px,#adadad 16.3px,#a6a6a6 22.8px,#bababa 39.1px,#bfbfbf 54.3px,#bfbfbf 61.9px,#bababa)"></i><i style="background:linear-gradient(90deg,#b9b9b9 0,#bababa 7.6px,#b8b8b8 9.9px,#afafaf 15.2px,#a7a7a7 22.8px,#a9a9a9 25.1px,#b9b9b9 38px,#bebebe 55.5px,#bebebe 63.1px,#bababa)"></i><i style="background:linear-gradient(90deg,#b9b9b9 0,#bababa 7.6px,#b7b7b7 11.2px,#b0b0b0 15.2px,#a8a8a8 22.8px,#ababab 26.4px,#b9b9b9 38px,#bebebe 56.8px,#bdbdbd 68.4px,#bababa)"></i><i style="background:linear-gradient(90deg,#b9b9b9 0,#bababa 7.6px,#b5b5b5 12.4px,#b1b1b1 15.2px,#a9a9a9 22.8px,#acacac 27.6px,#b9b9b9 38px,#bebebe 53.2px,#bdbdbd 68.4px,#bababa)"></i><i style="background:linear-gradient(90deg,#b8b8b8 0,#bababa 7.6px,#aaa 22.8px,#b0b0b0 30.4px,#b8b8b8 38px,#bdbdbd 53.2px,#bdbdbd 68.4px,#bababa)"></i><i style="background:linear-gradient(90deg,#b8b8b8 0,#bababa 7.6px,#ababab 22.8px,#b0b0b0 30.4px,#b8b8b8 38px,#bdbdbd 53.2px,#bdbdbd 68.4px,#bababa)"></i><i style="background:linear-gradient(90deg,#b8b8b8 0,#bababa 8.5px,#ababab 23.7px,#b1b1b1 31.3px,#b8b8b8 38.9px,#bcbcbc 54.1px,#bcbcbc 69.3px,#bababa)"></i><i style="background:linear-gradient(90deg,#b8b8b8 0,#bababa 7.6px,#acacac 22.8px,#b0b0b0 30.4px,#b8b8b8 40.1px,#bcbcbc 55.3px,#bcbcbc 70.5px,#bababa)"></i><i style="background:linear-gradient(90deg,#b9b9b9 0,#bababa 7.6px,#adadad 22.8px,#adadad 26.1px,#b9b9b9 41.3px,#bcbcbc 56.5px,#bcbcbc 71.7px,#bababa)"></i><i style="background:linear-gradient(90deg,#b9b9b9 0,#bababa 7.6px,#aeaeae 22.8px,#aeaeae 27.3px,#b9b9b9 42.5px,#bbb 60.8px,#bababa)"></i><i style="background:linear-gradient(90deg,#bababa 0,#bababa 7.6px,#afafaf 22.8px,#b0b0b0 30.4px,#bababa 45.6px,#bababa)"></i><i style="background:linear-gradient(90deg,#bababa 0,#bababa 7.6px,#b0b0b0 22.8px,#b0b0b0 30.4px,#bababa 45.6px,#bababa)"></i></div>
<span class="t" style="left:487.00px;top:116.98px;font-size:9.00px;color:#000">(P-c3)</span>
<span class="l" style="left:465.20px;top:179.80px;font-size:8.50px;color:#111">0.1173±0.0015</span>
<span class="t" style="left:449.00px;top:193.48px;font-size:9.00px">0</span>
<span class="r" style="left:446.70px;top:185.58px;font-size:9.00px">0</span>
<span class="t" style="left:479.40px;top:193.48px;font-size:9.00px">1</span>
<span class="r" style="left:446.70px;top:160.78px;font-size:9.00px">1</span>
<span class="t" style="left:509.80px;top:193.48px;font-size:9.00px">2</span>
<span class="r" style="left:446.70px;top:135.98px;font-size:9.00px">2</span>
<div class="h g" style="left:449px;top:247px;width:76px;height:62px"><i style="background:linear-gradient(90deg,#1b1b1b 0,#464646 15.2px,#7d7d7d 31px,#949494 38.6px,#b3b3b3 46.2px,#dfdfdf 53.8px,#060606 61.4px,#1c1c1c 69px,#323232)"></i><i style="background:linear-gradient(90deg,#181818 0,#454545 15.2px,#7f7f7f 32.2px,#979797 39.8px,#b6b6b6 47.4px,#d8d8d8 53.2px,#e1e1e1 55px,#3d3d3d 60.8px,#070707 62.6px,#2e2e2e)"></i><i style="background:linear-gradient(90deg,#151515 0,#2b2b2b 7.6px,#4d4d4d 18.3px,#828282 33.5px,#9a9a9a 41.1px,#bababa 48.7px,#d4d4d4 53.2px,#e3e3e3 56.3px,#626262 60.8px,#070707 63.9px,#2b2b2b)"></i><i style="background:linear-gradient(90deg,#121212 0,#282828 7.6px,#5b5b5b 22.8px,#848484 34.7px,#9d9d9d 42.3px,#bdbdbd 49.9px,#d1d1d1 53.2px,#e5e5e5 57.5px,#878787 60.8px,#070707 65.1px,#282828)"></i><i style="background:linear-gradient(90deg,#0f0f0f 0,#262626 7.6px,#a0a0a0 43.5px,#c1c1c1 51.1px,#cdcdcd 53.2px,#e7e7e7 58.7px,#acacac 60.8px,#080808 66.3px,#252525)"></i><i style="background:linear-gradient(90deg,#0c0c0c 0,#242424 7.6px,#a6a6a6 45.6px,#c4c4c4 52.3px,#e9e9e9 59.9px,#d1d1d1 60.8px,#080808 67.5px,#222)"></i><i style="background:linear-gradient(90deg,#141414 0,#0a0a0a .4px,#3c3c3c 15.6px,#a5a5a5 46px,#ebebeb 61.2px,#090909 68.8px,#1f1f1f)"></i><i style="background:linear-gradient(90deg,#383838 0,#0a0a0a 1.6px,#383838 15.2px,#a7a7a7 47.2px,#ececec 62.4px,#0a0a0a 70px,#1c1c1c)"></i><i style="background:linear-gradient(90deg,#5b5b5b 0,#0b0b0b 2.8px,#343434 15.2px,#a8a8a8 48.4px,#ededed 63.6px,#0b0b0b 71.2px,#1a1a1a)"></i><i style="background:linear-gradient(90deg,#7f7f7f 0,#0b0b0b 4px,#9a9a9a 45.6px,#a9a9a9 49.6px,#eee 64.8px,#0c0c0c 72.4px,#171717)"></i><i style="background:linear-gradient(90deg,#a2a2a2 0,#0b0b0b 5.3px,#979797 45.6px,#aaa 50.9px,#f0f0f0 66.1px,#0d0d0d 73.7px,#151515)"></i><i style="background:linear-gradient(90deg,#c6c6c6 0,#0b0b0b 6.5px,#939393 45.6px,#b0b0b0 53.2px,#f1f1f1 67.3px,#0f0f0f 74.9px,#121212)"></i><i style="background:linear-gradient(90deg,#e5e5e5 0,#0c0c0c 7.6px,#424242 22.9px,#909090 45.7px,#adadad 53.3px,#f2f2f2 68.4px,#0f0f0f)"></i><i style="background:linear-gradient(90deg,#e3e3e3 0,#0a0a0a 7.6px,#939393 46.9px,#b0b0b0 54.5px,#efefef 68.4px,#c8c8c8 69.7px,#0e0e0e)"></i><i style="background:linear-gradient(90deg,#e1e1e1 0,#999 2.6px,#090909 7.6px,#969696 48.2px,#b2b2b2 55.8px,#ececec 68.4px,#a3a3a3 71px,#0d0d0d)"></i><i style="background:linear-gradient(90deg,#dfdfdf 0,#757575 3.8px,#080808 7.6px,#a6a6a6 53.2px,#c6c6c6 60.8px,#e9e9e9 68.4px,#7d7d7d 72.2px,#0c0c0c)"></i><i style="background:linear-gradient(90deg,#ddd 0,#505050 5px,#060606 7.6px,#a4a4a4 53.2px,#c4c4c4 60.8px,#e6e6e6 68.4px,#575757 73.4px,#0b0b0b)"></i><i style="background:linear-gradient(90deg,#dbdbdb 0,#050505 7.6px,#a2a2a2 53.2px,#c1c1c1 60.8px,#e3e3e3 68.4px,#323232 74.7px,#090909)"></i><i style="background:linear-gradient(90deg,#d9d9d9 0,#040404 7.6px,#a0a0a0 53.2px,#bfbfbf 60.8px,#e0e0e0 68.4px,#080808)"></i><i style="background:linear-gradient(90deg,#d6d6d6 0,#dbdbdb 1.1px,#050505 8.7px,#a2a2a2 54.3px,#c0c0c0 61.9px,#e2e2e2 69.5px,#292929)"></i><i style="background:linear-gradient(90deg,#d3d3d3 0,#ddd 2.3px,#070707 9.9px,#181818 15.2px,#222 17.5px,#a5a5a5 55.5px,#c3c3c3 63.1px,#e4e4e4 70.7px,#4e4e4e)"></i><i style="background:linear-gradient(90deg,#d0d0d0 0,#dfdfdf 3.6px,#080808 11.2px,#161616 15.2px,#242424 18.8px,#9a9a9a 53.2px,#c5c5c5 64.4px,#e5e5e5 72px,#727272)"></i><i style="background:linear-gradient(90deg,#cecece 0,#e1e1e1 4.8px,#090909 12.4px,#131313 15.2px,#262626 20px,#7d7d7d 45.6px,#a9a9a9 58px,#e7e7e7 73.2px,#979797)"></i><i style="background:linear-gradient(90deg,#cbcbcb 0,#e3e3e3 6px,#0b0b0b 13.6px,#2e2e2e 22.8px,#616161 38px,#959595 53.2px,#cacaca 66.8px,#e9e9e9 74.4px,#bbb)"></i><i style="background:linear-gradient(90deg,#c8c8c8 0,#e5e5e5 7.2px,#0c0c0c 14.8px,#2c2c2c 22.8px,#5f5f5f 38px,#939393 53.2px,#ccc 68px,#eaeaea 75.6px,#e0e0e0)"></i><i style="background:linear-gradient(90deg,#c5c5c5 0,#e6e6e6 8.5px,#0e0e0e 16.1px,#2c2c2c 23.7px,#5c5c5c 38px,#adadad 60.8px,#e9e9e9)"></i><i style="background:linear-gradient(90deg,#c3c3c3 0,#e8e8e8 9.7px,#0f0f0f 17.3px,#262626 22.8px,#585858 38px,#aaa 60.8px,#e7e7e7)"></i><i style="background:linear-gradient(90deg,#c0c0c0 0,#cbcbcb 3.3px,#e9e9e9 10.9px,#101010 18.5px,#222 22.8px,#555 38px,#8c8c8c 53.2px,#b5b5b5 64.1px,#e4e4e4)"></i><i style="background:linear-gradient(90deg,#bebebe 0,#cdcdcd 4.5px,#eaeaea 12.1px,#121212 19.7px,#1e1e1e 22.8px,#515151 38px,#8a8a8a 53.2px,#a5a5a5 60.8px,#e1e1e1)"></i><i style="background:linear-gradient(90deg,#bbb 0,#d6d6d6 7.6px,#ebebeb 13.4px,#131313 21px,#2e2e2e 28.6px,#4e4e4e 38px,#888 53.2px,#a3a3a3 60.8px,#dfdfdf)"></i><i style="background:linear-gradient(90deg,#b9b9b9 0,#d3d3d3 7.6px,#ededed 14.6px,#151515 22.2px,#4b4b4b 38px,#868686 53.2px,#a0a0a0 60.8px,#dcdcdc)"></i><i style="background:linear-gradient(90deg,#b7b7b7 0,#d2d2d2 8.2px,#ececec 15.2px,#141414 22.8px,#4a4a4a 38.6px,#858585 53.8px,#a0a0a0 61.4px,#dadada)"></i><i style="background:linear-gradient(90deg,#b6b6b6 0,#d5d5d5 9.4px,#eaeaea 15.2px,#121212 22.8px,#4d4d4d 39.8px,#878787 55px,#a2a2a2 62.6px,#d7d7d7)"></i><i style="background:linear-gradient(90deg,#b6b6b6 0,#bebebe 3.1px,#e8e8e8 15.2px,#101010 22.8px,#353535 33.5px,#505050 41.1px,#898989 56.3px,#a4a4a4 63.9px,#d4d4d4)"></i><i style="background:linear-gradient(90deg,#b5b5b5 0,#c0c0c0 4.3px,#e6e6e6 15.2px,#0e0e0e 22.8px,#292929 30.4px,#535353 42.3px,#7d7d7d 53.2px,#a7a7a7 65.1px,#d2d2d2)"></i><i style="background:linear-gradient(90deg,#b4b4b4 0,#cacaca 7.6px,#e4e4e4 15.2px,#0c0c0c 22.8px,#282828 30.4px,#565656 43.5px,#7a7a7a 53.2px,#a9a9a9 66.3px,#cfcfcf)"></i><i style="background:linear-gradient(90deg,#b3b3b3 0,#c8c8c8 7.6px,#e2e2e2 15.2px,#090909 22.8px,#262626 30.4px,#595959 44.7px,#8f8f8f 59.9px,#afafaf 68.4px,#cdcdcd)"></i><i style="background:linear-gradient(90deg,#b2b2b2 0,#c7c7c7 8px,#e1e1e1 15.6px,#080808 23.2px,#262626 30.8px,#5b5b5b 46px,#adadad 68.8px,#cacaca)"></i><i style="background:linear-gradient(90deg,#afafaf 0,#c9c9c9 9.2px,#e3e3e3 16.8px,#0a0a0a 24.4px,#282828 32px,#575757 45.6px,#8e8e8e 60.8px,#aeaeae 70px,#c6c6c6)"></i><i style="background:linear-gradient(90deg,#adadad 0,#cacaca 10.4px,#dadada 15.2px,#e5e5e5 18px,#0c0c0c 25.6px,#2a2a2a 33.2px,#555 45.6px,#7b7b7b 56px,#949494 63.6px,#c2c2c2)"></i><i style="background:linear-gradient(90deg,#aaa 0,#cbcbcb 11.6px,#d7d7d7 15.2px,#e7e7e7 19.2px,#0e0e0e 26.8px,#2b2b2b 34.4px,#525252 45.6px,#7d7d7d 57.2px,#959595 64.8px,#bfbfbf)"></i><i style="background:linear-gradient(90deg,#a8a8a8 0,#bcbcbc 7.6px,#d4d4d4 15.2px,#e9e9e9 20.5px,#101010 28.1px,#353535 38px,#505050 45.6px,#6d6d6d 53.2px,#878787 60.8px,#979797 66.1px,#bbb)"></i><i style="background:linear-gradient(90deg,#a5a5a5 0,#bababa 7.6px,#d1d1d1 15.2px,#ebebeb 21.7px,#121212 29.3px,#333 38px,#4d4d4d 45.6px,#6b6b6b 53.2px,#858585 60.8px,#9c9c9c 68.4px,#b7b7b7)"></i><i style="background:linear-gradient(90deg,#a3a3a3 0,#b8b8b8 7.7px,#cfcfcf 15.3px,#ededed 22.9px,#141414 30.5px,#313131 38.1px,#4b4b4b 45.7px,#696969 53.3px,#838383 60.9px,#999 68.5px,#b3b3b3)"></i><i style="background:linear-gradient(90deg,#a0a0a0 0,#b8b8b8 8.9px,#d0d0d0 16.5px,#eee 24.1px,#151515 31.7px,#323232 39.3px,#4c4c4c 46.9px,#6a6a6a 54.5px,#848484 62.1px,#9b9b9b 69.7px,#b1b1b1)"></i><i style="background:linear-gradient(90deg,#9e9e9e 0,#a3a3a3 2.6px,#c8c8c8 15.2px,#efefef 25.4px,#161616 33px,#333 40.6px,#4e4e4e 48.2px,#6b6b6b 55.8px,#858585 63.4px,#9d9d9d 71px,#aeaeae)"></i><i style="background:linear-gradient(90deg,#9c9c9c 0,#a3a3a3 3.8px,#c4c4c4 15.2px,#f0f0f0 26.6px,#171717 34.2px,#343434 41.8px,#5e5e5e 53.2px,#7a7a7a 60.8px,#9e9e9e 72.2px,#acacac)"></i><i style="background:linear-gradient(90deg,#999 0,#a3a3a3 5px,#c1c1c1 15.2px,#f1f1f1 27.8px,#181818 35.4px,#3e3e3e 45.6px,#777 60.8px,#a0a0a0 73.4px,#a9a9a9)"></i><i style="background:linear-gradient(90deg,#979797 0,#a7a7a7 7.6px,#bebebe 15.2px,#f1f1f1 29.1px,#191919 36.7px,#747474 60.8px,#a2a2a2 74.7px,#a6a6a6)"></i><i style="background:linear-gradient(90deg,#949494 0,#a4a4a4 7.6px,#bababa 15.2px,#f2f2f2 30.3px,#1a1a1a 37.9px,#717171 60.8px,#a4a4a4)"></i><i style="background:linear-gradient(90deg,#909090 0,#a0a0a0 7.6px,#bbb 16.3px,#f0f0f0 30.4px,#d3d3d3 31.5px,#1a1a1a 38px,#555 54.3px,#727272 61.9px,#a1a1a1)"></i><i style="background:linear-gradient(90deg,#8c8c8c 0,#929292 2.3px,#9d9d9d 7.6px,#bcbcbc 17.5px,#ededed 30.4px,#b0b0b0 32.7px,#1a1a1a 38px,#212121 40.3px,#353535 45.6px,#3c3c3c 47.9px,#737373 63.1px,#9e9e9e)"></i><i style="background:linear-gradient(90deg,#888 0,#929292 3.6px,#9a9a9a 7.6px,#bebebe 18.8px,#eaeaea 30.4px,#8d8d8d 34px,#1a1a1a 38px,#242424 41.6px,#343434 45.6px,#3e3e3e 49.2px,#696969 60.8px,#9a9a9a)"></i><i style="background:linear-gradient(90deg,#848484 0,#919191 4.8px,#969696 7.6px,#c9c9c9 22.8px,#e7e7e7 30.4px,#6a6a6a 35.2px,#1a1a1a 38px,#282828 42.8px,#323232 45.6px,#404040 50.4px,#666 60.8px,#979797)"></i><i style="background:linear-gradient(90deg,#808080 0,#939393 7.6px,#c6c6c6 22.8px,#e4e4e4 30.4px,#474747 36.4px,#191919 38px,#2b2b2b 44px,#313131 45.6px,#484848 53.2px,#636363 60.8px,#949494)"></i><i style="background:linear-gradient(90deg,#7c7c7c 0,#909090 7.6px,#c3c3c3 22.8px,#e1e1e1 30.4px,#191919 38px,#464646 53.2px,#787878 68.4px,#919191)"></i><i style="background:linear-gradient(90deg,#787878 0,#8f8f8f 8.5px,#c3c3c3 23.7px,#e2e2e2 31.3px,#313131 38px,#191919 38.9px,#464646 54.1px,#8d8d8d)"></i><i style="background:linear-gradient(90deg,#757575 0,#8f8f8f 9.7px,#bcbcbc 22.8px,#e4e4e4 32.5px,#535353 38px,#191919 40.1px,#464646 55.3px,#898989)"></i><i style="background:linear-gradient(90deg,#727272 0,#909090 10.9px,#b9b9b9 22.8px,#e6e6e6 33.7px,#767676 38px,#191919 41.3px,#464646 56.5px,#858585)"></i><i style="background:linear-gradient(90deg,#6e6e6e 0,#909090 12.1px,#b6b6b6 22.8px,#e8e8e8 34.9px,#989898 38px,#191919 42.5px,#464646 57.7px,#818181)"></i><i style="background:linear-gradient(90deg,#6b6b6b 0,#7f7f7f 7.6px,#979797 15.2px,#b2b2b2 22.8px,#d1d1d1 30.4px,#eaeaea 36.2px,#bababa 38px,#191919 43.8px,#464646 59px,#636363 68.4px,#7d7d7d)"></i><i style="background:linear-gradient(90deg,#686868 0,#7c7c7c 7.6px,#939393 15.2px,#afafaf 22.8px,#cecece 30.4px,#ececec 37.4px,#191919 45px,#464646 60.2px,#5f5f5f 68.4px,#797979)"></i></div>
<span class="t" style="left:487.00px;top:236.98px;font-size:9.00px;color:#000">(A-q3)</span>
<span class="l" style="left:465.20px;top:298.96px;font-size:8.50px;color:#111">0.9625±0.0364</span>
<span class="t" style="left:449.00px;top:312.88px;font-size:9.00px">0</span>
<span class="r" style="left:446.70px;top:304.98px;font-size:9.00px">0</span>
<span class="t" style="left:479.40px;top:312.88px;font-size:9.00px">1</span>
<span class="r" style="left:446.70px;top:280.18px;font-size:9.00px">1</span>
<span class="t" style="left:509.80px;top:312.88px;font-size:9.00px">2</span>
<span class="r" style="left:446.70px;top:255.38px;font-size:9.00px">2</span>
<div class="h g" style="left:449px;top:333px;width:76px;height:62px"><i style="background:linear-gradient(90deg,#2e2e2e 0,#202020 .6px,#202020 7.6px,#606060 15.2px,#606060 22.8px,#636363 23.4px,#9e9e9e 30.4px,#9f9f9f 31px,#9f9f9f 45.6px,#dfdfdf 53.2px,#dfdfdf 53.8px,#202020 61.4px,#202020)"></i><i style="background:linear-gradient(90deg,#4a4a4a 0,#202020 1.8px,#202020 7.6px,#606060 15.2px,#606060 22.8px,#6a6a6a 24.6px,#9a9a9a 30.4px,#9f9f9f 32.2px,#9f9f9f 45.6px,#dfdfdf 53.2px,#dfdfdf 55px,#202020 62.6px,#202020)"></i><i style="background:linear-gradient(90deg,#656565 0,#202020 3.1px,#202020 7.6px,#606060 15.2px,#606060 22.8px,#717171 25.9px,#979797 30.4px,#9f9f9f 33.5px,#9f9f9f 45.6px,#dfdfdf 53.2px,#dfdfdf 56.3px,#202020 63.9px,#202020)"></i><i style="background:linear-gradient(90deg,#818181 0,#202020 4.3px,#202020 7.6px,#606060 15.2px,#606060 22.8px,#777 27.1px,#939393 30.4px,#9f9f9f 34.7px,#9f9f9f 45.6px,#dfdfdf 53.2px,#dfdfdf 57.5px,#202020 65.1px,#202020)"></i><i style="background:linear-gradient(90deg,#9d9d9d 0,#202020 5.5px,#202020 7.6px,#606060 15.2px,#606060 22.8px,#7e7e7e 28.3px,#909090 30.4px,#9f9f9f 35.9px,#9f9f9f 45.6px,#dfdfdf 53.2px,#dfdfdf 58.7px,#202020 66.3px,#202020)"></i><i style="background:linear-gradient(90deg,#b9b9b9 0,#202020 6.7px,#202020 7.6px,#606060 15.2px,#606060 22.8px,#858585 29.5px,#8c8c8c 30.4px,#9f9f9f 37.1px,#9f9f9f 45.6px,#dfdfdf 53.2px,#dfdfdf 59.9px,#202020 67.5px,#202020)"></i><i style="background:linear-gradient(90deg,#cdcdcd 0,#202020 7.6px,#202020 8px,#606060 15.6px,#606060 23.2px,#898989 30.8px,#9f9f9f 38.4px,#9f9f9f 46px,#dfdfdf 53.6px,#dfdfdf 61.2px,#202020 68.8px,#202020)"></i><i style="background:linear-gradient(90deg,#d0d0d0 0,#a8a8a8 1.6px,#202020 7.6px,#202020 9.2px,#606060 16.8px,#606060 24.4px,#898989 32px,#9f9f9f 39.6px,#9f9f9f 47.2px,#dfdfdf 54.8px,#dfdfdf 62.4px,#202020 70px,#202020)"></i><i style="background:linear-gradient(90deg,#d3d3d3 0,#8c8c8c 2.8px,#202020 7.6px,#202020 10.4px,#606060 18px,#606060 25.6px,#7a7a7a 30.4px,#888 33.2px,#959595 38px,#9f9f9f 40.8px,#9f9f9f 48.4px,#dfdfdf 56px,#dfdfdf 63.6px,#202020 71.2px,#202020)"></i><i style="background:linear-gradient(90deg,#d6d6d6 0,#707070 4px,#202020 7.6px,#202020 11.6px,#606060 19.2px,#606060 26.8px,#737373 30.4px,#878787 34.4px,#919191 38px,#9f9f9f 42px,#9f9f9f 49.6px,#dfdfdf 57.2px,#dfdfdf 64.8px,#202020 72.4px,#202020)"></i><i style="background:linear-gradient(90deg,#d9d9d9 0,#555 5.3px,#202020 7.6px,#202020 12.9px,#606060 20.5px,#606060 28.1px,#6d6d6d 30.4px,#868686 35.7px,#8d8d8d 38px,#9f9f9f 43.3px,#9f9f9f 50.9px,#dfdfdf 58.5px,#dfdfdf 66.1px,#202020 73.7px,#202020)"></i><i style="background:linear-gradient(90deg,#dcdcdc 0,#393939 6.5px,#202020 7.6px,#202020 14.1px,#606060 21.7px,#606060 29.3px,#858585 36.9px,#9f9f9f 44.5px,#9f9f9f 52.1px,#dfdfdf 59.7px,#dfdfdf 67.3px,#202020 74.9px,#202020)"></i><i style="background:linear-gradient(90deg,#dfdfdf 0,#dfdfdf .1px,#202020 7.7px,#202020 15.3px,#606060 22.9px,#606060 30.5px,#858585 38.1px,#9f9f9f 45.7px,#a0a0a0 53.3px,#dfdfdf 60.9px,#dfdfdf 68.4px,#202020)"></i><i style="background:linear-gradient(90deg,#dfdfdf 0,#dfdfdf 1.3px,#202020 8.9px,#202020 15.2px,#262626 16.5px,#5a5a5a 22.8px,#606060 24.1px,#606060 31.7px,#7e7e7e 38px,#898989 39.3px,#9f9f9f 45.6px,#9f9f9f 53.2px,#a3a3a3 54.5px,#d7d7d7 60.8px,#dfdfdf 62.1px,#dfdfdf 68.4px,#202020)"></i><i style="background:linear-gradient(90deg,#dfdfdf 0,#dfdfdf 2.6px,#202020 10.2px,#202020 15.2px,#2b2b2b 17.8px,#555 22.8px,#606060 25.4px,#606060 33px,#787878 38px,#8e8e8e 40.6px,#9f9f9f 45.6px,#9f9f9f 53.2px,#a6a6a6 55.8px,#d0d0d0 60.8px,#dfdfdf 63.4px,#dfdfdf 68.4px,#202020)"></i><i style="background:linear-gradient(90deg,#dfdfdf 0,#dfdfdf 3.8px,#202020 11.4px,#202020 15.2px,#303030 19px,#505050 22.8px,#606060 26.6px,#606060 34.2px,#727272 38px,#929292 41.8px,#9f9f9f 45.6px,#9f9f9f 53.2px,#a9a9a9 57px,#c9c9c9 60.8px,#dfdfdf 64.6px,#dfdfdf 68.4px,#202020)"></i><i style="background:linear-gradient(90deg,#dfdfdf 0,#dfdfdf 5px,#202020 12.6px,#202020 15.2px,#353535 20.2px,#4b4b4b 22.8px,#606060 27.8px,#606060 35.4px,#6c6c6c 38px,#969696 43px,#9f9f9f 45.6px,#9f9f9f 53.2px,#acacac 58.2px,#c2c2c2 60.8px,#dfdfdf 65.8px,#dfdfdf 68.4px,#202020)"></i><i style="background:linear-gradient(90deg,#dfdfdf 0,#dfdfdf 6.3px,#202020 13.9px,#202020 15.2px,#3a3a3a 21.5px,#454545 22.8px,#606060 29.1px,#606060 36.7px,#666 38px,#9b9b9b 44.3px,#9f9f9f 45.6px,#9f9f9f 53.2px,#afafaf 59.5px,#bababa 60.8px,#dfdfdf 67.1px,#dfdfdf 68.4px,#202020)"></i><i style="background:linear-gradient(90deg,#dfdfdf 0,#dfdfdf 7.5px,#202020 15.1px,#606060 30.4px,#606060 38px,#9f9f9f 45.6px,#9f9f9f 53.2px,#b3b3b3 60.8px,#dfdfdf 68.4px,#202020)"></i><i style="background:linear-gradient(90deg,#dfdfdf 0,#dfdfdf 7.6px,#202020 15.2px,#202020 16.3px,#3b3b3b 22.8px,#444 23.9px,#606060 30.4px,#606060 39.1px,#9f9f9f 46.7px,#9f9f9f 54.3px,#b0b0b0 60.8px,#b9b9b9 61.9px,#dfdfdf 68.4px,#dfdfdf 69.5px,#3c3c3c)"></i><i style="background:linear-gradient(90deg,#dfdfdf 0,#dfdfdf 7.6px,#202020 15.2px,#202020 17.5px,#363636 22.8px,#4a4a4a 25.1px,#606060 30.4px,#606060 40.3px,#9f9f9f 47.9px,#9f9f9f 55.5px,#adadad 60.8px,#c0c0c0 63.1px,#dfdfdf 68.4px,#dfdfdf 70.7px,#5a5a5a)"></i><i style="background:linear-gradient(90deg,#dfdfdf 0,#dfdfdf 7.6px,#202020 15.2px,#202020 18.8px,#313131 22.8px,#4f4f4f 26.4px,#606060 30.4px,#606060 41.6px,#9f9f9f 49.2px,#9f9f9f 56.8px,#aaa 60.8px,#c7c7c7 64.4px,#dfdfdf 68.4px,#dfdfdf 72px,#797979)"></i><i style="background:linear-gradient(90deg,#dfdfdf 0,#dfdfdf 7.6px,#202020 15.2px,#202020 20px,#2c2c2c 22.8px,#545454 27.6px,#606060 30.4px,#606060 42.8px,#9f9f9f 50.4px,#9f9f9f 58px,#a6a6a6 60.8px,#cfcfcf 65.6px,#dfdfdf 68.4px,#dfdfdf 73.2px,#989898)"></i><i style="background:linear-gradient(90deg,#dfdfdf 0,#dfdfdf 7.6px,#202020 15.2px,#202020 21.2px,#272727 22.8px,#595959 28.8px,#606060 30.4px,#606060 44px,#9f9f9f 51.6px,#9f9f9f 59.2px,#a3a3a3 60.8px,#d6d6d6 66.8px,#dfdfdf 68.4px,#dfdfdf 74.4px,#b7b7b7)"></i><i style="background:linear-gradient(90deg,#dfdfdf 0,#dfdfdf 7.6px,#202020 15.2px,#202020 22.4px,#212121 22.8px,#5e5e5e 30px,#606060 30.4px,#606060 45.2px,#9f9f9f 52.8px,#a0a0a0 60.8px,#dfdfdf 68.4px,#dfdfdf 75.6px,#d6d6d6)"></i><i style="background:linear-gradient(90deg,#d8d8d8 0,#d8d8d8 7.6px,#cacaca 8.5px,#202020 15.2px,#353535 16.1px,#353535 22.8px,#272727 23.7px,#606060 30.4px,#606060 45.6px,#9f9f9f 53.2px,#9f9f9f 61.7px,#dfdfdf 69.3px,#dfdfdf)"></i><i style="background:linear-gradient(90deg,#cecece 0,#cecece 7.6px,#ababab 9.7px,#202020 15.2px,#545454 17.3px,#545454 22.8px,#313131 24.9px,#606060 30.4px,#606060 45.6px,#9f9f9f 53.2px,#9f9f9f 62.9px,#dfdfdf 70.5px,#dfdfdf)"></i><i style="background:linear-gradient(90deg,#c3c3c3 0,#c3c3c3 7.6px,#8c8c8c 10.9px,#202020 15.2px,#737373 18.5px,#737373 22.8px,#3c3c3c 26.1px,#606060 30.4px,#606060 45.6px,#9f9f9f 53.2px,#9f9f9f 64.1px,#dfdfdf 71.7px,#dfdfdf)"></i><i style="background:linear-gradient(90deg,#b9b9b9 0,#b9b9b9 7.6px,#6d6d6d 12.1px,#202020 15.2px,#929292 19.7px,#929292 22.8px,#464646 27.3px,#606060 30.4px,#606060 45.6px,#9f9f9f 53.2px,#9f9f9f 65.3px,#dfdfdf 72.9px,#dfdfdf)"></i><i style="background:linear-gradient(90deg,#afafaf 0,#afafaf 7.6px,#4e4e4e 13.4px,#202020 15.2px,#b1b1b1 21px,#b1b1b1 22.8px,#505050 28.6px,#606060 30.4px,#606060 45.6px,#9f9f9f 53.2px,#9f9f9f 66.6px,#dfdfdf 74.2px,#dfdfdf)"></i><i style="background:linear-gradient(90deg,#a5a5a5 0,#a5a5a5 7.6px,#2f2f2f 14.6px,#202020 15.2px,#d0d0d0 22.2px,#d0d0d0 22.8px,#5a5a5a 29.8px,#606060 30.4px,#606060 45.6px,#9f9f9f 53.2px,#9f9f9f 67.8px,#dfdfdf 75.4px,#dfdfdf)"></i><i style="background:linear-gradient(90deg,#9f9f9f 0,#9f9f9f 8.2px,#2a2a2a 15.2px,#2f2f2f 15.8px,#dfdfdf 22.8px,#606060 30.4px,#606060 46.2px,#9f9f9f 53.8px,#9f9f9f 69px,#dadada)"></i><i style="background:linear-gradient(90deg,#9f9f9f 0,#9f9f9f 9.4px,#3f3f3f 15.2px,#4e4e4e 17px,#dfdfdf 22.8px,#606060 30.4px,#606060 47.4px,#9f9f9f 55px,#9f9f9f 70.2px,#d0d0d0)"></i><i style="background:linear-gradient(90deg,#9f9f9f 0,#9f9f9f 10.7px,#535353 15.2px,#6d6d6d 18.3px,#dfdfdf 22.8px,#606060 30.4px,#606060 48.7px,#9f9f9f 56.3px,#9f9f9f 71.5px,#c5c5c5)"></i><i style="background:linear-gradient(90deg,#9f9f9f 0,#9f9f9f 11.9px,#686868 15.2px,#8c8c8c 19.5px,#dfdfdf 22.8px,#606060 30.4px,#606060 49.9px,#9f9f9f 57.5px,#9f9f9f 72.7px,#bbb)"></i><i style="background:linear-gradient(90deg,#9f9f9f 0,#9f9f9f 13.1px,#7c7c7c 15.2px,#ababab 20.7px,#dfdfdf 22.8px,#606060 30.4px,#606060 51.1px,#9f9f9f 58.7px,#9f9f9f 73.9px,#b1b1b1)"></i><i style="background:linear-gradient(90deg,#9f9f9f 0,#9f9f9f 14.3px,#919191 15.2px,#cacaca 21.9px,#dfdfdf 22.8px,#606060 30.4px,#606060 52.3px,#9f9f9f 59.9px,#9f9f9f 75.1px,#a7a7a7)"></i><i style="height:6px;background:linear-gradient(90deg,#9f9f9f 0,#9f9f9f 15.2px,#dfdfdf 22.8px,#606060 30.4px,#606060 53.2px,#9f9f9f 60.8px,#9f9f9f)"></i><i style="background:linear-gradient(90deg,#9f9f9f 0,#9f9f9f 15.3px,#dedede 22.8px,#606060 30.4px,#606060 53.3px,#9f9f9f 60.9px,#9f9f9f)"></i><i style="background:linear-gradient(90deg,#9f9f9f 0,#9f9f9f 16.5px,#d4d4d4 22.8px,#c9c9c9 24.1px,#606060 30.4px,#606060 54.5px,#9f9f9f 62.1px,#9f9f9f)"></i><i style="background:linear-gradient(90deg,#9f9f9f 0,#9f9f9f 17.8px,#cacaca 22.8px,#b4b4b4 25.4px,#606060 30.4px,#606060 55.8px,#9f9f9f 63.4px,#9f9f9f)"></i><i style="background:linear-gradient(90deg,#9f9f9f 0,#9f9f9f 19px,#bfbfbf 22.8px,#9f9f9f 26.6px,#606060 30.4px,#606060 57px,#9f9f9f 64.6px,#9f9f9f)"></i><i style="background:linear-gradient(90deg,#9f9f9f 0,#9f9f9f 20.2px,#b5b5b5 22.8px,#8b8b8b 27.8px,#606060 30.4px,#606060 58.2px,#9f9f9f 65.8px,#9f9f9f)"></i><i style="background:linear-gradient(90deg,#9f9f9f 0,#9f9f9f 21.5px,#ababab 22.8px,#767676 29.1px,#606060 30.4px,#606060 59.5px,#9f9f9f 67.1px,#9f9f9f)"></i><i style="background:linear-gradient(90deg,#9f9f9f 0,#9f9f9f 22.7px,#a0a0a0 22.8px,#606060 30.4px,#606060 60.7px,#9f9f9f 68.4px,#9f9f9f)"></i><i style="background:linear-gradient(90deg,#9b9b9b 0,#9f9f9f 1.1px,#9f9f9f 22.8px,#9b9b9b 23.9px,#646464 30.4px,#606060 31.5px,#606060 60.8px,#646464 61.9px,#9b9b9b 68.4px,#9f9f9f 69.5px,#9f9f9f)"></i><i style="background:linear-gradient(90deg,#979797 0,#9f9f9f 2.3px,#9f9f9f 22.8px,#969696 25.1px,#696969 30.4px,#606060 32.7px,#606060 60.8px,#696969 63.1px,#969696 68.4px,#9f9f9f 70.7px,#9f9f9f)"></i><i style="background:linear-gradient(90deg,#939393 0,#9f9f9f 3.6px,#9f9f9f 22.8px,#909090 26.4px,#6f6f6f 30.4px,#606060 34px,#606060 60.8px,#6f6f6f 64.4px,#909090 68.4px,#9f9f9f 72px,#9f9f9f)"></i><i style="background:linear-gradient(90deg,#8f8f8f 0,#9f9f9f 4.8px,#9f9f9f 22.8px,#8b8b8b 27.6px,#747474 30.4px,#606060 35.2px,#606060 60.8px,#747474 65.6px,#8b8b8b 68.4px,#9f9f9f 73.2px,#9f9f9f)"></i><i style="background:linear-gradient(90deg,#8a8a8a 0,#9f9f9f 6px,#9f9f9f 22.8px,#868686 28.8px,#797979 30.4px,#606060 36.4px,#606060 60.8px,#797979 66.8px,#868686 68.4px,#9f9f9f 74.4px,#9f9f9f)"></i><i style="background:linear-gradient(90deg,#868686 0,#9f9f9f 7.2px,#9f9f9f 22.8px,#818181 30px,#7e7e7e 30.4px,#606060 37.6px,#606060 60.8px,#7e7e7e 68px,#818181 68.4px,#9f9f9f 75.6px,#9f9f9f)"></i><i style="background:linear-gradient(90deg,#808080 0,#858585 .9px,#9f9f9f 8.5px,#9f9f9f 23.7px,#838383 30.4px,#7e7e7e 31.3px,#626262 38px,#606060 38.9px,#606060 61.7px,#7c7c7c 68.4px,#838383 69.3px,#9f9f9f)"></i><i style="background:linear-gradient(90deg,#7a7a7a 0,#878787 2.1px,#9a9a9a 7.6px,#9f9f9f 9.7px,#9f9f9f 24.9px,#888 30.4px,#7c7c7c 32.5px,#656565 38px,#606060 40.1px,#606060 62.9px,#777 68.4px,#888 70.5px,#9f9f9f)"></i><i style="background:linear-gradient(90deg,#747474 0,#888 3.3px,#979797 7.6px,#9f9f9f 10.9px,#9f9f9f 26.1px,#8d8d8d 30.4px,#7a7a7a 33.7px,#686868 38px,#606060 41.3px,#606060 64.1px,#727272 68.4px,#8d8d8d 71.7px,#9f9f9f)"></i><i style="background:linear-gradient(90deg,#6f6f6f 0,#898989 4.5px,#949494 7.6px,#9f9f9f 12.1px,#9f9f9f 27.3px,#939393 30.4px,#787878 34.9px,#6b6b6b 38px,#606060 42.5px,#606060 65.3px,#6c6c6c 68.4px,#939393 72.9px,#9f9f9f)"></i><i style="background:linear-gradient(90deg,#696969 0,#8a8a8a 5.8px,#919191 7.6px,#9f9f9f 13.4px,#9f9f9f 28.6px,#989898 30.4px,#767676 36.2px,#6e6e6e 38px,#606060 43.8px,#606060 66.6px,#676767 68.4px,#989898 74.2px,#9f9f9f)"></i><i style="background:linear-gradient(90deg,#636363 0,#8c8c8c 7px,#9f9f9f 14.6px,#9f9f9f 29.8px,#717171 38px,#606060 45px,#606060 67.8px,#626262 68.4px,#9d9d9d 75.4px,#9f9f9f)"></i></div>
<span class="t" style="left:487.00px;top:322.98px;font-size:9.00px;color:#000">(A-c3)</span>
<span class="l" style="left:465.20px;top:385.80px;font-size:8.50px;color:#111">0.3816±0.0277</span>
<span class="t" style="left:449.00px;top:399.48px;font-size:9.00px">0</span>
<span class="r" style="left:446.70px;top:391.58px;font-size:9.00px">0</span>
<span class="t" style="left:479.40px;top:399.48px;font-size:9.00px">1</span>
<span class="r" style="left:446.70px;top:366.78px;font-size:9.00px">1</span>
<span class="t" style="left:509.80px;top:399.48px;font-size:9.00px">2</span>
<span class="r" style="left:446.70px;top:341.98px;font-size:9.00px">2</span>
<span class="t" style="left:487.00px;top:17.38px;font-size:9.00px;color:#000">Strong</span>
<span class="t" style="left:487.00px;top:223.58px;font-size:9.00px;color:#000">Strong</span>
<div class="h g" style="left:559px;top:40px;width:76px;height:62px"><i style="background:linear-gradient(90deg,#545454 0,#666 8.2px,#5e5e5e 15.8px,#4b4b4b 23.4px,#3f3f3f 31px,#3a3a3a 38.6px,#3d3d3d 46.2px,#4d4d4d 61.4px,#525252 69px,#595959)"></i><i style="background:linear-gradient(90deg,#535353 0,#646464 7.6px,#666 9.4px,#606060 15.2px,#494949 24.6px,#3e3e3e 32.2px,#393939 39.8px,#3b3b3b 45.6px,#4d4d4d 62.6px,#535353 70.2px,#595959)"></i><i style="background:linear-gradient(90deg,#525252 0,#575757 3.1px,#626262 7.6px,#666 10.7px,#616161 15.2px,#474747 25.9px,#404040 30.4px,#3a3a3a 38px,#393939 41.1px,#3a3a3a 45.6px,#4e4e4e 63.9px,#585858)"></i><i style="background:linear-gradient(90deg,#515151 0,#585858 4.3px,#606060 7.6px,#666 11.9px,#636363 15.2px,#454545 27.1px,#404040 30.4px,#393939 38px,#383838 42.3px,#393939 45.6px,#464646 57.5px,#585858)"></i><i style="background:linear-gradient(90deg,#505050 0,#5f5f5f 7.6px,#666 13.1px,#646464 15.2px,#525252 22.8px,#434343 28.3px,#3a3a3a 35.9px,#373737 43.5px,#383838 45.6px,#414141 53.2px,#575757)"></i><i style="background:linear-gradient(90deg,#505050 0,#5d5d5d 7.6px,#666 14.3px,#656565 15.2px,#535353 22.8px,#404040 30.4px,#383838 38px,#363636 45.6px,#404040 53.2px,#575757)"></i><i style="background:linear-gradient(90deg,#4f4f4f 0,#5c5c5c 8px,#666 15.6px,#545454 23.2px,#3f3f3f 30.8px,#383838 38.4px,#353535 46px,#404040 53.6px,#575757)"></i><i style="background:linear-gradient(90deg,#4f4f4f 0,#656565 15.2px,#666 16.8px,#585858 22.8px,#515151 24.4px,#3e3e3e 32px,#383838 39.6px,#343434 47.2px,#404040 54.8px,#565656)"></i><i style="background:linear-gradient(90deg,#4e4e4e 0,#656565 15.2px,#666 18px,#5b5b5b 22.8px,#4f4f4f 25.6px,#434343 30.4px,#3d3d3d 33.2px,#383838 38px,#343434 48.4px,#3a3a3a 53.2px,#404040 56px,#565656)"></i><i style="background:linear-gradient(90deg,#4e4e4e 0,#656565 15.2px,#666 19.2px,#5e5e5e 22.8px,#4d4d4d 26.8px,#444 30.4px,#3c3c3c 34.4px,#383838 38px,#333 49.6px,#383838 53.2px,#404040 57.2px,#555)"></i><i style="background:linear-gradient(90deg,#4d4d4d 0,#585858 7.6px,#646464 15.2px,#666 20.5px,#616161 22.8px,#4b4b4b 28.1px,#454545 30.4px,#3a3a3a 35.7px,#383838 38px,#363636 45.6px,#323232 50.9px,#353535 53.2px,#404040 58.5px,#555)"></i><i style="background:linear-gradient(90deg,#4d4d4d 0,#575757 7.6px,#646464 15.2px,#666 21.7px,#636363 22.8px,#494949 29.3px,#393939 36.9px,#313131 52.1px,#414141 60.8px,#555)"></i><i style="background:linear-gradient(90deg,#4c4c4c 0,#575757 7.7px,#646464 15.3px,#666 22.9px,#474747 30.5px,#383838 38.1px,#353535 45.7px,#313131 53.3px,#404040 60.9px,#545454)"></i><i style="background:linear-gradient(90deg,#4c4c4c 0,#585858 8.9px,#626262 15.2px,#666 16.5px,#686868 22.8px,#4a4a4a 30.4px,#464646 31.7px,#393939 38px,#303030 53.2px,#323232 54.5px,#414141 62.1px,#535353)"></i><i style="background:linear-gradient(90deg,#4c4c4c 0,#585858 10.2px,#616161 15.2px,#686868 17.8px,#696969 22.8px,#4c4c4c 30.4px,#444 33px,#3a3a3a 38px,#373737 40.6px,#303030 53.2px,#333 55.8px,#414141 63.4px,#525252)"></i><i style="background:linear-gradient(90deg,#4b4b4b 0,#595959 11.4px,#606060 15.2px,#6a6a6a 19px,#6b6b6b 22.8px,#4e4e4e 30.4px,#424242 34.2px,#3b3b3b 38px,#373737 41.8px,#303030 53.2px,#343434 57px,#424242 64.6px,#525252)"></i><i style="background:linear-gradient(90deg,#4b4b4b 0,#5a5a5a 12.6px,#5e5e5e 15.2px,#6c6c6c 20.2px,#6d6d6d 22.8px,#505050 30.4px,#414141 35.4px,#3b3b3b 38px,#363636 43px,#303030 53.2px,#363636 58.2px,#474747 68.4px,#515151)"></i><i style="background:linear-gradient(90deg,#4a4a4a 0,#535353 7.6px,#5d5d5d 15.2px,#6e6e6e 21.5px,#6e6e6e 22.8px,#525252 30.4px,#3f3f3f 36.7px,#3c3c3c 38px,#363636 45.6px,#303030 53.2px,#373737 59.5px,#464646 68.4px,#505050)"></i><i style="background:linear-gradient(90deg,#4a4a4a 0,#525252 7.6px,#5c5c5c 15.2px,#707070 22.8px,#545454 30.4px,#3d3d3d 38px,#363636 45.6px,#303030 53.2px,#383838 60.8px,#454545 68.4px,#4f4f4f)"></i><i style="background:linear-gradient(90deg,#494949 0,#525252 8.7px,#5d5d5d 16.3px,#6f6f6f 22.8px,#6f6f6f 23.9px,#525252 31.5px,#3c3c3c 39.1px,#353535 46.7px,#313131 54.3px,#393939 61.9px,#454545 69.5px,#4e4e4e)"></i><i style="background:linear-gradient(90deg,#484848 0,#525252 9.9px,#595959 15.2px,#6d6d6d 22.8px,#6e6e6e 25.1px,#5a5a5a 30.4px,#505050 32.7px,#404040 38px,#3c3c3c 40.3px,#343434 47.9px,#303030 53.2px,#313131 55.5px,#3a3a3a 63.1px,#464646 70.7px,#4d4d4d)"></i><i style="background:linear-gradient(90deg,#484848 0,#585858 15.2px,#6b6b6b 22.8px,#6d6d6d 26.4px,#5e5e5e 30.4px,#4e4e4e 34px,#424242 38px,#3b3b3b 41.6px,#303030 53.2px,#323232 56.8px,#3a3a3a 64.4px,#4b4b4b)"></i><i style="background:linear-gradient(90deg,#474747 0,#575757 15.2px,#6a6a6a 22.8px,#6b6b6b 27.6px,#616161 30.4px,#4c4c4c 35.2px,#444 38px,#3a3a3a 42.8px,#303030 53.2px,#323232 58px,#4a4a4a)"></i><i style="background:linear-gradient(90deg,#464646 0,#565656 15.2px,#686868 22.8px,#6a6a6a 28.8px,#4a4a4a 36.4px,#454545 38px,#393939 44px,#303030 53.2px,#343434 60.8px,#494949)"></i><i style="background:linear-gradient(90deg,#454545 0,#555 15.2px,#666 22.8px,#696969 30px,#474747 38px,#383838 45.6px,#303030 53.2px,#333 60.8px,#484848)"></i><i style="background:linear-gradient(90deg,#444 0,#545454 16.1px,#676767 23.7px,#696969 30.4px,#676767 31.3px,#474747 38.9px,#383838 46.5px,#303030 54.1px,#343434 61.7px,#474747)"></i><i style="background:linear-gradient(90deg,#434343 0,#555 17.3px,#676767 24.9px,#696969 30.4px,#656565 32.5px,#454545 40.1px,#373737 47.7px,#303030 55.3px,#343434 62.9px,#464646)"></i><i style="background:linear-gradient(90deg,#434343 0,#4b4b4b 7.6px,#555 18.5px,#686868 26.1px,#6a6a6a 30.4px,#636363 33.7px,#505050 38px,#444 41.3px,#3b3b3b 45.6px,#333 53.2px,#303030 56.5px,#323232 60.8px,#454545)"></i><i style="background:linear-gradient(90deg,#424242 0,#4b4b4b 7.6px,#565656 19.7px,#696969 27.3px,#6a6a6a 30.4px,#616161 34.9px,#545454 38px,#434343 42.5px,#3d3d3d 45.6px,#333 53.2px,#303030 57.7px,#313131 60.8px,#404040 72.9px,#444)"></i><i style="background:linear-gradient(90deg,#414141 0,#4b4b4b 7.6px,#505050 15.2px,#565656 21px,#6a6a6a 28.6px,#6a6a6a 30.4px,#5f5f5f 36.2px,#424242 43.8px,#363636 51.4px,#303030 59px,#373737 66.6px,#444)"></i><i style="background:linear-gradient(90deg,#404040 0,#4a4a4a 7.6px,#4f4f4f 15.2px,#585858 22.8px,#6b6b6b 29.8px,#6b6b6b 30.4px,#5d5d5d 37.4px,#3f3f3f 45.6px,#353535 53.2px,#313131 60.8px,#393939 68.4px,#434343)"></i><i style="background:linear-gradient(90deg,#3f3f3f 0,#4a4a4a 8.2px,#4f4f4f 15.8px,#585858 23.4px,#6c6c6c 31px,#5d5d5d 38px,#3f3f3f 46.2px,#363636 53.8px,#313131 61.4px,#393939 69px,#424242)"></i><i style="background:linear-gradient(90deg,#3f3f3f 0,#4b4b4b 9.4px,#505050 17px,#555 22.8px,#6c6c6c 32.2px,#616161 38px,#434343 45.6px,#3f3f3f 47.4px,#363636 55px,#323232 62.6px,#393939 70.2px,#414141)"></i><i style="background:linear-gradient(90deg,#3e3e3e 0,#4b4b4b 10.7px,#555 22.8px,#5b5b5b 25.9px,#676767 30.4px,#6d6d6d 33.5px,#646464 38px,#575757 41.1px,#464646 45.6px,#3e3e3e 48.7px,#383838 53.2px,#333 60.8px,#333 63.9px,#404040)"></i><i style="background:linear-gradient(90deg,#3d3d3d 0,#4b4b4b 11.9px,#545454 22.8px,#5c5c5c 27.1px,#656565 30.4px,#6e6e6e 34.7px,#676767 38px,#555 42.3px,#484848 45.6px,#3d3d3d 49.9px,#383838 53.2px,#333 60.8px,#333 65.1px,#3f3f3f)"></i><i style="background:linear-gradient(90deg,#3c3c3c 0,#464646 7.6px,#4d4d4d 15.2px,#535353 22.8px,#6f6f6f 35.9px,#6b6b6b 38px,#4b4b4b 45.6px,#3c3c3c 51.1px,#363636 58.7px,#343434 66.3px,#3f3f3f)"></i><i style="background:linear-gradient(90deg,#3b3b3b 0,#454545 7.6px,#4d4d4d 15.2px,#525252 22.8px,#707070 37.1px,#6e6e6e 38px,#4d4d4d 45.6px,#3b3b3b 52.3px,#353535 60.8px,#363636 68.4px,#3e3e3e)"></i><i style="background:linear-gradient(90deg,#3a3a3a 0,#454545 8px,#4c4c4c 15.6px,#525252 23.2px,#707070 38.4px,#4f4f4f 46px,#3b3b3b 53.6px,#353535 61.2px,#363636 68.8px,#3d3d3d)"></i><i style="background:linear-gradient(90deg,#3a3a3a 0,#4b4b4b 15.2px,#535353 24.4px,#5f5f5f 30.4px,#646464 32px,#707070 38px,#6f6f6f 39.6px,#4d4d4d 47.2px,#3a3a3a 54.8px,#353535 62.4px,#363636 70px,#3c3c3c)"></i><i style="background:linear-gradient(90deg,#393939 0,#4c4c4c 18px,#505050 22.8px,#535353 25.6px,#5d5d5d 30.4px,#666 33.2px,#6f6f6f 38px,#6d6d6d 40.8px,#4c4c4c 48.4px,#3f3f3f 53.2px,#3a3a3a 56px,#353535 63.6px,#353535 68.4px,#3b3b3b)"></i><i style="background:linear-gradient(90deg,#383838 0,#4c4c4c 19.2px,#4f4f4f 22.8px,#545454 26.8px,#5b5b5b 30.4px,#686868 34.4px,#6f6f6f 38px,#6c6c6c 42px,#4b4b4b 49.6px,#414141 53.2px,#393939 57.2px,#343434 64.8px,#343434 68.4px,#3a3a3a)"></i><i style="background:linear-gradient(90deg,#373737 0,#4e4e4e 22.8px,#555 28.1px,#5a5a5a 30.4px,#6a6a6a 35.7px,#6e6e6e 38px,#6b6b6b 43.3px,#4a4a4a 50.9px,#434343 53.2px,#393939 58.5px,#343434 66.1px,#343434 68.4px,#3a3a3a)"></i><i style="background:linear-gradient(90deg,#363636 0,#4d4d4d 22.8px,#585858 30.4px,#6e6e6e 38px,#6a6a6a 44.5px,#494949 52.1px,#383838 59.7px,#333 68.4px,#393939)"></i><i style="background:linear-gradient(90deg,#363636 0,#4d4d4d 22.9px,#575757 30.5px,#6e6e6e 38.1px,#686868 45.7px,#474747 53.3px,#383838 60.9px,#333 68.5px,#383838)"></i><i style="background:linear-gradient(90deg,#353535 0,#4d4d4d 24.1px,#555 30.4px,#6f6f6f 39.3px,#6a6a6a 45.6px,#464646 54.5px,#373737 62.1px,#333 69.7px,#373737)"></i><i style="background:linear-gradient(90deg,#353535 0,#363636 2.6px,#4d4d4d 25.4px,#545454 30.4px,#5a5a5a 33px,#696969 38px,#6f6f6f 40.6px,#6c6c6c 45.6px,#636363 48.2px,#4d4d4d 53.2px,#444 55.8px,#3a3a3a 60.8px,#363636 63.4px,#333 68.4px,#333 71px,#363636)"></i><i style="background:linear-gradient(90deg,#343434 0,#363636 3.8px,#494949 22.8px,#535353 30.4px,#5c5c5c 34.2px,#676767 38px,#707070 41.8px,#6e6e6e 45.6px,#606060 49.4px,#4f4f4f 53.2px,#424242 57px,#3b3b3b 60.8px,#363636 64.6px,#333 68.4px,#333 72.2px,#363636)"></i><i style="background:linear-gradient(90deg,#343434 0,#363636 5px,#474747 22.8px,#525252 30.4px,#5d5d5d 35.4px,#656565 38px,#717171 43px,#6f6f6f 45.6px,#5d5d5d 50.6px,#525252 53.2px,#414141 58.2px,#3b3b3b 60.8px,#353535 65.8px,#333 68.4px,#333 73.4px,#353535)"></i><i style="background:linear-gradient(90deg,#333 0,#373737 7.6px,#464646 22.8px,#505050 30.4px,#727272 44.3px,#717171 45.6px,#545454 53.2px,#3f3f3f 59.5px,#333 68.4px,#343434)"></i><i style="background:linear-gradient(90deg,#333 0,#363636 7.6px,#454545 22.8px,#4f4f4f 30.4px,#737373 45.6px,#565656 53.2px,#3d3d3d 60.8px,#333 68.4px,#333)"></i><i style="background:linear-gradient(90deg,#333 0,#363636 8.7px,#454545 23.9px,#505050 31.5px,#717171 45.6px,#707070 46.7px,#545454 54.3px,#3f3f3f 60.8px,#333 69.5px,#333)"></i><i style="background:linear-gradient(90deg,#343434 0,#333 2.3px,#363636 9.9px,#464646 25.1px,#515151 32.7px,#6f6f6f 45.6px,#6d6d6d 47.9px,#525252 55.5px,#404040 60.8px,#3c3c3c 63.1px,#353535 68.4px,#333 70.7px,#333)"></i><i style="background:linear-gradient(90deg,#343434 0,#333 3.6px,#373737 11.2px,#464646 26.4px,#515151 34px,#6d6d6d 45.6px,#6a6a6a 49.2px,#424242 60.8px,#3b3b3b 64.4px,#353535 68.4px,#333 72px,#333)"></i><i style="background:linear-gradient(90deg,#353535 0,#333 4.8px,#3a3a3a 15.2px,#4a4a4a 30.4px,#525252 35.2px,#6b6b6b 45.6px,#686868 50.4px,#444 60.8px,#3a3a3a 65.6px,#363636 68.4px,#333 73.2px,#333)"></i><i style="background:linear-gradient(90deg,#353535 0,#343434 7.6px,#393939 15.2px,#494949 30.4px,#575757 38px,#696969 45.6px,#656565 51.6px,#454545 60.8px,#373737 68.4px,#333)"></i><i style="background:linear-gradient(90deg,#353535 0,#333 7.6px,#383838 15.2px,#484848 30.4px,#555 38px,#676767 45.6px,#626262 52.8px,#474747 60.8px,#383838 68.4px,#333)"></i><i style="background:linear-gradient(90deg,#363636 0,#333 8.5px,#383838 16.1px,#484848 31.3px,#555 38.9px,#656565 45.6px,#606060 53.2px,#5f5f5f 54.1px,#484848 60.8px,#383838 69.3px,#333)"></i><i style="background:linear-gradient(90deg,#363636 0,#333 7.6px,#393939 17.3px,#494949 32.5px,#565656 40.1px,#636363 45.6px,#636363 47.7px,#606060 53.2px,#5b5b5b 55.3px,#494949 60.8px,#393939 68.4px,#343434)"></i><i style="background:linear-gradient(90deg,#373737 0,#333 7.6px,#393939 18.5px,#4a4a4a 33.7px,#565656 41.3px,#606060 45.6px,#626262 48.9px,#5f5f5f 53.2px,#585858 56.5px,#4a4a4a 60.8px,#3a3a3a 68.4px,#343434)"></i><i style="background:linear-gradient(90deg,#373737 0,#333 7.6px,#3a3a3a 19.7px,#444 30.4px,#575757 42.5px,#5e5e5e 45.6px,#606060 50.1px,#5e5e5e 53.2px,#555 57.7px,#4a4a4a 60.8px,#3b3b3b 68.4px,#353535)"></i><i style="background:linear-gradient(90deg,#373737 0,#333 7.6px,#363636 15.2px,#3c3c3c 22.8px,#444 30.4px,#4e4e4e 38px,#5c5c5c 45.6px,#5e5e5e 51.4px,#5d5d5d 53.2px,#515151 59px,#4b4b4b 60.8px,#3c3c3c 68.4px,#353535)"></i><i style="background:linear-gradient(90deg,#383838 0,#333 7.6px,#363636 15.2px,#3b3b3b 22.8px,#434343 30.4px,#4d4d4d 38px,#5a5a5a 45.6px,#5c5c5c 53.2px,#3d3d3d 68.4px,#353535)"></i></div>
<span class="t" style="left:597.00px;top:29.98px;font-size:9.00px;color:#000">(P-q4)</span>
<span class="l" style="left:575.20px;top:92.80px;font-size:8.50px;color:#111">0.8218±0.0005</span>
<span class="t" style="left:559.00px;top:106.48px;font-size:9.00px">0</span>
<span class="r" style="left:556.70px;top:98.58px;font-size:9.00px">0</span>
<span class="t" style="left:589.40px;top:106.48px;font-size:9.00px">1</span>
<span class="r" style="left:556.70px;top:73.78px;font-size:9.00px">1</span>
<span class="t" style="left:619.80px;top:106.48px;font-size:9.00px">2</span>
<span class="r" style="left:556.70px;top:48.98px;font-size:9.00px">2</span>
<div class="h g" style="left:559px;top:127px;width:76px;height:62px"><i style="background:linear-gradient(90deg,#848484 0,#858585 8.2px,#8c8c8c 31px,#8c8c8c 38.6px,#898989 46.2px,#7f7f7f 53.8px,#848484 61.4px,#878787 69px,#878787)"></i><i style="background:linear-gradient(90deg,#838383 0,#878787 15.2px,#8d8d8d 32.2px,#8c8c8c 39.8px,#888 47.4px,#7f7f7f 55px,#838383 62.6px,#868686 70.2px,#868686)"></i><i style="background:linear-gradient(90deg,#838383 0,#898989 22.8px,#8d8d8d 33.5px,#8b8b8b 45.6px,#7e7e7e 56.3px,#848484 68.4px,#858585)"></i><i style="background:linear-gradient(90deg,#828282 0,#888 22.8px,#8e8e8e 34.7px,#8b8b8b 45.6px,#7e7e7e 57.5px,#848484 72.7px,#848484)"></i><i style="background:linear-gradient(90deg,#818181 0,#888 22.8px,#8c8c8c 30.4px,#8e8e8e 38px,#8c8c8c 45.6px,#7e7e7e 58.7px,#838383)"></i><i style="background:linear-gradient(90deg,#808080 0,#878787 22.8px,#8c8c8c 30.4px,#8f8f8f 38px,#8c8c8c 45.6px,#7d7d7d 59.9px,#838383)"></i><i style="background:linear-gradient(90deg,#808080 0,#888 23.2px,#8d8d8d 30.8px,#8f8f8f 38.4px,#8c8c8c 46px,#7c7c7c 61.2px,#828282)"></i><i style="background:linear-gradient(90deg,#808080 0,#898989 24.4px,#8f8f8f 32px,#919191 38px,#8d8d8d 45.6px,#858585 53.2px,#828282 54.8px,#7b7b7b 62.4px,#808080)"></i><i style="background:linear-gradient(90deg,#808080 0,#878787 22.8px,#8d8d8d 30.4px,#919191 33.2px,#939393 38px,#909090 40.8px,#8e8e8e 45.6px,#868686 53.2px,#808080 56px,#797979 63.6px,#7e7e7e)"></i><i style="background:linear-gradient(90deg,#808080 0,#878787 22.8px,#8e8e8e 30.4px,#939393 34.4px,#949494 38px,#909090 42px,#8f8f8f 45.6px,#868686 53.2px,#7e7e7e 57.2px,#787878 64.8px,#7d7d7d)"></i><i style="background:linear-gradient(90deg,#808080 0,#878787 22.8px,#8e8e8e 30.4px,#959595 35.7px,#969696 38px,#919191 43.3px,#909090 45.6px,#868686 53.2px,#7c7c7c 58.5px,#767676 66.1px,#7b7b7b)"></i><i style="background:linear-gradient(90deg,#808080 0,#878787 22.8px,#8e8e8e 30.4px,#989898 38px,#919191 45.6px,#878787 53.2px,#797979 60.8px,#757575 68.4px,#797979)"></i><i style="background:linear-gradient(90deg,#808080 0,#878787 22.9px,#8f8f8f 30.5px,#999 38.1px,#919191 45.7px,#878787 53.3px,#787878 60.9px,#737373 68.5px,#787878)"></i><i style="background:linear-gradient(90deg,#808080 0,#898989 24.1px,#8f8f8f 30.4px,#939393 31.7px,#9c9c9c 38px,#989898 39.3px,#909090 46.9px,#888 53.2px,#757575 62.1px,#717171 68.4px,#777)"></i><i style="background:linear-gradient(90deg,#808080 0,#878787 22.8px,#8f8f8f 30.4px,#979797 33px,#9e9e9e 38px,#979797 40.6px,#888 53.2px,#818181 55.8px,#737373 63.4px,#6f6f6f 68.4px,#737373 71px,#767676)"></i><i style="background:linear-gradient(90deg,#808080 0,#878787 22.8px,#8f8f8f 30.4px,#9c9c9c 34.2px,#a1a1a1 38px,#969696 41.8px,#888 53.2px,#7e7e7e 57px,#707070 64.6px,#6e6e6e 68.4px,#737373 72.2px,#757575)"></i><i style="background:linear-gradient(90deg,#808080 0,#878787 22.8px,#8f8f8f 30.4px,#a0a0a0 35.4px,#a3a3a3 38px,#969696 43px,#898989 53.2px,#7b7b7b 58.2px,#6e6e6e 65.8px,#6c6c6c 68.4px,#737373 73.4px,#747474)"></i><i style="background:linear-gradient(90deg,#808080 0,#878787 22.8px,#8f8f8f 30.4px,#a4a4a4 36.7px,#a6a6a6 38px,#959595 44.3px,#898989 53.2px,#767676 60.8px,#6b6b6b 67.1px,#6a6a6a 68.4px,#747474)"></i><i style="background:linear-gradient(90deg,#808080 0,#878787 22.8px,#8f8f8f 30.4px,#a8a8a8 38px,#949494 45.6px,#8a8a8a 53.2px,#757575 60.8px,#696969 68.4px,#737373)"></i><i style="background:linear-gradient(90deg,#808080 0,#888 23.9px,#8f8f8f 31.5px,#a5a5a5 38px,#a6a6a6 39.1px,#959595 45.6px,#898989 54.3px,#787878 60.8px,#6c6c6c 68.4px,#6c6c6c 69.5px,#747474)"></i><i style="background:linear-gradient(90deg,#818181 0,#808080 2.3px,#888 25.1px,#909090 32.7px,#a1a1a1 38px,#a4a4a4 40.3px,#959595 45.6px,#949494 47.9px,#898989 55.5px,#7b7b7b 60.8px,#787878 63.1px,#707070 68.4px,#6f6f6f 70.7px,#767676)"></i><i style="background:linear-gradient(90deg,#828282 0,#818181 3.6px,#888 26.4px,#909090 34px,#9e9e9e 38px,#a1a1a1 41.6px,#969696 45.6px,#949494 49.2px,#898989 56.8px,#7e7e7e 60.8px,#7a7a7a 64.4px,#737373 68.4px,#727272 72px,#787878)"></i><i style="background:linear-gradient(90deg,#838383 0,#818181 4.8px,#898989 27.6px,#909090 35.2px,#9a9a9a 38px,#9f9f9f 42.8px,#979797 45.6px,#949494 50.4px,#888 58px,#818181 60.8px,#7c7c7c 65.6px,#777 68.4px,#757575 73.2px,#797979)"></i><i style="background:linear-gradient(90deg,#848484 0,#828282 7.6px,#8b8b8b 30.4px,#919191 36.4px,#969696 38px,#9c9c9c 44px,#989898 45.6px,#929292 53.2px,#888 59.2px,#838383 60.8px,#7b7b7b 68.4px,#797979 74.4px,#7b7b7b)"></i><i style="background:linear-gradient(90deg,#848484 0,#828282 7.6px,#8a8a8a 30.4px,#9a9a9a 45.2px,#939393 53.2px,#868686 60.8px,#7e7e7e 68.4px,#7c7c7c)"></i><i style="background:linear-gradient(90deg,#848484 0,#818181 7.6px,#8a8a8a 31.3px,#989898 46.5px,#939393 54.1px,#878787 61.7px,#808080 69.3px,#7e7e7e)"></i><i style="background:linear-gradient(90deg,#838383 0,#808080 2.1px,#7f7f7f 7.6px,#818181 9.7px,#8a8a8a 32.5px,#979797 47.7px,#939393 55.3px,#898989 60.8px,#828282 70.5px,#808080)"></i><i style="background:linear-gradient(90deg,#828282 0,#7e7e7e 3.3px,#7c7c7c 7.6px,#818181 10.9px,#8a8a8a 33.7px,#8e8e8e 38px,#8f8f8f 41.3px,#969696 48.9px,#929292 56.5px,#8a8a8a 60.8px,#848484 68.4px,#818181)"></i><i style="background:linear-gradient(90deg,#828282 0,#7b7b7b 4.5px,#7a7a7a 7.6px,#818181 12.1px,#8a8a8a 34.9px,#8d8d8d 38px,#8e8e8e 42.5px,#949494 50.1px,#919191 57.7px,#8c8c8c 60.8px,#868686 68.4px,#838383)"></i><i style="background:linear-gradient(90deg,#818181 0,#797979 5.8px,#787878 7.6px,#808080 13.4px,#878787 28.6px,#8d8d8d 43.8px,#939393 51.4px,#909090 59px,#8d8d8d 60.8px,#878787 68.4px,#858585)"></i><i style="background:linear-gradient(90deg,#808080 0,#767676 7.6px,#808080 15.2px,#858585 22.8px,#8d8d8d 45.6px,#929292 53.2px,#8e8e8e 60.8px,#898989 68.4px,#868686)"></i><i style="background:linear-gradient(90deg,#808080 0,#767676 8.2px,#828282 15.8px,#868686 23.4px,#898989 30.4px,#888 31px,#8c8c8c 46.2px,#919191 53.8px,#8f8f8f 61.4px,#8a8a8a 69px,#888)"></i><i style="background:linear-gradient(90deg,#818181 0,#787878 7.6px,#787878 9.4px,#808080 15.2px,#868686 17px,#8a8a8a 24.6px,#8b8b8b 30.4px,#888 32.2px,#8a8a8a 38px,#898989 39.8px,#8c8c8c 47.4px,#919191 55px,#8e8e8e 62.6px,#8a8a8a 70.2px,#888)"></i><i style="background:linear-gradient(90deg,#828282 0,#808080 3.1px,#797979 7.6px,#7a7a7a 10.7px,#818181 15.2px,#8a8a8a 18.3px,#8d8d8d 22.8px,#8e8e8e 30.4px,#898989 33.5px,#8b8b8b 38px,#898989 41.1px,#909090 56.3px,#8b8b8b 68.4px,#898989)"></i><i style="background:linear-gradient(90deg,#828282 0,#808080 4.3px,#7b7b7b 7.6px,#7c7c7c 11.9px,#818181 15.2px,#8e8e8e 19.5px,#909090 22.8px,#919191 30.4px,#8a8a8a 34.7px,#8b8b8b 38px,#888 42.3px,#909090 57.5px,#8b8b8b 68.4px,#8a8a8a)"></i><i style="background:linear-gradient(90deg,#838383 0,#7d7d7d 7.6px,#7f7f7f 13.1px,#818181 15.2px,#929292 20.7px,#949494 30.4px,#8b8b8b 35.9px,#8c8c8c 38px,#888 43.5px,#8f8f8f 58.7px,#8c8c8c 68.4px,#8b8b8b)"></i><i style="background:linear-gradient(90deg,#848484 0,#7e7e7e 7.6px,#828282 15.2px,#969696 21.9px,#979797 30.4px,#8c8c8c 37.1px,#888 45.6px,#8d8d8d 53.2px,#8f8f8f 60.8px,#8c8c8c 68.4px,#8c8c8c)"></i><i style="background:linear-gradient(90deg,#858585 0,#7f7f7f 8px,#828282 15.6px,#999 23.2px,#999 30.8px,#8c8c8c 38.4px,#888 46px,#8c8c8c 53.6px,#8f8f8f 61.2px,#8c8c8c 68.8px,#8c8c8c)"></i><i style="background:linear-gradient(90deg,#868686 0,#7e7e7e 9.2px,#808080 15.2px,#838383 16.8px,#959595 22.8px,#979797 24.4px,#989898 32px,#8e8e8e 38px,#898989 47.2px,#8d8d8d 54.8px,#8f8f8f 62.4px,#8c8c8c 70px,#8c8c8c)"></i><i style="background:linear-gradient(90deg,#868686 0,#7e7e7e 10.4px,#7f7f7f 15.2px,#838383 18px,#919191 22.8px,#959595 25.6px,#959595 30.4px,#979797 33.2px,#8f8f8f 38px,#8a8a8a 45.6px,#8a8a8a 48.4px,#909090 60.8px,#8c8c8c 71.2px,#8c8c8c)"></i><i style="background:linear-gradient(90deg,#878787 0,#7d7d7d 11.6px,#7e7e7e 15.2px,#838383 19.2px,#8e8e8e 22.8px,#949494 26.8px,#949494 30.4px,#969696 34.4px,#909090 38px,#8b8b8b 45.6px,#8b8b8b 49.6px,#909090 60.8px,#8c8c8c)"></i><i style="background:linear-gradient(90deg,#888 0,#7c7c7c 12.9px,#7d7d7d 15.2px,#848484 20.5px,#8b8b8b 22.8px,#929292 28.1px,#929292 30.4px,#959595 35.7px,#929292 38px,#8c8c8c 45.6px,#8c8c8c 50.9px,#919191 60.8px,#8c8c8c)"></i><i style="background:linear-gradient(90deg,#898989 0,#7b7b7b 14.1px,#848484 21.7px,#888 22.8px,#909090 29.3px,#959595 36.9px,#8e8e8e 45.6px,#8e8e8e 53.2px,#919191 60.8px,#8c8c8c)"></i><i style="background:linear-gradient(90deg,#8a8a8a 0,#7a7a7a 15.3px,#8f8f8f 30.5px,#949494 38.1px,#8f8f8f 45.7px,#8f8f8f 53.3px,#919191 60.9px,#8c8c8c)"></i><i style="background:linear-gradient(90deg,#8a8a8a 0,#838383 7.6px,#808080 8.9px,#797979 15.2px,#8e8e8e 31.7px,#939393 39.3px,#8f8f8f 45.6px,#909090 53.2px,#929292 54.5px,#949494 60.8px,#929292 62.1px,#8d8d8d)"></i><i style="background:linear-gradient(90deg,#8b8b8b 0,#838383 7.6px,#7e7e7e 10.2px,#797979 15.2px,#7a7a7a 17.8px,#8e8e8e 33px,#929292 40.6px,#8f8f8f 45.6px,#919191 48.2px,#919191 53.2px,#959595 55.8px,#979797 60.8px,#929292 63.4px,#8d8d8d)"></i><i style="background:linear-gradient(90deg,#8b8b8b 0,#838383 7.6px,#7c7c7c 11.4px,#787878 15.2px,#7a7a7a 19px,#8e8e8e 34.2px,#919191 41.8px,#8f8f8f 45.6px,#919191 49.4px,#919191 53.2px,#989898 57px,#999 60.8px,#939393 64.6px,#8e8e8e)"></i><i style="background:linear-gradient(90deg,#8b8b8b 0,#848484 7.6px,#7a7a7a 12.6px,#777 15.2px,#7a7a7a 20.2px,#888 30.4px,#8f8f8f 38px,#919191 43px,#8f8f8f 45.6px,#929292 50.6px,#929292 53.2px,#9b9b9b 58.2px,#9b9b9b 60.8px,#939393 65.8px,#8e8e8e)"></i><i style="background:linear-gradient(90deg,#8c8c8c 0,#848484 7.6px,#787878 13.9px,#767676 15.2px,#7c7c7c 22.8px,#868686 30.4px,#8e8e8e 38px,#909090 44.3px,#8f8f8f 45.6px,#939393 53.2px,#9d9d9d 59.5px,#9e9e9e 60.8px,#939393 67.1px,#8e8e8e)"></i><i style="background:linear-gradient(90deg,#8c8c8c 0,#858585 7.6px,#757575 15.2px,#7b7b7b 22.8px,#858585 30.4px,#8c8c8c 38px,#8f8f8f 45.6px,#949494 53.2px,#a0a0a0 60.8px,#949494 68.4px,#8f8f8f)"></i><i style="background:linear-gradient(90deg,#8f8f8f 0,#909090 1.1px,#898989 7.6px,#858585 8.7px,#777 16.3px,#7c7c7c 23.9px,#858585 31.5px,#8c8c8c 39.1px,#8f8f8f 46.7px,#959595 54.3px,#a0a0a0 60.8px,#939393 69.5px,#8f8f8f)"></i><i style="background:linear-gradient(90deg,#929292 0,#939393 2.3px,#8e8e8e 7.6px,#868686 9.9px,#7c7c7c 15.2px,#787878 17.5px,#7e7e7e 25.1px,#858585 30.4px,#8c8c8c 40.3px,#909090 47.9px,#959595 55.5px,#9e9e9e 60.8px,#9d9d9d 63.1px,#949494 68.4px,#8f8f8f)"></i><i style="background:linear-gradient(90deg,#959595 0,#979797 3.6px,#939393 7.6px,#878787 11.2px,#7f7f7f 15.2px,#7a7a7a 18.8px,#7f7f7f 26.4px,#858585 30.4px,#8b8b8b 38px,#909090 49.2px,#969696 56.8px,#9d9d9d 60.8px,#9b9b9b 64.4px,#949494 68.4px,#8f8f8f)"></i><i style="background:linear-gradient(90deg,#979797 0,#9b9b9b 4.8px,#989898 7.6px,#888 12.4px,#828282 15.2px,#7c7c7c 20px,#818181 27.6px,#858585 30.4px,#8b8b8b 38px,#909090 50.4px,#979797 58px,#9c9c9c 60.8px,#999 65.6px,#949494 68.4px,#8f8f8f)"></i><i style="background:linear-gradient(90deg,#9a9a9a 0,#9e9e9e 6px,#9d9d9d 7.6px,#898989 13.6px,#7d7d7d 21.2px,#8a8a8a 38px,#8d8d8d 45.6px,#929292 53.2px,#9b9b9b 60.8px,#979797 66.8px,#949494 68.4px,#8f8f8f)"></i><i style="background:linear-gradient(90deg,#9d9d9d 0,#a2a2a2 7.6px,#898989 15.2px,#7f7f7f 22.8px,#8a8a8a 38px,#8c8c8c 45.6px,#919191 53.2px,#999 60.8px,#8f8f8f)"></i><i style="background:linear-gradient(90deg,#9e9e9e 0,#a3a3a3 7.6px,#a1a1a1 8.5px,#898989 16.1px,#808080 22.8px,#8a8a8a 38.9px,#8d8d8d 46.5px,#919191 54.1px,#989898 61.7px,#8f8f8f)"></i><i style="background:linear-gradient(90deg,#9e9e9e 0,#a2a2a2 7.6px,#9f9f9f 9.7px,#878787 17.3px,#808080 22.8px,#838383 30.4px,#8a8a8a 40.1px,#8d8d8d 47.7px,#919191 55.3px,#979797 60.8px,#939393 70.5px,#8f8f8f)"></i><i style="background:linear-gradient(90deg,#9e9e9e 0,#9e9e9e 3.3px,#a1a1a1 7.6px,#9d9d9d 10.9px,#8e8e8e 15.2px,#858585 18.5px,#808080 22.8px,#808080 26.1px,#8b8b8b 41.3px,#919191 56.5px,#969696 60.8px,#969696 64.1px,#8f8f8f)"></i><i style="background:linear-gradient(90deg,#9e9e9e 0,#9e9e9e 4.5px,#a0a0a0 7.6px,#9a9a9a 12.1px,#909090 15.2px,#848484 19.7px,#808080 22.8px,#808080 27.3px,#8b8b8b 42.5px,#919191 57.7px,#949494 60.8px,#949494 65.3px,#8f8f8f)"></i><i style="background:linear-gradient(90deg,#9e9e9e 0,#9f9f9f 7.6px,#989898 13.4px,#828282 21px,#808080 22.8px,#818181 30.4px,#888 38px,#8c8c8c 45.6px,#939393 60.8px,#929292 68.4px,#8f8f8f)"></i><i style="background:linear-gradient(90deg,#9e9e9e 0,#9f9f9f 7.6px,#959595 14.6px,#808080 22.8px,#808080 30.4px,#878787 38px,#8c8c8c 45.6px,#929292 60.8px,#929292 68.4px,#8f8f8f)"></i></div>
<span class="t" style="left:597.00px;top:116.98px;font-size:9.00px;color:#000">(P-c4)</span>
<span class="l" style="left:575.20px;top:179.80px;font-size:8.50px;color:#111">0.2312±0.0012</span>
<span class="t" style="left:559.00px;top:193.48px;font-size:9.00px">0</span>
<span class="r" style="left:556.70px;top:185.58px;font-size:9.00px">0</span>
<span class="t" style="left:589.40px;top:193.48px;font-size:9.00px">1</span>
<span class="r" style="left:556.70px;top:160.78px;font-size:9.00px">1</span>
<span class="t" style="left:619.80px;top:193.48px;font-size:9.00px">2</span>
<span class="r" style="left:556.70px;top:135.98px;font-size:9.00px">2</span>
<div class="h g" style="left:559px;top:247px;width:76px;height:62px"><i style="background:linear-gradient(90deg,#1b1b1b 0,#464646 15.2px,#7d7d7d 31px,#949494 38.6px,#b3b3b3 46.2px,#dfdfdf 53.8px,#060606 61.4px,#1c1c1c 69px,#323232)"></i><i style="background:linear-gradient(90deg,#181818 0,#454545 15.2px,#7f7f7f 32.2px,#979797 39.8px,#b6b6b6 47.4px,#d8d8d8 53.2px,#e1e1e1 55px,#3d3d3d 60.8px,#070707 62.6px,#2e2e2e)"></i><i style="background:linear-gradient(90deg,#151515 0,#2b2b2b 7.6px,#4d4d4d 18.3px,#828282 33.5px,#9a9a9a 41.1px,#bababa 48.7px,#d4d4d4 53.2px,#e3e3e3 56.3px,#626262 60.8px,#070707 63.9px,#2b2b2b)"></i><i style="background:linear-gradient(90deg,#121212 0,#282828 7.6px,#5b5b5b 22.8px,#848484 34.7px,#9d9d9d 42.3px,#bdbdbd 49.9px,#d1d1d1 53.2px,#e5e5e5 57.5px,#878787 60.8px,#070707 65.1px,#282828)"></i><i style="background:linear-gradient(90deg,#0f0f0f 0,#262626 7.6px,#a0a0a0 43.5px,#c1c1c1 51.1px,#cdcdcd 53.2px,#e7e7e7 58.7px,#acacac 60.8px,#080808 66.3px,#252525)"></i><i style="background:linear-gradient(90deg,#0c0c0c 0,#242424 7.6px,#a6a6a6 45.6px,#c4c4c4 52.3px,#e9e9e9 59.9px,#d1d1d1 60.8px,#080808 67.5px,#222)"></i><i style="background:linear-gradient(90deg,#141414 0,#0a0a0a .4px,#3c3c3c 15.6px,#a5a5a5 46px,#ebebeb 61.2px,#090909 68.8px,#1f1f1f)"></i><i style="background:linear-gradient(90deg,#383838 0,#0a0a0a 1.6px,#383838 15.2px,#a7a7a7 47.2px,#ececec 62.4px,#0a0a0a 70px,#1c1c1c)"></i><i style="background:linear-gradient(90deg,#5b5b5b 0,#0b0b0b 2.8px,#343434 15.2px,#a8a8a8 48.4px,#ededed 63.6px,#0b0b0b 71.2px,#1a1a1a)"></i><i style="background:linear-gradient(90deg,#7f7f7f 0,#0b0b0b 4px,#9a9a9a 45.6px,#a9a9a9 49.6px,#eee 64.8px,#0c0c0c 72.4px,#171717)"></i><i style="background:linear-gradient(90deg,#a2a2a2 0,#0b0b0b 5.3px,#979797 45.6px,#aaa 50.9px,#f0f0f0 66.1px,#0d0d0d 73.7px,#151515)"></i><i style="background:linear-gradient(90deg,#c6c6c6 0,#0b0b0b 6.5px,#939393 45.6px,#b0b0b0 53.2px,#f1f1f1 67.3px,#0f0f0f 74.9px,#121212)"></i><i style="background:linear-gradient(90deg,#e5e5e5 0,#0c0c0c 7.6px,#424242 22.9px,#909090 45.7px,#adadad 53.3px,#f2f2f2 68.4px,#0f0f0f)"></i><i style="background:linear-gradient(90deg,#e3e3e3 0,#0a0a0a 7.6px,#939393 46.9px,#b0b0b0 54.5px,#efefef 68.4px,#c8c8c8 69.7px,#0e0e0e)"></i><i style="background:linear-gradient(90deg,#e1e1e1 0,#999 2.6px,#090909 7.6px,#969696 48.2px,#b2b2b2 55.8px,#ececec 68.4px,#a3a3a3 71px,#0d0d0d)"></i><i style="background:linear-gradient(90deg,#dfdfdf 0,#757575 3.8px,#080808 7.6px,#a6a6a6 53.2px,#c6c6c6 60.8px,#e9e9e9 68.4px,#7d7d7d 72.2px,#0c0c0c)"></i><i style="background:linear-gradient(90deg,#ddd 0,#505050 5px,#060606 7.6px,#a4a4a4 53.2px,#c4c4c4 60.8px,#e6e6e6 68.4px,#575757 73.4px,#0b0b0b)"></i><i style="background:linear-gradient(90deg,#dbdbdb 0,#050505 7.6px,#a2a2a2 53.2px,#c1c1c1 60.8px,#e3e3e3 68.4px,#323232 74.7px,#090909)"></i><i style="background:linear-gradient(90deg,#d9d9d9 0,#040404 7.6px,#a0a0a0 53.2px,#bfbfbf 60.8px,#e0e0e0 68.4px,#080808)"></i><i style="background:linear-gradient(90deg,#d6d6d6 0,#dbdbdb 1.1px,#050505 8.7px,#a2a2a2 54.3px,#c0c0c0 61.9px,#e2e2e2 69.5px,#292929)"></i><i style="background:linear-gradient(90deg,#d3d3d3 0,#ddd 2.3px,#070707 9.9px,#181818 15.2px,#222 17.5px,#a5a5a5 55.5px,#c3c3c3 63.1px,#e4e4e4 70.7px,#4e4e4e)"></i><i style="background:linear-gradient(90deg,#d0d0d0 0,#dfdfdf 3.6px,#080808 11.2px,#161616 15.2px,#242424 18.8px,#9a9a9a 53.2px,#c5c5c5 64.4px,#e5e5e5 72px,#727272)"></i><i style="background:linear-gradient(90deg,#cecece 0,#e1e1e1 4.8px,#090909 12.4px,#131313 15.2px,#262626 20px,#7d7d7d 45.6px,#a9a9a9 58px,#e7e7e7 73.2px,#979797)"></i><i style="background:linear-gradient(90deg,#cbcbcb 0,#e3e3e3 6px,#0b0b0b 13.6px,#2e2e2e 22.8px,#616161 38px,#959595 53.2px,#cacaca 66.8px,#e9e9e9 74.4px,#bbb)"></i><i style="background:linear-gradient(90deg,#c8c8c8 0,#e5e5e5 7.2px,#0c0c0c 14.8px,#2c2c2c 22.8px,#5f5f5f 38px,#939393 53.2px,#ccc 68px,#eaeaea 75.6px,#e0e0e0)"></i><i style="background:linear-gradient(90deg,#c5c5c5 0,#e6e6e6 8.5px,#0e0e0e 16.1px,#2c2c2c 23.7px,#5c5c5c 38px,#adadad 60.8px,#e9e9e9)"></i><i style="background:linear-gradient(90deg,#c3c3c3 0,#e8e8e8 9.7px,#0f0f0f 17.3px,#262626 22.8px,#585858 38px,#aaa 60.8px,#e7e7e7)"></i><i style="background:linear-gradient(90deg,#c0c0c0 0,#cbcbcb 3.3px,#e9e9e9 10.9px,#101010 18.5px,#222 22.8px,#555 38px,#8c8c8c 53.2px,#b5b5b5 64.1px,#e4e4e4)"></i><i style="background:linear-gradient(90deg,#bebebe 0,#cdcdcd 4.5px,#eaeaea 12.1px,#121212 19.7px,#1e1e1e 22.8px,#515151 38px,#8a8a8a 53.2px,#a5a5a5 60.8px,#e1e1e1)"></i><i style="background:linear-gradient(90deg,#bbb 0,#d6d6d6 7.6px,#ebebeb 13.4px,#131313 21px,#2e2e2e 28.6px,#4e4e4e 38px,#888 53.2px,#a3a3a3 60.8px,#dfdfdf)"></i><i style="background:linear-gradient(90deg,#b9b9b9 0,#d3d3d3 7.6px,#ededed 14.6px,#151515 22.2px,#4b4b4b 38px,#868686 53.2px,#a0a0a0 60.8px,#dcdcdc)"></i><i style="background:linear-gradient(90deg,#b7b7b7 0,#d2d2d2 8.2px,#ececec 15.2px,#141414 22.8px,#4a4a4a 38.6px,#858585 53.8px,#a0a0a0 61.4px,#dadada)"></i><i style="background:linear-gradient(90deg,#b6b6b6 0,#d5d5d5 9.4px,#eaeaea 15.2px,#121212 22.8px,#4d4d4d 39.8px,#878787 55px,#a2a2a2 62.6px,#d7d7d7)"></i><i style="background:linear-gradient(90deg,#b6b6b6 0,#bebebe 3.1px,#e8e8e8 15.2px,#101010 22.8px,#353535 33.5px,#505050 41.1px,#898989 56.3px,#a4a4a4 63.9px,#d4d4d4)"></i><i style="background:linear-gradient(90deg,#b5b5b5 0,#c0c0c0 4.3px,#e6e6e6 15.2px,#0e0e0e 22.8px,#292929 30.4px,#535353 42.3px,#7d7d7d 53.2px,#a7a7a7 65.1px,#d2d2d2)"></i><i style="background:linear-gradient(90deg,#b4b4b4 0,#cacaca 7.6px,#e4e4e4 15.2px,#0c0c0c 22.8px,#282828 30.4px,#565656 43.5px,#7a7a7a 53.2px,#a9a9a9 66.3px,#cfcfcf)"></i><i style="background:linear-gradient(90deg,#b3b3b3 0,#c8c8c8 7.6px,#e2e2e2 15.2px,#090909 22.8px,#262626 30.4px,#595959 44.7px,#8f8f8f 59.9px,#afafaf 68.4px,#cdcdcd)"></i><i style="background:linear-gradient(90deg,#b2b2b2 0,#c7c7c7 8px,#e1e1e1 15.6px,#080808 23.2px,#262626 30.8px,#5b5b5b 46px,#adadad 68.8px,#cacaca)"></i><i style="background:linear-gradient(90deg,#afafaf 0,#c9c9c9 9.2px,#e3e3e3 16.8px,#0a0a0a 24.4px,#282828 32px,#575757 45.6px,#8e8e8e 60.8px,#aeaeae 70px,#c6c6c6)"></i><i style="background:linear-gradient(90deg,#adadad 0,#cacaca 10.4px,#dadada 15.2px,#e5e5e5 18px,#0c0c0c 25.6px,#2a2a2a 33.2px,#555 45.6px,#7b7b7b 56px,#949494 63.6px,#c2c2c2)"></i><i style="background:linear-gradient(90deg,#aaa 0,#cbcbcb 11.6px,#d7d7d7 15.2px,#e7e7e7 19.2px,#0e0e0e 26.8px,#2b2b2b 34.4px,#525252 45.6px,#7d7d7d 57.2px,#959595 64.8px,#bfbfbf)"></i><i style="background:linear-gradient(90deg,#a8a8a8 0,#bcbcbc 7.6px,#d4d4d4 15.2px,#e9e9e9 20.5px,#101010 28.1px,#353535 38px,#505050 45.6px,#6d6d6d 53.2px,#878787 60.8px,#979797 66.1px,#bbb)"></i><i style="background:linear-gradient(90deg,#a5a5a5 0,#bababa 7.6px,#d1d1d1 15.2px,#ebebeb 21.7px,#121212 29.3px,#333 38px,#4d4d4d 45.6px,#6b6b6b 53.2px,#858585 60.8px,#9c9c9c 68.4px,#b7b7b7)"></i><i style="background:linear-gradient(90deg,#a3a3a3 0,#b8b8b8 7.7px,#cfcfcf 15.3px,#ededed 22.9px,#141414 30.5px,#313131 38.1px,#4b4b4b 45.7px,#696969 53.3px,#838383 60.9px,#999 68.5px,#b3b3b3)"></i><i style="background:linear-gradient(90deg,#a0a0a0 0,#b8b8b8 8.9px,#d0d0d0 16.5px,#eee 24.1px,#151515 31.7px,#323232 39.3px,#4c4c4c 46.9px,#6a6a6a 54.5px,#848484 62.1px,#9b9b9b 69.7px,#b1b1b1)"></i><i style="background:linear-gradient(90deg,#9e9e9e 0,#a3a3a3 2.6px,#c8c8c8 15.2px,#efefef 25.4px,#161616 33px,#333 40.6px,#4e4e4e 48.2px,#6b6b6b 55.8px,#858585 63.4px,#9d9d9d 71px,#aeaeae)"></i><i style="background:linear-gradient(90deg,#9c9c9c 0,#a3a3a3 3.8px,#c4c4c4 15.2px,#f0f0f0 26.6px,#171717 34.2px,#343434 41.8px,#5e5e5e 53.2px,#7a7a7a 60.8px,#9e9e9e 72.2px,#acacac)"></i><i style="background:linear-gradient(90deg,#999 0,#a3a3a3 5px,#c1c1c1 15.2px,#f1f1f1 27.8px,#181818 35.4px,#3e3e3e 45.6px,#777 60.8px,#a0a0a0 73.4px,#a9a9a9)"></i><i style="background:linear-gradient(90deg,#979797 0,#a7a7a7 7.6px,#bebebe 15.2px,#f1f1f1 29.1px,#191919 36.7px,#747474 60.8px,#a2a2a2 74.7px,#a6a6a6)"></i><i style="background:linear-gradient(90deg,#949494 0,#a4a4a4 7.6px,#bababa 15.2px,#f2f2f2 30.3px,#1a1a1a 37.9px,#717171 60.8px,#a4a4a4)"></i><i style="background:linear-gradient(90deg,#909090 0,#a0a0a0 7.6px,#bbb 16.3px,#f0f0f0 30.4px,#d3d3d3 31.5px,#1a1a1a 38px,#555 54.3px,#727272 61.9px,#a1a1a1)"></i><i style="background:linear-gradient(90deg,#8c8c8c 0,#929292 2.3px,#9d9d9d 7.6px,#bcbcbc 17.5px,#ededed 30.4px,#b0b0b0 32.7px,#1a1a1a 38px,#212121 40.3px,#353535 45.6px,#3c3c3c 47.9px,#737373 63.1px,#9e9e9e)"></i><i style="background:linear-gradient(90deg,#888 0,#929292 3.6px,#9a9a9a 7.6px,#bebebe 18.8px,#eaeaea 30.4px,#8d8d8d 34px,#1a1a1a 38px,#242424 41.6px,#343434 45.6px,#3e3e3e 49.2px,#696969 60.8px,#9a9a9a)"></i><i style="background:linear-gradient(90deg,#848484 0,#919191 4.8px,#969696 7.6px,#c9c9c9 22.8px,#e7e7e7 30.4px,#6a6a6a 35.2px,#1a1a1a 38px,#282828 42.8px,#323232 45.6px,#404040 50.4px,#666 60.8px,#979797)"></i><i style="background:linear-gradient(90deg,#808080 0,#939393 7.6px,#c6c6c6 22.8px,#e4e4e4 30.4px,#474747 36.4px,#191919 38px,#2b2b2b 44px,#313131 45.6px,#484848 53.2px,#636363 60.8px,#949494)"></i><i style="background:linear-gradient(90deg,#7c7c7c 0,#909090 7.6px,#c3c3c3 22.8px,#e1e1e1 30.4px,#191919 38px,#464646 53.2px,#787878 68.4px,#919191)"></i><i style="background:linear-gradient(90deg,#787878 0,#8f8f8f 8.5px,#c3c3c3 23.7px,#e2e2e2 31.3px,#313131 38px,#191919 38.9px,#464646 54.1px,#8d8d8d)"></i><i style="background:linear-gradient(90deg,#757575 0,#8f8f8f 9.7px,#bcbcbc 22.8px,#e4e4e4 32.5px,#535353 38px,#191919 40.1px,#464646 55.3px,#898989)"></i><i style="background:linear-gradient(90deg,#727272 0,#909090 10.9px,#b9b9b9 22.8px,#e6e6e6 33.7px,#767676 38px,#191919 41.3px,#464646 56.5px,#858585)"></i><i style="background:linear-gradient(90deg,#6e6e6e 0,#909090 12.1px,#b6b6b6 22.8px,#e8e8e8 34.9px,#989898 38px,#191919 42.5px,#464646 57.7px,#818181)"></i><i style="background:linear-gradient(90deg,#6b6b6b 0,#7f7f7f 7.6px,#979797 15.2px,#b2b2b2 22.8px,#d1d1d1 30.4px,#eaeaea 36.2px,#bababa 38px,#191919 43.8px,#464646 59px,#636363 68.4px,#7d7d7d)"></i><i style="background:linear-gradient(90deg,#686868 0,#7c7c7c 7.6px,#939393 15.2px,#afafaf 22.8px,#cecece 30.4px,#ececec 37.4px,#191919 45px,#464646 60.2px,#5f5f5f 68.4px,#797979)"></i></div>
<span class="t" style="left:597.00px;top:236.98px;font-size:9.00px;color:#000">(A-q4)</span>
<span class="l" style="left:575.20px;top:298.96px;font-size:8.50px;color:#111">0.9558±0.0177</span>
<span class="t" style="left:559.00px;top:312.88px;font-size:9.00px">0</span>
<span class="r" style="left:556.70px;top:304.98px;font-size:9.00px">0</span>
<span class="t" style="left:589.40px;top:312.88px;font-size:9.00px">1</span>
<span class="r" style="left:556.70px;top:280.18px;font-size:9.00px">1</span>
<span class="t" style="left:619.80px;top:312.88px;font-size:9.00px">2</span>
<span class="r" style="left:556.70px;top:255.38px;font-size:9.00px">2</span>
<div class="h g" style="left:559px;top:333px;width:76px;height:62px"><i style="background:linear-gradient(90deg,#2f2f2f 0,#202020 .6px,#202020 7.6px,#606060 15.2px,#606060 23.4px,#7b7b7b 31px,#9f9f9f 38.6px,#9f9f9f 53.2px,#dfdfdf 60.8px,#202020 68.4px,#212121 69px,#4a4a4a)"></i><i style="background:linear-gradient(90deg,#4e4e4e 0,#202020 1.8px,#202020 7.6px,#606060 15.2px,#606060 24.6px,#747474 30.4px,#999 38px,#9f9f9f 39.8px,#9f9f9f 53.2px,#dfdfdf 60.8px,#202020 68.4px,#252525 70.2px,#464646)"></i><i style="background:linear-gradient(90deg,#6d6d6d 0,#202020 3.1px,#202020 7.6px,#606060 15.2px,#606060 25.9px,#707070 30.4px,#959595 38px,#9f9f9f 41.1px,#9f9f9f 53.2px,#dfdfdf 60.8px,#202020 68.4px,#282828 71.5px,#424242)"></i><i style="background:linear-gradient(90deg,#8c8c8c 0,#202020 4.3px,#202020 7.6px,#606060 15.2px,#606060 27.1px,#6b6b6b 30.4px,#909090 38px,#9f9f9f 42.3px,#9f9f9f 53.2px,#dfdfdf 60.8px,#202020 68.4px,#2b2b2b 72.7px,#3e3e3e)"></i><i style="background:linear-gradient(90deg,#ababab 0,#202020 5.5px,#202020 7.6px,#606060 15.2px,#606060 28.3px,#676767 30.4px,#8c8c8c 38px,#9f9f9f 43.5px,#9f9f9f 53.2px,#dfdfdf 60.8px,#202020 68.4px,#2e2e2e 73.9px,#3a3a3a)"></i><i style="background:linear-gradient(90deg,#cacaca 0,#202020 6.7px,#202020 7.6px,#606060 15.2px,#606060 29.5px,#636363 30.4px,#888 38px,#9f9f9f 44.7px,#9f9f9f 53.2px,#dfdfdf 60.8px,#202020 68.4px,#313131 75.1px,#363636)"></i><i style="background:linear-gradient(90deg,#dfdfdf 0,#212121 7.6px,#606060 15.2px,#606060 30.8px,#838383 38px,#868686 38.4px,#9f9f9f 45.6px,#9f9f9f 53.2px,#a1a1a1 53.6px,#ddd 60.8px,#dfdfdf 61.2px,#202020 68.8px,#323232)"></i><i style="background:linear-gradient(90deg,#dfdfdf 0,#bbb 1.6px,#242424 7.6px,#2d2d2d 9.2px,#606060 15.2px,#606060 32px,#7d7d7d 38px,#8a8a8a 39.6px,#9f9f9f 45.6px,#9f9f9f 53.2px,#a4a4a4 54.8px,#d7d7d7 60.8px,#dfdfdf 62.4px,#202020 70px,#2f2f2f)"></i><i style="background:linear-gradient(90deg,#dfdfdf 0,#9f9f9f 2.8px,#272727 7.6px,#383838 10.4px,#606060 15.2px,#606060 33.2px,#777 38px,#8f8f8f 40.8px,#9f9f9f 45.6px,#9f9f9f 53.2px,#a8a8a8 56px,#d0d0d0 60.8px,#dfdfdf 63.6px,#202020 71.2px,#2c2c2c)"></i><i style="background:linear-gradient(90deg,#dfdfdf 0,#848484 4px,#2a2a2a 7.6px,#424242 11.6px,#606060 15.2px,#606060 34.4px,#717171 38px,#939393 42px,#9f9f9f 45.6px,#9f9f9f 53.2px,#acacac 57.2px,#cacaca 60.8px,#dfdfdf 64.8px,#202020 72.4px,#292929)"></i><i style="background:linear-gradient(90deg,#dfdfdf 0,#686868 5.3px,#2d2d2d 7.6px,#4c4c4c 12.9px,#606060 15.2px,#606060 35.7px,#6b6b6b 38px,#979797 43.3px,#9f9f9f 45.6px,#9f9f9f 53.2px,#b0b0b0 58.5px,#c4c4c4 60.8px,#dfdfdf 66.1px,#202020 73.7px,#262626)"></i><i style="background:linear-gradient(90deg,#dfdfdf 0,#4c4c4c 6.5px,#303030 7.6px,#565656 14.1px,#606060 15.2px,#606060 36.9px,#656565 38px,#9b9b9b 44.5px,#9f9f9f 45.6px,#9f9f9f 53.2px,#b4b4b4 59.7px,#bdbdbd 60.8px,#dfdfdf 67.3px,#202020 74.9px,#232323)"></i><i style="background:linear-gradient(90deg,#dfdfdf 0,#dfdfdf .1px,#343434 7.7px,#606060 15.3px,#606060 38px,#9f9f9f 45.7px,#9f9f9f 53.3px,#b8b8b8 60.9px,#dfdfdf 68.5px,#232323)"></i><i style="background:linear-gradient(90deg,#dcdcdc 0,#dfdfdf 1.3px,#525252 7.6px,#3b3b3b 8.9px,#606060 15.2px,#606060 38px,#9f9f9f 45.6px,#9f9f9f 54.5px,#b3b3b3 60.8px,#bfbfbf 62.1px,#dfdfdf 68.4px,#dfdfdf 69.7px,#424242)"></i><i style="background:linear-gradient(90deg,#d9d9d9 0,#dfdfdf 2.6px,#6d6d6d 7.6px,#424242 10.2px,#606060 15.2px,#606060 38px,#9f9f9f 45.6px,#9f9f9f 55.8px,#afafaf 60.8px,#c5c5c5 63.4px,#dfdfdf 68.4px,#dfdfdf 71px,#616161)"></i><i style="background:linear-gradient(90deg,#d6d6d6 0,#dfdfdf 3.8px,#898989 7.6px,#494949 11.4px,#606060 15.2px,#606060 38px,#9f9f9f 45.6px,#9f9f9f 57px,#ababab 60.8px,#cbcbcb 64.6px,#dfdfdf 68.4px,#dfdfdf 72.2px,#808080)"></i><i style="background:linear-gradient(90deg,#d2d2d2 0,#dfdfdf 5px,#a5a5a5 7.6px,#515151 12.6px,#606060 15.2px,#606060 38px,#9f9f9f 45.6px,#9f9f9f 58.2px,#a8a8a8 60.8px,#d2d2d2 65.8px,#dfdfdf 68.4px,#dfdfdf 73.4px,#9e9e9e)"></i><i style="background:linear-gradient(90deg,#cfcfcf 0,#dfdfdf 6.3px,#c1c1c1 7.6px,#585858 13.9px,#606060 15.2px,#606060 38px,#9f9f9f 45.6px,#9f9f9f 59.5px,#a4a4a4 60.8px,#d8d8d8 67.1px,#dfdfdf 68.4px,#dfdfdf 74.7px,#bdbdbd)"></i><i style="background:linear-gradient(90deg,#ccc 0,#dfdfdf 7.5px,#5f5f5f 15.1px,#606060 38px,#9f9f9f 45.6px,#a0a0a0 60.8px,#dfdfdf 68.4px,#dfdfdf 75.9px,#dcdcdc)"></i><i style="background:linear-gradient(90deg,#c6c6c6 0,#cfcfcf 1.1px,#dfdfdf 7.6px,#c3c3c3 8.7px,#565656 15.2px,#565656 22.8px,#606060 23.9px,#606060 38px,#646464 39.1px,#9a9a9a 45.6px,#9f9f9f 46.7px,#9f9f9f 60.8px,#dfdfdf 68.4px,#dfdfdf)"></i><i style="background:linear-gradient(90deg,#bebebe 0,#d2d2d2 2.3px,#dfdfdf 7.6px,#a5a5a5 9.9px,#4c4c4c 15.2px,#4c4c4c 22.8px,#606060 25.1px,#606060 38px,#686868 40.3px,#949494 45.6px,#9f9f9f 47.9px,#9f9f9f 60.8px,#dfdfdf 68.4px,#dfdfdf)"></i><i style="background:linear-gradient(90deg,#b7b7b7 0,#d5d5d5 3.6px,#dfdfdf 7.6px,#868686 11.2px,#424242 15.2px,#424242 22.8px,#606060 26.4px,#606060 38px,#6c6c6c 41.6px,#8e8e8e 45.6px,#9f9f9f 49.2px,#9f9f9f 60.8px,#dfdfdf 68.4px,#dfdfdf)"></i><i style="background:linear-gradient(90deg,#b0b0b0 0,#d8d8d8 4.8px,#dfdfdf 7.6px,#676767 12.4px,#383838 15.2px,#383838 22.8px,#606060 27.6px,#606060 38px,#707070 42.8px,#888 45.6px,#9f9f9f 50.4px,#9f9f9f 60.8px,#dfdfdf 68.4px,#dfdfdf)"></i><i style="background:linear-gradient(90deg,#a9a9a9 0,#dbdbdb 6px,#dfdfdf 7.6px,#484848 13.6px,#2d2d2d 15.2px,#2d2d2d 22.8px,#606060 28.8px,#606060 38px,#757575 44px,#828282 45.6px,#9f9f9f 51.6px,#9f9f9f 60.8px,#dfdfdf 68.4px,#dfdfdf)"></i><i style="background:linear-gradient(90deg,#a2a2a2 0,#dedede 7.2px,#dfdfdf 7.6px,#292929 14.8px,#232323 15.2px,#232323 22.8px,#606060 30px,#606060 38px,#797979 45.2px,#7c7c7c 45.6px,#9f9f9f 52.8px,#9f9f9f 60.8px,#dfdfdf 68.4px,#dfdfdf)"></i><i style="background:linear-gradient(90deg,#9f9f9f 0,#a2a2a2 .9px,#dadada 7.6px,#dfdfdf 8.5px,#353535 15.2px,#272727 16.1px,#272727 23.7px,#606060 30.4px,#606060 38.9px,#777 45.6px,#9c9c9c 53.2px,#9f9f9f 54.1px,#9f9f9f 61.7px,#d8d8d8 68.4px,#d8d8d8)"></i><i style="background:linear-gradient(90deg,#9f9f9f 0,#a5a5a5 2.1px,#d3d3d3 7.6px,#dfdfdf 9.7px,#545454 15.2px,#313131 17.3px,#313131 24.9px,#606060 30.4px,#606060 40.1px,#737373 45.6px,#989898 53.2px,#9f9f9f 55.3px,#9f9f9f 62.9px,#cecece 68.4px,#cecece)"></i><i style="background:linear-gradient(90deg,#9f9f9f 0,#a8a8a8 3.3px,#ccc 7.6px,#dfdfdf 10.9px,#737373 15.2px,#3c3c3c 18.5px,#3c3c3c 26.1px,#606060 30.4px,#606060 41.3px,#6f6f6f 45.6px,#949494 53.2px,#9f9f9f 56.5px,#9f9f9f 64.1px,#c3c3c3 68.4px,#c3c3c3)"></i><i style="background:linear-gradient(90deg,#9f9f9f 0,#ababab 4.5px,#c4c4c4 7.6px,#dfdfdf 12.1px,#929292 15.2px,#464646 19.7px,#464646 27.3px,#606060 30.4px,#606060 42.5px,#6a6a6a 45.6px,#8f8f8f 53.2px,#9f9f9f 57.7px,#9f9f9f 65.3px,#b9b9b9 68.4px,#b9b9b9)"></i><i style="background:linear-gradient(90deg,#9f9f9f 0,#aeaeae 5.8px,#bdbdbd 7.6px,#dfdfdf 13.4px,#b1b1b1 15.2px,#505050 21px,#505050 28.6px,#606060 30.4px,#606060 43.8px,#666 45.6px,#8b8b8b 53.2px,#9f9f9f 59px,#9f9f9f 66.6px,#afafaf 68.4px,#afafaf)"></i><i style="background:linear-gradient(90deg,#9f9f9f 0,#b1b1b1 7px,#b6b6b6 7.6px,#dfdfdf 14.6px,#d0d0d0 15.2px,#5a5a5a 22.2px,#5a5a5a 29.8px,#606060 30.4px,#606060 45px,#878787 53.2px,#9f9f9f 60.2px,#9f9f9f 67.8px,#a5a5a5 68.4px,#a5a5a5)"></i><i style="background:linear-gradient(90deg,#9f9f9f 0,#9f9f9f .6px,#b1b1b1 7.6px,#b6b6b6 8.2px,#dfdfdf 15.2px,#d0d0d0 15.8px,#5a5a5a 22.8px,#5a5a5a 30.4px,#606060 31px,#606060 46.2px,#828282 53.2px,#878787 53.8px,#9f9f9f 60.8px,#9f9f9f)"></i><i style="background:linear-gradient(90deg,#9f9f9f 0,#9f9f9f 1.8px,#aeaeae 7.6px,#bdbdbd 9.4px,#dfdfdf 15.2px,#b1b1b1 17px,#505050 22.8px,#505050 30.4px,#606060 32.2px,#606060 47.4px,#7c7c7c 53.2px,#8b8b8b 55px,#9f9f9f 60.8px,#9f9f9f)"></i><i style="background:linear-gradient(90deg,#9f9f9f 0,#9f9f9f 3.1px,#ababab 7.6px,#c4c4c4 10.7px,#dfdfdf 15.2px,#929292 18.3px,#464646 22.8px,#464646 30.4px,#606060 33.5px,#606060 48.7px,#767676 53.2px,#8f8f8f 56.3px,#9f9f9f 60.8px,#9f9f9f)"></i><i style="background:linear-gradient(90deg,#9f9f9f 0,#9f9f9f 4.3px,#a8a8a8 7.6px,#ccc 11.9px,#dfdfdf 15.2px,#737373 19.5px,#3c3c3c 22.8px,#3c3c3c 30.4px,#606060 34.7px,#606060 49.9px,#707070 53.2px,#949494 57.5px,#9f9f9f 60.8px,#9f9f9f)"></i><i style="background:linear-gradient(90deg,#9f9f9f 0,#9f9f9f 5.5px,#a5a5a5 7.6px,#d3d3d3 13.1px,#dfdfdf 15.2px,#545454 20.7px,#313131 22.8px,#313131 30.4px,#606060 35.9px,#606060 51.1px,#6a6a6a 53.2px,#989898 58.7px,#9f9f9f 60.8px,#9f9f9f)"></i><i style="background:linear-gradient(90deg,#9f9f9f 0,#9f9f9f 6.7px,#a2a2a2 7.6px,#dadada 14.3px,#dfdfdf 15.2px,#353535 21.9px,#272727 22.8px,#272727 30.4px,#606060 37.1px,#606060 52.3px,#646464 53.2px,#9c9c9c 59.9px,#9f9f9f 60.8px,#9f9f9f)"></i><i style="background:linear-gradient(90deg,#9f9f9f 0,#9f9f9f 7.6px,#a1a1a1 8px,#ddd 15.2px,#dfdfdf 15.6px,#212121 23.2px,#212121 30.4px,#606060 38px,#606060 53.2px,#616161 53.6px,#9e9e9e 60.8px,#9f9f9f 61.2px,#9f9f9f)"></i><i style="background:linear-gradient(90deg,#9f9f9f 0,#9f9f9f 7.6px,#a4a4a4 9.2px,#d7d7d7 15.2px,#dfdfdf 16.8px,#484848 22.8px,#242424 24.4px,#242424 30.4px,#2d2d2d 32px,#606060 38px,#606060 53.2px,#666 54.8px,#999 60.8px,#9f9f9f 62.4px,#9f9f9f)"></i><i style="background:linear-gradient(90deg,#9f9f9f 0,#9f9f9f 7.6px,#a8a8a8 10.4px,#d0d0d0 15.2px,#dfdfdf 18px,#676767 22.8px,#272727 25.6px,#272727 30.4px,#383838 33.2px,#606060 38px,#606060 53.2px,#6b6b6b 56px,#949494 60.8px,#9f9f9f 63.6px,#9f9f9f)"></i><i style="background:linear-gradient(90deg,#9f9f9f 0,#9f9f9f 7.6px,#acacac 11.6px,#cacaca 15.2px,#dfdfdf 19.2px,#868686 22.8px,#2a2a2a 26.8px,#2a2a2a 30.4px,#424242 34.4px,#606060 38px,#606060 53.2px,#717171 57.2px,#8e8e8e 60.8px,#9f9f9f 64.8px,#9f9f9f)"></i><i style="background:linear-gradient(90deg,#9f9f9f 0,#9f9f9f 7.6px,#b0b0b0 12.9px,#c4c4c4 15.2px,#dfdfdf 20.5px,#a5a5a5 22.8px,#2d2d2d 28.1px,#2d2d2d 30.4px,#4c4c4c 35.7px,#606060 38px,#606060 53.2px,#767676 58.5px,#898989 60.8px,#9f9f9f 66.1px,#9f9f9f)"></i><i style="background:linear-gradient(90deg,#9f9f9f 0,#9f9f9f 7.6px,#b4b4b4 14.1px,#bdbdbd 15.2px,#dfdfdf 21.7px,#c3c3c3 22.8px,#303030 29.3px,#303030 30.4px,#565656 36.9px,#606060 38px,#606060 53.2px,#7b7b7b 59.7px,#848484 60.8px,#9f9f9f 67.3px,#9f9f9f)"></i><i style="background:linear-gradient(90deg,#9f9f9f 0,#9f9f9f 7.7px,#b8b8b8 15.3px,#dfdfdf 22.9px,#363636 30.4px,#626262 38px,#5f5f5f 38.1px,#606060 53.3px,#9f9f9f 68.5px,#9f9f9f)"></i><i style="background:linear-gradient(90deg,#9f9f9f 0,#9f9f9f 8.9px,#b3b3b3 15.2px,#bfbfbf 16.5px,#dfdfdf 22.8px,#dfdfdf 24.1px,#525252 30.4px,#525252 31.7px,#767676 38px,#545454 39.3px,#545454 45.6px,#606060 46.9px,#606060 54.5px,#7a7a7a 60.8px,#858585 62.1px,#9f9f9f 68.4px,#9f9f9f)"></i><i style="background:linear-gradient(90deg,#9f9f9f 0,#9f9f9f 10.2px,#afafaf 15.2px,#c5c5c5 17.8px,#dfdfdf 22.8px,#dfdfdf 25.4px,#6d6d6d 30.4px,#6d6d6d 33px,#8b8b8b 38px,#4a4a4a 40.6px,#4a4a4a 45.6px,#606060 48.2px,#606060 55.8px,#757575 60.8px,#8a8a8a 63.4px,#9f9f9f 68.4px,#9f9f9f)"></i><i style="background:linear-gradient(90deg,#9f9f9f 0,#9f9f9f 11.4px,#ababab 15.2px,#cbcbcb 19px,#dfdfdf 22.8px,#dfdfdf 26.6px,#898989 30.4px,#898989 34.2px,#9f9f9f 38px,#404040 41.8px,#404040 45.6px,#606060 49.4px,#606060 57px,#707070 60.8px,#8f8f8f 64.6px,#9f9f9f 68.4px,#9f9f9f)"></i><i style="background:linear-gradient(90deg,#9f9f9f 0,#9f9f9f 12.6px,#a8a8a8 15.2px,#d2d2d2 20.2px,#dfdfdf 22.8px,#dfdfdf 27.8px,#a5a5a5 30.4px,#a5a5a5 35.4px,#b4b4b4 38px,#353535 43px,#353535 45.6px,#606060 50.6px,#606060 58.2px,#6a6a6a 60.8px,#959595 65.8px,#9f9f9f 68.4px,#9f9f9f)"></i><i style="background:linear-gradient(90deg,#9f9f9f 0,#9f9f9f 13.9px,#a4a4a4 15.2px,#d8d8d8 21.5px,#dfdfdf 22.8px,#dfdfdf 29.1px,#c1c1c1 30.4px,#c1c1c1 36.7px,#c9c9c9 38px,#2b2b2b 44.3px,#2b2b2b 45.6px,#606060 51.9px,#606060 59.5px,#656565 60.8px,#9a9a9a 67.1px,#9f9f9f 68.4px,#9f9f9f)"></i><i style="background:linear-gradient(90deg,#9f9f9f 0,#a0a0a0 15.2px,#dfdfdf 22.8px,#dfdfdf 30.3px,#dcdcdc 30.4px,#ddd 38px,#212121 45.5px,#606060 53.2px,#606060 60.8px,#9f9f9f 68.4px,#9f9f9f)"></i><i style="background:linear-gradient(90deg,#9b9b9b 0,#9f9f9f 1.1px,#9f9f9f 15.2px,#a2a2a2 16.3px,#d9d9d9 22.8px,#dfdfdf 23.9px,#dfdfdf 38px,#c6c6c6 39.1px,#232323 45.6px,#292929 46.7px,#606060 53.2px,#606060 60.8px,#646464 61.9px,#9b9b9b 68.4px,#9f9f9f 69.5px,#9f9f9f)"></i><i style="background:linear-gradient(90deg,#969696 0,#9f9f9f 2.3px,#9f9f9f 15.2px,#a5a5a5 17.5px,#d1d1d1 22.8px,#dfdfdf 25.1px,#dfdfdf 38px,#aaa 40.3px,#262626 45.6px,#333 47.9px,#606060 53.2px,#606060 60.8px,#696969 63.1px,#969696 68.4px,#9f9f9f 70.7px,#9f9f9f)"></i><i style="background:linear-gradient(90deg,#909090 0,#9f9f9f 3.6px,#9f9f9f 15.2px,#a8a8a8 18.8px,#cacaca 22.8px,#dfdfdf 26.4px,#dfdfdf 38px,#8f8f8f 41.6px,#292929 45.6px,#3e3e3e 49.2px,#606060 53.2px,#606060 60.8px,#6f6f6f 64.4px,#909090 68.4px,#9f9f9f 72px,#9f9f9f)"></i><i style="background:linear-gradient(90deg,#8b8b8b 0,#9f9f9f 4.8px,#9f9f9f 15.2px,#ababab 20px,#c3c3c3 22.8px,#dfdfdf 27.6px,#dfdfdf 38px,#737373 42.8px,#2c2c2c 45.6px,#484848 50.4px,#606060 53.2px,#606060 60.8px,#747474 65.6px,#8b8b8b 68.4px,#9f9f9f 73.2px,#9f9f9f)"></i><i style="background:linear-gradient(90deg,#868686 0,#9f9f9f 6px,#9f9f9f 15.2px,#aeaeae 21.2px,#bcbcbc 22.8px,#dfdfdf 28.8px,#dfdfdf 38px,#575757 44px,#2f2f2f 45.6px,#525252 51.6px,#606060 53.2px,#606060 60.8px,#797979 66.8px,#868686 68.4px,#9f9f9f 74.4px,#9f9f9f)"></i><i style="background:linear-gradient(90deg,#818181 0,#9f9f9f 7.2px,#9f9f9f 15.2px,#b2b2b2 22.4px,#dfdfdf 30px,#dfdfdf 38px,#323232 45.6px,#606060 53.2px,#606060 60.8px,#7e7e7e 68px,#818181 68.4px,#9f9f9f 75.6px,#9f9f9f)"></i><i style="background:linear-gradient(90deg,#7c7c7c 0,#818181 .9px,#9d9d9d 7.6px,#9f9f9f 8.5px,#9f9f9f 16.1px,#b0b0b0 22.8px,#ddd 30.4px,#dfdfdf 31.3px,#dfdfdf 38px,#333 45.6px,#606060 53.2px,#606060 61.7px,#7c7c7c 68.4px,#818181 69.3px,#9d9d9d)"></i><i style="background:linear-gradient(90deg,#777 0,#838383 2.1px,#9a9a9a 7.6px,#9f9f9f 9.7px,#9f9f9f 17.3px,#adadad 22.8px,#dadada 30.4px,#dfdfdf 32.5px,#dfdfdf 38px,#333 45.6px,#606060 53.2px,#606060 62.9px,#777 68.4px,#838383 70.5px,#9a9a9a)"></i><i style="background:linear-gradient(90deg,#727272 0,#858585 3.3px,#979797 7.6px,#9f9f9f 10.9px,#9f9f9f 18.5px,#aaa 22.8px,#d7d7d7 30.4px,#dfdfdf 33.7px,#dfdfdf 38px,#333 45.6px,#606060 53.2px,#606060 64.1px,#727272 68.4px,#858585 71.7px,#979797)"></i><i style="background:linear-gradient(90deg,#6c6c6c 0,#878787 4.5px,#949494 7.6px,#9f9f9f 12.1px,#9f9f9f 19.7px,#a7a7a7 22.8px,#d4d4d4 30.4px,#dfdfdf 34.9px,#dfdfdf 38px,#333 45.6px,#606060 53.2px,#606060 65.3px,#6c6c6c 68.4px,#878787 72.9px,#949494)"></i><i style="background:linear-gradient(90deg,#676767 0,#898989 5.8px,#919191 7.6px,#9f9f9f 13.4px,#9f9f9f 21px,#a4a4a4 22.8px,#d1d1d1 30.4px,#dfdfdf 36.2px,#dfdfdf 38px,#333 45.6px,#606060 53.2px,#606060 66.6px,#676767 68.4px,#898989 74.2px,#919191)"></i><i style="background:linear-gradient(90deg,#626262 0,#8e8e8e 7.6px,#9f9f9f 14.6px,#9f9f9f 22.2px,#a1a1a1 22.8px,#cecece 30.4px,#dfdfdf 37.4px,#dfdfdf 38px,#333 45.6px,#606060 53.2px,#606060 67.8px,#8e8e8e)"></i></div>
<span class="t" style="left:597.00px;top:322.98px;font-size:9.00px;color:#000">(A-c4)</span>
<span class="l" style="left:575.20px;top:385.80px;font-size:8.50px;color:#111">0.4949±0.0099</span>
<span class="t" style="left:559.00px;top:399.48px;font-size:9.00px">0</span>
<span class="r" style="left:556.70px;top:391.58px;font-size:9.00px">0</span>
<span class="t" style="left:589.40px;top:399.48px;font-size:9.00px">1</span>
<span class="r" style="left:556.70px;top:366.78px;font-size:9.00px">1</span>
<span class="t" style="left:619.80px;top:399.48px;font-size:9.00px">2</span>
<span class="r" style="left:556.70px;top:341.98px;font-size:9.00px">2</span>
<span class="t" style="left:597.00px;top:17.38px;font-size:9.00px;color:#000">Flashing</span>
<span class="t" style="left:597.00px;top:223.58px;font-size:9.00px;color:#000">Flashing</span>
<span class="l" style="left:637.20px;top:64.78px;font-size:9.00px;color:#000">Quantum</span>
<span class="l" style="left:637.20px;top:151.78px;font-size:9.00px;color:#000">Classical</span>
<span class="l" style="left:637.20px;top:271.78px;font-size:9.00px;color:#000">Quantum</span>
<span class="l" style="left:637.20px;top:357.78px;font-size:9.00px;color:#000">Classical</span>
</body></html>
